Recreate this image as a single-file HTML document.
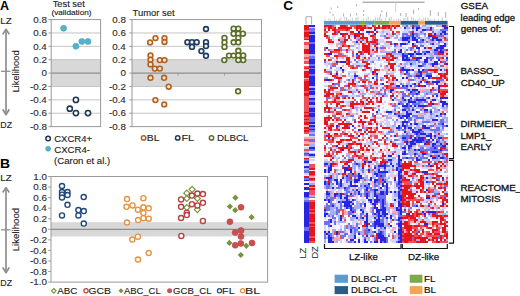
<!DOCTYPE html>
<html><head><meta charset="utf-8"><style>
html,body{margin:0;padding:0;background:#fff;width:520px;height:296px;overflow:hidden}
svg{display:block}
text{font-family:"Liberation Sans", sans-serif}
</style></head><body>
<svg width="520" height="296" viewBox="0 0 520 296" font-family='"Liberation Sans", sans-serif'><text x="0.09" y="10.2" font-size="12.5" textLength="9.05" lengthAdjust="spacingAndGlyphs" font-weight="bold" fill="#000" stroke="#000" stroke-width="0" >A</text>
<text x="-0.11" y="167.5" font-size="12.5" textLength="10.06" lengthAdjust="spacingAndGlyphs" font-weight="bold" fill="#000" stroke="#000" stroke-width="0" >B</text>
<text x="283.26" y="10.4" font-size="12.5" textLength="9.81" lengthAdjust="spacingAndGlyphs" font-weight="bold" fill="#000" stroke="#000" stroke-width="0" >C</text>
<line x1="6.0" y1="29.4" x2="6.0" y2="114.6" stroke="#8e8e8e" stroke-width="1.7"/>
<path d="M2.7 34.4L6.0 29.299999999999997L9.3 34.4" fill="none" stroke="#8e8e8e" stroke-width="1.7" stroke-linejoin="round"/>
<path d="M2.7 109.2L6.0 114.69999999999999L9.3 109.2" fill="none" stroke="#8e8e8e" stroke-width="1.7" stroke-linejoin="round"/>
<line x1="1.0" y1="71.3" x2="10.4" y2="71.3" stroke="#8e8e8e" stroke-width="1.3"/>
<text x="0.22" y="23.5" font-size="9.3" textLength="11.39" lengthAdjust="spacingAndGlyphs" font-weight="normal" fill="#1a1a1a" stroke="#1a1a1a" stroke-width="0.12" >LZ</text>
<text x="0.29" y="128.0" font-size="9.3" textLength="11.80" lengthAdjust="spacingAndGlyphs" font-weight="normal" fill="#1a1a1a" stroke="#1a1a1a" stroke-width="0.12" >DZ</text>
<text x="-21.10" y="0" font-size="9.3" textLength="42.2" lengthAdjust="spacingAndGlyphs" fill="#1a1a1a" stroke="#1a1a1a" stroke-width="0.1" transform="translate(19.2 71.5) rotate(-90)">Likelihood</text>
<line x1="6.0" y1="187.7" x2="6.0" y2="272.6" stroke="#8e8e8e" stroke-width="1.7"/>
<path d="M2.7 192.5L6.0 187.6L9.3 192.5" fill="none" stroke="#8e8e8e" stroke-width="1.7" stroke-linejoin="round"/>
<path d="M2.7 267.4L6.0 272.70000000000005L9.3 267.4" fill="none" stroke="#8e8e8e" stroke-width="1.7" stroke-linejoin="round"/>
<line x1="1.0" y1="229.8" x2="10.4" y2="229.8" stroke="#8e8e8e" stroke-width="1.3"/>
<text x="0.22" y="181.3" font-size="9.3" textLength="11.39" lengthAdjust="spacingAndGlyphs" font-weight="normal" fill="#1a1a1a" stroke="#1a1a1a" stroke-width="0.12" >LZ</text>
<text x="0.29" y="286.4" font-size="9.3" textLength="11.80" lengthAdjust="spacingAndGlyphs" font-weight="normal" fill="#1a1a1a" stroke="#1a1a1a" stroke-width="0.12" >DZ</text>
<text x="-21.70" y="0" font-size="9.3" textLength="43.4" lengthAdjust="spacingAndGlyphs" fill="#1a1a1a" stroke="#1a1a1a" stroke-width="0.1" transform="translate(19.2 229.6) rotate(-90)">Likelihood</text>
<text x="52.67" y="7.1" font-size="9.0" textLength="32.09" lengthAdjust="spacingAndGlyphs" font-weight="normal" fill="#1a1a1a" stroke="#1a1a1a" stroke-width="0.12" >Test set</text>
<text x="51.41" y="15.4" font-size="7.0" textLength="40.09" lengthAdjust="spacingAndGlyphs" font-weight="normal" fill="#1a1a1a" stroke="#1a1a1a" stroke-width="0.12" >(validation)</text>
<text x="132.56" y="16.3" font-size="9.3" textLength="42.02" lengthAdjust="spacingAndGlyphs" font-weight="normal" fill="#1a1a1a" stroke="#1a1a1a" stroke-width="0.12" >Tumor set</text>
<rect x="51.2" y="59.71999999999999" width="49.39999999999999" height="26.759999999999998" fill="#d8d8d8" />
<line x1="51.2" y1="32.959999999999994" x2="100.6" y2="32.959999999999994" stroke="#c4c4c4" stroke-width="1"/>
<line x1="51.2" y1="46.33999999999999" x2="100.6" y2="46.33999999999999" stroke="#c4c4c4" stroke-width="1"/>
<line x1="51.2" y1="59.71999999999999" x2="100.6" y2="59.71999999999999" stroke="#c4c4c4" stroke-width="1"/>
<line x1="51.2" y1="86.47999999999999" x2="100.6" y2="86.47999999999999" stroke="#c4c4c4" stroke-width="1"/>
<line x1="51.2" y1="99.86" x2="100.6" y2="99.86" stroke="#c4c4c4" stroke-width="1"/>
<line x1="51.2" y1="113.24" x2="100.6" y2="113.24" stroke="#c4c4c4" stroke-width="1"/>
<line x1="51.2" y1="73.1" x2="100.6" y2="73.1" stroke="#8e8e8e" stroke-width="1.3"/>
<rect x="51.2" y="19.579999999999984" width="49.39999999999999" height="107.04000000000002" fill="none" stroke="#9a9a9a" stroke-width="1"/>
<line x1="48.5" y1="19.579999999999984" x2="51.2" y2="19.579999999999984" stroke="#9a9a9a" stroke-width="1"/>
<line x1="48.5" y1="32.95999999999999" x2="51.2" y2="32.95999999999999" stroke="#9a9a9a" stroke-width="1"/>
<line x1="48.5" y1="46.33999999999999" x2="51.2" y2="46.33999999999999" stroke="#9a9a9a" stroke-width="1"/>
<line x1="48.5" y1="59.72" x2="51.2" y2="59.72" stroke="#9a9a9a" stroke-width="1"/>
<line x1="48.5" y1="73.1" x2="51.2" y2="73.1" stroke="#9a9a9a" stroke-width="1"/>
<line x1="48.5" y1="86.47999999999999" x2="51.2" y2="86.47999999999999" stroke="#9a9a9a" stroke-width="1"/>
<line x1="48.5" y1="99.86000000000001" x2="51.2" y2="99.86000000000001" stroke="#9a9a9a" stroke-width="1"/>
<line x1="48.5" y1="113.24000000000001" x2="51.2" y2="113.24000000000001" stroke="#9a9a9a" stroke-width="1"/>
<line x1="48.5" y1="126.62" x2="51.2" y2="126.62" stroke="#9a9a9a" stroke-width="1"/>
<rect x="132.0" y="59.71999999999999" width="129.5" height="26.759999999999998" fill="#d8d8d8" />
<line x1="132.0" y1="32.959999999999994" x2="261.5" y2="32.959999999999994" stroke="#c4c4c4" stroke-width="1"/>
<line x1="132.0" y1="46.33999999999999" x2="261.5" y2="46.33999999999999" stroke="#c4c4c4" stroke-width="1"/>
<line x1="132.0" y1="59.71999999999999" x2="261.5" y2="59.71999999999999" stroke="#c4c4c4" stroke-width="1"/>
<line x1="132.0" y1="86.47999999999999" x2="261.5" y2="86.47999999999999" stroke="#c4c4c4" stroke-width="1"/>
<line x1="132.0" y1="99.86" x2="261.5" y2="99.86" stroke="#c4c4c4" stroke-width="1"/>
<line x1="132.0" y1="113.24" x2="261.5" y2="113.24" stroke="#c4c4c4" stroke-width="1"/>
<line x1="132.0" y1="73.1" x2="261.5" y2="73.1" stroke="#8e8e8e" stroke-width="1.3"/>
<rect x="132.0" y="19.579999999999984" width="129.5" height="107.04000000000002" fill="none" stroke="#9a9a9a" stroke-width="1"/>
<line x1="129.3" y1="19.579999999999984" x2="132.0" y2="19.579999999999984" stroke="#9a9a9a" stroke-width="1"/>
<line x1="129.3" y1="32.95999999999999" x2="132.0" y2="32.95999999999999" stroke="#9a9a9a" stroke-width="1"/>
<line x1="129.3" y1="46.33999999999999" x2="132.0" y2="46.33999999999999" stroke="#9a9a9a" stroke-width="1"/>
<line x1="129.3" y1="59.72" x2="132.0" y2="59.72" stroke="#9a9a9a" stroke-width="1"/>
<line x1="129.3" y1="73.1" x2="132.0" y2="73.1" stroke="#9a9a9a" stroke-width="1"/>
<line x1="129.3" y1="86.47999999999999" x2="132.0" y2="86.47999999999999" stroke="#9a9a9a" stroke-width="1"/>
<line x1="129.3" y1="99.86000000000001" x2="132.0" y2="99.86000000000001" stroke="#9a9a9a" stroke-width="1"/>
<line x1="129.3" y1="113.24000000000001" x2="132.0" y2="113.24000000000001" stroke="#9a9a9a" stroke-width="1"/>
<line x1="129.3" y1="126.62" x2="132.0" y2="126.62" stroke="#9a9a9a" stroke-width="1"/>
<text x="33.25" y="22.83" font-size="9.3" textLength="13.64" lengthAdjust="spacingAndGlyphs" font-weight="normal" fill="#2a2a2a" stroke="#2a2a2a" stroke-width="0.12" >0.8</text>
<text x="33.30" y="36.21" font-size="9.3" textLength="13.64" lengthAdjust="spacingAndGlyphs" font-weight="normal" fill="#2a2a2a" stroke="#2a2a2a" stroke-width="0.12" >0.6</text>
<text x="33.16" y="49.59" font-size="9.3" textLength="13.64" lengthAdjust="spacingAndGlyphs" font-weight="normal" fill="#2a2a2a" stroke="#2a2a2a" stroke-width="0.12" >0.4</text>
<text x="33.35" y="62.97" font-size="9.3" textLength="13.64" lengthAdjust="spacingAndGlyphs" font-weight="normal" fill="#2a2a2a" stroke="#2a2a2a" stroke-width="0.12" >0.2</text>
<text x="41.45" y="76.35" font-size="9.3" textLength="5.46" lengthAdjust="spacingAndGlyphs" font-weight="normal" fill="#2a2a2a" stroke="#2a2a2a" stroke-width="0.12" >0</text>
<text x="30.11" y="89.73" font-size="9.3" textLength="16.91" lengthAdjust="spacingAndGlyphs" font-weight="normal" fill="#2a2a2a" stroke="#2a2a2a" stroke-width="0.12" >-0.2</text>
<text x="29.92" y="103.11" font-size="9.3" textLength="16.91" lengthAdjust="spacingAndGlyphs" font-weight="normal" fill="#2a2a2a" stroke="#2a2a2a" stroke-width="0.12" >-0.4</text>
<text x="30.07" y="116.49" font-size="9.3" textLength="16.91" lengthAdjust="spacingAndGlyphs" font-weight="normal" fill="#2a2a2a" stroke="#2a2a2a" stroke-width="0.12" >-0.6</text>
<text x="30.02" y="129.87" font-size="9.3" textLength="16.91" lengthAdjust="spacingAndGlyphs" font-weight="normal" fill="#2a2a2a" stroke="#2a2a2a" stroke-width="0.12" >-0.8</text>
<text x="112.25" y="22.83" font-size="9.3" textLength="13.64" lengthAdjust="spacingAndGlyphs" font-weight="normal" fill="#2a2a2a" stroke="#2a2a2a" stroke-width="0.12" >0.8</text>
<text x="112.30" y="36.21" font-size="9.3" textLength="13.64" lengthAdjust="spacingAndGlyphs" font-weight="normal" fill="#2a2a2a" stroke="#2a2a2a" stroke-width="0.12" >0.6</text>
<text x="112.16" y="49.59" font-size="9.3" textLength="13.64" lengthAdjust="spacingAndGlyphs" font-weight="normal" fill="#2a2a2a" stroke="#2a2a2a" stroke-width="0.12" >0.4</text>
<text x="112.35" y="62.97" font-size="9.3" textLength="13.64" lengthAdjust="spacingAndGlyphs" font-weight="normal" fill="#2a2a2a" stroke="#2a2a2a" stroke-width="0.12" >0.2</text>
<text x="120.45" y="76.35" font-size="9.3" textLength="5.46" lengthAdjust="spacingAndGlyphs" font-weight="normal" fill="#2a2a2a" stroke="#2a2a2a" stroke-width="0.12" >0</text>
<text x="109.11" y="89.73" font-size="9.3" textLength="16.91" lengthAdjust="spacingAndGlyphs" font-weight="normal" fill="#2a2a2a" stroke="#2a2a2a" stroke-width="0.12" >-0.2</text>
<text x="108.92" y="103.11" font-size="9.3" textLength="16.91" lengthAdjust="spacingAndGlyphs" font-weight="normal" fill="#2a2a2a" stroke="#2a2a2a" stroke-width="0.12" >-0.4</text>
<text x="109.07" y="116.49" font-size="9.3" textLength="16.91" lengthAdjust="spacingAndGlyphs" font-weight="normal" fill="#2a2a2a" stroke="#2a2a2a" stroke-width="0.12" >-0.6</text>
<text x="109.02" y="129.87" font-size="9.3" textLength="16.91" lengthAdjust="spacingAndGlyphs" font-weight="normal" fill="#2a2a2a" stroke="#2a2a2a" stroke-width="0.12" >-0.8</text>
<line x1="178" y1="73.1" x2="178" y2="75.6" stroke="#9a9a9a" stroke-width="1"/>
<line x1="224.5" y1="73.1" x2="224.5" y2="75.6" stroke="#9a9a9a" stroke-width="1"/>
<circle cx="63.6" cy="28.3" r="3.0" fill="#52b4cc" stroke="#45a3bb" stroke-width="0.6"/>
<circle cx="81.8" cy="41.5" r="3.0" fill="#52b4cc" stroke="#45a3bb" stroke-width="0.6"/>
<circle cx="88" cy="41.5" r="3.0" fill="#52b4cc" stroke="#45a3bb" stroke-width="0.6"/>
<circle cx="75.9" cy="46.2" r="3.0" fill="#52b4cc" stroke="#45a3bb" stroke-width="0.6"/>
<circle cx="75.9" cy="99.9" r="2.6" fill="#fff" stroke="#1b3553" stroke-width="1.55"/>
<circle cx="69.8" cy="108.7" r="2.6" fill="#fff" stroke="#1b3553" stroke-width="1.55"/>
<circle cx="75.9" cy="113.1" r="2.6" fill="#fff" stroke="#1b3553" stroke-width="1.55"/>
<circle cx="88" cy="113.1" r="2.6" fill="#fff" stroke="#1b3553" stroke-width="1.55"/>
<circle cx="150.1" cy="42.4" r="2.4" fill="#fde9d4" stroke="#b3611e" stroke-width="1.6"/>
<circle cx="155.5" cy="38.1" r="2.4" fill="#fde9d4" stroke="#b3611e" stroke-width="1.6"/>
<circle cx="164.5" cy="38.1" r="2.4" fill="#fde9d4" stroke="#b3611e" stroke-width="1.6"/>
<circle cx="164.5" cy="42" r="2.4" fill="#fde9d4" stroke="#b3611e" stroke-width="1.6"/>
<circle cx="150.5" cy="55.4" r="2.4" fill="#fde9d4" stroke="#b3611e" stroke-width="1.6"/>
<circle cx="150.5" cy="59.7" r="2.4" fill="#fde9d4" stroke="#b3611e" stroke-width="1.6"/>
<circle cx="150.5" cy="64.4" r="2.4" fill="#fde9d4" stroke="#b3611e" stroke-width="1.6"/>
<circle cx="159.8" cy="60.1" r="2.4" fill="#fde9d4" stroke="#b3611e" stroke-width="1.6"/>
<circle cx="164.5" cy="60.1" r="2.4" fill="#fde9d4" stroke="#b3611e" stroke-width="1.6"/>
<circle cx="154.8" cy="68.6" r="2.4" fill="#fde9d4" stroke="#b3611e" stroke-width="1.6"/>
<circle cx="159.8" cy="68.6" r="2.4" fill="#fde9d4" stroke="#b3611e" stroke-width="1.6"/>
<circle cx="150.5" cy="77.8" r="2.4" fill="#fde9d4" stroke="#b3611e" stroke-width="1.6"/>
<circle cx="164.1" cy="77.8" r="2.4" fill="#fde9d4" stroke="#b3611e" stroke-width="1.6"/>
<circle cx="168.7" cy="86.7" r="2.4" fill="#fde9d4" stroke="#b3611e" stroke-width="1.6"/>
<circle cx="155.4" cy="100.1" r="2.4" fill="#fde9d4" stroke="#b3611e" stroke-width="1.6"/>
<circle cx="164.2" cy="104.4" r="2.4" fill="#fde9d4" stroke="#b3611e" stroke-width="1.6"/>
<circle cx="206" cy="29" r="2.4" fill="#eef3fa" stroke="#1f3a5c" stroke-width="1.6"/>
<circle cx="187.4" cy="42.2" r="2.4" fill="#eef3fa" stroke="#1f3a5c" stroke-width="1.6"/>
<circle cx="192" cy="42.2" r="2.4" fill="#eef3fa" stroke="#1f3a5c" stroke-width="1.6"/>
<circle cx="196.7" cy="42.2" r="2.4" fill="#eef3fa" stroke="#1f3a5c" stroke-width="1.6"/>
<circle cx="192" cy="46.9" r="2.4" fill="#eef3fa" stroke="#1f3a5c" stroke-width="1.6"/>
<circle cx="206" cy="42.2" r="2.4" fill="#eef3fa" stroke="#1f3a5c" stroke-width="1.6"/>
<circle cx="206" cy="46.1" r="2.4" fill="#eef3fa" stroke="#1f3a5c" stroke-width="1.6"/>
<circle cx="201.4" cy="51.1" r="2.4" fill="#eef3fa" stroke="#1f3a5c" stroke-width="1.6"/>
<circle cx="206" cy="55.8" r="2.4" fill="#eef3fa" stroke="#1f3a5c" stroke-width="1.6"/>
<circle cx="233.6" cy="28.6" r="2.4" fill="#f6f8e6" stroke="#5a6e2c" stroke-width="1.6"/>
<circle cx="238.3" cy="28.6" r="2.4" fill="#f6f8e6" stroke="#5a6e2c" stroke-width="1.6"/>
<circle cx="233.6" cy="33.7" r="2.4" fill="#f6f8e6" stroke="#5a6e2c" stroke-width="1.6"/>
<circle cx="238.3" cy="33.7" r="2.4" fill="#f6f8e6" stroke="#5a6e2c" stroke-width="1.6"/>
<circle cx="242.9" cy="33.7" r="2.4" fill="#f6f8e6" stroke="#5a6e2c" stroke-width="1.6"/>
<circle cx="238.3" cy="37.9" r="2.4" fill="#f6f8e6" stroke="#5a6e2c" stroke-width="1.6"/>
<circle cx="224.5" cy="37.9" r="2.4" fill="#f6f8e6" stroke="#5a6e2c" stroke-width="1.6"/>
<circle cx="224.5" cy="42.4" r="2.4" fill="#f6f8e6" stroke="#5a6e2c" stroke-width="1.6"/>
<circle cx="233.6" cy="42.3" r="2.4" fill="#f6f8e6" stroke="#5a6e2c" stroke-width="1.6"/>
<circle cx="238.3" cy="42.3" r="2.4" fill="#f6f8e6" stroke="#5a6e2c" stroke-width="1.6"/>
<circle cx="224.5" cy="46.9" r="2.4" fill="#f6f8e6" stroke="#5a6e2c" stroke-width="1.6"/>
<circle cx="238.3" cy="50.8" r="2.4" fill="#f6f8e6" stroke="#5a6e2c" stroke-width="1.6"/>
<circle cx="229" cy="55.6" r="2.4" fill="#f6f8e6" stroke="#5a6e2c" stroke-width="1.6"/>
<circle cx="233.6" cy="55.6" r="2.4" fill="#f6f8e6" stroke="#5a6e2c" stroke-width="1.6"/>
<circle cx="238.3" cy="55.4" r="2.4" fill="#f6f8e6" stroke="#5a6e2c" stroke-width="1.6"/>
<circle cx="243.2" cy="55.4" r="2.4" fill="#f6f8e6" stroke="#5a6e2c" stroke-width="1.6"/>
<circle cx="224.3" cy="60.1" r="2.4" fill="#f6f8e6" stroke="#5a6e2c" stroke-width="1.6"/>
<circle cx="238.3" cy="60.1" r="2.4" fill="#f6f8e6" stroke="#5a6e2c" stroke-width="1.6"/>
<circle cx="243.2" cy="60.1" r="2.4" fill="#f6f8e6" stroke="#5a6e2c" stroke-width="1.6"/>
<circle cx="238.1" cy="91.3" r="2.4" fill="#f6f8e6" stroke="#5a6e2c" stroke-width="1.6"/>
<circle cx="48.1" cy="138.5" r="2.25" fill="#fff" stroke="#1b3553" stroke-width="1.5"/>
<text x="54.22" y="141.6" font-size="9.3" textLength="37.84" lengthAdjust="spacingAndGlyphs" font-weight="normal" fill="#1a1a1a" stroke="#1a1a1a" stroke-width="0.12" >CXCR4+</text>
<circle cx="48.1" cy="148.8" r="2.8" fill="#56b3c6"/>
<text x="54.22" y="152.7" font-size="9.3" textLength="35.79" lengthAdjust="spacingAndGlyphs" font-weight="normal" fill="#1a1a1a" stroke="#1a1a1a" stroke-width="0.12" >CXCR4-</text>
<text x="54.12" y="164.1" font-size="9.3" textLength="56.06" lengthAdjust="spacingAndGlyphs" font-weight="normal" fill="#1a1a1a" stroke="#1a1a1a" stroke-width="0.12" >(Caron et al.)</text>
<circle cx="143.6" cy="137.9" r="2.2" fill="#fff" stroke="#b3611e" stroke-width="1.5"/>
<text x="146.87" y="141.2" font-size="9.3" textLength="12.67" lengthAdjust="spacingAndGlyphs" font-weight="normal" fill="#1a1a1a" stroke="#1a1a1a" stroke-width="0.12" >BL</text>
<circle cx="177.7" cy="137.9" r="2.2" fill="#fff" stroke="#1f3a5c" stroke-width="1.5"/>
<text x="181.42" y="141.2" font-size="9.3" textLength="12.83" lengthAdjust="spacingAndGlyphs" font-weight="normal" fill="#1a1a1a" stroke="#1a1a1a" stroke-width="0.12" >FL</text>
<circle cx="211.5" cy="137.9" r="2.2" fill="#fff" stroke="#5a6e2c" stroke-width="1.5"/>
<text x="216.92" y="141.2" font-size="9.3" textLength="31.56" lengthAdjust="spacingAndGlyphs" font-weight="normal" fill="#1a1a1a" stroke="#1a1a1a" stroke-width="0.12" >DLBCL</text>
<rect x="51.0" y="222.17200000000003" width="216.60000000000002" height="14.255999999999972" fill="#d8d8d8" />
<line x1="51.0" y1="229.3" x2="267.6" y2="229.3" stroke="#8e8e8e" stroke-width="1.3"/>
<rect x="51.0" y="176.5" width="216.60000000000002" height="105.60000000000002" fill="none" stroke="#9a9a9a" stroke-width="1"/>
<line x1="48.2" y1="176.5" x2="51.0" y2="176.5" stroke="#9a9a9a" stroke-width="1"/>
<line x1="48.2" y1="187.06" x2="51.0" y2="187.06" stroke="#9a9a9a" stroke-width="1"/>
<line x1="48.2" y1="197.62" x2="51.0" y2="197.62" stroke="#9a9a9a" stroke-width="1"/>
<line x1="48.2" y1="208.18" x2="51.0" y2="208.18" stroke="#9a9a9a" stroke-width="1"/>
<line x1="48.2" y1="218.74" x2="51.0" y2="218.74" stroke="#9a9a9a" stroke-width="1"/>
<line x1="48.2" y1="229.3" x2="51.0" y2="229.3" stroke="#9a9a9a" stroke-width="1"/>
<line x1="48.2" y1="239.86" x2="51.0" y2="239.86" stroke="#9a9a9a" stroke-width="1"/>
<line x1="48.2" y1="250.42000000000002" x2="51.0" y2="250.42000000000002" stroke="#9a9a9a" stroke-width="1"/>
<line x1="48.2" y1="260.98" x2="51.0" y2="260.98" stroke="#9a9a9a" stroke-width="1"/>
<line x1="48.2" y1="271.54" x2="51.0" y2="271.54" stroke="#9a9a9a" stroke-width="1"/>
<line x1="48.2" y1="282.1" x2="51.0" y2="282.1" stroke="#9a9a9a" stroke-width="1"/>
<text x="33.25" y="179.75" font-size="9.3" textLength="13.64" lengthAdjust="spacingAndGlyphs" font-weight="normal" fill="#2a2a2a" stroke="#2a2a2a" stroke-width="0.12" >1.0</text>
<text x="33.25" y="190.31" font-size="9.3" textLength="13.64" lengthAdjust="spacingAndGlyphs" font-weight="normal" fill="#2a2a2a" stroke="#2a2a2a" stroke-width="0.12" >0.8</text>
<text x="33.30" y="200.87" font-size="9.3" textLength="13.64" lengthAdjust="spacingAndGlyphs" font-weight="normal" fill="#2a2a2a" stroke="#2a2a2a" stroke-width="0.12" >0.6</text>
<text x="33.16" y="211.43" font-size="9.3" textLength="13.64" lengthAdjust="spacingAndGlyphs" font-weight="normal" fill="#2a2a2a" stroke="#2a2a2a" stroke-width="0.12" >0.4</text>
<text x="33.35" y="221.99" font-size="9.3" textLength="13.64" lengthAdjust="spacingAndGlyphs" font-weight="normal" fill="#2a2a2a" stroke="#2a2a2a" stroke-width="0.12" >0.2</text>
<text x="41.45" y="232.55" font-size="9.3" textLength="5.46" lengthAdjust="spacingAndGlyphs" font-weight="normal" fill="#2a2a2a" stroke="#2a2a2a" stroke-width="0.12" >0</text>
<text x="30.11" y="243.11" font-size="9.3" textLength="16.91" lengthAdjust="spacingAndGlyphs" font-weight="normal" fill="#2a2a2a" stroke="#2a2a2a" stroke-width="0.12" >-0.2</text>
<text x="29.92" y="253.67" font-size="9.3" textLength="16.91" lengthAdjust="spacingAndGlyphs" font-weight="normal" fill="#2a2a2a" stroke="#2a2a2a" stroke-width="0.12" >-0.4</text>
<text x="30.07" y="264.23" font-size="9.3" textLength="16.91" lengthAdjust="spacingAndGlyphs" font-weight="normal" fill="#2a2a2a" stroke="#2a2a2a" stroke-width="0.12" >-0.6</text>
<text x="30.02" y="274.79" font-size="9.3" textLength="16.91" lengthAdjust="spacingAndGlyphs" font-weight="normal" fill="#2a2a2a" stroke="#2a2a2a" stroke-width="0.12" >-0.8</text>
<text x="30.02" y="285.35" font-size="9.3" textLength="16.91" lengthAdjust="spacingAndGlyphs" font-weight="normal" fill="#2a2a2a" stroke="#2a2a2a" stroke-width="0.12" >-1.0</text>
<circle cx="62" cy="186" r="2.55" fill="#fff" stroke="#1f497d" stroke-width="1.4"/>
<circle cx="62" cy="192" r="2.55" fill="#fff" stroke="#1f497d" stroke-width="1.4"/>
<circle cx="62" cy="194.7" r="2.55" fill="#fff" stroke="#1f497d" stroke-width="1.4"/>
<circle cx="62" cy="197.5" r="2.55" fill="#fff" stroke="#1f497d" stroke-width="1.4"/>
<circle cx="67.5" cy="192" r="2.55" fill="#fff" stroke="#1f497d" stroke-width="1.4"/>
<circle cx="67.5" cy="195" r="2.55" fill="#fff" stroke="#1f497d" stroke-width="1.4"/>
<circle cx="83.7" cy="197" r="2.55" fill="#fff" stroke="#1f497d" stroke-width="1.4"/>
<circle cx="67.5" cy="204.8" r="2.55" fill="#fff" stroke="#1f497d" stroke-width="1.4"/>
<circle cx="62" cy="215.4" r="2.55" fill="#fff" stroke="#1f497d" stroke-width="1.4"/>
<circle cx="78.4" cy="210.1" r="2.55" fill="#fff" stroke="#1f497d" stroke-width="1.4"/>
<circle cx="78.4" cy="215.4" r="2.55" fill="#fff" stroke="#1f497d" stroke-width="1.4"/>
<circle cx="83.8" cy="211.1" r="2.55" fill="#fff" stroke="#1f497d" stroke-width="1.4"/>
<circle cx="83.8" cy="223.6" r="2.55" fill="#fff" stroke="#1f497d" stroke-width="1.4"/>
<circle cx="127" cy="199.1" r="2.55" fill="#fff" stroke="#e59445" stroke-width="1.4"/>
<circle cx="143.4" cy="198.2" r="2.55" fill="#fff" stroke="#e59445" stroke-width="1.4"/>
<circle cx="126.5" cy="206.8" r="2.55" fill="#fff" stroke="#e59445" stroke-width="1.4"/>
<circle cx="132.5" cy="205.4" r="2.55" fill="#fff" stroke="#e59445" stroke-width="1.4"/>
<circle cx="137.9" cy="209.7" r="2.55" fill="#fff" stroke="#e59445" stroke-width="1.4"/>
<circle cx="143.4" cy="207.3" r="2.55" fill="#fff" stroke="#e59445" stroke-width="1.4"/>
<circle cx="148.7" cy="208.3" r="2.55" fill="#fff" stroke="#e59445" stroke-width="1.4"/>
<circle cx="143.4" cy="213" r="2.55" fill="#fff" stroke="#e59445" stroke-width="1.4"/>
<circle cx="138.1" cy="220.1" r="2.55" fill="#fff" stroke="#e59445" stroke-width="1.4"/>
<circle cx="143.4" cy="218.2" r="2.55" fill="#fff" stroke="#e59445" stroke-width="1.4"/>
<circle cx="148.7" cy="218.7" r="2.55" fill="#fff" stroke="#e59445" stroke-width="1.4"/>
<circle cx="127" cy="222.5" r="2.55" fill="#fff" stroke="#e59445" stroke-width="1.4"/>
<circle cx="132.3" cy="239.5" r="2.55" fill="#fff" stroke="#e59445" stroke-width="1.4"/>
<circle cx="137.9" cy="236.7" r="2.55" fill="#fff" stroke="#e59445" stroke-width="1.4"/>
<circle cx="148.7" cy="253" r="2.55" fill="#fff" stroke="#e59445" stroke-width="1.4"/>
<circle cx="138" cy="259.5" r="2.55" fill="#fff" stroke="#e59445" stroke-width="1.4"/>
<path d="M186.8 190.2L189.8 193.2L186.8 196.2L183.8 193.2Z" fill="#fff" stroke="#77933c" stroke-width="1.2"/>
<path d="M192.1 186.3L195.1 189.3L192.1 192.3L189.1 189.3Z" fill="#fff" stroke="#77933c" stroke-width="1.2"/>
<path d="M186.8 195.5L189.8 198.5L186.8 201.5L183.8 198.5Z" fill="#fff" stroke="#77933c" stroke-width="1.2"/>
<path d="M197.4 195.5L200.4 198.5L197.4 201.5L194.4 198.5Z" fill="#fff" stroke="#77933c" stroke-width="1.2"/>
<path d="M186.8 204.6L189.8 207.6L186.8 210.6L183.8 207.6Z" fill="#fff" stroke="#77933c" stroke-width="1.2"/>
<path d="M197.4 206.6L200.4 209.6L197.4 212.6L194.4 209.6Z" fill="#fff" stroke="#77933c" stroke-width="1.2"/>
<circle cx="181.1" cy="199.4" r="2.55" fill="#fff" stroke="#b8403f" stroke-width="1.4"/>
<circle cx="181.1" cy="206.8" r="2.55" fill="#fff" stroke="#b8403f" stroke-width="1.4"/>
<circle cx="191.9" cy="195.6" r="2.55" fill="#fff" stroke="#b8403f" stroke-width="1.4"/>
<circle cx="197.4" cy="193.5" r="2.55" fill="#fff" stroke="#b8403f" stroke-width="1.4"/>
<circle cx="202.9" cy="194.1" r="2.55" fill="#fff" stroke="#b8403f" stroke-width="1.4"/>
<circle cx="191.9" cy="204.2" r="2.55" fill="#fff" stroke="#b8403f" stroke-width="1.4"/>
<circle cx="197.4" cy="205.4" r="2.55" fill="#fff" stroke="#b8403f" stroke-width="1.4"/>
<circle cx="202.9" cy="202.8" r="2.55" fill="#fff" stroke="#b8403f" stroke-width="1.4"/>
<circle cx="186.8" cy="212.7" r="2.55" fill="#fff" stroke="#b8403f" stroke-width="1.4"/>
<circle cx="186.8" cy="215.1" r="2.55" fill="#fff" stroke="#b8403f" stroke-width="1.4"/>
<circle cx="181.1" cy="218" r="2.55" fill="#fff" stroke="#b8403f" stroke-width="1.4"/>
<circle cx="202.9" cy="220.9" r="2.55" fill="#fff" stroke="#b8403f" stroke-width="1.4"/>
<circle cx="181.3" cy="235.9" r="2.55" fill="#fff" stroke="#b8403f" stroke-width="1.4"/>
<path d="M235.4 194.6L238.5 197.7L235.4 200.79999999999998L232.3 197.7Z" fill="#77933c"/>
<path d="M229.9 203.4L233.0 206.5L229.9 209.6L226.8 206.5Z" fill="#77933c"/>
<path d="M235.2 207.1L238.29999999999998 210.2L235.2 213.29999999999998L232.1 210.2Z" fill="#77933c"/>
<path d="M251.6 214.1L254.7 217.2L251.6 220.29999999999998L248.5 217.2Z" fill="#77933c"/>
<path d="M229.4 239.8L232.5 242.9L229.4 246.0L226.3 242.9Z" fill="#77933c"/>
<path d="M246.3 242.70000000000002L249.4 245.8L246.3 248.9L243.20000000000002 245.8Z" fill="#77933c"/>
<path d="M240.8 251.9L243.9 255L240.8 258.1L237.70000000000002 255Z" fill="#77933c"/>
<circle cx="241" cy="207.3" r="3.0" fill="#c9504e" stroke="#b84543" stroke-width="0.6"/>
<circle cx="229.9" cy="221.7" r="3.0" fill="#c9504e" stroke="#b84543" stroke-width="0.6"/>
<circle cx="235.2" cy="232.5" r="3.0" fill="#c9504e" stroke="#b84543" stroke-width="0.6"/>
<circle cx="241" cy="230.5" r="3.0" fill="#c9504e" stroke="#b84543" stroke-width="0.6"/>
<circle cx="241" cy="236.5" r="3.0" fill="#c9504e" stroke="#b84543" stroke-width="0.6"/>
<circle cx="235.2" cy="245.3" r="3.0" fill="#c9504e" stroke="#b84543" stroke-width="0.6"/>
<circle cx="240.8" cy="243.4" r="3.0" fill="#c9504e" stroke="#b84543" stroke-width="0.6"/>
<circle cx="252" cy="243" r="3.0" fill="#c9504e" stroke="#b84543" stroke-width="0.6"/>
<path d="M53.8 288.5L56.099999999999994 290.8L53.8 293.1L51.5 290.8Z" fill="#fff" stroke="#77933c" stroke-width="1.1"/>
<text x="57.25" y="294.2" font-size="9.3" textLength="20.15" lengthAdjust="spacingAndGlyphs" font-weight="normal" fill="#1a1a1a" stroke="#1a1a1a" stroke-width="0.12" >ABC</text>
<circle cx="86.0" cy="290.8" r="2.1" fill="#fff" stroke="#b8403f" stroke-width="1.2"/>
<text x="88.48" y="294.2" font-size="9.3" textLength="22.46" lengthAdjust="spacingAndGlyphs" font-weight="normal" fill="#1a1a1a" stroke="#1a1a1a" stroke-width="0.12" >GCB</text>
<path d="M121.0 288.3L123.5 290.8L121.0 293.3L118.5 290.8Z" fill="#77933c"/>
<text x="123.95" y="294.2" font-size="9.3" textLength="36.74" lengthAdjust="spacingAndGlyphs" font-weight="normal" fill="#1a1a1a" stroke="#1a1a1a" stroke-width="0.12" >ABC_CL</text>
<circle cx="169.6" cy="290.8" r="2.5" fill="#c9504e"/>
<text x="173.02" y="294.2" font-size="9.3" textLength="38.48" lengthAdjust="spacingAndGlyphs" font-weight="normal" fill="#1a1a1a" stroke="#1a1a1a" stroke-width="0.12" >GCB_CL</text>
<circle cx="219.5" cy="290.8" r="2.1" fill="#fff" stroke="#1f497d" stroke-width="1.2"/>
<text x="222.14" y="294.2" font-size="9.3" textLength="12.50" lengthAdjust="spacingAndGlyphs" font-weight="normal" fill="#1a1a1a" stroke="#1a1a1a" stroke-width="0.12" >FL</text>
<circle cx="242.6" cy="290.8" r="2.1" fill="#fff" stroke="#e59445" stroke-width="1.2"/>
<text x="245.01" y="294.2" font-size="9.3" textLength="15.10" lengthAdjust="spacingAndGlyphs" font-weight="normal" fill="#1a1a1a" stroke="#1a1a1a" stroke-width="0.12" >BL</text>
<defs><filter id="bl" x="-5%" y="-5%" width="110%" height="110%"><feGaussianBlur stdDeviation="0.55"/></filter></defs>
<g shape-rendering="crispEdges" filter="url(#bl)">
<path fill="#e2141a" d="M324.00 25.00h1.99v2.00h-1.99zM325.99 25.00h1.99v2.00h-1.99zM327.99 25.00h1.99v2.00h-1.99zM329.98 25.00h1.99v2.00h-1.99zM339.95 25.00h1.99v2.00h-1.99zM341.94 25.00h1.99v2.00h-1.99zM343.94 25.00h1.99v2.00h-1.99zM355.90 25.00h1.99v2.00h-1.99zM357.89 25.00h1.99v2.00h-1.99zM359.88 25.00h1.99v2.00h-1.99zM363.87 25.00h1.99v2.00h-1.99zM371.85 25.00h1.99v2.00h-1.99zM377.83 25.00h1.99v2.00h-1.99zM381.81 25.00h1.99v2.00h-1.99zM383.81 25.00h1.99v2.00h-1.99zM385.80 25.00h1.99v2.00h-1.99zM387.79 25.00h1.99v2.00h-1.99zM391.78 25.00h1.99v2.00h-1.99zM395.77 25.00h1.99v2.00h-1.99zM397.76 25.00h1.99v2.00h-1.99zM411.72 25.00h1.99v2.00h-1.99zM327.99 27.00h1.99v2.00h-1.99zM329.98 27.00h1.99v2.00h-1.99zM333.97 27.00h1.99v2.00h-1.99zM337.95 27.00h1.99v2.00h-1.99zM339.95 27.00h1.99v2.00h-1.99zM341.94 27.00h1.99v2.00h-1.99zM343.94 27.00h1.99v2.00h-1.99zM345.93 27.00h1.99v2.00h-1.99zM347.92 27.00h1.99v2.00h-1.99zM349.92 27.00h1.99v2.00h-1.99zM355.90 27.00h1.99v2.00h-1.99zM357.89 27.00h1.99v2.00h-1.99zM359.88 27.00h1.99v2.00h-1.99zM361.88 27.00h1.99v2.00h-1.99zM363.87 27.00h1.99v2.00h-1.99zM367.86 27.00h1.99v2.00h-1.99zM369.85 27.00h1.99v2.00h-1.99zM373.84 27.00h1.99v2.00h-1.99zM375.83 27.00h1.99v2.00h-1.99zM377.83 27.00h1.99v2.00h-1.99zM381.81 27.00h1.99v2.00h-1.99zM383.81 27.00h1.99v2.00h-1.99zM387.79 27.00h1.99v2.00h-1.99zM393.77 27.00h1.99v2.00h-1.99zM324.00 29.01h1.99v2.00h-1.99zM327.99 29.01h1.99v2.00h-1.99zM331.97 29.01h1.99v2.00h-1.99zM333.97 29.01h1.99v2.00h-1.99zM345.93 29.01h1.99v2.00h-1.99zM355.90 29.01h1.99v2.00h-1.99zM359.88 29.01h1.99v2.00h-1.99zM361.88 29.01h1.99v2.00h-1.99zM429.66 29.01h1.99v2.00h-1.99zM333.97 31.01h1.99v2.00h-1.99zM337.95 31.01h1.99v2.00h-1.99zM349.92 31.01h1.99v2.00h-1.99zM351.91 31.01h1.99v2.00h-1.99zM369.85 31.01h1.99v2.00h-1.99zM371.85 31.01h1.99v2.00h-1.99zM375.83 31.01h1.99v2.00h-1.99zM391.78 31.01h1.99v2.00h-1.99zM411.72 31.01h1.99v2.00h-1.99zM324.00 33.01h1.99v2.00h-1.99zM331.97 33.01h1.99v2.00h-1.99zM333.97 33.01h1.99v2.00h-1.99zM341.94 33.01h1.99v2.00h-1.99zM343.94 33.01h1.99v2.00h-1.99zM345.93 33.01h1.99v2.00h-1.99zM353.90 33.01h1.99v2.00h-1.99zM355.90 33.01h1.99v2.00h-1.99zM357.89 33.01h1.99v2.00h-1.99zM359.88 33.01h1.99v2.00h-1.99zM361.88 33.01h1.99v2.00h-1.99zM391.78 33.01h1.99v2.00h-1.99zM427.66 33.01h1.99v2.00h-1.99zM429.66 33.01h1.99v2.00h-1.99zM324.00 35.02h1.99v2.00h-1.99zM325.99 35.02h1.99v2.00h-1.99zM341.94 35.02h1.99v2.00h-1.99zM347.92 35.02h1.99v2.00h-1.99zM355.90 35.02h1.99v2.00h-1.99zM357.89 35.02h1.99v2.00h-1.99zM361.88 35.02h1.99v2.00h-1.99zM369.85 35.02h1.99v2.00h-1.99zM371.85 35.02h1.99v2.00h-1.99zM431.65 35.02h1.99v2.00h-1.99zM433.65 35.02h1.99v2.00h-1.99zM347.92 37.02h1.99v2.00h-1.99zM353.90 37.02h1.99v2.00h-1.99zM359.88 37.02h1.99v2.00h-1.99zM361.88 37.02h1.99v2.00h-1.99zM363.87 37.02h1.99v2.00h-1.99zM365.86 37.02h1.99v2.00h-1.99zM385.80 37.02h1.99v2.00h-1.99zM443.61 37.02h1.99v2.00h-1.99zM327.99 39.03h1.99v2.00h-1.99zM337.95 39.03h1.99v2.00h-1.99zM343.94 39.03h1.99v2.00h-1.99zM345.93 39.03h1.99v2.00h-1.99zM365.86 39.03h1.99v2.00h-1.99zM373.84 39.03h1.99v2.00h-1.99zM375.83 39.03h1.99v2.00h-1.99zM327.99 41.03h1.99v2.00h-1.99zM329.98 41.03h1.99v2.00h-1.99zM331.97 41.03h1.99v2.00h-1.99zM343.94 41.03h1.99v2.00h-1.99zM359.88 41.03h1.99v2.00h-1.99zM365.86 41.03h1.99v2.00h-1.99zM369.85 41.03h1.99v2.00h-1.99zM371.85 41.03h1.99v2.00h-1.99zM373.84 41.03h1.99v2.00h-1.99zM361.88 43.03h1.99v2.00h-1.99zM367.86 43.03h1.99v2.00h-1.99zM375.83 43.03h1.99v2.00h-1.99zM389.79 43.03h1.99v2.00h-1.99zM395.77 43.03h1.99v2.00h-1.99zM341.94 45.04h1.99v2.00h-1.99zM347.92 45.04h1.99v2.00h-1.99zM361.88 45.04h1.99v2.00h-1.99zM363.87 45.04h1.99v2.00h-1.99zM365.86 45.04h1.99v2.00h-1.99zM367.86 45.04h1.99v2.00h-1.99zM373.84 45.04h1.99v2.00h-1.99zM411.72 45.04h1.99v2.00h-1.99zM413.71 45.04h1.99v2.00h-1.99zM361.88 47.04h1.99v2.00h-1.99zM363.87 47.04h1.99v2.00h-1.99zM365.86 47.04h1.99v2.00h-1.99zM367.86 47.04h1.99v2.00h-1.99zM427.66 47.04h1.99v2.00h-1.99zM429.66 47.04h1.99v2.00h-1.99zM333.97 49.04h1.99v2.00h-1.99zM335.96 49.04h1.99v2.00h-1.99zM337.95 49.04h1.99v2.00h-1.99zM345.93 49.04h1.99v2.00h-1.99zM361.88 49.04h1.99v2.00h-1.99zM363.87 49.04h1.99v2.00h-1.99zM365.86 49.04h1.99v2.00h-1.99zM367.86 49.04h1.99v2.00h-1.99zM371.85 49.04h1.99v2.00h-1.99zM375.83 49.04h1.99v2.00h-1.99zM445.61 49.04h1.99v2.00h-1.99zM329.98 51.05h1.99v2.00h-1.99zM357.89 51.05h1.99v2.00h-1.99zM359.88 51.05h1.99v2.00h-1.99zM363.87 51.05h1.99v2.00h-1.99zM365.86 51.05h1.99v2.00h-1.99zM367.86 51.05h1.99v2.00h-1.99zM437.63 51.05h1.99v2.00h-1.99zM324.00 53.05h1.99v2.00h-1.99zM325.99 53.05h1.99v2.00h-1.99zM359.88 53.05h1.99v2.00h-1.99zM367.86 53.05h1.99v2.00h-1.99zM385.80 53.05h1.99v2.00h-1.99zM387.79 53.05h1.99v2.00h-1.99zM389.79 53.05h1.99v2.00h-1.99zM437.63 53.05h1.99v2.00h-1.99zM439.63 53.05h1.99v2.00h-1.99zM441.62 53.05h1.99v2.00h-1.99zM445.61 53.05h1.99v2.00h-1.99zM333.97 55.06h1.99v2.00h-1.99zM335.96 55.06h1.99v2.00h-1.99zM357.89 55.06h1.99v2.00h-1.99zM389.79 55.06h1.99v2.00h-1.99zM391.78 55.06h1.99v2.00h-1.99zM345.93 57.06h1.99v2.00h-1.99zM347.92 57.06h1.99v2.00h-1.99zM355.90 57.06h1.99v2.00h-1.99zM357.89 57.06h1.99v2.00h-1.99zM363.87 57.06h1.99v2.00h-1.99zM381.81 57.06h1.99v2.00h-1.99zM383.81 57.06h1.99v2.00h-1.99zM391.78 57.06h1.99v2.00h-1.99zM393.77 57.06h1.99v2.00h-1.99zM411.72 57.06h1.99v2.00h-1.99zM413.71 57.06h1.99v2.00h-1.99zM441.62 57.06h1.99v2.00h-1.99zM324.00 59.06h1.99v2.00h-1.99zM327.99 59.06h1.99v2.00h-1.99zM345.93 59.06h1.99v2.00h-1.99zM347.92 59.06h1.99v2.00h-1.99zM385.80 59.06h1.99v2.00h-1.99zM389.79 59.06h1.99v2.00h-1.99zM391.78 59.06h1.99v2.00h-1.99zM347.92 61.07h1.99v2.00h-1.99zM361.88 61.07h1.99v2.00h-1.99zM363.87 61.07h1.99v2.00h-1.99zM439.63 61.07h1.99v2.00h-1.99zM345.93 63.07h1.99v2.00h-1.99zM347.92 63.07h1.99v2.00h-1.99zM365.86 63.07h1.99v2.00h-1.99zM367.86 63.07h1.99v2.00h-1.99zM387.79 63.07h1.99v2.00h-1.99zM389.79 63.07h1.99v2.00h-1.99zM391.78 63.07h1.99v2.00h-1.99zM393.77 63.07h1.99v2.00h-1.99zM443.61 63.07h1.99v2.00h-1.99zM363.87 65.07h1.99v2.00h-1.99zM365.86 65.07h1.99v2.00h-1.99zM389.79 65.07h1.99v2.00h-1.99zM391.78 65.07h1.99v2.00h-1.99zM351.91 67.08h1.99v2.00h-1.99zM365.86 67.08h1.99v2.00h-1.99zM367.86 67.08h1.99v2.00h-1.99zM389.79 67.08h1.99v2.00h-1.99zM391.78 67.08h1.99v2.00h-1.99zM324.00 69.08h1.99v2.00h-1.99zM361.88 69.08h1.99v2.00h-1.99zM373.84 69.08h1.99v2.00h-1.99zM375.83 69.08h1.99v2.00h-1.99zM391.78 69.08h1.99v2.00h-1.99zM399.75 69.08h1.99v2.00h-1.99zM427.66 69.08h1.99v2.00h-1.99zM429.66 69.08h1.99v2.00h-1.99zM431.65 69.08h1.99v2.00h-1.99zM433.65 69.08h1.99v2.00h-1.99zM435.64 69.08h1.99v2.00h-1.99zM445.61 69.08h1.99v2.00h-1.99zM373.84 71.08h1.99v2.00h-1.99zM433.65 71.08h1.99v2.00h-1.99zM445.61 71.08h1.99v2.00h-1.99zM329.98 73.09h1.99v2.00h-1.99zM371.85 73.09h1.99v2.00h-1.99zM403.74 73.09h1.99v2.00h-1.99zM437.63 73.09h1.99v2.00h-1.99zM439.63 73.09h1.99v2.00h-1.99zM443.61 73.09h1.99v2.00h-1.99zM445.61 73.09h1.99v2.00h-1.99zM331.97 75.09h1.99v2.00h-1.99zM333.97 75.09h1.99v2.00h-1.99zM383.81 75.09h1.99v2.00h-1.99zM385.80 75.09h1.99v2.00h-1.99zM439.63 75.09h1.99v2.00h-1.99zM441.62 75.09h1.99v2.00h-1.99zM443.61 75.09h1.99v2.00h-1.99zM335.96 77.10h1.99v2.00h-1.99zM337.95 77.10h1.99v2.00h-1.99zM339.95 77.10h1.99v2.00h-1.99zM385.80 77.10h1.99v2.00h-1.99zM391.78 77.10h1.99v2.00h-1.99zM393.77 77.10h1.99v2.00h-1.99zM431.65 77.10h1.99v2.00h-1.99zM433.65 77.10h1.99v2.00h-1.99zM435.64 77.10h1.99v2.00h-1.99zM437.63 77.10h1.99v2.00h-1.99zM439.63 77.10h1.99v2.00h-1.99zM443.61 77.10h1.99v2.00h-1.99zM324.00 79.10h1.99v2.00h-1.99zM329.98 79.10h1.99v2.00h-1.99zM351.91 79.10h1.99v2.00h-1.99zM375.83 79.10h1.99v2.00h-1.99zM391.78 79.10h1.99v2.00h-1.99zM421.68 79.10h1.99v2.00h-1.99zM445.61 79.10h1.99v2.00h-1.99zM337.95 81.10h1.99v2.00h-1.99zM351.91 81.10h1.99v2.00h-1.99zM361.88 81.10h1.99v2.00h-1.99zM363.87 81.10h1.99v2.00h-1.99zM373.84 81.10h1.99v2.00h-1.99zM385.80 81.10h1.99v2.00h-1.99zM427.66 81.10h1.99v2.00h-1.99zM331.97 83.11h1.99v2.00h-1.99zM347.92 83.11h1.99v2.00h-1.99zM349.92 83.11h1.99v2.00h-1.99zM351.91 83.11h1.99v2.00h-1.99zM353.90 83.11h1.99v2.00h-1.99zM373.84 83.11h1.99v2.00h-1.99zM375.83 83.11h1.99v2.00h-1.99zM389.79 83.11h1.99v2.00h-1.99zM391.78 83.11h1.99v2.00h-1.99zM417.70 83.11h1.99v2.00h-1.99zM443.61 83.11h1.99v2.00h-1.99zM347.92 85.11h1.99v2.00h-1.99zM361.88 85.11h1.99v2.00h-1.99zM385.80 85.11h1.99v2.00h-1.99zM419.69 85.11h1.99v2.00h-1.99zM421.68 85.11h1.99v2.00h-1.99zM439.63 85.11h1.99v2.00h-1.99zM441.62 85.11h1.99v2.00h-1.99zM443.61 85.11h1.99v2.00h-1.99zM445.61 85.11h1.99v2.00h-1.99zM329.98 87.11h1.99v2.00h-1.99zM331.97 87.11h1.99v2.00h-1.99zM333.97 87.11h1.99v2.00h-1.99zM335.96 87.11h1.99v2.00h-1.99zM385.80 87.11h1.99v2.00h-1.99zM431.65 87.11h1.99v2.00h-1.99zM324.00 89.12h1.99v2.00h-1.99zM327.99 89.12h1.99v2.00h-1.99zM365.86 89.12h1.99v2.00h-1.99zM429.66 89.12h1.99v2.00h-1.99zM437.63 89.12h1.99v2.00h-1.99zM324.00 91.12h1.99v2.00h-1.99zM327.99 91.12h1.99v2.00h-1.99zM347.92 91.12h1.99v2.00h-1.99zM349.92 91.12h1.99v2.00h-1.99zM357.89 91.12h1.99v2.00h-1.99zM441.62 91.12h1.99v2.00h-1.99zM443.61 91.12h1.99v2.00h-1.99zM445.61 91.12h1.99v2.00h-1.99zM325.99 93.12h1.99v2.00h-1.99zM327.99 93.12h1.99v2.00h-1.99zM329.98 93.12h1.99v2.00h-1.99zM331.97 93.12h1.99v2.00h-1.99zM339.95 93.12h1.99v2.00h-1.99zM439.63 93.12h1.99v2.00h-1.99zM441.62 93.12h1.99v2.00h-1.99zM443.61 93.12h1.99v2.00h-1.99zM324.00 95.13h1.99v2.00h-1.99zM325.99 95.13h1.99v2.00h-1.99zM327.99 95.13h1.99v2.00h-1.99zM335.96 95.13h1.99v2.00h-1.99zM381.81 95.13h1.99v2.00h-1.99zM389.79 95.13h1.99v2.00h-1.99zM431.65 95.13h1.99v2.00h-1.99zM441.62 95.13h1.99v2.00h-1.99zM335.96 97.13h1.99v2.00h-1.99zM337.95 97.13h1.99v2.00h-1.99zM343.94 97.13h1.99v2.00h-1.99zM347.92 97.13h1.99v2.00h-1.99zM351.91 97.13h1.99v2.00h-1.99zM367.86 97.13h1.99v2.00h-1.99zM375.83 97.13h1.99v2.00h-1.99zM379.82 97.13h1.99v2.00h-1.99zM333.97 99.14h1.99v2.00h-1.99zM365.86 99.14h1.99v2.00h-1.99zM369.85 99.14h1.99v2.00h-1.99zM379.82 99.14h1.99v2.00h-1.99zM331.97 101.14h1.99v2.00h-1.99zM333.97 101.14h1.99v2.00h-1.99zM339.95 101.14h1.99v2.00h-1.99zM341.94 101.14h1.99v2.00h-1.99zM351.91 101.14h1.99v2.00h-1.99zM359.88 101.14h1.99v2.00h-1.99zM361.88 101.14h1.99v2.00h-1.99zM367.86 101.14h1.99v2.00h-1.99zM369.85 101.14h1.99v2.00h-1.99zM377.83 101.14h1.99v2.00h-1.99zM379.82 101.14h1.99v2.00h-1.99zM429.66 101.14h1.99v2.00h-1.99zM335.96 103.14h1.99v2.00h-1.99zM337.95 103.14h1.99v2.00h-1.99zM349.92 103.14h1.99v2.00h-1.99zM351.91 103.14h1.99v2.00h-1.99zM353.90 103.14h1.99v2.00h-1.99zM355.90 103.14h1.99v2.00h-1.99zM357.89 103.14h1.99v2.00h-1.99zM361.88 103.14h1.99v2.00h-1.99zM365.86 103.14h1.99v2.00h-1.99zM371.85 103.14h1.99v2.00h-1.99zM427.66 103.14h1.99v2.00h-1.99zM429.66 103.14h1.99v2.00h-1.99zM325.99 105.15h1.99v2.00h-1.99zM335.96 105.15h1.99v2.00h-1.99zM341.94 105.15h1.99v2.00h-1.99zM349.92 105.15h1.99v2.00h-1.99zM351.91 105.15h1.99v2.00h-1.99zM425.67 105.15h1.99v2.00h-1.99zM324.00 107.15h1.99v2.00h-1.99zM325.99 107.15h1.99v2.00h-1.99zM327.99 107.15h1.99v2.00h-1.99zM351.91 107.15h1.99v2.00h-1.99zM363.87 107.15h1.99v2.00h-1.99zM365.86 107.15h1.99v2.00h-1.99zM367.86 107.15h1.99v2.00h-1.99zM369.85 107.15h1.99v2.00h-1.99zM324.00 109.15h1.99v2.00h-1.99zM327.99 109.15h1.99v2.00h-1.99zM333.97 109.15h1.99v2.00h-1.99zM343.94 109.15h1.99v2.00h-1.99zM371.85 109.15h1.99v2.00h-1.99zM327.99 111.16h1.99v2.00h-1.99zM361.88 111.16h1.99v2.00h-1.99zM363.87 111.16h1.99v2.00h-1.99zM365.86 111.16h1.99v2.00h-1.99zM367.86 111.16h1.99v2.00h-1.99zM397.76 111.16h1.99v2.00h-1.99zM335.96 113.16h1.99v2.00h-1.99zM337.95 113.16h1.99v2.00h-1.99zM345.93 113.16h1.99v2.00h-1.99zM359.88 115.17h1.99v2.00h-1.99zM363.87 115.17h1.99v2.00h-1.99zM373.84 115.17h1.99v2.00h-1.99zM324.00 117.17h1.99v2.00h-1.99zM325.99 117.17h1.99v2.00h-1.99zM327.99 117.17h1.99v2.00h-1.99zM329.98 117.17h1.99v2.00h-1.99zM363.87 117.17h1.99v2.00h-1.99zM324.00 119.17h1.99v2.00h-1.99zM327.99 119.17h1.99v2.00h-1.99zM331.97 119.17h1.99v2.00h-1.99zM335.96 119.17h1.99v2.00h-1.99zM343.94 119.17h1.99v2.00h-1.99zM359.88 119.17h1.99v2.00h-1.99zM369.85 119.17h1.99v2.00h-1.99zM371.85 119.17h1.99v2.00h-1.99zM373.84 119.17h1.99v2.00h-1.99zM324.00 121.18h1.99v2.00h-1.99zM325.99 121.18h1.99v2.00h-1.99zM341.94 121.18h1.99v2.00h-1.99zM353.90 121.18h1.99v2.00h-1.99zM357.89 121.18h1.99v2.00h-1.99zM359.88 121.18h1.99v2.00h-1.99zM361.88 121.18h1.99v2.00h-1.99zM363.87 121.18h1.99v2.00h-1.99zM373.84 121.18h1.99v2.00h-1.99zM324.00 123.18h1.99v2.00h-1.99zM325.99 123.18h1.99v2.00h-1.99zM337.95 123.18h1.99v2.00h-1.99zM339.95 123.18h1.99v2.00h-1.99zM341.94 123.18h1.99v2.00h-1.99zM343.94 123.18h1.99v2.00h-1.99zM345.93 123.18h1.99v2.00h-1.99zM347.92 123.18h1.99v2.00h-1.99zM349.92 123.18h1.99v2.00h-1.99zM361.88 123.18h1.99v2.00h-1.99zM367.86 123.18h1.99v2.00h-1.99zM369.85 123.18h1.99v2.00h-1.99zM375.83 123.18h1.99v2.00h-1.99zM329.98 125.18h1.99v2.00h-1.99zM331.97 125.18h1.99v2.00h-1.99zM343.94 125.18h1.99v2.00h-1.99zM345.93 125.18h1.99v2.00h-1.99zM324.00 127.19h1.99v2.00h-1.99zM327.99 127.19h1.99v2.00h-1.99zM329.98 127.19h1.99v2.00h-1.99zM335.96 127.19h1.99v2.00h-1.99zM341.94 127.19h1.99v2.00h-1.99zM343.94 127.19h1.99v2.00h-1.99zM345.93 127.19h1.99v2.00h-1.99zM347.92 127.19h1.99v2.00h-1.99zM367.86 127.19h1.99v2.00h-1.99zM369.85 127.19h1.99v2.00h-1.99zM375.83 127.19h1.99v2.00h-1.99zM381.81 127.19h1.99v2.00h-1.99zM383.81 127.19h1.99v2.00h-1.99zM385.80 127.19h1.99v2.00h-1.99zM387.79 127.19h1.99v2.00h-1.99zM421.68 127.19h1.99v2.00h-1.99zM329.98 129.19h1.99v2.00h-1.99zM337.95 129.19h1.99v2.00h-1.99zM359.88 129.19h1.99v2.00h-1.99zM365.86 129.19h1.99v2.00h-1.99zM324.00 131.19h1.99v2.00h-1.99zM363.87 131.19h1.99v2.00h-1.99zM367.86 131.19h1.99v2.00h-1.99zM369.85 131.19h1.99v2.00h-1.99zM371.85 131.19h1.99v2.00h-1.99zM373.84 131.19h1.99v2.00h-1.99zM327.99 133.20h1.99v2.00h-1.99zM333.97 133.20h1.99v2.00h-1.99zM335.96 133.20h1.99v2.00h-1.99zM343.94 133.20h1.99v2.00h-1.99zM345.93 133.20h1.99v2.00h-1.99zM359.88 133.20h1.99v2.00h-1.99zM361.88 133.20h1.99v2.00h-1.99zM437.63 133.20h1.99v2.00h-1.99zM325.99 135.20h1.99v2.00h-1.99zM327.99 135.20h1.99v2.00h-1.99zM329.98 135.20h1.99v2.00h-1.99zM347.92 135.20h1.99v2.00h-1.99zM349.92 135.20h1.99v2.00h-1.99zM351.91 135.20h1.99v2.00h-1.99zM383.81 135.20h1.99v2.00h-1.99zM409.72 135.20h1.99v2.00h-1.99zM331.97 137.21h1.99v2.00h-1.99zM367.86 137.21h1.99v2.00h-1.99zM381.81 137.21h1.99v2.00h-1.99zM423.68 137.21h1.99v2.00h-1.99zM331.97 139.21h1.99v2.00h-1.99zM339.95 139.21h1.99v2.00h-1.99zM341.94 139.21h1.99v2.00h-1.99zM345.93 139.21h1.99v2.00h-1.99zM347.92 139.21h1.99v2.00h-1.99zM349.92 139.21h1.99v2.00h-1.99zM357.89 139.21h1.99v2.00h-1.99zM335.96 141.21h1.99v2.00h-1.99zM337.95 141.21h1.99v2.00h-1.99zM339.95 141.21h1.99v2.00h-1.99zM353.90 141.21h1.99v2.00h-1.99zM373.84 141.21h1.99v2.00h-1.99zM383.81 141.21h1.99v2.00h-1.99zM389.79 141.21h1.99v2.00h-1.99zM403.74 141.21h1.99v2.00h-1.99zM427.66 141.21h1.99v2.00h-1.99zM337.95 143.22h1.99v2.00h-1.99zM347.92 143.22h1.99v2.00h-1.99zM349.92 143.22h1.99v2.00h-1.99zM351.91 143.22h1.99v2.00h-1.99zM355.90 143.22h1.99v2.00h-1.99zM357.89 143.22h1.99v2.00h-1.99zM359.88 143.22h1.99v2.00h-1.99zM375.83 143.22h1.99v2.00h-1.99zM391.78 143.22h1.99v2.00h-1.99zM393.77 143.22h1.99v2.00h-1.99zM425.67 143.22h1.99v2.00h-1.99zM427.66 143.22h1.99v2.00h-1.99zM359.88 145.22h1.99v2.00h-1.99zM363.87 145.22h1.99v2.00h-1.99zM367.86 145.22h1.99v2.00h-1.99zM391.78 145.22h1.99v2.00h-1.99zM393.77 145.22h1.99v2.00h-1.99zM395.77 145.22h1.99v2.00h-1.99zM324.00 147.22h1.99v2.00h-1.99zM337.95 147.22h1.99v2.00h-1.99zM339.95 147.22h1.99v2.00h-1.99zM341.94 147.22h1.99v2.00h-1.99zM343.94 147.22h1.99v2.00h-1.99zM345.93 147.22h1.99v2.00h-1.99zM349.92 147.22h1.99v2.00h-1.99zM359.88 147.22h1.99v2.00h-1.99zM361.88 147.22h1.99v2.00h-1.99zM439.63 147.22h1.99v2.00h-1.99zM441.62 147.22h1.99v2.00h-1.99zM443.61 147.22h1.99v2.00h-1.99zM329.98 149.23h1.99v2.00h-1.99zM339.95 149.23h1.99v2.00h-1.99zM347.92 149.23h1.99v2.00h-1.99zM361.88 149.23h1.99v2.00h-1.99zM365.86 149.23h1.99v2.00h-1.99zM367.86 149.23h1.99v2.00h-1.99zM371.85 149.23h1.99v2.00h-1.99zM379.82 149.23h1.99v2.00h-1.99zM387.79 149.23h1.99v2.00h-1.99zM335.96 151.23h1.99v2.00h-1.99zM337.95 151.23h1.99v2.00h-1.99zM349.92 151.23h1.99v2.00h-1.99zM351.91 151.23h1.99v2.00h-1.99zM353.90 151.23h1.99v2.00h-1.99zM357.89 151.23h1.99v2.00h-1.99zM419.69 151.23h1.99v2.00h-1.99zM421.68 151.23h1.99v2.00h-1.99zM327.99 153.23h1.99v2.00h-1.99zM353.90 153.23h1.99v2.00h-1.99zM361.88 153.23h1.99v2.00h-1.99zM381.81 153.23h1.99v2.00h-1.99zM391.78 153.23h1.99v2.00h-1.99zM443.61 153.23h1.99v2.00h-1.99zM445.61 153.23h1.99v2.00h-1.99zM324.00 155.24h1.99v2.00h-1.99zM325.99 155.24h1.99v2.00h-1.99zM327.99 155.24h1.99v2.00h-1.99zM329.98 155.24h1.99v2.00h-1.99zM355.90 155.24h1.99v2.00h-1.99zM381.81 155.24h1.99v2.00h-1.99zM383.81 155.24h1.99v2.00h-1.99zM445.61 155.24h1.99v2.00h-1.99zM331.97 157.24h1.99v2.00h-1.99zM357.89 157.24h1.99v2.00h-1.99zM363.87 157.24h1.99v2.00h-1.99zM365.86 157.24h1.99v2.00h-1.99zM373.84 157.24h1.99v2.00h-1.99zM329.98 159.25h1.99v2.00h-1.99zM347.92 159.25h1.99v2.00h-1.99zM349.92 159.25h1.99v2.00h-1.99zM351.91 159.25h1.99v2.00h-1.99zM371.85 159.25h1.99v2.00h-1.99zM373.84 159.25h1.99v2.00h-1.99zM381.81 159.25h1.99v2.00h-1.99zM339.95 161.25h1.99v2.00h-1.99zM345.93 161.25h1.99v2.00h-1.99zM347.92 161.25h1.99v2.00h-1.99zM379.82 161.25h1.99v2.00h-1.99zM381.81 161.25h1.99v2.00h-1.99zM383.81 161.25h1.99v2.00h-1.99zM385.80 161.25h1.99v2.00h-1.99zM403.74 161.25h1.99v2.00h-1.99zM409.72 161.25h1.99v2.00h-1.99zM437.63 161.25h1.99v2.00h-1.99zM439.63 161.25h1.99v2.00h-1.99zM331.97 163.25h1.99v2.00h-1.99zM333.97 163.25h1.99v2.00h-1.99zM343.94 163.25h1.99v2.00h-1.99zM345.93 163.25h1.99v2.00h-1.99zM361.88 163.25h1.99v2.00h-1.99zM363.87 163.25h1.99v2.00h-1.99zM379.82 163.25h1.99v2.00h-1.99zM401.75 163.25h1.99v2.00h-1.99zM403.74 163.25h1.99v2.00h-1.99zM405.74 163.25h1.99v2.00h-1.99zM407.73 163.25h1.99v2.00h-1.99zM409.72 163.25h1.99v2.00h-1.99zM433.65 163.25h1.99v2.00h-1.99zM435.64 163.25h1.99v2.00h-1.99zM441.62 163.25h1.99v2.00h-1.99zM361.88 165.26h1.99v2.00h-1.99zM367.86 165.26h1.99v2.00h-1.99zM401.75 165.26h1.99v2.00h-1.99zM403.74 165.26h1.99v2.00h-1.99zM405.74 165.26h1.99v2.00h-1.99zM407.73 165.26h1.99v2.00h-1.99zM409.72 165.26h1.99v2.00h-1.99zM411.72 165.26h1.99v2.00h-1.99zM413.71 165.26h1.99v2.00h-1.99zM431.65 165.26h1.99v2.00h-1.99zM435.64 165.26h1.99v2.00h-1.99zM439.63 165.26h1.99v2.00h-1.99zM443.61 165.26h1.99v2.00h-1.99zM341.94 167.26h1.99v2.00h-1.99zM347.92 167.26h1.99v2.00h-1.99zM349.92 167.26h1.99v2.00h-1.99zM401.75 167.26h1.99v2.00h-1.99zM403.74 167.26h1.99v2.00h-1.99zM405.74 167.26h1.99v2.00h-1.99zM407.73 167.26h1.99v2.00h-1.99zM435.64 167.26h1.99v2.00h-1.99zM437.63 167.26h1.99v2.00h-1.99zM401.75 169.26h1.99v2.00h-1.99zM409.72 169.26h1.99v2.00h-1.99zM413.71 169.26h1.99v2.00h-1.99zM415.70 169.26h1.99v2.00h-1.99zM417.70 169.26h1.99v2.00h-1.99zM439.63 169.26h1.99v2.00h-1.99zM367.86 171.27h1.99v2.00h-1.99zM403.74 171.27h1.99v2.00h-1.99zM405.74 171.27h1.99v2.00h-1.99zM415.70 171.27h1.99v2.00h-1.99zM417.70 171.27h1.99v2.00h-1.99zM341.94 173.27h1.99v2.00h-1.99zM343.94 173.27h1.99v2.00h-1.99zM403.74 173.27h1.99v2.00h-1.99zM405.74 173.27h1.99v2.00h-1.99zM411.72 173.27h1.99v2.00h-1.99zM413.71 173.27h1.99v2.00h-1.99zM423.68 173.27h1.99v2.00h-1.99zM425.67 173.27h1.99v2.00h-1.99zM431.65 173.27h1.99v2.00h-1.99zM329.98 175.28h1.99v2.00h-1.99zM407.73 175.28h1.99v2.00h-1.99zM409.72 175.28h1.99v2.00h-1.99zM419.69 175.28h1.99v2.00h-1.99zM435.64 175.28h1.99v2.00h-1.99zM437.63 175.28h1.99v2.00h-1.99zM439.63 175.28h1.99v2.00h-1.99zM349.92 177.28h1.99v2.00h-1.99zM393.77 177.28h1.99v2.00h-1.99zM403.74 177.28h1.99v2.00h-1.99zM419.69 177.28h1.99v2.00h-1.99zM421.68 177.28h1.99v2.00h-1.99zM431.65 177.28h1.99v2.00h-1.99zM433.65 177.28h1.99v2.00h-1.99zM327.99 179.28h1.99v2.00h-1.99zM401.75 179.28h1.99v2.00h-1.99zM403.74 179.28h1.99v2.00h-1.99zM405.74 179.28h1.99v2.00h-1.99zM407.73 179.28h1.99v2.00h-1.99zM417.70 179.28h1.99v2.00h-1.99zM419.69 179.28h1.99v2.00h-1.99zM435.64 179.28h1.99v2.00h-1.99zM441.62 179.28h1.99v2.00h-1.99zM327.99 181.29h1.99v2.00h-1.99zM419.69 181.29h1.99v2.00h-1.99zM421.68 181.29h1.99v2.00h-1.99zM431.65 181.29h1.99v2.00h-1.99zM445.61 181.29h1.99v2.00h-1.99zM415.70 183.29h1.99v2.00h-1.99zM419.69 183.29h1.99v2.00h-1.99zM421.68 183.29h1.99v2.00h-1.99zM431.65 183.29h1.99v2.00h-1.99zM435.64 183.29h1.99v2.00h-1.99zM437.63 183.29h1.99v2.00h-1.99zM439.63 183.29h1.99v2.00h-1.99zM443.61 183.29h1.99v2.00h-1.99zM445.61 183.29h1.99v2.00h-1.99zM401.75 185.29h1.99v2.00h-1.99zM403.74 185.29h1.99v2.00h-1.99zM405.74 185.29h1.99v2.00h-1.99zM407.73 185.29h1.99v2.00h-1.99zM409.72 185.29h1.99v2.00h-1.99zM413.71 185.29h1.99v2.00h-1.99zM415.70 185.29h1.99v2.00h-1.99zM417.70 185.29h1.99v2.00h-1.99zM419.69 185.29h1.99v2.00h-1.99zM421.68 185.29h1.99v2.00h-1.99zM433.65 185.29h1.99v2.00h-1.99zM403.74 187.30h1.99v2.00h-1.99zM405.74 187.30h1.99v2.00h-1.99zM407.73 187.30h1.99v2.00h-1.99zM415.70 187.30h1.99v2.00h-1.99zM417.70 187.30h1.99v2.00h-1.99zM421.68 187.30h1.99v2.00h-1.99zM437.63 187.30h1.99v2.00h-1.99zM439.63 187.30h1.99v2.00h-1.99zM443.61 187.30h1.99v2.00h-1.99zM401.75 189.30h1.99v2.00h-1.99zM403.74 189.30h1.99v2.00h-1.99zM405.74 189.30h1.99v2.00h-1.99zM419.69 189.30h1.99v2.00h-1.99zM443.61 189.30h1.99v2.00h-1.99zM401.75 191.30h1.99v2.00h-1.99zM403.74 191.30h1.99v2.00h-1.99zM405.74 191.30h1.99v2.00h-1.99zM407.73 191.30h1.99v2.00h-1.99zM409.72 191.30h1.99v2.00h-1.99zM415.70 191.30h1.99v2.00h-1.99zM419.69 191.30h1.99v2.00h-1.99zM423.68 191.30h1.99v2.00h-1.99zM427.66 191.30h1.99v2.00h-1.99zM441.62 191.30h1.99v2.00h-1.99zM341.94 193.31h1.99v2.00h-1.99zM401.75 193.31h1.99v2.00h-1.99zM403.74 193.31h1.99v2.00h-1.99zM405.74 193.31h1.99v2.00h-1.99zM407.73 193.31h1.99v2.00h-1.99zM409.72 193.31h1.99v2.00h-1.99zM411.72 193.31h1.99v2.00h-1.99zM413.71 193.31h1.99v2.00h-1.99zM437.63 193.31h1.99v2.00h-1.99zM443.61 193.31h1.99v2.00h-1.99zM445.61 193.31h1.99v2.00h-1.99zM401.75 195.31h1.99v2.00h-1.99zM403.74 195.31h1.99v2.00h-1.99zM407.73 195.31h1.99v2.00h-1.99zM409.72 195.31h1.99v2.00h-1.99zM411.72 195.31h1.99v2.00h-1.99zM417.70 195.31h1.99v2.00h-1.99zM425.67 195.31h1.99v2.00h-1.99zM427.66 195.31h1.99v2.00h-1.99zM431.65 195.31h1.99v2.00h-1.99zM433.65 195.31h1.99v2.00h-1.99zM445.61 195.31h1.99v2.00h-1.99zM401.75 197.32h1.99v2.00h-1.99zM405.74 197.32h1.99v2.00h-1.99zM407.73 197.32h1.99v2.00h-1.99zM409.72 197.32h1.99v2.00h-1.99zM411.72 197.32h1.99v2.00h-1.99zM439.63 197.32h1.99v2.00h-1.99zM443.61 197.32h1.99v2.00h-1.99zM401.75 199.32h1.99v2.00h-1.99zM403.74 199.32h1.99v2.00h-1.99zM441.62 199.32h1.99v2.00h-1.99zM443.61 199.32h1.99v2.00h-1.99zM445.61 199.32h1.99v2.00h-1.99zM401.75 201.32h1.99v2.00h-1.99zM405.74 201.32h1.99v2.00h-1.99zM407.73 201.32h1.99v2.00h-1.99zM415.70 201.32h1.99v2.00h-1.99zM417.70 201.32h1.99v2.00h-1.99zM429.66 201.32h1.99v2.00h-1.99zM441.62 201.32h1.99v2.00h-1.99zM445.61 201.32h1.99v2.00h-1.99zM389.79 203.33h1.99v2.00h-1.99zM401.75 203.33h1.99v2.00h-1.99zM403.74 203.33h1.99v2.00h-1.99zM405.74 203.33h1.99v2.00h-1.99zM407.73 203.33h1.99v2.00h-1.99zM389.79 205.33h1.99v2.00h-1.99zM391.78 205.33h1.99v2.00h-1.99zM401.75 205.33h1.99v2.00h-1.99zM405.74 205.33h1.99v2.00h-1.99zM407.73 205.33h1.99v2.00h-1.99zM419.69 205.33h1.99v2.00h-1.99zM421.68 205.33h1.99v2.00h-1.99zM427.66 205.33h1.99v2.00h-1.99zM439.63 205.33h1.99v2.00h-1.99zM441.62 205.33h1.99v2.00h-1.99zM445.61 205.33h1.99v2.00h-1.99zM431.65 207.33h1.99v2.00h-1.99zM403.74 209.34h1.99v2.00h-1.99zM409.72 211.34h1.99v2.00h-1.99zM415.70 211.34h1.99v2.00h-1.99zM425.67 211.34h1.99v2.00h-1.99zM437.63 211.34h1.99v2.00h-1.99zM405.74 213.34h1.99v2.00h-1.99zM411.72 213.34h1.99v2.00h-1.99zM415.70 213.34h1.99v2.00h-1.99zM417.70 213.34h1.99v2.00h-1.99zM419.69 213.34h1.99v2.00h-1.99zM431.65 213.34h1.99v2.00h-1.99zM433.65 213.34h1.99v2.00h-1.99zM405.74 215.35h1.99v2.00h-1.99zM407.73 215.35h1.99v2.00h-1.99zM409.72 215.35h1.99v2.00h-1.99zM411.72 215.35h1.99v2.00h-1.99zM415.70 215.35h1.99v2.00h-1.99zM423.68 215.35h1.99v2.00h-1.99zM431.65 215.35h1.99v2.00h-1.99zM433.65 215.35h1.99v2.00h-1.99zM435.64 215.35h1.99v2.00h-1.99zM437.63 215.35h1.99v2.00h-1.99zM439.63 215.35h1.99v2.00h-1.99zM443.61 215.35h1.99v2.00h-1.99zM445.61 215.35h1.99v2.00h-1.99zM401.75 217.35h1.99v2.00h-1.99zM403.74 217.35h1.99v2.00h-1.99zM405.74 217.35h1.99v2.00h-1.99zM409.72 217.35h1.99v2.00h-1.99zM411.72 217.35h1.99v2.00h-1.99zM413.71 217.35h1.99v2.00h-1.99zM435.64 217.35h1.99v2.00h-1.99zM439.63 217.35h1.99v2.00h-1.99zM441.62 217.35h1.99v2.00h-1.99zM391.78 219.36h1.99v2.00h-1.99zM413.71 219.36h1.99v2.00h-1.99zM415.70 219.36h1.99v2.00h-1.99zM439.63 219.36h1.99v2.00h-1.99zM441.62 219.36h1.99v2.00h-1.99zM403.74 221.36h1.99v2.00h-1.99zM405.74 221.36h1.99v2.00h-1.99zM413.71 221.36h1.99v2.00h-1.99zM419.69 221.36h1.99v2.00h-1.99zM421.68 221.36h1.99v2.00h-1.99zM423.68 221.36h1.99v2.00h-1.99zM431.65 221.36h1.99v2.00h-1.99zM433.65 221.36h1.99v2.00h-1.99zM435.64 221.36h1.99v2.00h-1.99zM439.63 221.36h1.99v2.00h-1.99zM445.61 221.36h1.99v2.00h-1.99zM363.87 223.36h1.99v2.00h-1.99zM367.86 223.36h1.99v2.00h-1.99zM387.79 223.36h1.99v2.00h-1.99zM401.75 223.36h1.99v2.00h-1.99zM403.74 223.36h1.99v2.00h-1.99zM405.74 223.36h1.99v2.00h-1.99zM431.65 223.36h1.99v2.00h-1.99zM439.63 223.36h1.99v2.00h-1.99zM441.62 223.36h1.99v2.00h-1.99zM443.61 223.36h1.99v2.00h-1.99zM361.88 225.37h1.99v2.00h-1.99zM363.87 225.37h1.99v2.00h-1.99zM403.74 225.37h1.99v2.00h-1.99zM405.74 225.37h1.99v2.00h-1.99zM407.73 225.37h1.99v2.00h-1.99zM409.72 225.37h1.99v2.00h-1.99zM413.71 225.37h1.99v2.00h-1.99zM415.70 225.37h1.99v2.00h-1.99zM417.70 225.37h1.99v2.00h-1.99zM423.68 225.37h1.99v2.00h-1.99zM425.67 225.37h1.99v2.00h-1.99zM435.64 225.37h1.99v2.00h-1.99zM443.61 225.37h1.99v2.00h-1.99zM445.61 225.37h1.99v2.00h-1.99zM403.74 227.37h1.99v2.00h-1.99zM405.74 227.37h1.99v2.00h-1.99zM407.73 227.37h1.99v2.00h-1.99zM409.72 227.37h1.99v2.00h-1.99zM427.66 227.37h1.99v2.00h-1.99zM429.66 227.37h1.99v2.00h-1.99zM441.62 227.37h1.99v2.00h-1.99zM443.61 227.37h1.99v2.00h-1.99zM405.74 229.37h1.99v2.00h-1.99zM407.73 229.37h1.99v2.00h-1.99zM409.72 229.37h1.99v2.00h-1.99zM413.71 229.37h1.99v2.00h-1.99zM421.68 229.37h1.99v2.00h-1.99zM431.65 229.37h1.99v2.00h-1.99zM433.65 229.37h1.99v2.00h-1.99zM435.64 229.37h1.99v2.00h-1.99zM441.62 229.37h1.99v2.00h-1.99zM443.61 229.37h1.99v2.00h-1.99zM401.75 231.38h1.99v2.00h-1.99zM407.73 231.38h1.99v2.00h-1.99zM411.72 231.38h1.99v2.00h-1.99zM417.70 231.38h1.99v2.00h-1.99zM421.68 231.38h1.99v2.00h-1.99zM431.65 231.38h1.99v2.00h-1.99zM441.62 231.38h1.99v2.00h-1.99zM443.61 231.38h1.99v2.00h-1.99zM375.83 233.38h1.99v2.00h-1.99zM403.74 233.38h1.99v2.00h-1.99zM405.74 233.38h1.99v2.00h-1.99zM407.73 233.38h1.99v2.00h-1.99zM409.72 233.38h1.99v2.00h-1.99zM415.70 233.38h1.99v2.00h-1.99zM427.66 233.38h1.99v2.00h-1.99zM429.66 233.38h1.99v2.00h-1.99zM433.65 233.38h1.99v2.00h-1.99zM435.64 233.38h1.99v2.00h-1.99zM437.63 233.38h1.99v2.00h-1.99zM445.61 233.38h1.99v2.00h-1.99zM371.85 235.39h1.99v2.00h-1.99zM375.83 235.39h1.99v2.00h-1.99zM401.75 235.39h1.99v2.00h-1.99zM403.74 235.39h1.99v2.00h-1.99zM405.74 235.39h1.99v2.00h-1.99zM407.73 235.39h1.99v2.00h-1.99zM409.72 235.39h1.99v2.00h-1.99zM411.72 235.39h1.99v2.00h-1.99zM417.70 235.39h1.99v2.00h-1.99zM439.63 235.39h1.99v2.00h-1.99zM443.61 235.39h1.99v2.00h-1.99zM445.61 235.39h1.99v2.00h-1.99zM375.83 237.39h1.99v2.00h-1.99zM403.74 237.39h1.99v2.00h-1.99zM405.74 237.39h1.99v2.00h-1.99zM407.73 237.39h1.99v2.00h-1.99zM409.72 237.39h1.99v2.00h-1.99zM413.71 237.39h1.99v2.00h-1.99zM415.70 237.39h1.99v2.00h-1.99zM417.70 237.39h1.99v2.00h-1.99zM419.69 237.39h1.99v2.00h-1.99zM421.68 237.39h1.99v2.00h-1.99zM423.68 237.39h1.99v2.00h-1.99zM425.67 237.39h1.99v2.00h-1.99zM431.65 237.39h1.99v2.00h-1.99zM433.65 237.39h1.99v2.00h-1.99zM435.64 237.39h1.99v2.00h-1.99zM439.63 237.39h1.99v2.00h-1.99zM445.61 237.39h1.99v2.00h-1.99zM375.83 239.39h1.99v2.00h-1.99zM401.75 239.39h1.99v2.00h-1.99zM403.74 239.39h1.99v2.00h-1.99zM405.74 239.39h1.99v2.00h-1.99zM407.73 239.39h1.99v2.00h-1.99zM409.72 239.39h1.99v2.00h-1.99zM413.71 239.39h1.99v2.00h-1.99zM419.69 239.39h1.99v2.00h-1.99zM421.68 239.39h1.99v2.00h-1.99zM423.68 239.39h1.99v2.00h-1.99zM427.66 239.39h1.99v2.00h-1.99zM431.65 239.39h1.99v2.00h-1.99zM435.64 239.39h1.99v2.00h-1.99zM439.63 239.39h1.99v2.00h-1.99zM443.61 239.39h1.99v2.00h-1.99zM403.74 241.40h1.99v2.00h-1.99zM405.74 241.40h1.99v2.00h-1.99zM415.70 241.40h1.99v2.00h-1.99zM417.70 241.40h1.99v2.00h-1.99zM419.69 241.40h1.99v2.00h-1.99zM421.68 241.40h1.99v2.00h-1.99zM423.68 241.40h1.99v2.00h-1.99zM425.67 241.40h1.99v2.00h-1.99zM435.64 241.40h1.99v2.00h-1.99zM437.63 241.40h1.99v2.00h-1.99z"/>
<path fill="#ee5054" d="M331.97 25.00h1.99v2.00h-1.99zM345.93 25.00h1.99v2.00h-1.99zM349.92 25.00h1.99v2.00h-1.99zM351.91 25.00h1.99v2.00h-1.99zM353.90 25.00h1.99v2.00h-1.99zM361.88 25.00h1.99v2.00h-1.99zM373.84 25.00h1.99v2.00h-1.99zM389.79 25.00h1.99v2.00h-1.99zM393.77 25.00h1.99v2.00h-1.99zM445.61 25.00h1.99v2.00h-1.99zM324.00 27.00h1.99v2.00h-1.99zM331.97 27.00h1.99v2.00h-1.99zM353.90 27.00h1.99v2.00h-1.99zM365.86 27.00h1.99v2.00h-1.99zM379.82 27.00h1.99v2.00h-1.99zM385.80 27.00h1.99v2.00h-1.99zM389.79 27.00h1.99v2.00h-1.99zM335.96 29.01h1.99v2.00h-1.99zM337.95 29.01h1.99v2.00h-1.99zM339.95 29.01h1.99v2.00h-1.99zM341.94 29.01h1.99v2.00h-1.99zM343.94 29.01h1.99v2.00h-1.99zM347.92 29.01h1.99v2.00h-1.99zM389.79 29.01h1.99v2.00h-1.99zM324.00 31.01h1.99v2.00h-1.99zM325.99 31.01h1.99v2.00h-1.99zM395.77 31.01h1.99v2.00h-1.99zM397.76 31.01h1.99v2.00h-1.99zM335.96 33.01h1.99v2.00h-1.99zM349.92 33.01h1.99v2.00h-1.99zM351.91 33.01h1.99v2.00h-1.99zM409.72 33.01h1.99v2.00h-1.99zM343.94 35.02h1.99v2.00h-1.99zM373.84 35.02h1.99v2.00h-1.99zM435.64 35.02h1.99v2.00h-1.99zM441.62 35.02h1.99v2.00h-1.99zM325.99 37.02h1.99v2.00h-1.99zM327.99 37.02h1.99v2.00h-1.99zM343.94 37.02h1.99v2.00h-1.99zM371.85 37.02h1.99v2.00h-1.99zM373.84 37.02h1.99v2.00h-1.99zM329.98 39.03h1.99v2.00h-1.99zM357.89 39.03h1.99v2.00h-1.99zM371.85 39.03h1.99v2.00h-1.99zM443.61 39.03h1.99v2.00h-1.99zM445.61 39.03h1.99v2.00h-1.99zM341.94 41.03h1.99v2.00h-1.99zM367.86 41.03h1.99v2.00h-1.99zM375.83 41.03h1.99v2.00h-1.99zM385.80 41.03h1.99v2.00h-1.99zM387.79 41.03h1.99v2.00h-1.99zM341.94 43.03h1.99v2.00h-1.99zM343.94 43.03h1.99v2.00h-1.99zM363.87 43.03h1.99v2.00h-1.99zM371.85 43.03h1.99v2.00h-1.99zM343.94 45.04h1.99v2.00h-1.99zM345.93 45.04h1.99v2.00h-1.99zM324.00 47.04h1.99v2.00h-1.99zM339.95 47.04h1.99v2.00h-1.99zM347.92 47.04h1.99v2.00h-1.99zM383.81 47.04h1.99v2.00h-1.99zM327.99 49.04h1.99v2.00h-1.99zM339.95 49.04h1.99v2.00h-1.99zM331.97 51.05h1.99v2.00h-1.99zM333.97 51.05h1.99v2.00h-1.99zM335.96 51.05h1.99v2.00h-1.99zM337.95 51.05h1.99v2.00h-1.99zM345.93 51.05h1.99v2.00h-1.99zM351.91 51.05h1.99v2.00h-1.99zM361.88 51.05h1.99v2.00h-1.99zM373.84 51.05h1.99v2.00h-1.99zM375.83 51.05h1.99v2.00h-1.99zM337.95 53.05h1.99v2.00h-1.99zM339.95 53.05h1.99v2.00h-1.99zM325.99 55.06h1.99v2.00h-1.99zM327.99 55.06h1.99v2.00h-1.99zM337.95 55.06h1.99v2.00h-1.99zM339.95 55.06h1.99v2.00h-1.99zM341.94 55.06h1.99v2.00h-1.99zM343.94 55.06h1.99v2.00h-1.99zM351.91 55.06h1.99v2.00h-1.99zM385.80 55.06h1.99v2.00h-1.99zM335.96 57.06h1.99v2.00h-1.99zM367.86 57.06h1.99v2.00h-1.99zM385.80 57.06h1.99v2.00h-1.99zM387.79 57.06h1.99v2.00h-1.99zM439.63 57.06h1.99v2.00h-1.99zM329.98 59.06h1.99v2.00h-1.99zM361.88 59.06h1.99v2.00h-1.99zM387.79 59.06h1.99v2.00h-1.99zM337.95 61.07h1.99v2.00h-1.99zM345.93 61.07h1.99v2.00h-1.99zM365.86 61.07h1.99v2.00h-1.99zM387.79 61.07h1.99v2.00h-1.99zM331.97 63.07h1.99v2.00h-1.99zM333.97 63.07h1.99v2.00h-1.99zM335.96 63.07h1.99v2.00h-1.99zM399.75 63.07h1.99v2.00h-1.99zM347.92 65.07h1.99v2.00h-1.99zM349.92 65.07h1.99v2.00h-1.99zM351.91 65.07h1.99v2.00h-1.99zM355.90 65.07h1.99v2.00h-1.99zM441.62 65.07h1.99v2.00h-1.99zM349.92 67.08h1.99v2.00h-1.99zM353.90 67.08h1.99v2.00h-1.99zM355.90 67.08h1.99v2.00h-1.99zM363.87 69.08h1.99v2.00h-1.99zM377.83 69.08h1.99v2.00h-1.99zM387.79 69.08h1.99v2.00h-1.99zM324.00 71.08h1.99v2.00h-1.99zM325.99 71.08h1.99v2.00h-1.99zM327.99 71.08h1.99v2.00h-1.99zM335.96 71.08h1.99v2.00h-1.99zM341.94 71.08h1.99v2.00h-1.99zM399.75 71.08h1.99v2.00h-1.99zM421.68 71.08h1.99v2.00h-1.99zM423.68 71.08h1.99v2.00h-1.99zM435.64 71.08h1.99v2.00h-1.99zM373.84 73.09h1.99v2.00h-1.99zM415.70 73.09h1.99v2.00h-1.99zM441.62 73.09h1.99v2.00h-1.99zM335.96 75.09h1.99v2.00h-1.99zM341.94 75.09h1.99v2.00h-1.99zM343.94 75.09h1.99v2.00h-1.99zM363.87 75.09h1.99v2.00h-1.99zM365.86 75.09h1.99v2.00h-1.99zM389.79 75.09h1.99v2.00h-1.99zM391.78 75.09h1.99v2.00h-1.99zM357.89 77.10h1.99v2.00h-1.99zM387.79 77.10h1.99v2.00h-1.99zM445.61 77.10h1.99v2.00h-1.99zM331.97 79.10h1.99v2.00h-1.99zM337.95 79.10h1.99v2.00h-1.99zM359.88 79.10h1.99v2.00h-1.99zM361.88 79.10h1.99v2.00h-1.99zM363.87 79.10h1.99v2.00h-1.99zM365.86 79.10h1.99v2.00h-1.99zM379.82 79.10h1.99v2.00h-1.99zM387.79 79.10h1.99v2.00h-1.99zM407.73 79.10h1.99v2.00h-1.99zM423.68 79.10h1.99v2.00h-1.99zM367.86 81.10h1.99v2.00h-1.99zM369.85 81.10h1.99v2.00h-1.99zM375.83 81.10h1.99v2.00h-1.99zM429.66 83.11h1.99v2.00h-1.99zM431.65 83.11h1.99v2.00h-1.99zM327.99 85.11h1.99v2.00h-1.99zM329.98 85.11h1.99v2.00h-1.99zM337.95 85.11h1.99v2.00h-1.99zM343.94 85.11h1.99v2.00h-1.99zM351.91 85.11h1.99v2.00h-1.99zM353.90 85.11h1.99v2.00h-1.99zM363.87 85.11h1.99v2.00h-1.99zM383.81 85.11h1.99v2.00h-1.99zM387.79 85.11h1.99v2.00h-1.99zM389.79 85.11h1.99v2.00h-1.99zM341.94 87.11h1.99v2.00h-1.99zM347.92 87.11h1.99v2.00h-1.99zM363.87 87.11h1.99v2.00h-1.99zM371.85 87.11h1.99v2.00h-1.99zM375.83 87.11h1.99v2.00h-1.99zM387.79 87.11h1.99v2.00h-1.99zM389.79 87.11h1.99v2.00h-1.99zM391.78 87.11h1.99v2.00h-1.99zM393.77 87.11h1.99v2.00h-1.99zM395.77 87.11h1.99v2.00h-1.99zM399.75 87.11h1.99v2.00h-1.99zM329.98 89.12h1.99v2.00h-1.99zM331.97 89.12h1.99v2.00h-1.99zM341.94 89.12h1.99v2.00h-1.99zM383.81 89.12h1.99v2.00h-1.99zM439.63 89.12h1.99v2.00h-1.99zM441.62 89.12h1.99v2.00h-1.99zM443.61 89.12h1.99v2.00h-1.99zM445.61 89.12h1.99v2.00h-1.99zM325.99 91.12h1.99v2.00h-1.99zM369.85 91.12h1.99v2.00h-1.99zM371.85 91.12h1.99v2.00h-1.99zM377.83 91.12h1.99v2.00h-1.99zM395.77 91.12h1.99v2.00h-1.99zM399.75 91.12h1.99v2.00h-1.99zM439.63 91.12h1.99v2.00h-1.99zM335.96 93.12h1.99v2.00h-1.99zM337.95 93.12h1.99v2.00h-1.99zM375.83 93.12h1.99v2.00h-1.99zM391.78 93.12h1.99v2.00h-1.99zM407.73 93.12h1.99v2.00h-1.99zM331.97 95.13h1.99v2.00h-1.99zM361.88 95.13h1.99v2.00h-1.99zM395.77 95.13h1.99v2.00h-1.99zM439.63 95.13h1.99v2.00h-1.99zM333.97 97.13h1.99v2.00h-1.99zM341.94 97.13h1.99v2.00h-1.99zM361.88 97.13h1.99v2.00h-1.99zM363.87 97.13h1.99v2.00h-1.99zM371.85 97.13h1.99v2.00h-1.99zM389.79 97.13h1.99v2.00h-1.99zM325.99 99.14h1.99v2.00h-1.99zM353.90 99.14h1.99v2.00h-1.99zM359.88 99.14h1.99v2.00h-1.99zM375.83 99.14h1.99v2.00h-1.99zM439.63 99.14h1.99v2.00h-1.99zM324.00 101.14h1.99v2.00h-1.99zM325.99 101.14h1.99v2.00h-1.99zM327.99 101.14h1.99v2.00h-1.99zM329.98 101.14h1.99v2.00h-1.99zM335.96 101.14h1.99v2.00h-1.99zM337.95 101.14h1.99v2.00h-1.99zM355.90 101.14h1.99v2.00h-1.99zM371.85 101.14h1.99v2.00h-1.99zM375.83 101.14h1.99v2.00h-1.99zM325.99 103.14h1.99v2.00h-1.99zM359.88 103.14h1.99v2.00h-1.99zM367.86 103.14h1.99v2.00h-1.99zM389.79 103.14h1.99v2.00h-1.99zM393.77 103.14h1.99v2.00h-1.99zM433.65 103.14h1.99v2.00h-1.99zM435.64 103.14h1.99v2.00h-1.99zM339.95 105.15h1.99v2.00h-1.99zM343.94 105.15h1.99v2.00h-1.99zM377.83 105.15h1.99v2.00h-1.99zM391.78 105.15h1.99v2.00h-1.99zM329.98 107.15h1.99v2.00h-1.99zM339.95 107.15h1.99v2.00h-1.99zM371.85 107.15h1.99v2.00h-1.99zM421.68 107.15h1.99v2.00h-1.99zM345.93 109.15h1.99v2.00h-1.99zM347.92 109.15h1.99v2.00h-1.99zM324.00 111.16h1.99v2.00h-1.99zM329.98 111.16h1.99v2.00h-1.99zM331.97 111.16h1.99v2.00h-1.99zM335.96 111.16h1.99v2.00h-1.99zM337.95 111.16h1.99v2.00h-1.99zM339.95 111.16h1.99v2.00h-1.99zM425.67 111.16h1.99v2.00h-1.99zM441.62 111.16h1.99v2.00h-1.99zM339.95 113.16h1.99v2.00h-1.99zM347.92 113.16h1.99v2.00h-1.99zM441.62 113.16h1.99v2.00h-1.99zM327.99 115.17h1.99v2.00h-1.99zM331.97 115.17h1.99v2.00h-1.99zM341.94 115.17h1.99v2.00h-1.99zM381.81 115.17h1.99v2.00h-1.99zM333.97 117.17h1.99v2.00h-1.99zM335.96 117.17h1.99v2.00h-1.99zM337.95 117.17h1.99v2.00h-1.99zM357.89 117.17h1.99v2.00h-1.99zM365.86 117.17h1.99v2.00h-1.99zM373.84 117.17h1.99v2.00h-1.99zM325.99 119.17h1.99v2.00h-1.99zM337.95 119.17h1.99v2.00h-1.99zM339.95 119.17h1.99v2.00h-1.99zM367.86 121.18h1.99v2.00h-1.99zM369.85 121.18h1.99v2.00h-1.99zM329.98 123.18h1.99v2.00h-1.99zM331.97 123.18h1.99v2.00h-1.99zM433.65 123.18h1.99v2.00h-1.99zM325.99 125.18h1.99v2.00h-1.99zM327.99 125.18h1.99v2.00h-1.99zM357.89 125.18h1.99v2.00h-1.99zM361.88 125.18h1.99v2.00h-1.99zM379.82 125.18h1.99v2.00h-1.99zM365.86 127.19h1.99v2.00h-1.99zM327.99 129.19h1.99v2.00h-1.99zM333.97 129.19h1.99v2.00h-1.99zM335.96 129.19h1.99v2.00h-1.99zM351.91 129.19h1.99v2.00h-1.99zM369.85 129.19h1.99v2.00h-1.99zM373.84 129.19h1.99v2.00h-1.99zM375.83 129.19h1.99v2.00h-1.99zM389.79 129.19h1.99v2.00h-1.99zM341.94 131.19h1.99v2.00h-1.99zM353.90 131.19h1.99v2.00h-1.99zM377.83 131.19h1.99v2.00h-1.99zM379.82 131.19h1.99v2.00h-1.99zM339.95 133.20h1.99v2.00h-1.99zM341.94 133.20h1.99v2.00h-1.99zM349.92 133.20h1.99v2.00h-1.99zM355.90 133.20h1.99v2.00h-1.99zM395.77 133.20h1.99v2.00h-1.99zM324.00 135.20h1.99v2.00h-1.99zM333.97 135.20h1.99v2.00h-1.99zM335.96 135.20h1.99v2.00h-1.99zM337.95 135.20h1.99v2.00h-1.99zM339.95 135.20h1.99v2.00h-1.99zM369.85 135.20h1.99v2.00h-1.99zM373.84 135.20h1.99v2.00h-1.99zM375.83 135.20h1.99v2.00h-1.99zM389.79 135.20h1.99v2.00h-1.99zM395.77 135.20h1.99v2.00h-1.99zM324.00 137.21h1.99v2.00h-1.99zM349.92 137.21h1.99v2.00h-1.99zM351.91 137.21h1.99v2.00h-1.99zM353.90 137.21h1.99v2.00h-1.99zM355.90 137.21h1.99v2.00h-1.99zM373.84 137.21h1.99v2.00h-1.99zM375.83 137.21h1.99v2.00h-1.99zM441.62 137.21h1.99v2.00h-1.99zM443.61 137.21h1.99v2.00h-1.99zM445.61 137.21h1.99v2.00h-1.99zM324.00 139.21h1.99v2.00h-1.99zM325.99 139.21h1.99v2.00h-1.99zM327.99 139.21h1.99v2.00h-1.99zM329.98 139.21h1.99v2.00h-1.99zM343.94 139.21h1.99v2.00h-1.99zM361.88 139.21h1.99v2.00h-1.99zM369.85 139.21h1.99v2.00h-1.99zM379.82 139.21h1.99v2.00h-1.99zM383.81 139.21h1.99v2.00h-1.99zM327.99 141.21h1.99v2.00h-1.99zM329.98 141.21h1.99v2.00h-1.99zM331.97 141.21h1.99v2.00h-1.99zM351.91 141.21h1.99v2.00h-1.99zM375.83 141.21h1.99v2.00h-1.99zM443.61 141.21h1.99v2.00h-1.99zM353.90 143.22h1.99v2.00h-1.99zM371.85 143.22h1.99v2.00h-1.99zM383.81 143.22h1.99v2.00h-1.99zM385.80 143.22h1.99v2.00h-1.99zM443.61 143.22h1.99v2.00h-1.99zM324.00 145.22h1.99v2.00h-1.99zM331.97 145.22h1.99v2.00h-1.99zM333.97 145.22h1.99v2.00h-1.99zM341.94 145.22h1.99v2.00h-1.99zM347.92 145.22h1.99v2.00h-1.99zM349.92 145.22h1.99v2.00h-1.99zM377.83 145.22h1.99v2.00h-1.99zM329.98 147.22h1.99v2.00h-1.99zM347.92 147.22h1.99v2.00h-1.99zM365.86 147.22h1.99v2.00h-1.99zM324.00 149.23h1.99v2.00h-1.99zM333.97 149.23h1.99v2.00h-1.99zM357.89 149.23h1.99v2.00h-1.99zM359.88 149.23h1.99v2.00h-1.99zM327.99 151.23h1.99v2.00h-1.99zM331.97 151.23h1.99v2.00h-1.99zM339.95 151.23h1.99v2.00h-1.99zM347.92 151.23h1.99v2.00h-1.99zM393.77 151.23h1.99v2.00h-1.99zM423.68 151.23h1.99v2.00h-1.99zM425.67 151.23h1.99v2.00h-1.99zM439.63 151.23h1.99v2.00h-1.99zM325.99 153.23h1.99v2.00h-1.99zM331.97 153.23h1.99v2.00h-1.99zM335.96 153.23h1.99v2.00h-1.99zM371.85 153.23h1.99v2.00h-1.99zM341.94 155.24h1.99v2.00h-1.99zM351.91 155.24h1.99v2.00h-1.99zM353.90 155.24h1.99v2.00h-1.99zM357.89 155.24h1.99v2.00h-1.99zM359.88 155.24h1.99v2.00h-1.99zM361.88 155.24h1.99v2.00h-1.99zM369.85 155.24h1.99v2.00h-1.99zM413.71 155.24h1.99v2.00h-1.99zM431.65 155.24h1.99v2.00h-1.99zM433.65 155.24h1.99v2.00h-1.99zM359.88 157.24h1.99v2.00h-1.99zM369.85 157.24h1.99v2.00h-1.99zM371.85 157.24h1.99v2.00h-1.99zM375.83 157.24h1.99v2.00h-1.99zM379.82 157.24h1.99v2.00h-1.99zM381.81 157.24h1.99v2.00h-1.99zM361.88 159.25h1.99v2.00h-1.99zM365.86 159.25h1.99v2.00h-1.99zM383.81 159.25h1.99v2.00h-1.99zM445.61 159.25h1.99v2.00h-1.99zM341.94 161.25h1.99v2.00h-1.99zM343.94 161.25h1.99v2.00h-1.99zM365.86 161.25h1.99v2.00h-1.99zM407.73 161.25h1.99v2.00h-1.99zM413.71 161.25h1.99v2.00h-1.99zM415.70 161.25h1.99v2.00h-1.99zM421.68 161.25h1.99v2.00h-1.99zM423.68 161.25h1.99v2.00h-1.99zM425.67 161.25h1.99v2.00h-1.99zM427.66 161.25h1.99v2.00h-1.99zM429.66 161.25h1.99v2.00h-1.99zM445.61 161.25h1.99v2.00h-1.99zM335.96 163.25h1.99v2.00h-1.99zM324.00 165.26h1.99v2.00h-1.99zM331.97 165.26h1.99v2.00h-1.99zM421.68 165.26h1.99v2.00h-1.99zM427.66 165.26h1.99v2.00h-1.99zM413.71 167.26h1.99v2.00h-1.99zM333.97 169.26h1.99v2.00h-1.99zM371.85 169.26h1.99v2.00h-1.99zM391.78 169.26h1.99v2.00h-1.99zM411.72 169.26h1.99v2.00h-1.99zM427.66 169.26h1.99v2.00h-1.99zM429.66 169.26h1.99v2.00h-1.99zM431.65 169.26h1.99v2.00h-1.99zM435.64 169.26h1.99v2.00h-1.99zM333.97 171.27h1.99v2.00h-1.99zM353.90 171.27h1.99v2.00h-1.99zM419.69 171.27h1.99v2.00h-1.99zM349.92 173.27h1.99v2.00h-1.99zM353.90 173.27h1.99v2.00h-1.99zM429.66 173.27h1.99v2.00h-1.99zM433.65 173.27h1.99v2.00h-1.99zM435.64 173.27h1.99v2.00h-1.99zM341.94 175.28h1.99v2.00h-1.99zM349.92 175.28h1.99v2.00h-1.99zM401.75 175.28h1.99v2.00h-1.99zM411.72 175.28h1.99v2.00h-1.99zM415.70 175.28h1.99v2.00h-1.99zM421.68 175.28h1.99v2.00h-1.99zM324.00 177.28h1.99v2.00h-1.99zM379.82 177.28h1.99v2.00h-1.99zM401.75 177.28h1.99v2.00h-1.99zM445.61 177.28h1.99v2.00h-1.99zM363.87 179.28h1.99v2.00h-1.99zM379.82 179.28h1.99v2.00h-1.99zM421.68 179.28h1.99v2.00h-1.99zM437.63 179.28h1.99v2.00h-1.99zM379.82 181.29h1.99v2.00h-1.99zM401.75 181.29h1.99v2.00h-1.99zM403.74 181.29h1.99v2.00h-1.99zM405.74 181.29h1.99v2.00h-1.99zM407.73 181.29h1.99v2.00h-1.99zM417.70 181.29h1.99v2.00h-1.99zM433.65 181.29h1.99v2.00h-1.99zM403.74 183.29h1.99v2.00h-1.99zM405.74 183.29h1.99v2.00h-1.99zM407.73 183.29h1.99v2.00h-1.99zM409.72 183.29h1.99v2.00h-1.99zM441.62 183.29h1.99v2.00h-1.99zM411.72 185.29h1.99v2.00h-1.99zM439.63 185.29h1.99v2.00h-1.99zM445.61 185.29h1.99v2.00h-1.99zM427.66 187.30h1.99v2.00h-1.99zM409.72 189.30h1.99v2.00h-1.99zM421.68 189.30h1.99v2.00h-1.99zM427.66 189.30h1.99v2.00h-1.99zM429.66 189.30h1.99v2.00h-1.99zM431.65 189.30h1.99v2.00h-1.99zM421.68 191.30h1.99v2.00h-1.99zM429.66 191.30h1.99v2.00h-1.99zM349.92 195.31h1.99v2.00h-1.99zM363.87 195.31h1.99v2.00h-1.99zM439.63 195.31h1.99v2.00h-1.99zM441.62 195.31h1.99v2.00h-1.99zM333.97 197.32h1.99v2.00h-1.99zM403.74 197.32h1.99v2.00h-1.99zM413.71 197.32h1.99v2.00h-1.99zM419.69 197.32h1.99v2.00h-1.99zM437.63 197.32h1.99v2.00h-1.99zM441.62 197.32h1.99v2.00h-1.99zM407.73 199.32h1.99v2.00h-1.99zM409.72 199.32h1.99v2.00h-1.99zM411.72 199.32h1.99v2.00h-1.99zM413.71 199.32h1.99v2.00h-1.99zM415.70 199.32h1.99v2.00h-1.99zM417.70 199.32h1.99v2.00h-1.99zM419.69 199.32h1.99v2.00h-1.99zM421.68 199.32h1.99v2.00h-1.99zM403.74 201.32h1.99v2.00h-1.99zM411.72 201.32h1.99v2.00h-1.99zM375.83 203.33h1.99v2.00h-1.99zM411.72 203.33h1.99v2.00h-1.99zM419.69 203.33h1.99v2.00h-1.99zM433.65 203.33h1.99v2.00h-1.99zM443.61 203.33h1.99v2.00h-1.99zM324.00 207.33h1.99v2.00h-1.99zM429.66 207.33h1.99v2.00h-1.99zM437.63 207.33h1.99v2.00h-1.99zM339.95 209.34h1.99v2.00h-1.99zM341.94 209.34h1.99v2.00h-1.99zM407.73 209.34h1.99v2.00h-1.99zM415.70 209.34h1.99v2.00h-1.99zM417.70 209.34h1.99v2.00h-1.99zM341.94 211.34h1.99v2.00h-1.99zM353.90 211.34h1.99v2.00h-1.99zM407.73 211.34h1.99v2.00h-1.99zM413.71 211.34h1.99v2.00h-1.99zM435.64 211.34h1.99v2.00h-1.99zM439.63 211.34h1.99v2.00h-1.99zM441.62 211.34h1.99v2.00h-1.99zM341.94 213.34h1.99v2.00h-1.99zM413.71 213.34h1.99v2.00h-1.99zM421.68 213.34h1.99v2.00h-1.99zM341.94 215.35h1.99v2.00h-1.99zM347.92 215.35h1.99v2.00h-1.99zM363.87 215.35h1.99v2.00h-1.99zM401.75 215.35h1.99v2.00h-1.99zM403.74 215.35h1.99v2.00h-1.99zM413.71 215.35h1.99v2.00h-1.99zM417.70 215.35h1.99v2.00h-1.99zM441.62 215.35h1.99v2.00h-1.99zM407.73 217.35h1.99v2.00h-1.99zM343.94 219.36h1.99v2.00h-1.99zM407.73 219.36h1.99v2.00h-1.99zM409.72 219.36h1.99v2.00h-1.99zM411.72 219.36h1.99v2.00h-1.99zM421.68 219.36h1.99v2.00h-1.99zM443.61 219.36h1.99v2.00h-1.99zM407.73 221.36h1.99v2.00h-1.99zM443.61 221.36h1.99v2.00h-1.99zM407.73 223.36h1.99v2.00h-1.99zM417.70 223.36h1.99v2.00h-1.99zM433.65 223.36h1.99v2.00h-1.99zM435.64 223.36h1.99v2.00h-1.99zM437.63 223.36h1.99v2.00h-1.99zM345.93 225.37h1.99v2.00h-1.99zM411.72 225.37h1.99v2.00h-1.99zM419.69 225.37h1.99v2.00h-1.99zM421.68 225.37h1.99v2.00h-1.99zM431.65 225.37h1.99v2.00h-1.99zM401.75 227.37h1.99v2.00h-1.99zM411.72 227.37h1.99v2.00h-1.99zM413.71 227.37h1.99v2.00h-1.99zM415.70 227.37h1.99v2.00h-1.99zM419.69 227.37h1.99v2.00h-1.99zM425.67 227.37h1.99v2.00h-1.99zM435.64 227.37h1.99v2.00h-1.99zM437.63 227.37h1.99v2.00h-1.99zM363.87 229.37h1.99v2.00h-1.99zM401.75 229.37h1.99v2.00h-1.99zM415.70 229.37h1.99v2.00h-1.99zM437.63 229.37h1.99v2.00h-1.99zM333.97 231.38h1.99v2.00h-1.99zM337.95 231.38h1.99v2.00h-1.99zM363.87 231.38h1.99v2.00h-1.99zM405.74 231.38h1.99v2.00h-1.99zM413.71 231.38h1.99v2.00h-1.99zM425.67 231.38h1.99v2.00h-1.99zM427.66 231.38h1.99v2.00h-1.99zM433.65 231.38h1.99v2.00h-1.99zM435.64 231.38h1.99v2.00h-1.99zM437.63 231.38h1.99v2.00h-1.99zM445.61 231.38h1.99v2.00h-1.99zM333.97 233.38h1.99v2.00h-1.99zM337.95 233.38h1.99v2.00h-1.99zM363.87 233.38h1.99v2.00h-1.99zM401.75 233.38h1.99v2.00h-1.99zM413.71 233.38h1.99v2.00h-1.99zM419.69 233.38h1.99v2.00h-1.99zM421.68 233.38h1.99v2.00h-1.99zM425.67 233.38h1.99v2.00h-1.99zM443.61 233.38h1.99v2.00h-1.99zM339.95 235.39h1.99v2.00h-1.99zM391.78 235.39h1.99v2.00h-1.99zM413.71 235.39h1.99v2.00h-1.99zM415.70 235.39h1.99v2.00h-1.99zM419.69 235.39h1.99v2.00h-1.99zM425.67 235.39h1.99v2.00h-1.99zM427.66 235.39h1.99v2.00h-1.99zM429.66 235.39h1.99v2.00h-1.99zM431.65 235.39h1.99v2.00h-1.99zM433.65 235.39h1.99v2.00h-1.99zM435.64 235.39h1.99v2.00h-1.99zM441.62 235.39h1.99v2.00h-1.99zM339.95 237.39h1.99v2.00h-1.99zM391.78 237.39h1.99v2.00h-1.99zM401.75 237.39h1.99v2.00h-1.99zM441.62 237.39h1.99v2.00h-1.99zM411.72 239.39h1.99v2.00h-1.99zM429.66 239.39h1.99v2.00h-1.99zM401.75 241.40h1.99v2.00h-1.99zM407.73 241.40h1.99v2.00h-1.99zM409.72 241.40h1.99v2.00h-1.99zM411.72 241.40h1.99v2.00h-1.99zM413.71 241.40h1.99v2.00h-1.99zM431.65 241.40h1.99v2.00h-1.99zM433.65 241.40h1.99v2.00h-1.99zM439.63 241.40h1.99v2.00h-1.99zM441.62 241.40h1.99v2.00h-1.99zM443.61 241.40h1.99v2.00h-1.99zM445.61 241.40h1.99v2.00h-1.99z"/>
<path fill="#a8acf4" d="M333.97 25.00h1.99v2.00h-1.99zM401.75 25.00h1.99v2.00h-1.99zM403.74 25.00h1.99v2.00h-1.99zM409.72 25.00h1.99v2.00h-1.99zM421.68 25.00h1.99v2.00h-1.99zM423.68 25.00h1.99v2.00h-1.99zM435.64 25.00h1.99v2.00h-1.99zM325.99 27.00h1.99v2.00h-1.99zM405.74 27.00h1.99v2.00h-1.99zM407.73 27.00h1.99v2.00h-1.99zM413.71 27.00h1.99v2.00h-1.99zM419.69 27.00h1.99v2.00h-1.99zM425.67 27.00h1.99v2.00h-1.99zM427.66 27.00h1.99v2.00h-1.99zM431.65 27.00h1.99v2.00h-1.99zM411.72 29.01h1.99v2.00h-1.99zM431.65 29.01h1.99v2.00h-1.99zM381.81 31.01h1.99v2.00h-1.99zM407.73 31.01h1.99v2.00h-1.99zM421.68 31.01h1.99v2.00h-1.99zM437.63 31.01h1.99v2.00h-1.99zM439.63 31.01h1.99v2.00h-1.99zM367.86 33.01h1.99v2.00h-1.99zM371.85 33.01h1.99v2.00h-1.99zM397.76 33.01h1.99v2.00h-1.99zM417.70 33.01h1.99v2.00h-1.99zM419.69 33.01h1.99v2.00h-1.99zM421.68 33.01h1.99v2.00h-1.99zM435.64 33.01h1.99v2.00h-1.99zM437.63 33.01h1.99v2.00h-1.99zM441.62 33.01h1.99v2.00h-1.99zM327.99 35.02h1.99v2.00h-1.99zM379.82 35.02h1.99v2.00h-1.99zM381.81 35.02h1.99v2.00h-1.99zM391.78 35.02h1.99v2.00h-1.99zM395.77 35.02h1.99v2.00h-1.99zM403.74 35.02h1.99v2.00h-1.99zM413.71 35.02h1.99v2.00h-1.99zM417.70 35.02h1.99v2.00h-1.99zM423.68 35.02h1.99v2.00h-1.99zM355.90 37.02h1.99v2.00h-1.99zM357.89 37.02h1.99v2.00h-1.99zM383.81 37.02h1.99v2.00h-1.99zM393.77 37.02h1.99v2.00h-1.99zM395.77 37.02h1.99v2.00h-1.99zM399.75 37.02h1.99v2.00h-1.99zM409.72 37.02h1.99v2.00h-1.99zM415.70 37.02h1.99v2.00h-1.99zM419.69 37.02h1.99v2.00h-1.99zM425.67 37.02h1.99v2.00h-1.99zM437.63 37.02h1.99v2.00h-1.99zM439.63 37.02h1.99v2.00h-1.99zM441.62 37.02h1.99v2.00h-1.99zM445.61 37.02h1.99v2.00h-1.99zM339.95 39.03h1.99v2.00h-1.99zM341.94 39.03h1.99v2.00h-1.99zM349.92 39.03h1.99v2.00h-1.99zM355.90 39.03h1.99v2.00h-1.99zM359.88 39.03h1.99v2.00h-1.99zM397.76 39.03h1.99v2.00h-1.99zM399.75 39.03h1.99v2.00h-1.99zM409.72 39.03h1.99v2.00h-1.99zM423.68 39.03h1.99v2.00h-1.99zM433.65 39.03h1.99v2.00h-1.99zM353.90 41.03h1.99v2.00h-1.99zM427.66 41.03h1.99v2.00h-1.99zM429.66 41.03h1.99v2.00h-1.99zM431.65 41.03h1.99v2.00h-1.99zM439.63 41.03h1.99v2.00h-1.99zM441.62 41.03h1.99v2.00h-1.99zM337.95 43.03h1.99v2.00h-1.99zM339.95 43.03h1.99v2.00h-1.99zM357.89 43.03h1.99v2.00h-1.99zM369.85 43.03h1.99v2.00h-1.99zM377.83 43.03h1.99v2.00h-1.99zM391.78 43.03h1.99v2.00h-1.99zM413.71 43.03h1.99v2.00h-1.99zM419.69 43.03h1.99v2.00h-1.99zM435.64 43.03h1.99v2.00h-1.99zM437.63 43.03h1.99v2.00h-1.99zM349.92 45.04h1.99v2.00h-1.99zM351.91 45.04h1.99v2.00h-1.99zM381.81 45.04h1.99v2.00h-1.99zM395.77 45.04h1.99v2.00h-1.99zM355.90 47.04h1.99v2.00h-1.99zM407.73 47.04h1.99v2.00h-1.99zM425.67 47.04h1.99v2.00h-1.99zM329.98 49.04h1.99v2.00h-1.99zM341.94 49.04h1.99v2.00h-1.99zM343.94 49.04h1.99v2.00h-1.99zM347.92 49.04h1.99v2.00h-1.99zM429.66 49.04h1.99v2.00h-1.99zM431.65 49.04h1.99v2.00h-1.99zM437.63 49.04h1.99v2.00h-1.99zM379.82 51.05h1.99v2.00h-1.99zM381.81 51.05h1.99v2.00h-1.99zM383.81 51.05h1.99v2.00h-1.99zM385.80 51.05h1.99v2.00h-1.99zM387.79 51.05h1.99v2.00h-1.99zM389.79 51.05h1.99v2.00h-1.99zM403.74 51.05h1.99v2.00h-1.99zM415.70 51.05h1.99v2.00h-1.99zM431.65 51.05h1.99v2.00h-1.99zM341.94 53.05h1.99v2.00h-1.99zM369.85 53.05h1.99v2.00h-1.99zM371.85 53.05h1.99v2.00h-1.99zM391.78 53.05h1.99v2.00h-1.99zM393.77 53.05h1.99v2.00h-1.99zM395.77 53.05h1.99v2.00h-1.99zM397.76 53.05h1.99v2.00h-1.99zM399.75 53.05h1.99v2.00h-1.99zM413.71 53.05h1.99v2.00h-1.99zM421.68 53.05h1.99v2.00h-1.99zM427.66 53.05h1.99v2.00h-1.99zM429.66 53.05h1.99v2.00h-1.99zM375.83 55.06h1.99v2.00h-1.99zM381.81 55.06h1.99v2.00h-1.99zM383.81 55.06h1.99v2.00h-1.99zM387.79 55.06h1.99v2.00h-1.99zM413.71 55.06h1.99v2.00h-1.99zM429.66 55.06h1.99v2.00h-1.99zM431.65 55.06h1.99v2.00h-1.99zM435.64 55.06h1.99v2.00h-1.99zM437.63 55.06h1.99v2.00h-1.99zM441.62 55.06h1.99v2.00h-1.99zM443.61 55.06h1.99v2.00h-1.99zM331.97 57.06h1.99v2.00h-1.99zM341.94 57.06h1.99v2.00h-1.99zM357.89 59.06h1.99v2.00h-1.99zM359.88 59.06h1.99v2.00h-1.99zM365.86 59.06h1.99v2.00h-1.99zM367.86 59.06h1.99v2.00h-1.99zM377.83 59.06h1.99v2.00h-1.99zM349.92 61.07h1.99v2.00h-1.99zM369.85 61.07h1.99v2.00h-1.99zM405.74 61.07h1.99v2.00h-1.99zM407.73 61.07h1.99v2.00h-1.99zM409.72 61.07h1.99v2.00h-1.99zM411.72 61.07h1.99v2.00h-1.99zM413.71 61.07h1.99v2.00h-1.99zM419.69 61.07h1.99v2.00h-1.99zM421.68 61.07h1.99v2.00h-1.99zM329.98 63.07h1.99v2.00h-1.99zM403.74 63.07h1.99v2.00h-1.99zM405.74 63.07h1.99v2.00h-1.99zM411.72 63.07h1.99v2.00h-1.99zM413.71 63.07h1.99v2.00h-1.99zM427.66 63.07h1.99v2.00h-1.99zM437.63 63.07h1.99v2.00h-1.99zM329.98 65.07h1.99v2.00h-1.99zM359.88 65.07h1.99v2.00h-1.99zM361.88 65.07h1.99v2.00h-1.99zM379.82 65.07h1.99v2.00h-1.99zM397.76 65.07h1.99v2.00h-1.99zM403.74 65.07h1.99v2.00h-1.99zM409.72 65.07h1.99v2.00h-1.99zM423.68 65.07h1.99v2.00h-1.99zM363.87 67.08h1.99v2.00h-1.99zM369.85 67.08h1.99v2.00h-1.99zM403.74 67.08h1.99v2.00h-1.99zM437.63 67.08h1.99v2.00h-1.99zM369.85 69.08h1.99v2.00h-1.99zM397.76 69.08h1.99v2.00h-1.99zM401.75 71.08h1.99v2.00h-1.99zM407.73 71.08h1.99v2.00h-1.99zM413.71 71.08h1.99v2.00h-1.99zM415.70 71.08h1.99v2.00h-1.99zM429.66 71.08h1.99v2.00h-1.99zM431.65 71.08h1.99v2.00h-1.99zM327.99 73.09h1.99v2.00h-1.99zM347.92 73.09h1.99v2.00h-1.99zM385.80 73.09h1.99v2.00h-1.99zM387.79 73.09h1.99v2.00h-1.99zM399.75 73.09h1.99v2.00h-1.99zM401.75 73.09h1.99v2.00h-1.99zM413.71 73.09h1.99v2.00h-1.99zM421.68 73.09h1.99v2.00h-1.99zM423.68 73.09h1.99v2.00h-1.99zM373.84 75.09h1.99v2.00h-1.99zM405.74 75.09h1.99v2.00h-1.99zM411.72 75.09h1.99v2.00h-1.99zM423.68 75.09h1.99v2.00h-1.99zM324.00 77.10h1.99v2.00h-1.99zM325.99 77.10h1.99v2.00h-1.99zM379.82 77.10h1.99v2.00h-1.99zM381.81 77.10h1.99v2.00h-1.99zM413.71 77.10h1.99v2.00h-1.99zM441.62 77.10h1.99v2.00h-1.99zM339.95 79.10h1.99v2.00h-1.99zM345.93 79.10h1.99v2.00h-1.99zM353.90 79.10h1.99v2.00h-1.99zM367.86 79.10h1.99v2.00h-1.99zM381.81 79.10h1.99v2.00h-1.99zM393.77 79.10h1.99v2.00h-1.99zM413.71 79.10h1.99v2.00h-1.99zM419.69 79.10h1.99v2.00h-1.99zM425.67 79.10h1.99v2.00h-1.99zM343.94 81.10h1.99v2.00h-1.99zM407.73 81.10h1.99v2.00h-1.99zM417.70 81.10h1.99v2.00h-1.99zM429.66 81.10h1.99v2.00h-1.99zM363.87 83.11h1.99v2.00h-1.99zM367.86 83.11h1.99v2.00h-1.99zM393.77 83.11h1.99v2.00h-1.99zM401.75 83.11h1.99v2.00h-1.99zM405.74 83.11h1.99v2.00h-1.99zM407.73 83.11h1.99v2.00h-1.99zM445.61 83.11h1.99v2.00h-1.99zM331.97 85.11h1.99v2.00h-1.99zM333.97 85.11h1.99v2.00h-1.99zM355.90 85.11h1.99v2.00h-1.99zM357.89 85.11h1.99v2.00h-1.99zM391.78 85.11h1.99v2.00h-1.99zM393.77 85.11h1.99v2.00h-1.99zM407.73 85.11h1.99v2.00h-1.99zM427.66 85.11h1.99v2.00h-1.99zM327.99 87.11h1.99v2.00h-1.99zM349.92 87.11h1.99v2.00h-1.99zM345.93 89.12h1.99v2.00h-1.99zM347.92 89.12h1.99v2.00h-1.99zM367.86 89.12h1.99v2.00h-1.99zM385.80 89.12h1.99v2.00h-1.99zM387.79 89.12h1.99v2.00h-1.99zM409.72 89.12h1.99v2.00h-1.99zM425.67 89.12h1.99v2.00h-1.99zM435.64 89.12h1.99v2.00h-1.99zM351.91 91.12h1.99v2.00h-1.99zM353.90 91.12h1.99v2.00h-1.99zM365.86 91.12h1.99v2.00h-1.99zM373.84 91.12h1.99v2.00h-1.99zM375.83 91.12h1.99v2.00h-1.99zM397.76 91.12h1.99v2.00h-1.99zM415.70 91.12h1.99v2.00h-1.99zM421.68 91.12h1.99v2.00h-1.99zM423.68 91.12h1.99v2.00h-1.99zM425.67 91.12h1.99v2.00h-1.99zM427.66 91.12h1.99v2.00h-1.99zM324.00 93.12h1.99v2.00h-1.99zM351.91 93.12h1.99v2.00h-1.99zM359.88 93.12h1.99v2.00h-1.99zM361.88 93.12h1.99v2.00h-1.99zM363.87 93.12h1.99v2.00h-1.99zM381.81 93.12h1.99v2.00h-1.99zM423.68 93.12h1.99v2.00h-1.99zM427.66 93.12h1.99v2.00h-1.99zM429.66 93.12h1.99v2.00h-1.99zM431.65 93.12h1.99v2.00h-1.99zM333.97 95.13h1.99v2.00h-1.99zM337.95 95.13h1.99v2.00h-1.99zM339.95 95.13h1.99v2.00h-1.99zM355.90 95.13h1.99v2.00h-1.99zM357.89 95.13h1.99v2.00h-1.99zM373.84 95.13h1.99v2.00h-1.99zM383.81 95.13h1.99v2.00h-1.99zM385.80 95.13h1.99v2.00h-1.99zM423.68 95.13h1.99v2.00h-1.99zM329.98 97.13h1.99v2.00h-1.99zM365.86 97.13h1.99v2.00h-1.99zM413.71 97.13h1.99v2.00h-1.99zM417.70 97.13h1.99v2.00h-1.99zM419.69 97.13h1.99v2.00h-1.99zM395.77 99.14h1.99v2.00h-1.99zM397.76 99.14h1.99v2.00h-1.99zM405.74 99.14h1.99v2.00h-1.99zM411.72 99.14h1.99v2.00h-1.99zM429.66 99.14h1.99v2.00h-1.99zM397.76 101.14h1.99v2.00h-1.99zM401.75 101.14h1.99v2.00h-1.99zM403.74 101.14h1.99v2.00h-1.99zM415.70 101.14h1.99v2.00h-1.99zM421.68 101.14h1.99v2.00h-1.99zM363.87 103.14h1.99v2.00h-1.99zM391.78 103.14h1.99v2.00h-1.99zM419.69 103.14h1.99v2.00h-1.99zM421.68 103.14h1.99v2.00h-1.99zM437.63 103.14h1.99v2.00h-1.99zM363.87 105.15h1.99v2.00h-1.99zM395.77 105.15h1.99v2.00h-1.99zM415.70 105.15h1.99v2.00h-1.99zM333.97 107.15h1.99v2.00h-1.99zM335.96 107.15h1.99v2.00h-1.99zM337.95 107.15h1.99v2.00h-1.99zM349.92 107.15h1.99v2.00h-1.99zM353.90 107.15h1.99v2.00h-1.99zM355.90 107.15h1.99v2.00h-1.99zM373.84 107.15h1.99v2.00h-1.99zM393.77 107.15h1.99v2.00h-1.99zM397.76 107.15h1.99v2.00h-1.99zM401.75 107.15h1.99v2.00h-1.99zM415.70 107.15h1.99v2.00h-1.99zM417.70 107.15h1.99v2.00h-1.99zM419.69 107.15h1.99v2.00h-1.99zM431.65 107.15h1.99v2.00h-1.99zM433.65 107.15h1.99v2.00h-1.99zM441.62 107.15h1.99v2.00h-1.99zM443.61 107.15h1.99v2.00h-1.99zM445.61 107.15h1.99v2.00h-1.99zM355.90 109.15h1.99v2.00h-1.99zM405.74 109.15h1.99v2.00h-1.99zM409.72 109.15h1.99v2.00h-1.99zM413.71 109.15h1.99v2.00h-1.99zM421.68 109.15h1.99v2.00h-1.99zM433.65 109.15h1.99v2.00h-1.99zM435.64 109.15h1.99v2.00h-1.99zM347.92 111.16h1.99v2.00h-1.99zM391.78 111.16h1.99v2.00h-1.99zM393.77 111.16h1.99v2.00h-1.99zM407.73 111.16h1.99v2.00h-1.99zM409.72 111.16h1.99v2.00h-1.99zM427.66 111.16h1.99v2.00h-1.99zM433.65 111.16h1.99v2.00h-1.99zM435.64 111.16h1.99v2.00h-1.99zM445.61 111.16h1.99v2.00h-1.99zM355.90 113.16h1.99v2.00h-1.99zM375.83 113.16h1.99v2.00h-1.99zM379.82 113.16h1.99v2.00h-1.99zM387.79 113.16h1.99v2.00h-1.99zM389.79 113.16h1.99v2.00h-1.99zM399.75 113.16h1.99v2.00h-1.99zM401.75 113.16h1.99v2.00h-1.99zM423.68 113.16h1.99v2.00h-1.99zM431.65 113.16h1.99v2.00h-1.99zM345.93 115.17h1.99v2.00h-1.99zM347.92 115.17h1.99v2.00h-1.99zM383.81 115.17h1.99v2.00h-1.99zM385.80 115.17h1.99v2.00h-1.99zM395.77 115.17h1.99v2.00h-1.99zM419.69 115.17h1.99v2.00h-1.99zM421.68 115.17h1.99v2.00h-1.99zM429.66 115.17h1.99v2.00h-1.99zM433.65 115.17h1.99v2.00h-1.99zM437.63 115.17h1.99v2.00h-1.99zM443.61 115.17h1.99v2.00h-1.99zM385.80 117.17h1.99v2.00h-1.99zM387.79 117.17h1.99v2.00h-1.99zM389.79 117.17h1.99v2.00h-1.99zM397.76 117.17h1.99v2.00h-1.99zM413.71 117.17h1.99v2.00h-1.99zM429.66 117.17h1.99v2.00h-1.99zM431.65 117.17h1.99v2.00h-1.99zM441.62 117.17h1.99v2.00h-1.99zM443.61 117.17h1.99v2.00h-1.99zM445.61 117.17h1.99v2.00h-1.99zM351.91 119.17h1.99v2.00h-1.99zM391.78 119.17h1.99v2.00h-1.99zM421.68 119.17h1.99v2.00h-1.99zM425.67 119.17h1.99v2.00h-1.99zM427.66 119.17h1.99v2.00h-1.99zM445.61 119.17h1.99v2.00h-1.99zM345.93 121.18h1.99v2.00h-1.99zM347.92 121.18h1.99v2.00h-1.99zM365.86 121.18h1.99v2.00h-1.99zM393.77 121.18h1.99v2.00h-1.99zM399.75 121.18h1.99v2.00h-1.99zM429.66 121.18h1.99v2.00h-1.99zM431.65 121.18h1.99v2.00h-1.99zM437.63 121.18h1.99v2.00h-1.99zM443.61 121.18h1.99v2.00h-1.99zM445.61 121.18h1.99v2.00h-1.99zM371.85 123.18h1.99v2.00h-1.99zM379.82 123.18h1.99v2.00h-1.99zM393.77 123.18h1.99v2.00h-1.99zM417.70 123.18h1.99v2.00h-1.99zM419.69 123.18h1.99v2.00h-1.99zM421.68 123.18h1.99v2.00h-1.99zM375.83 125.18h1.99v2.00h-1.99zM391.78 125.18h1.99v2.00h-1.99zM393.77 125.18h1.99v2.00h-1.99zM399.75 125.18h1.99v2.00h-1.99zM407.73 125.18h1.99v2.00h-1.99zM409.72 125.18h1.99v2.00h-1.99zM415.70 125.18h1.99v2.00h-1.99zM417.70 125.18h1.99v2.00h-1.99zM427.66 125.18h1.99v2.00h-1.99zM433.65 125.18h1.99v2.00h-1.99zM435.64 125.18h1.99v2.00h-1.99zM437.63 125.18h1.99v2.00h-1.99zM439.63 125.18h1.99v2.00h-1.99zM363.87 127.19h1.99v2.00h-1.99zM405.74 127.19h1.99v2.00h-1.99zM415.70 127.19h1.99v2.00h-1.99zM417.70 127.19h1.99v2.00h-1.99zM419.69 127.19h1.99v2.00h-1.99zM363.87 129.19h1.99v2.00h-1.99zM391.78 129.19h1.99v2.00h-1.99zM399.75 129.19h1.99v2.00h-1.99zM413.71 129.19h1.99v2.00h-1.99zM415.70 129.19h1.99v2.00h-1.99zM421.68 129.19h1.99v2.00h-1.99zM423.68 129.19h1.99v2.00h-1.99zM425.67 129.19h1.99v2.00h-1.99zM427.66 129.19h1.99v2.00h-1.99zM439.63 129.19h1.99v2.00h-1.99zM441.62 129.19h1.99v2.00h-1.99zM343.94 131.19h1.99v2.00h-1.99zM405.74 131.19h1.99v2.00h-1.99zM407.73 131.19h1.99v2.00h-1.99zM435.64 131.19h1.99v2.00h-1.99zM437.63 131.19h1.99v2.00h-1.99zM439.63 131.19h1.99v2.00h-1.99zM324.00 133.20h1.99v2.00h-1.99zM325.99 133.20h1.99v2.00h-1.99zM385.80 133.20h1.99v2.00h-1.99zM387.79 133.20h1.99v2.00h-1.99zM401.75 133.20h1.99v2.00h-1.99zM407.73 133.20h1.99v2.00h-1.99zM409.72 133.20h1.99v2.00h-1.99zM425.67 133.20h1.99v2.00h-1.99zM433.65 133.20h1.99v2.00h-1.99zM435.64 133.20h1.99v2.00h-1.99zM445.61 133.20h1.99v2.00h-1.99zM343.94 135.20h1.99v2.00h-1.99zM345.93 135.20h1.99v2.00h-1.99zM361.88 135.20h1.99v2.00h-1.99zM371.85 135.20h1.99v2.00h-1.99zM397.76 135.20h1.99v2.00h-1.99zM399.75 135.20h1.99v2.00h-1.99zM419.69 135.20h1.99v2.00h-1.99zM421.68 135.20h1.99v2.00h-1.99zM423.68 135.20h1.99v2.00h-1.99zM435.64 135.20h1.99v2.00h-1.99zM437.63 135.20h1.99v2.00h-1.99zM439.63 135.20h1.99v2.00h-1.99zM441.62 135.20h1.99v2.00h-1.99zM333.97 137.21h1.99v2.00h-1.99zM399.75 137.21h1.99v2.00h-1.99zM385.80 139.21h1.99v2.00h-1.99zM389.79 139.21h1.99v2.00h-1.99zM397.76 139.21h1.99v2.00h-1.99zM369.85 141.21h1.99v2.00h-1.99zM371.85 141.21h1.99v2.00h-1.99zM391.78 141.21h1.99v2.00h-1.99zM401.75 141.21h1.99v2.00h-1.99zM439.63 141.21h1.99v2.00h-1.99zM441.62 141.21h1.99v2.00h-1.99zM329.98 143.22h1.99v2.00h-1.99zM345.93 143.22h1.99v2.00h-1.99zM377.83 143.22h1.99v2.00h-1.99zM395.77 143.22h1.99v2.00h-1.99zM397.76 143.22h1.99v2.00h-1.99zM399.75 143.22h1.99v2.00h-1.99zM401.75 143.22h1.99v2.00h-1.99zM407.73 143.22h1.99v2.00h-1.99zM429.66 143.22h1.99v2.00h-1.99zM435.64 143.22h1.99v2.00h-1.99zM437.63 143.22h1.99v2.00h-1.99zM441.62 143.22h1.99v2.00h-1.99zM399.75 145.22h1.99v2.00h-1.99zM411.72 145.22h1.99v2.00h-1.99zM417.70 145.22h1.99v2.00h-1.99zM419.69 145.22h1.99v2.00h-1.99zM421.68 145.22h1.99v2.00h-1.99zM423.68 145.22h1.99v2.00h-1.99zM425.67 145.22h1.99v2.00h-1.99zM427.66 145.22h1.99v2.00h-1.99zM429.66 145.22h1.99v2.00h-1.99zM327.99 147.22h1.99v2.00h-1.99zM335.96 147.22h1.99v2.00h-1.99zM351.91 147.22h1.99v2.00h-1.99zM393.77 147.22h1.99v2.00h-1.99zM399.75 147.22h1.99v2.00h-1.99zM425.67 147.22h1.99v2.00h-1.99zM427.66 147.22h1.99v2.00h-1.99zM445.61 147.22h1.99v2.00h-1.99zM331.97 149.23h1.99v2.00h-1.99zM353.90 149.23h1.99v2.00h-1.99zM355.90 149.23h1.99v2.00h-1.99zM409.72 149.23h1.99v2.00h-1.99zM411.72 149.23h1.99v2.00h-1.99zM333.97 151.23h1.99v2.00h-1.99zM355.90 151.23h1.99v2.00h-1.99zM377.83 151.23h1.99v2.00h-1.99zM391.78 151.23h1.99v2.00h-1.99zM407.73 151.23h1.99v2.00h-1.99zM409.72 151.23h1.99v2.00h-1.99zM411.72 151.23h1.99v2.00h-1.99zM413.71 151.23h1.99v2.00h-1.99zM415.70 151.23h1.99v2.00h-1.99zM347.92 153.23h1.99v2.00h-1.99zM407.73 153.23h1.99v2.00h-1.99zM409.72 153.23h1.99v2.00h-1.99zM411.72 153.23h1.99v2.00h-1.99zM417.70 153.23h1.99v2.00h-1.99zM419.69 153.23h1.99v2.00h-1.99zM427.66 153.23h1.99v2.00h-1.99zM429.66 153.23h1.99v2.00h-1.99zM433.65 153.23h1.99v2.00h-1.99zM435.64 153.23h1.99v2.00h-1.99zM437.63 153.23h1.99v2.00h-1.99zM439.63 153.23h1.99v2.00h-1.99zM331.97 155.24h1.99v2.00h-1.99zM333.97 155.24h1.99v2.00h-1.99zM345.93 155.24h1.99v2.00h-1.99zM347.92 155.24h1.99v2.00h-1.99zM409.72 155.24h1.99v2.00h-1.99zM419.69 155.24h1.99v2.00h-1.99zM427.66 155.24h1.99v2.00h-1.99zM443.61 155.24h1.99v2.00h-1.99zM337.95 157.24h1.99v2.00h-1.99zM347.92 157.24h1.99v2.00h-1.99zM349.92 157.24h1.99v2.00h-1.99zM377.83 157.24h1.99v2.00h-1.99zM391.78 157.24h1.99v2.00h-1.99zM393.77 157.24h1.99v2.00h-1.99zM413.71 157.24h1.99v2.00h-1.99zM417.70 157.24h1.99v2.00h-1.99zM437.63 157.24h1.99v2.00h-1.99zM341.94 159.25h1.99v2.00h-1.99zM385.80 159.25h1.99v2.00h-1.99zM391.78 159.25h1.99v2.00h-1.99zM431.65 159.25h1.99v2.00h-1.99zM435.64 159.25h1.99v2.00h-1.99zM437.63 159.25h1.99v2.00h-1.99zM443.61 159.25h1.99v2.00h-1.99zM324.00 161.25h1.99v2.00h-1.99zM325.99 161.25h1.99v2.00h-1.99zM327.99 161.25h1.99v2.00h-1.99zM373.84 161.25h1.99v2.00h-1.99zM375.83 161.25h1.99v2.00h-1.99zM387.79 161.25h1.99v2.00h-1.99zM435.64 161.25h1.99v2.00h-1.99zM327.99 163.25h1.99v2.00h-1.99zM351.91 163.25h1.99v2.00h-1.99zM359.88 163.25h1.99v2.00h-1.99zM367.86 163.25h1.99v2.00h-1.99zM375.83 163.25h1.99v2.00h-1.99zM377.83 163.25h1.99v2.00h-1.99zM385.80 163.25h1.99v2.00h-1.99zM413.71 163.25h1.99v2.00h-1.99zM415.70 163.25h1.99v2.00h-1.99zM417.70 163.25h1.99v2.00h-1.99zM431.65 163.25h1.99v2.00h-1.99zM445.61 163.25h1.99v2.00h-1.99zM325.99 165.26h1.99v2.00h-1.99zM351.91 165.26h1.99v2.00h-1.99zM353.90 165.26h1.99v2.00h-1.99zM359.88 165.26h1.99v2.00h-1.99zM375.83 165.26h1.99v2.00h-1.99zM395.77 165.26h1.99v2.00h-1.99zM423.68 165.26h1.99v2.00h-1.99zM351.91 167.26h1.99v2.00h-1.99zM353.90 167.26h1.99v2.00h-1.99zM357.89 167.26h1.99v2.00h-1.99zM367.86 167.26h1.99v2.00h-1.99zM369.85 167.26h1.99v2.00h-1.99zM375.83 167.26h1.99v2.00h-1.99zM379.82 167.26h1.99v2.00h-1.99zM381.81 167.26h1.99v2.00h-1.99zM391.78 167.26h1.99v2.00h-1.99zM443.61 167.26h1.99v2.00h-1.99zM325.99 169.26h1.99v2.00h-1.99zM335.96 169.26h1.99v2.00h-1.99zM353.90 169.26h1.99v2.00h-1.99zM359.88 169.26h1.99v2.00h-1.99zM365.86 169.26h1.99v2.00h-1.99zM369.85 169.26h1.99v2.00h-1.99zM375.83 169.26h1.99v2.00h-1.99zM387.79 169.26h1.99v2.00h-1.99zM393.77 169.26h1.99v2.00h-1.99zM325.99 171.27h1.99v2.00h-1.99zM369.85 171.27h1.99v2.00h-1.99zM371.85 171.27h1.99v2.00h-1.99zM375.83 171.27h1.99v2.00h-1.99zM387.79 171.27h1.99v2.00h-1.99zM407.73 171.27h1.99v2.00h-1.99zM435.64 171.27h1.99v2.00h-1.99zM437.63 171.27h1.99v2.00h-1.99zM443.61 171.27h1.99v2.00h-1.99zM331.97 173.27h1.99v2.00h-1.99zM335.96 173.27h1.99v2.00h-1.99zM339.95 173.27h1.99v2.00h-1.99zM355.90 173.27h1.99v2.00h-1.99zM371.85 173.27h1.99v2.00h-1.99zM324.00 175.28h1.99v2.00h-1.99zM327.99 175.28h1.99v2.00h-1.99zM331.97 175.28h1.99v2.00h-1.99zM335.96 175.28h1.99v2.00h-1.99zM343.94 175.28h1.99v2.00h-1.99zM365.86 175.28h1.99v2.00h-1.99zM371.85 175.28h1.99v2.00h-1.99zM413.71 175.28h1.99v2.00h-1.99zM429.66 175.28h1.99v2.00h-1.99zM431.65 175.28h1.99v2.00h-1.99zM331.97 177.28h1.99v2.00h-1.99zM335.96 177.28h1.99v2.00h-1.99zM343.94 177.28h1.99v2.00h-1.99zM363.87 177.28h1.99v2.00h-1.99zM365.86 177.28h1.99v2.00h-1.99zM371.85 177.28h1.99v2.00h-1.99zM373.84 177.28h1.99v2.00h-1.99zM383.81 177.28h1.99v2.00h-1.99zM387.79 177.28h1.99v2.00h-1.99zM423.68 177.28h1.99v2.00h-1.99zM429.66 177.28h1.99v2.00h-1.99zM324.00 179.28h1.99v2.00h-1.99zM331.97 179.28h1.99v2.00h-1.99zM361.88 179.28h1.99v2.00h-1.99zM365.86 179.28h1.99v2.00h-1.99zM367.86 179.28h1.99v2.00h-1.99zM385.80 179.28h1.99v2.00h-1.99zM411.72 179.28h1.99v2.00h-1.99zM415.70 179.28h1.99v2.00h-1.99zM423.68 179.28h1.99v2.00h-1.99zM445.61 179.28h1.99v2.00h-1.99zM337.95 181.29h1.99v2.00h-1.99zM347.92 181.29h1.99v2.00h-1.99zM357.89 181.29h1.99v2.00h-1.99zM361.88 181.29h1.99v2.00h-1.99zM385.80 181.29h1.99v2.00h-1.99zM387.79 181.29h1.99v2.00h-1.99zM389.79 181.29h1.99v2.00h-1.99zM393.77 181.29h1.99v2.00h-1.99zM395.77 181.29h1.99v2.00h-1.99zM437.63 181.29h1.99v2.00h-1.99zM439.63 181.29h1.99v2.00h-1.99zM443.61 181.29h1.99v2.00h-1.99zM329.98 183.29h1.99v2.00h-1.99zM341.94 183.29h1.99v2.00h-1.99zM353.90 183.29h1.99v2.00h-1.99zM359.88 183.29h1.99v2.00h-1.99zM361.88 183.29h1.99v2.00h-1.99zM363.87 183.29h1.99v2.00h-1.99zM365.86 183.29h1.99v2.00h-1.99zM375.83 183.29h1.99v2.00h-1.99zM379.82 183.29h1.99v2.00h-1.99zM389.79 183.29h1.99v2.00h-1.99zM427.66 183.29h1.99v2.00h-1.99zM324.00 185.29h1.99v2.00h-1.99zM329.98 185.29h1.99v2.00h-1.99zM341.94 185.29h1.99v2.00h-1.99zM361.88 185.29h1.99v2.00h-1.99zM377.83 185.29h1.99v2.00h-1.99zM324.00 187.30h1.99v2.00h-1.99zM329.98 187.30h1.99v2.00h-1.99zM339.95 187.30h1.99v2.00h-1.99zM341.94 187.30h1.99v2.00h-1.99zM357.89 187.30h1.99v2.00h-1.99zM359.88 187.30h1.99v2.00h-1.99zM361.88 187.30h1.99v2.00h-1.99zM363.87 187.30h1.99v2.00h-1.99zM373.84 187.30h1.99v2.00h-1.99zM377.83 187.30h1.99v2.00h-1.99zM383.81 187.30h1.99v2.00h-1.99zM387.79 187.30h1.99v2.00h-1.99zM409.72 187.30h1.99v2.00h-1.99zM347.92 189.30h1.99v2.00h-1.99zM353.90 189.30h1.99v2.00h-1.99zM357.89 189.30h1.99v2.00h-1.99zM359.88 189.30h1.99v2.00h-1.99zM377.83 189.30h1.99v2.00h-1.99zM379.82 189.30h1.99v2.00h-1.99zM381.81 189.30h1.99v2.00h-1.99zM383.81 189.30h1.99v2.00h-1.99zM433.65 189.30h1.99v2.00h-1.99zM329.98 191.30h1.99v2.00h-1.99zM349.92 191.30h1.99v2.00h-1.99zM355.90 191.30h1.99v2.00h-1.99zM369.85 191.30h1.99v2.00h-1.99zM371.85 191.30h1.99v2.00h-1.99zM375.83 191.30h1.99v2.00h-1.99zM387.79 191.30h1.99v2.00h-1.99zM395.77 191.30h1.99v2.00h-1.99zM433.65 191.30h1.99v2.00h-1.99zM435.64 191.30h1.99v2.00h-1.99zM437.63 191.30h1.99v2.00h-1.99zM443.61 191.30h1.99v2.00h-1.99zM445.61 191.30h1.99v2.00h-1.99zM329.98 193.31h1.99v2.00h-1.99zM351.91 193.31h1.99v2.00h-1.99zM355.90 193.31h1.99v2.00h-1.99zM361.88 193.31h1.99v2.00h-1.99zM371.85 193.31h1.99v2.00h-1.99zM393.77 193.31h1.99v2.00h-1.99zM395.77 193.31h1.99v2.00h-1.99zM425.67 193.31h1.99v2.00h-1.99zM329.98 195.31h1.99v2.00h-1.99zM343.94 195.31h1.99v2.00h-1.99zM371.85 195.31h1.99v2.00h-1.99zM393.77 195.31h1.99v2.00h-1.99zM395.77 195.31h1.99v2.00h-1.99zM435.64 195.31h1.99v2.00h-1.99zM327.99 197.32h1.99v2.00h-1.99zM337.95 197.32h1.99v2.00h-1.99zM371.85 197.32h1.99v2.00h-1.99zM429.66 197.32h1.99v2.00h-1.99zM431.65 197.32h1.99v2.00h-1.99zM435.64 197.32h1.99v2.00h-1.99zM339.95 199.32h1.99v2.00h-1.99zM341.94 199.32h1.99v2.00h-1.99zM343.94 199.32h1.99v2.00h-1.99zM371.85 199.32h1.99v2.00h-1.99zM405.74 199.32h1.99v2.00h-1.99zM435.64 199.32h1.99v2.00h-1.99zM351.91 201.32h1.99v2.00h-1.99zM355.90 201.32h1.99v2.00h-1.99zM361.88 201.32h1.99v2.00h-1.99zM367.86 201.32h1.99v2.00h-1.99zM425.67 201.32h1.99v2.00h-1.99zM431.65 201.32h1.99v2.00h-1.99zM333.97 203.33h1.99v2.00h-1.99zM349.92 203.33h1.99v2.00h-1.99zM355.90 203.33h1.99v2.00h-1.99zM357.89 203.33h1.99v2.00h-1.99zM361.88 203.33h1.99v2.00h-1.99zM369.85 203.33h1.99v2.00h-1.99zM385.80 203.33h1.99v2.00h-1.99zM413.71 203.33h1.99v2.00h-1.99zM415.70 203.33h1.99v2.00h-1.99zM429.66 203.33h1.99v2.00h-1.99zM324.00 205.33h1.99v2.00h-1.99zM333.97 205.33h1.99v2.00h-1.99zM341.94 205.33h1.99v2.00h-1.99zM353.90 205.33h1.99v2.00h-1.99zM355.90 205.33h1.99v2.00h-1.99zM357.89 205.33h1.99v2.00h-1.99zM383.81 205.33h1.99v2.00h-1.99zM385.80 205.33h1.99v2.00h-1.99zM423.68 205.33h1.99v2.00h-1.99zM425.67 205.33h1.99v2.00h-1.99zM329.98 207.33h1.99v2.00h-1.99zM331.97 207.33h1.99v2.00h-1.99zM333.97 207.33h1.99v2.00h-1.99zM343.94 207.33h1.99v2.00h-1.99zM353.90 207.33h1.99v2.00h-1.99zM355.90 207.33h1.99v2.00h-1.99zM357.89 207.33h1.99v2.00h-1.99zM359.88 207.33h1.99v2.00h-1.99zM361.88 207.33h1.99v2.00h-1.99zM363.87 207.33h1.99v2.00h-1.99zM369.85 207.33h1.99v2.00h-1.99zM385.80 207.33h1.99v2.00h-1.99zM387.79 207.33h1.99v2.00h-1.99zM393.77 207.33h1.99v2.00h-1.99zM403.74 207.33h1.99v2.00h-1.99zM407.73 207.33h1.99v2.00h-1.99zM435.64 207.33h1.99v2.00h-1.99zM329.98 209.34h1.99v2.00h-1.99zM331.97 209.34h1.99v2.00h-1.99zM385.80 209.34h1.99v2.00h-1.99zM387.79 209.34h1.99v2.00h-1.99zM427.66 209.34h1.99v2.00h-1.99zM329.98 211.34h1.99v2.00h-1.99zM331.97 211.34h1.99v2.00h-1.99zM333.97 211.34h1.99v2.00h-1.99zM369.85 211.34h1.99v2.00h-1.99zM379.82 211.34h1.99v2.00h-1.99zM387.79 211.34h1.99v2.00h-1.99zM423.68 211.34h1.99v2.00h-1.99zM445.61 211.34h1.99v2.00h-1.99zM327.99 213.34h1.99v2.00h-1.99zM329.98 213.34h1.99v2.00h-1.99zM331.97 213.34h1.99v2.00h-1.99zM333.97 213.34h1.99v2.00h-1.99zM351.91 213.34h1.99v2.00h-1.99zM379.82 213.34h1.99v2.00h-1.99zM391.78 213.34h1.99v2.00h-1.99zM393.77 213.34h1.99v2.00h-1.99zM429.66 213.34h1.99v2.00h-1.99zM441.62 213.34h1.99v2.00h-1.99zM443.61 213.34h1.99v2.00h-1.99zM329.98 215.35h1.99v2.00h-1.99zM337.95 215.35h1.99v2.00h-1.99zM371.85 215.35h1.99v2.00h-1.99zM391.78 215.35h1.99v2.00h-1.99zM421.68 215.35h1.99v2.00h-1.99zM429.66 215.35h1.99v2.00h-1.99zM337.95 217.35h1.99v2.00h-1.99zM341.94 217.35h1.99v2.00h-1.99zM349.92 217.35h1.99v2.00h-1.99zM351.91 217.35h1.99v2.00h-1.99zM353.90 217.35h1.99v2.00h-1.99zM375.83 217.35h1.99v2.00h-1.99zM383.81 217.35h1.99v2.00h-1.99zM393.77 217.35h1.99v2.00h-1.99zM417.70 217.35h1.99v2.00h-1.99zM423.68 217.35h1.99v2.00h-1.99zM425.67 217.35h1.99v2.00h-1.99zM333.97 219.36h1.99v2.00h-1.99zM337.95 219.36h1.99v2.00h-1.99zM349.92 219.36h1.99v2.00h-1.99zM351.91 219.36h1.99v2.00h-1.99zM357.89 219.36h1.99v2.00h-1.99zM361.88 219.36h1.99v2.00h-1.99zM373.84 219.36h1.99v2.00h-1.99zM385.80 219.36h1.99v2.00h-1.99zM389.79 219.36h1.99v2.00h-1.99zM393.77 219.36h1.99v2.00h-1.99zM401.75 219.36h1.99v2.00h-1.99zM337.95 221.36h1.99v2.00h-1.99zM339.95 221.36h1.99v2.00h-1.99zM341.94 221.36h1.99v2.00h-1.99zM343.94 221.36h1.99v2.00h-1.99zM369.85 221.36h1.99v2.00h-1.99zM371.85 221.36h1.99v2.00h-1.99zM385.80 221.36h1.99v2.00h-1.99zM389.79 221.36h1.99v2.00h-1.99zM357.89 223.36h1.99v2.00h-1.99zM385.80 223.36h1.99v2.00h-1.99zM427.66 223.36h1.99v2.00h-1.99zM343.94 225.37h1.99v2.00h-1.99zM347.92 225.37h1.99v2.00h-1.99zM351.91 225.37h1.99v2.00h-1.99zM383.81 225.37h1.99v2.00h-1.99zM385.80 225.37h1.99v2.00h-1.99zM387.79 225.37h1.99v2.00h-1.99zM343.94 227.37h1.99v2.00h-1.99zM347.92 227.37h1.99v2.00h-1.99zM355.90 227.37h1.99v2.00h-1.99zM361.88 227.37h1.99v2.00h-1.99zM363.87 227.37h1.99v2.00h-1.99zM381.81 227.37h1.99v2.00h-1.99zM439.63 227.37h1.99v2.00h-1.99zM331.97 229.37h1.99v2.00h-1.99zM333.97 229.37h1.99v2.00h-1.99zM339.95 229.37h1.99v2.00h-1.99zM343.94 229.37h1.99v2.00h-1.99zM351.91 229.37h1.99v2.00h-1.99zM361.88 229.37h1.99v2.00h-1.99zM369.85 229.37h1.99v2.00h-1.99zM379.82 229.37h1.99v2.00h-1.99zM381.81 229.37h1.99v2.00h-1.99zM383.81 229.37h1.99v2.00h-1.99zM417.70 229.37h1.99v2.00h-1.99zM419.69 229.37h1.99v2.00h-1.99zM331.97 231.38h1.99v2.00h-1.99zM343.94 231.38h1.99v2.00h-1.99zM351.91 231.38h1.99v2.00h-1.99zM355.90 231.38h1.99v2.00h-1.99zM359.88 231.38h1.99v2.00h-1.99zM361.88 231.38h1.99v2.00h-1.99zM369.85 231.38h1.99v2.00h-1.99zM383.81 231.38h1.99v2.00h-1.99zM331.97 233.38h1.99v2.00h-1.99zM349.92 233.38h1.99v2.00h-1.99zM351.91 233.38h1.99v2.00h-1.99zM359.88 233.38h1.99v2.00h-1.99zM361.88 233.38h1.99v2.00h-1.99zM367.86 233.38h1.99v2.00h-1.99zM369.85 233.38h1.99v2.00h-1.99zM371.85 233.38h1.99v2.00h-1.99zM383.81 233.38h1.99v2.00h-1.99zM391.78 233.38h1.99v2.00h-1.99zM331.97 235.39h1.99v2.00h-1.99zM335.96 235.39h1.99v2.00h-1.99zM347.92 235.39h1.99v2.00h-1.99zM349.92 235.39h1.99v2.00h-1.99zM351.91 235.39h1.99v2.00h-1.99zM373.84 235.39h1.99v2.00h-1.99zM383.81 235.39h1.99v2.00h-1.99zM393.77 235.39h1.99v2.00h-1.99zM325.99 237.39h1.99v2.00h-1.99zM349.92 237.39h1.99v2.00h-1.99zM351.91 237.39h1.99v2.00h-1.99zM367.86 237.39h1.99v2.00h-1.99zM393.77 237.39h1.99v2.00h-1.99zM427.66 237.39h1.99v2.00h-1.99zM324.00 239.39h1.99v2.00h-1.99zM331.97 239.39h1.99v2.00h-1.99zM335.96 239.39h1.99v2.00h-1.99zM367.86 239.39h1.99v2.00h-1.99zM415.70 239.39h1.99v2.00h-1.99zM417.70 239.39h1.99v2.00h-1.99zM445.61 239.39h1.99v2.00h-1.99zM324.00 241.40h1.99v2.00h-1.99zM335.96 241.40h1.99v2.00h-1.99zM351.91 241.40h1.99v2.00h-1.99z"/>
<path fill="#f7f7ff" d="M335.96 25.00h1.99v2.00h-1.99zM369.85 25.00h1.99v2.00h-1.99zM379.82 25.00h1.99v2.00h-1.99zM399.75 25.00h1.99v2.00h-1.99zM431.65 25.00h1.99v2.00h-1.99zM433.65 25.00h1.99v2.00h-1.99zM351.91 27.00h1.99v2.00h-1.99zM371.85 27.00h1.99v2.00h-1.99zM391.78 27.00h1.99v2.00h-1.99zM401.75 27.00h1.99v2.00h-1.99zM433.65 27.00h1.99v2.00h-1.99zM435.64 27.00h1.99v2.00h-1.99zM437.63 27.00h1.99v2.00h-1.99zM439.63 27.00h1.99v2.00h-1.99zM325.99 29.01h1.99v2.00h-1.99zM349.92 29.01h1.99v2.00h-1.99zM351.91 29.01h1.99v2.00h-1.99zM353.90 29.01h1.99v2.00h-1.99zM363.87 29.01h1.99v2.00h-1.99zM377.83 29.01h1.99v2.00h-1.99zM379.82 29.01h1.99v2.00h-1.99zM395.77 29.01h1.99v2.00h-1.99zM409.72 29.01h1.99v2.00h-1.99zM339.95 31.01h1.99v2.00h-1.99zM341.94 31.01h1.99v2.00h-1.99zM343.94 31.01h1.99v2.00h-1.99zM353.90 31.01h1.99v2.00h-1.99zM355.90 31.01h1.99v2.00h-1.99zM359.88 31.01h1.99v2.00h-1.99zM363.87 31.01h1.99v2.00h-1.99zM373.84 31.01h1.99v2.00h-1.99zM389.79 31.01h1.99v2.00h-1.99zM393.77 31.01h1.99v2.00h-1.99zM399.75 31.01h1.99v2.00h-1.99zM325.99 33.01h1.99v2.00h-1.99zM327.99 33.01h1.99v2.00h-1.99zM329.98 33.01h1.99v2.00h-1.99zM363.87 33.01h1.99v2.00h-1.99zM365.86 33.01h1.99v2.00h-1.99zM375.83 33.01h1.99v2.00h-1.99zM377.83 33.01h1.99v2.00h-1.99zM383.81 33.01h1.99v2.00h-1.99zM399.75 33.01h1.99v2.00h-1.99zM329.98 35.02h1.99v2.00h-1.99zM335.96 35.02h1.99v2.00h-1.99zM337.95 35.02h1.99v2.00h-1.99zM339.95 35.02h1.99v2.00h-1.99zM345.93 35.02h1.99v2.00h-1.99zM363.87 35.02h1.99v2.00h-1.99zM365.86 35.02h1.99v2.00h-1.99zM367.86 35.02h1.99v2.00h-1.99zM375.83 35.02h1.99v2.00h-1.99zM377.83 35.02h1.99v2.00h-1.99zM393.77 35.02h1.99v2.00h-1.99zM397.76 35.02h1.99v2.00h-1.99zM399.75 35.02h1.99v2.00h-1.99zM419.69 35.02h1.99v2.00h-1.99zM421.68 35.02h1.99v2.00h-1.99zM425.67 35.02h1.99v2.00h-1.99zM324.00 37.02h1.99v2.00h-1.99zM329.98 37.02h1.99v2.00h-1.99zM333.97 37.02h1.99v2.00h-1.99zM335.96 37.02h1.99v2.00h-1.99zM345.93 37.02h1.99v2.00h-1.99zM351.91 37.02h1.99v2.00h-1.99zM375.83 37.02h1.99v2.00h-1.99zM377.83 37.02h1.99v2.00h-1.99zM379.82 37.02h1.99v2.00h-1.99zM381.81 37.02h1.99v2.00h-1.99zM391.78 37.02h1.99v2.00h-1.99zM324.00 39.03h1.99v2.00h-1.99zM325.99 39.03h1.99v2.00h-1.99zM347.92 39.03h1.99v2.00h-1.99zM351.91 39.03h1.99v2.00h-1.99zM353.90 39.03h1.99v2.00h-1.99zM383.81 39.03h1.99v2.00h-1.99zM385.80 39.03h1.99v2.00h-1.99zM387.79 39.03h1.99v2.00h-1.99zM389.79 39.03h1.99v2.00h-1.99zM391.78 39.03h1.99v2.00h-1.99zM393.77 39.03h1.99v2.00h-1.99zM395.77 39.03h1.99v2.00h-1.99zM417.70 39.03h1.99v2.00h-1.99zM324.00 41.03h1.99v2.00h-1.99zM325.99 41.03h1.99v2.00h-1.99zM333.97 41.03h1.99v2.00h-1.99zM335.96 41.03h1.99v2.00h-1.99zM345.93 41.03h1.99v2.00h-1.99zM347.92 41.03h1.99v2.00h-1.99zM349.92 41.03h1.99v2.00h-1.99zM391.78 41.03h1.99v2.00h-1.99zM393.77 41.03h1.99v2.00h-1.99zM395.77 41.03h1.99v2.00h-1.99zM397.76 41.03h1.99v2.00h-1.99zM399.75 41.03h1.99v2.00h-1.99zM409.72 41.03h1.99v2.00h-1.99zM411.72 41.03h1.99v2.00h-1.99zM413.71 41.03h1.99v2.00h-1.99zM324.00 43.03h1.99v2.00h-1.99zM325.99 43.03h1.99v2.00h-1.99zM333.97 43.03h1.99v2.00h-1.99zM345.93 43.03h1.99v2.00h-1.99zM347.92 43.03h1.99v2.00h-1.99zM349.92 43.03h1.99v2.00h-1.99zM351.91 43.03h1.99v2.00h-1.99zM359.88 43.03h1.99v2.00h-1.99zM379.82 43.03h1.99v2.00h-1.99zM381.81 43.03h1.99v2.00h-1.99zM409.72 43.03h1.99v2.00h-1.99zM425.67 43.03h1.99v2.00h-1.99zM439.63 43.03h1.99v2.00h-1.99zM324.00 45.04h1.99v2.00h-1.99zM325.99 45.04h1.99v2.00h-1.99zM327.99 45.04h1.99v2.00h-1.99zM333.97 45.04h1.99v2.00h-1.99zM355.90 45.04h1.99v2.00h-1.99zM359.88 45.04h1.99v2.00h-1.99zM377.83 45.04h1.99v2.00h-1.99zM391.78 45.04h1.99v2.00h-1.99zM401.75 45.04h1.99v2.00h-1.99zM403.74 45.04h1.99v2.00h-1.99zM405.74 45.04h1.99v2.00h-1.99zM407.73 45.04h1.99v2.00h-1.99zM409.72 45.04h1.99v2.00h-1.99zM417.70 45.04h1.99v2.00h-1.99zM327.99 47.04h1.99v2.00h-1.99zM329.98 47.04h1.99v2.00h-1.99zM331.97 47.04h1.99v2.00h-1.99zM333.97 47.04h1.99v2.00h-1.99zM341.94 47.04h1.99v2.00h-1.99zM349.92 47.04h1.99v2.00h-1.99zM351.91 47.04h1.99v2.00h-1.99zM353.90 47.04h1.99v2.00h-1.99zM385.80 47.04h1.99v2.00h-1.99zM389.79 47.04h1.99v2.00h-1.99zM391.78 47.04h1.99v2.00h-1.99zM405.74 47.04h1.99v2.00h-1.99zM413.71 47.04h1.99v2.00h-1.99zM419.69 47.04h1.99v2.00h-1.99zM353.90 49.04h1.99v2.00h-1.99zM355.90 49.04h1.99v2.00h-1.99zM359.88 49.04h1.99v2.00h-1.99zM377.83 49.04h1.99v2.00h-1.99zM385.80 49.04h1.99v2.00h-1.99zM387.79 49.04h1.99v2.00h-1.99zM395.77 49.04h1.99v2.00h-1.99zM401.75 49.04h1.99v2.00h-1.99zM415.70 49.04h1.99v2.00h-1.99zM324.00 51.05h1.99v2.00h-1.99zM325.99 51.05h1.99v2.00h-1.99zM341.94 51.05h1.99v2.00h-1.99zM343.94 51.05h1.99v2.00h-1.99zM349.92 51.05h1.99v2.00h-1.99zM353.90 51.05h1.99v2.00h-1.99zM355.90 51.05h1.99v2.00h-1.99zM377.83 51.05h1.99v2.00h-1.99zM401.75 51.05h1.99v2.00h-1.99zM405.74 51.05h1.99v2.00h-1.99zM407.73 51.05h1.99v2.00h-1.99zM409.72 51.05h1.99v2.00h-1.99zM419.69 51.05h1.99v2.00h-1.99zM331.97 53.05h1.99v2.00h-1.99zM345.93 53.05h1.99v2.00h-1.99zM347.92 53.05h1.99v2.00h-1.99zM349.92 53.05h1.99v2.00h-1.99zM353.90 53.05h1.99v2.00h-1.99zM373.84 53.05h1.99v2.00h-1.99zM375.83 53.05h1.99v2.00h-1.99zM377.83 53.05h1.99v2.00h-1.99zM381.81 53.05h1.99v2.00h-1.99zM383.81 53.05h1.99v2.00h-1.99zM324.00 55.06h1.99v2.00h-1.99zM329.98 55.06h1.99v2.00h-1.99zM331.97 55.06h1.99v2.00h-1.99zM347.92 55.06h1.99v2.00h-1.99zM349.92 55.06h1.99v2.00h-1.99zM365.86 55.06h1.99v2.00h-1.99zM367.86 55.06h1.99v2.00h-1.99zM373.84 55.06h1.99v2.00h-1.99zM407.73 55.06h1.99v2.00h-1.99zM415.70 55.06h1.99v2.00h-1.99zM333.97 57.06h1.99v2.00h-1.99zM349.92 57.06h1.99v2.00h-1.99zM359.88 57.06h1.99v2.00h-1.99zM379.82 57.06h1.99v2.00h-1.99zM397.76 57.06h1.99v2.00h-1.99zM399.75 57.06h1.99v2.00h-1.99zM421.68 57.06h1.99v2.00h-1.99zM423.68 57.06h1.99v2.00h-1.99zM443.61 57.06h1.99v2.00h-1.99zM325.99 59.06h1.99v2.00h-1.99zM331.97 59.06h1.99v2.00h-1.99zM337.95 59.06h1.99v2.00h-1.99zM349.92 59.06h1.99v2.00h-1.99zM351.91 59.06h1.99v2.00h-1.99zM355.90 59.06h1.99v2.00h-1.99zM383.81 59.06h1.99v2.00h-1.99zM393.77 59.06h1.99v2.00h-1.99zM399.75 59.06h1.99v2.00h-1.99zM433.65 59.06h1.99v2.00h-1.99zM435.64 59.06h1.99v2.00h-1.99zM329.98 61.07h1.99v2.00h-1.99zM351.91 61.07h1.99v2.00h-1.99zM359.88 61.07h1.99v2.00h-1.99zM373.84 61.07h1.99v2.00h-1.99zM375.83 61.07h1.99v2.00h-1.99zM377.83 61.07h1.99v2.00h-1.99zM379.82 61.07h1.99v2.00h-1.99zM381.81 61.07h1.99v2.00h-1.99zM389.79 61.07h1.99v2.00h-1.99zM391.78 61.07h1.99v2.00h-1.99zM397.76 61.07h1.99v2.00h-1.99zM399.75 61.07h1.99v2.00h-1.99zM401.75 61.07h1.99v2.00h-1.99zM437.63 61.07h1.99v2.00h-1.99zM337.95 63.07h1.99v2.00h-1.99zM339.95 63.07h1.99v2.00h-1.99zM341.94 63.07h1.99v2.00h-1.99zM349.92 63.07h1.99v2.00h-1.99zM371.85 63.07h1.99v2.00h-1.99zM375.83 63.07h1.99v2.00h-1.99zM377.83 63.07h1.99v2.00h-1.99zM381.81 63.07h1.99v2.00h-1.99zM383.81 63.07h1.99v2.00h-1.99zM385.80 63.07h1.99v2.00h-1.99zM395.77 63.07h1.99v2.00h-1.99zM324.00 65.07h1.99v2.00h-1.99zM327.99 65.07h1.99v2.00h-1.99zM335.96 65.07h1.99v2.00h-1.99zM337.95 65.07h1.99v2.00h-1.99zM339.95 65.07h1.99v2.00h-1.99zM367.86 65.07h1.99v2.00h-1.99zM369.85 65.07h1.99v2.00h-1.99zM371.85 65.07h1.99v2.00h-1.99zM373.84 65.07h1.99v2.00h-1.99zM375.83 65.07h1.99v2.00h-1.99zM377.83 65.07h1.99v2.00h-1.99zM381.81 65.07h1.99v2.00h-1.99zM393.77 65.07h1.99v2.00h-1.99zM437.63 65.07h1.99v2.00h-1.99zM324.00 67.08h1.99v2.00h-1.99zM325.99 67.08h1.99v2.00h-1.99zM327.99 67.08h1.99v2.00h-1.99zM331.97 67.08h1.99v2.00h-1.99zM333.97 67.08h1.99v2.00h-1.99zM341.94 67.08h1.99v2.00h-1.99zM347.92 67.08h1.99v2.00h-1.99zM357.89 67.08h1.99v2.00h-1.99zM361.88 67.08h1.99v2.00h-1.99zM371.85 67.08h1.99v2.00h-1.99zM375.83 67.08h1.99v2.00h-1.99zM377.83 67.08h1.99v2.00h-1.99zM379.82 67.08h1.99v2.00h-1.99zM381.81 67.08h1.99v2.00h-1.99zM395.77 67.08h1.99v2.00h-1.99zM397.76 67.08h1.99v2.00h-1.99zM421.68 67.08h1.99v2.00h-1.99zM331.97 69.08h1.99v2.00h-1.99zM345.93 69.08h1.99v2.00h-1.99zM347.92 69.08h1.99v2.00h-1.99zM349.92 69.08h1.99v2.00h-1.99zM351.91 69.08h1.99v2.00h-1.99zM353.90 69.08h1.99v2.00h-1.99zM355.90 69.08h1.99v2.00h-1.99zM357.89 69.08h1.99v2.00h-1.99zM359.88 69.08h1.99v2.00h-1.99zM365.86 69.08h1.99v2.00h-1.99zM367.86 69.08h1.99v2.00h-1.99zM371.85 69.08h1.99v2.00h-1.99zM389.79 69.08h1.99v2.00h-1.99zM395.77 69.08h1.99v2.00h-1.99zM419.69 69.08h1.99v2.00h-1.99zM331.97 71.08h1.99v2.00h-1.99zM333.97 71.08h1.99v2.00h-1.99zM337.95 71.08h1.99v2.00h-1.99zM339.95 71.08h1.99v2.00h-1.99zM343.94 71.08h1.99v2.00h-1.99zM345.93 71.08h1.99v2.00h-1.99zM357.89 71.08h1.99v2.00h-1.99zM359.88 71.08h1.99v2.00h-1.99zM365.86 71.08h1.99v2.00h-1.99zM367.86 71.08h1.99v2.00h-1.99zM379.82 71.08h1.99v2.00h-1.99zM381.81 71.08h1.99v2.00h-1.99zM383.81 71.08h1.99v2.00h-1.99zM395.77 71.08h1.99v2.00h-1.99zM397.76 71.08h1.99v2.00h-1.99zM403.74 71.08h1.99v2.00h-1.99zM409.72 71.08h1.99v2.00h-1.99zM411.72 71.08h1.99v2.00h-1.99zM324.00 73.09h1.99v2.00h-1.99zM331.97 73.09h1.99v2.00h-1.99zM337.95 73.09h1.99v2.00h-1.99zM341.94 73.09h1.99v2.00h-1.99zM343.94 73.09h1.99v2.00h-1.99zM345.93 73.09h1.99v2.00h-1.99zM349.92 73.09h1.99v2.00h-1.99zM351.91 73.09h1.99v2.00h-1.99zM355.90 73.09h1.99v2.00h-1.99zM357.89 73.09h1.99v2.00h-1.99zM359.88 73.09h1.99v2.00h-1.99zM361.88 73.09h1.99v2.00h-1.99zM369.85 73.09h1.99v2.00h-1.99zM377.83 73.09h1.99v2.00h-1.99zM379.82 73.09h1.99v2.00h-1.99zM381.81 73.09h1.99v2.00h-1.99zM383.81 73.09h1.99v2.00h-1.99zM393.77 73.09h1.99v2.00h-1.99zM395.77 73.09h1.99v2.00h-1.99zM397.76 73.09h1.99v2.00h-1.99zM431.65 73.09h1.99v2.00h-1.99zM435.64 73.09h1.99v2.00h-1.99zM324.00 75.09h1.99v2.00h-1.99zM325.99 75.09h1.99v2.00h-1.99zM327.99 75.09h1.99v2.00h-1.99zM329.98 75.09h1.99v2.00h-1.99zM367.86 75.09h1.99v2.00h-1.99zM369.85 75.09h1.99v2.00h-1.99zM371.85 75.09h1.99v2.00h-1.99zM377.83 75.09h1.99v2.00h-1.99zM379.82 75.09h1.99v2.00h-1.99zM381.81 75.09h1.99v2.00h-1.99zM387.79 75.09h1.99v2.00h-1.99zM395.77 75.09h1.99v2.00h-1.99zM397.76 75.09h1.99v2.00h-1.99zM401.75 75.09h1.99v2.00h-1.99zM403.74 75.09h1.99v2.00h-1.99zM431.65 75.09h1.99v2.00h-1.99zM433.65 75.09h1.99v2.00h-1.99zM437.63 75.09h1.99v2.00h-1.99zM327.99 77.10h1.99v2.00h-1.99zM329.98 77.10h1.99v2.00h-1.99zM331.97 77.10h1.99v2.00h-1.99zM343.94 77.10h1.99v2.00h-1.99zM345.93 77.10h1.99v2.00h-1.99zM347.92 77.10h1.99v2.00h-1.99zM361.88 77.10h1.99v2.00h-1.99zM365.86 77.10h1.99v2.00h-1.99zM369.85 77.10h1.99v2.00h-1.99zM373.84 77.10h1.99v2.00h-1.99zM377.83 77.10h1.99v2.00h-1.99zM389.79 77.10h1.99v2.00h-1.99zM395.77 77.10h1.99v2.00h-1.99zM397.76 77.10h1.99v2.00h-1.99zM399.75 77.10h1.99v2.00h-1.99zM411.72 77.10h1.99v2.00h-1.99zM425.67 77.10h1.99v2.00h-1.99zM333.97 79.10h1.99v2.00h-1.99zM335.96 79.10h1.99v2.00h-1.99zM341.94 79.10h1.99v2.00h-1.99zM343.94 79.10h1.99v2.00h-1.99zM355.90 79.10h1.99v2.00h-1.99zM369.85 79.10h1.99v2.00h-1.99zM371.85 79.10h1.99v2.00h-1.99zM377.83 79.10h1.99v2.00h-1.99zM383.81 79.10h1.99v2.00h-1.99zM385.80 79.10h1.99v2.00h-1.99zM397.76 79.10h1.99v2.00h-1.99zM433.65 79.10h1.99v2.00h-1.99zM443.61 79.10h1.99v2.00h-1.99zM325.99 81.10h1.99v2.00h-1.99zM331.97 81.10h1.99v2.00h-1.99zM333.97 81.10h1.99v2.00h-1.99zM335.96 81.10h1.99v2.00h-1.99zM345.93 81.10h1.99v2.00h-1.99zM359.88 81.10h1.99v2.00h-1.99zM365.86 81.10h1.99v2.00h-1.99zM371.85 81.10h1.99v2.00h-1.99zM377.83 81.10h1.99v2.00h-1.99zM379.82 81.10h1.99v2.00h-1.99zM381.81 81.10h1.99v2.00h-1.99zM383.81 81.10h1.99v2.00h-1.99zM401.75 81.10h1.99v2.00h-1.99zM403.74 81.10h1.99v2.00h-1.99zM411.72 81.10h1.99v2.00h-1.99zM413.71 81.10h1.99v2.00h-1.99zM421.68 81.10h1.99v2.00h-1.99zM445.61 81.10h1.99v2.00h-1.99zM324.00 83.11h1.99v2.00h-1.99zM325.99 83.11h1.99v2.00h-1.99zM327.99 83.11h1.99v2.00h-1.99zM329.98 83.11h1.99v2.00h-1.99zM339.95 83.11h1.99v2.00h-1.99zM341.94 83.11h1.99v2.00h-1.99zM343.94 83.11h1.99v2.00h-1.99zM357.89 83.11h1.99v2.00h-1.99zM359.88 83.11h1.99v2.00h-1.99zM361.88 83.11h1.99v2.00h-1.99zM365.86 83.11h1.99v2.00h-1.99zM377.83 83.11h1.99v2.00h-1.99zM383.81 83.11h1.99v2.00h-1.99zM385.80 83.11h1.99v2.00h-1.99zM395.77 83.11h1.99v2.00h-1.99zM397.76 83.11h1.99v2.00h-1.99zM421.68 83.11h1.99v2.00h-1.99zM423.68 83.11h1.99v2.00h-1.99zM335.96 85.11h1.99v2.00h-1.99zM339.95 85.11h1.99v2.00h-1.99zM341.94 85.11h1.99v2.00h-1.99zM349.92 85.11h1.99v2.00h-1.99zM399.75 85.11h1.99v2.00h-1.99zM411.72 85.11h1.99v2.00h-1.99zM425.67 85.11h1.99v2.00h-1.99zM429.66 85.11h1.99v2.00h-1.99zM433.65 85.11h1.99v2.00h-1.99zM435.64 85.11h1.99v2.00h-1.99zM324.00 87.11h1.99v2.00h-1.99zM325.99 87.11h1.99v2.00h-1.99zM337.95 87.11h1.99v2.00h-1.99zM351.91 87.11h1.99v2.00h-1.99zM357.89 87.11h1.99v2.00h-1.99zM359.88 87.11h1.99v2.00h-1.99zM361.88 87.11h1.99v2.00h-1.99zM377.83 87.11h1.99v2.00h-1.99zM415.70 87.11h1.99v2.00h-1.99zM417.70 87.11h1.99v2.00h-1.99zM441.62 87.11h1.99v2.00h-1.99zM445.61 87.11h1.99v2.00h-1.99zM325.99 89.12h1.99v2.00h-1.99zM333.97 89.12h1.99v2.00h-1.99zM335.96 89.12h1.99v2.00h-1.99zM363.87 89.12h1.99v2.00h-1.99zM369.85 89.12h1.99v2.00h-1.99zM377.83 89.12h1.99v2.00h-1.99zM395.77 89.12h1.99v2.00h-1.99zM397.76 89.12h1.99v2.00h-1.99zM399.75 89.12h1.99v2.00h-1.99zM401.75 89.12h1.99v2.00h-1.99zM341.94 91.12h1.99v2.00h-1.99zM343.94 91.12h1.99v2.00h-1.99zM363.87 91.12h1.99v2.00h-1.99zM367.86 91.12h1.99v2.00h-1.99zM381.81 91.12h1.99v2.00h-1.99zM433.65 91.12h1.99v2.00h-1.99zM333.97 93.12h1.99v2.00h-1.99zM343.94 93.12h1.99v2.00h-1.99zM345.93 93.12h1.99v2.00h-1.99zM347.92 93.12h1.99v2.00h-1.99zM349.92 93.12h1.99v2.00h-1.99zM353.90 93.12h1.99v2.00h-1.99zM355.90 93.12h1.99v2.00h-1.99zM365.86 93.12h1.99v2.00h-1.99zM387.79 93.12h1.99v2.00h-1.99zM389.79 93.12h1.99v2.00h-1.99zM395.77 93.12h1.99v2.00h-1.99zM405.74 93.12h1.99v2.00h-1.99zM419.69 93.12h1.99v2.00h-1.99zM421.68 93.12h1.99v2.00h-1.99zM445.61 93.12h1.99v2.00h-1.99zM363.87 95.13h1.99v2.00h-1.99zM365.86 95.13h1.99v2.00h-1.99zM367.86 95.13h1.99v2.00h-1.99zM369.85 95.13h1.99v2.00h-1.99zM375.83 95.13h1.99v2.00h-1.99zM387.79 95.13h1.99v2.00h-1.99zM393.77 95.13h1.99v2.00h-1.99zM413.71 95.13h1.99v2.00h-1.99zM417.70 95.13h1.99v2.00h-1.99zM425.67 95.13h1.99v2.00h-1.99zM427.66 95.13h1.99v2.00h-1.99zM429.66 95.13h1.99v2.00h-1.99zM324.00 97.13h1.99v2.00h-1.99zM353.90 97.13h1.99v2.00h-1.99zM355.90 97.13h1.99v2.00h-1.99zM357.89 97.13h1.99v2.00h-1.99zM359.88 97.13h1.99v2.00h-1.99zM369.85 97.13h1.99v2.00h-1.99zM377.83 97.13h1.99v2.00h-1.99zM381.81 97.13h1.99v2.00h-1.99zM383.81 97.13h1.99v2.00h-1.99zM385.80 97.13h1.99v2.00h-1.99zM387.79 97.13h1.99v2.00h-1.99zM391.78 97.13h1.99v2.00h-1.99zM405.74 97.13h1.99v2.00h-1.99zM407.73 97.13h1.99v2.00h-1.99zM411.72 97.13h1.99v2.00h-1.99zM437.63 97.13h1.99v2.00h-1.99zM324.00 99.14h1.99v2.00h-1.99zM327.99 99.14h1.99v2.00h-1.99zM329.98 99.14h1.99v2.00h-1.99zM339.95 99.14h1.99v2.00h-1.99zM343.94 99.14h1.99v2.00h-1.99zM355.90 99.14h1.99v2.00h-1.99zM357.89 99.14h1.99v2.00h-1.99zM367.86 99.14h1.99v2.00h-1.99zM371.85 99.14h1.99v2.00h-1.99zM373.84 99.14h1.99v2.00h-1.99zM381.81 99.14h1.99v2.00h-1.99zM383.81 99.14h1.99v2.00h-1.99zM385.80 99.14h1.99v2.00h-1.99zM387.79 99.14h1.99v2.00h-1.99zM441.62 99.14h1.99v2.00h-1.99zM443.61 99.14h1.99v2.00h-1.99zM445.61 99.14h1.99v2.00h-1.99zM353.90 101.14h1.99v2.00h-1.99zM357.89 101.14h1.99v2.00h-1.99zM381.81 101.14h1.99v2.00h-1.99zM385.80 101.14h1.99v2.00h-1.99zM389.79 101.14h1.99v2.00h-1.99zM391.78 101.14h1.99v2.00h-1.99zM393.77 101.14h1.99v2.00h-1.99zM433.65 101.14h1.99v2.00h-1.99zM435.64 101.14h1.99v2.00h-1.99zM327.99 103.14h1.99v2.00h-1.99zM331.97 103.14h1.99v2.00h-1.99zM333.97 103.14h1.99v2.00h-1.99zM339.95 103.14h1.99v2.00h-1.99zM341.94 103.14h1.99v2.00h-1.99zM343.94 103.14h1.99v2.00h-1.99zM369.85 103.14h1.99v2.00h-1.99zM375.83 103.14h1.99v2.00h-1.99zM377.83 103.14h1.99v2.00h-1.99zM379.82 103.14h1.99v2.00h-1.99zM383.81 103.14h1.99v2.00h-1.99zM385.80 103.14h1.99v2.00h-1.99zM403.74 103.14h1.99v2.00h-1.99zM409.72 103.14h1.99v2.00h-1.99zM423.68 103.14h1.99v2.00h-1.99zM439.63 103.14h1.99v2.00h-1.99zM324.00 105.15h1.99v2.00h-1.99zM327.99 105.15h1.99v2.00h-1.99zM329.98 105.15h1.99v2.00h-1.99zM331.97 105.15h1.99v2.00h-1.99zM333.97 105.15h1.99v2.00h-1.99zM365.86 105.15h1.99v2.00h-1.99zM367.86 105.15h1.99v2.00h-1.99zM369.85 105.15h1.99v2.00h-1.99zM371.85 105.15h1.99v2.00h-1.99zM373.84 105.15h1.99v2.00h-1.99zM379.82 105.15h1.99v2.00h-1.99zM381.81 105.15h1.99v2.00h-1.99zM383.81 105.15h1.99v2.00h-1.99zM385.80 105.15h1.99v2.00h-1.99zM387.79 105.15h1.99v2.00h-1.99zM397.76 105.15h1.99v2.00h-1.99zM399.75 105.15h1.99v2.00h-1.99zM341.94 107.15h1.99v2.00h-1.99zM343.94 107.15h1.99v2.00h-1.99zM345.93 107.15h1.99v2.00h-1.99zM347.92 107.15h1.99v2.00h-1.99zM361.88 107.15h1.99v2.00h-1.99zM379.82 107.15h1.99v2.00h-1.99zM383.81 107.15h1.99v2.00h-1.99zM385.80 107.15h1.99v2.00h-1.99zM387.79 107.15h1.99v2.00h-1.99zM389.79 107.15h1.99v2.00h-1.99zM391.78 107.15h1.99v2.00h-1.99zM399.75 107.15h1.99v2.00h-1.99zM425.67 107.15h1.99v2.00h-1.99zM427.66 107.15h1.99v2.00h-1.99zM429.66 107.15h1.99v2.00h-1.99zM437.63 107.15h1.99v2.00h-1.99zM325.99 109.15h1.99v2.00h-1.99zM335.96 109.15h1.99v2.00h-1.99zM337.95 109.15h1.99v2.00h-1.99zM339.95 109.15h1.99v2.00h-1.99zM351.91 109.15h1.99v2.00h-1.99zM357.89 109.15h1.99v2.00h-1.99zM367.86 109.15h1.99v2.00h-1.99zM369.85 109.15h1.99v2.00h-1.99zM375.83 109.15h1.99v2.00h-1.99zM379.82 109.15h1.99v2.00h-1.99zM381.81 109.15h1.99v2.00h-1.99zM383.81 109.15h1.99v2.00h-1.99zM387.79 109.15h1.99v2.00h-1.99zM395.77 109.15h1.99v2.00h-1.99zM397.76 109.15h1.99v2.00h-1.99zM415.70 109.15h1.99v2.00h-1.99zM417.70 109.15h1.99v2.00h-1.99zM431.65 109.15h1.99v2.00h-1.99zM351.91 111.16h1.99v2.00h-1.99zM353.90 111.16h1.99v2.00h-1.99zM357.89 111.16h1.99v2.00h-1.99zM369.85 111.16h1.99v2.00h-1.99zM371.85 111.16h1.99v2.00h-1.99zM379.82 111.16h1.99v2.00h-1.99zM399.75 111.16h1.99v2.00h-1.99zM419.69 111.16h1.99v2.00h-1.99zM443.61 111.16h1.99v2.00h-1.99zM324.00 113.16h1.99v2.00h-1.99zM325.99 113.16h1.99v2.00h-1.99zM327.99 113.16h1.99v2.00h-1.99zM343.94 113.16h1.99v2.00h-1.99zM363.87 113.16h1.99v2.00h-1.99zM365.86 113.16h1.99v2.00h-1.99zM367.86 113.16h1.99v2.00h-1.99zM369.85 113.16h1.99v2.00h-1.99zM373.84 113.16h1.99v2.00h-1.99zM381.81 113.16h1.99v2.00h-1.99zM383.81 113.16h1.99v2.00h-1.99zM385.80 113.16h1.99v2.00h-1.99zM445.61 113.16h1.99v2.00h-1.99zM324.00 115.17h1.99v2.00h-1.99zM329.98 115.17h1.99v2.00h-1.99zM335.96 115.17h1.99v2.00h-1.99zM337.95 115.17h1.99v2.00h-1.99zM343.94 115.17h1.99v2.00h-1.99zM353.90 115.17h1.99v2.00h-1.99zM355.90 115.17h1.99v2.00h-1.99zM361.88 115.17h1.99v2.00h-1.99zM367.86 115.17h1.99v2.00h-1.99zM369.85 115.17h1.99v2.00h-1.99zM375.83 115.17h1.99v2.00h-1.99zM377.83 115.17h1.99v2.00h-1.99zM379.82 115.17h1.99v2.00h-1.99zM409.72 115.17h1.99v2.00h-1.99zM331.97 117.17h1.99v2.00h-1.99zM347.92 117.17h1.99v2.00h-1.99zM349.92 117.17h1.99v2.00h-1.99zM353.90 117.17h1.99v2.00h-1.99zM355.90 117.17h1.99v2.00h-1.99zM359.88 117.17h1.99v2.00h-1.99zM361.88 117.17h1.99v2.00h-1.99zM367.86 117.17h1.99v2.00h-1.99zM391.78 117.17h1.99v2.00h-1.99zM403.74 117.17h1.99v2.00h-1.99zM435.64 117.17h1.99v2.00h-1.99zM439.63 117.17h1.99v2.00h-1.99zM329.98 119.17h1.99v2.00h-1.99zM341.94 119.17h1.99v2.00h-1.99zM345.93 119.17h1.99v2.00h-1.99zM347.92 119.17h1.99v2.00h-1.99zM349.92 119.17h1.99v2.00h-1.99zM355.90 119.17h1.99v2.00h-1.99zM357.89 119.17h1.99v2.00h-1.99zM363.87 119.17h1.99v2.00h-1.99zM367.86 119.17h1.99v2.00h-1.99zM375.83 119.17h1.99v2.00h-1.99zM377.83 119.17h1.99v2.00h-1.99zM387.79 119.17h1.99v2.00h-1.99zM389.79 119.17h1.99v2.00h-1.99zM393.77 119.17h1.99v2.00h-1.99zM401.75 119.17h1.99v2.00h-1.99zM405.74 119.17h1.99v2.00h-1.99zM327.99 121.18h1.99v2.00h-1.99zM329.98 121.18h1.99v2.00h-1.99zM331.97 121.18h1.99v2.00h-1.99zM337.95 121.18h1.99v2.00h-1.99zM339.95 121.18h1.99v2.00h-1.99zM343.94 121.18h1.99v2.00h-1.99zM349.92 121.18h1.99v2.00h-1.99zM351.91 121.18h1.99v2.00h-1.99zM371.85 121.18h1.99v2.00h-1.99zM389.79 121.18h1.99v2.00h-1.99zM391.78 121.18h1.99v2.00h-1.99zM409.72 121.18h1.99v2.00h-1.99zM411.72 121.18h1.99v2.00h-1.99zM335.96 123.18h1.99v2.00h-1.99zM351.91 123.18h1.99v2.00h-1.99zM353.90 123.18h1.99v2.00h-1.99zM355.90 123.18h1.99v2.00h-1.99zM363.87 123.18h1.99v2.00h-1.99zM365.86 123.18h1.99v2.00h-1.99zM373.84 123.18h1.99v2.00h-1.99zM381.81 123.18h1.99v2.00h-1.99zM389.79 123.18h1.99v2.00h-1.99zM391.78 123.18h1.99v2.00h-1.99zM397.76 123.18h1.99v2.00h-1.99zM407.73 123.18h1.99v2.00h-1.99zM423.68 123.18h1.99v2.00h-1.99zM427.66 123.18h1.99v2.00h-1.99zM443.61 123.18h1.99v2.00h-1.99zM324.00 125.18h1.99v2.00h-1.99zM333.97 125.18h1.99v2.00h-1.99zM339.95 125.18h1.99v2.00h-1.99zM341.94 125.18h1.99v2.00h-1.99zM349.92 125.18h1.99v2.00h-1.99zM367.86 125.18h1.99v2.00h-1.99zM369.85 125.18h1.99v2.00h-1.99zM371.85 125.18h1.99v2.00h-1.99zM373.84 125.18h1.99v2.00h-1.99zM377.83 125.18h1.99v2.00h-1.99zM383.81 125.18h1.99v2.00h-1.99zM395.77 125.18h1.99v2.00h-1.99zM331.97 127.19h1.99v2.00h-1.99zM333.97 127.19h1.99v2.00h-1.99zM349.92 127.19h1.99v2.00h-1.99zM351.91 127.19h1.99v2.00h-1.99zM355.90 127.19h1.99v2.00h-1.99zM357.89 127.19h1.99v2.00h-1.99zM359.88 127.19h1.99v2.00h-1.99zM377.83 127.19h1.99v2.00h-1.99zM379.82 127.19h1.99v2.00h-1.99zM401.75 127.19h1.99v2.00h-1.99zM411.72 127.19h1.99v2.00h-1.99zM431.65 127.19h1.99v2.00h-1.99zM443.61 127.19h1.99v2.00h-1.99zM445.61 127.19h1.99v2.00h-1.99zM324.00 129.19h1.99v2.00h-1.99zM341.94 129.19h1.99v2.00h-1.99zM345.93 129.19h1.99v2.00h-1.99zM347.92 129.19h1.99v2.00h-1.99zM349.92 129.19h1.99v2.00h-1.99zM353.90 129.19h1.99v2.00h-1.99zM355.90 129.19h1.99v2.00h-1.99zM361.88 129.19h1.99v2.00h-1.99zM367.86 129.19h1.99v2.00h-1.99zM371.85 129.19h1.99v2.00h-1.99zM377.83 129.19h1.99v2.00h-1.99zM379.82 129.19h1.99v2.00h-1.99zM381.81 129.19h1.99v2.00h-1.99zM383.81 129.19h1.99v2.00h-1.99zM385.80 129.19h1.99v2.00h-1.99zM327.99 131.19h1.99v2.00h-1.99zM331.97 131.19h1.99v2.00h-1.99zM333.97 131.19h1.99v2.00h-1.99zM335.96 131.19h1.99v2.00h-1.99zM337.95 131.19h1.99v2.00h-1.99zM339.95 131.19h1.99v2.00h-1.99zM345.93 131.19h1.99v2.00h-1.99zM349.92 131.19h1.99v2.00h-1.99zM351.91 131.19h1.99v2.00h-1.99zM361.88 131.19h1.99v2.00h-1.99zM365.86 131.19h1.99v2.00h-1.99zM383.81 131.19h1.99v2.00h-1.99zM397.76 131.19h1.99v2.00h-1.99zM399.75 131.19h1.99v2.00h-1.99zM401.75 131.19h1.99v2.00h-1.99zM441.62 131.19h1.99v2.00h-1.99zM443.61 131.19h1.99v2.00h-1.99zM445.61 131.19h1.99v2.00h-1.99zM329.98 133.20h1.99v2.00h-1.99zM347.92 133.20h1.99v2.00h-1.99zM351.91 133.20h1.99v2.00h-1.99zM353.90 133.20h1.99v2.00h-1.99zM357.89 133.20h1.99v2.00h-1.99zM367.86 133.20h1.99v2.00h-1.99zM389.79 133.20h1.99v2.00h-1.99zM391.78 133.20h1.99v2.00h-1.99zM397.76 133.20h1.99v2.00h-1.99zM399.75 133.20h1.99v2.00h-1.99zM431.65 133.20h1.99v2.00h-1.99zM341.94 135.20h1.99v2.00h-1.99zM359.88 135.20h1.99v2.00h-1.99zM363.87 135.20h1.99v2.00h-1.99zM365.86 135.20h1.99v2.00h-1.99zM377.83 135.20h1.99v2.00h-1.99zM379.82 135.20h1.99v2.00h-1.99zM381.81 135.20h1.99v2.00h-1.99zM385.80 135.20h1.99v2.00h-1.99zM387.79 135.20h1.99v2.00h-1.99zM443.61 135.20h1.99v2.00h-1.99zM445.61 135.20h1.99v2.00h-1.99zM325.99 137.21h1.99v2.00h-1.99zM337.95 137.21h1.99v2.00h-1.99zM339.95 137.21h1.99v2.00h-1.99zM341.94 137.21h1.99v2.00h-1.99zM343.94 137.21h1.99v2.00h-1.99zM345.93 137.21h1.99v2.00h-1.99zM347.92 137.21h1.99v2.00h-1.99zM357.89 137.21h1.99v2.00h-1.99zM359.88 137.21h1.99v2.00h-1.99zM365.86 137.21h1.99v2.00h-1.99zM371.85 137.21h1.99v2.00h-1.99zM377.83 137.21h1.99v2.00h-1.99zM379.82 137.21h1.99v2.00h-1.99zM383.81 137.21h1.99v2.00h-1.99zM389.79 137.21h1.99v2.00h-1.99zM391.78 137.21h1.99v2.00h-1.99zM393.77 137.21h1.99v2.00h-1.99zM395.77 137.21h1.99v2.00h-1.99zM351.91 139.21h1.99v2.00h-1.99zM353.90 139.21h1.99v2.00h-1.99zM355.90 139.21h1.99v2.00h-1.99zM363.87 139.21h1.99v2.00h-1.99zM367.86 139.21h1.99v2.00h-1.99zM371.85 139.21h1.99v2.00h-1.99zM373.84 139.21h1.99v2.00h-1.99zM375.83 139.21h1.99v2.00h-1.99zM391.78 139.21h1.99v2.00h-1.99zM324.00 141.21h1.99v2.00h-1.99zM325.99 141.21h1.99v2.00h-1.99zM333.97 141.21h1.99v2.00h-1.99zM343.94 141.21h1.99v2.00h-1.99zM349.92 141.21h1.99v2.00h-1.99zM361.88 141.21h1.99v2.00h-1.99zM363.87 141.21h1.99v2.00h-1.99zM377.83 141.21h1.99v2.00h-1.99zM379.82 141.21h1.99v2.00h-1.99zM381.81 141.21h1.99v2.00h-1.99zM385.80 141.21h1.99v2.00h-1.99zM387.79 141.21h1.99v2.00h-1.99zM395.77 141.21h1.99v2.00h-1.99zM397.76 141.21h1.99v2.00h-1.99zM324.00 143.22h1.99v2.00h-1.99zM327.99 143.22h1.99v2.00h-1.99zM331.97 143.22h1.99v2.00h-1.99zM333.97 143.22h1.99v2.00h-1.99zM335.96 143.22h1.99v2.00h-1.99zM373.84 143.22h1.99v2.00h-1.99zM389.79 143.22h1.99v2.00h-1.99zM419.69 143.22h1.99v2.00h-1.99zM421.68 143.22h1.99v2.00h-1.99zM325.99 145.22h1.99v2.00h-1.99zM327.99 145.22h1.99v2.00h-1.99zM329.98 145.22h1.99v2.00h-1.99zM337.95 145.22h1.99v2.00h-1.99zM339.95 145.22h1.99v2.00h-1.99zM343.94 145.22h1.99v2.00h-1.99zM351.91 145.22h1.99v2.00h-1.99zM353.90 145.22h1.99v2.00h-1.99zM357.89 145.22h1.99v2.00h-1.99zM361.88 145.22h1.99v2.00h-1.99zM365.86 145.22h1.99v2.00h-1.99zM371.85 145.22h1.99v2.00h-1.99zM373.84 145.22h1.99v2.00h-1.99zM375.83 145.22h1.99v2.00h-1.99zM379.82 145.22h1.99v2.00h-1.99zM381.81 145.22h1.99v2.00h-1.99zM387.79 145.22h1.99v2.00h-1.99zM353.90 147.22h1.99v2.00h-1.99zM355.90 147.22h1.99v2.00h-1.99zM357.89 147.22h1.99v2.00h-1.99zM363.87 147.22h1.99v2.00h-1.99zM367.86 147.22h1.99v2.00h-1.99zM377.83 147.22h1.99v2.00h-1.99zM379.82 147.22h1.99v2.00h-1.99zM387.79 147.22h1.99v2.00h-1.99zM389.79 147.22h1.99v2.00h-1.99zM391.78 147.22h1.99v2.00h-1.99zM397.76 147.22h1.99v2.00h-1.99zM415.70 147.22h1.99v2.00h-1.99zM423.68 147.22h1.99v2.00h-1.99zM437.63 147.22h1.99v2.00h-1.99zM325.99 149.23h1.99v2.00h-1.99zM327.99 149.23h1.99v2.00h-1.99zM335.96 149.23h1.99v2.00h-1.99zM369.85 149.23h1.99v2.00h-1.99zM373.84 149.23h1.99v2.00h-1.99zM375.83 149.23h1.99v2.00h-1.99zM377.83 149.23h1.99v2.00h-1.99zM381.81 149.23h1.99v2.00h-1.99zM385.80 149.23h1.99v2.00h-1.99zM389.79 149.23h1.99v2.00h-1.99zM391.78 149.23h1.99v2.00h-1.99zM325.99 151.23h1.99v2.00h-1.99zM329.98 151.23h1.99v2.00h-1.99zM341.94 151.23h1.99v2.00h-1.99zM343.94 151.23h1.99v2.00h-1.99zM345.93 151.23h1.99v2.00h-1.99zM359.88 151.23h1.99v2.00h-1.99zM361.88 151.23h1.99v2.00h-1.99zM369.85 151.23h1.99v2.00h-1.99zM375.83 151.23h1.99v2.00h-1.99zM383.81 151.23h1.99v2.00h-1.99zM405.74 151.23h1.99v2.00h-1.99zM427.66 151.23h1.99v2.00h-1.99zM333.97 153.23h1.99v2.00h-1.99zM337.95 153.23h1.99v2.00h-1.99zM339.95 153.23h1.99v2.00h-1.99zM341.94 153.23h1.99v2.00h-1.99zM343.94 153.23h1.99v2.00h-1.99zM351.91 153.23h1.99v2.00h-1.99zM357.89 153.23h1.99v2.00h-1.99zM363.87 153.23h1.99v2.00h-1.99zM365.86 153.23h1.99v2.00h-1.99zM367.86 153.23h1.99v2.00h-1.99zM369.85 153.23h1.99v2.00h-1.99zM377.83 153.23h1.99v2.00h-1.99zM379.82 153.23h1.99v2.00h-1.99zM383.81 153.23h1.99v2.00h-1.99zM335.96 155.24h1.99v2.00h-1.99zM337.95 155.24h1.99v2.00h-1.99zM339.95 155.24h1.99v2.00h-1.99zM343.94 155.24h1.99v2.00h-1.99zM349.92 155.24h1.99v2.00h-1.99zM377.83 155.24h1.99v2.00h-1.99zM391.78 155.24h1.99v2.00h-1.99zM393.77 155.24h1.99v2.00h-1.99zM405.74 155.24h1.99v2.00h-1.99zM407.73 155.24h1.99v2.00h-1.99zM411.72 155.24h1.99v2.00h-1.99zM423.68 155.24h1.99v2.00h-1.99zM324.00 157.24h1.99v2.00h-1.99zM325.99 157.24h1.99v2.00h-1.99zM327.99 157.24h1.99v2.00h-1.99zM339.95 157.24h1.99v2.00h-1.99zM341.94 157.24h1.99v2.00h-1.99zM345.93 157.24h1.99v2.00h-1.99zM367.86 157.24h1.99v2.00h-1.99zM383.81 157.24h1.99v2.00h-1.99zM395.77 157.24h1.99v2.00h-1.99zM427.66 157.24h1.99v2.00h-1.99zM327.99 159.25h1.99v2.00h-1.99zM331.97 159.25h1.99v2.00h-1.99zM333.97 159.25h1.99v2.00h-1.99zM337.95 159.25h1.99v2.00h-1.99zM339.95 159.25h1.99v2.00h-1.99zM375.83 159.25h1.99v2.00h-1.99zM377.83 159.25h1.99v2.00h-1.99zM379.82 159.25h1.99v2.00h-1.99zM403.74 159.25h1.99v2.00h-1.99zM405.74 159.25h1.99v2.00h-1.99zM413.71 159.25h1.99v2.00h-1.99zM351.91 161.25h1.99v2.00h-1.99zM377.83 161.25h1.99v2.00h-1.99zM401.75 161.25h1.99v2.00h-1.99zM405.74 161.25h1.99v2.00h-1.99zM411.72 161.25h1.99v2.00h-1.99zM417.70 161.25h1.99v2.00h-1.99zM419.69 161.25h1.99v2.00h-1.99zM431.65 161.25h1.99v2.00h-1.99zM337.95 163.25h1.99v2.00h-1.99zM339.95 163.25h1.99v2.00h-1.99zM341.94 163.25h1.99v2.00h-1.99zM349.92 163.25h1.99v2.00h-1.99zM373.84 163.25h1.99v2.00h-1.99zM387.79 163.25h1.99v2.00h-1.99zM425.67 163.25h1.99v2.00h-1.99zM337.95 165.26h1.99v2.00h-1.99zM339.95 165.26h1.99v2.00h-1.99zM349.92 165.26h1.99v2.00h-1.99zM371.85 165.26h1.99v2.00h-1.99zM433.65 165.26h1.99v2.00h-1.99zM437.63 165.26h1.99v2.00h-1.99zM324.00 167.26h1.99v2.00h-1.99zM331.97 167.26h1.99v2.00h-1.99zM335.96 167.26h1.99v2.00h-1.99zM337.95 167.26h1.99v2.00h-1.99zM339.95 167.26h1.99v2.00h-1.99zM355.90 167.26h1.99v2.00h-1.99zM365.86 167.26h1.99v2.00h-1.99zM371.85 167.26h1.99v2.00h-1.99zM411.72 167.26h1.99v2.00h-1.99zM415.70 167.26h1.99v2.00h-1.99zM417.70 167.26h1.99v2.00h-1.99zM419.69 167.26h1.99v2.00h-1.99zM431.65 167.26h1.99v2.00h-1.99zM433.65 167.26h1.99v2.00h-1.99zM331.97 169.26h1.99v2.00h-1.99zM341.94 169.26h1.99v2.00h-1.99zM355.90 169.26h1.99v2.00h-1.99zM379.82 169.26h1.99v2.00h-1.99zM403.74 169.26h1.99v2.00h-1.99zM419.69 169.26h1.99v2.00h-1.99zM421.68 169.26h1.99v2.00h-1.99zM423.68 169.26h1.99v2.00h-1.99zM425.67 169.26h1.99v2.00h-1.99zM441.62 169.26h1.99v2.00h-1.99zM443.61 169.26h1.99v2.00h-1.99zM331.97 171.27h1.99v2.00h-1.99zM337.95 171.27h1.99v2.00h-1.99zM341.94 171.27h1.99v2.00h-1.99zM395.77 171.27h1.99v2.00h-1.99zM409.72 171.27h1.99v2.00h-1.99zM429.66 171.27h1.99v2.00h-1.99zM431.65 171.27h1.99v2.00h-1.99zM441.62 171.27h1.99v2.00h-1.99zM325.99 173.27h1.99v2.00h-1.99zM367.86 173.27h1.99v2.00h-1.99zM385.80 173.27h1.99v2.00h-1.99zM415.70 173.27h1.99v2.00h-1.99zM417.70 173.27h1.99v2.00h-1.99zM419.69 173.27h1.99v2.00h-1.99zM437.63 173.27h1.99v2.00h-1.99zM439.63 173.27h1.99v2.00h-1.99zM441.62 173.27h1.99v2.00h-1.99zM443.61 173.27h1.99v2.00h-1.99zM445.61 173.27h1.99v2.00h-1.99zM337.95 175.28h1.99v2.00h-1.99zM339.95 175.28h1.99v2.00h-1.99zM361.88 175.28h1.99v2.00h-1.99zM367.86 175.28h1.99v2.00h-1.99zM385.80 175.28h1.99v2.00h-1.99zM417.70 175.28h1.99v2.00h-1.99zM423.68 175.28h1.99v2.00h-1.99zM337.95 177.28h1.99v2.00h-1.99zM339.95 177.28h1.99v2.00h-1.99zM367.86 177.28h1.99v2.00h-1.99zM375.83 177.28h1.99v2.00h-1.99zM389.79 177.28h1.99v2.00h-1.99zM395.77 177.28h1.99v2.00h-1.99zM407.73 177.28h1.99v2.00h-1.99zM439.63 177.28h1.99v2.00h-1.99zM443.61 177.28h1.99v2.00h-1.99zM337.95 179.28h1.99v2.00h-1.99zM371.85 179.28h1.99v2.00h-1.99zM387.79 179.28h1.99v2.00h-1.99zM389.79 179.28h1.99v2.00h-1.99zM391.78 179.28h1.99v2.00h-1.99zM395.77 179.28h1.99v2.00h-1.99zM431.65 179.28h1.99v2.00h-1.99zM433.65 179.28h1.99v2.00h-1.99zM439.63 179.28h1.99v2.00h-1.99zM331.97 181.29h1.99v2.00h-1.99zM341.94 181.29h1.99v2.00h-1.99zM359.88 181.29h1.99v2.00h-1.99zM367.86 181.29h1.99v2.00h-1.99zM391.78 181.29h1.99v2.00h-1.99zM333.97 183.29h1.99v2.00h-1.99zM351.91 183.29h1.99v2.00h-1.99zM355.90 183.29h1.99v2.00h-1.99zM383.81 183.29h1.99v2.00h-1.99zM391.78 183.29h1.99v2.00h-1.99zM429.66 183.29h1.99v2.00h-1.99zM433.65 183.29h1.99v2.00h-1.99zM335.96 185.29h1.99v2.00h-1.99zM369.85 185.29h1.99v2.00h-1.99zM379.82 185.29h1.99v2.00h-1.99zM431.65 185.29h1.99v2.00h-1.99zM355.90 187.30h1.99v2.00h-1.99zM375.83 187.30h1.99v2.00h-1.99zM381.81 187.30h1.99v2.00h-1.99zM411.72 187.30h1.99v2.00h-1.99zM413.71 187.30h1.99v2.00h-1.99zM419.69 187.30h1.99v2.00h-1.99zM435.64 187.30h1.99v2.00h-1.99zM324.00 189.30h1.99v2.00h-1.99zM335.96 189.30h1.99v2.00h-1.99zM341.94 189.30h1.99v2.00h-1.99zM361.88 189.30h1.99v2.00h-1.99zM391.78 189.30h1.99v2.00h-1.99zM395.77 189.30h1.99v2.00h-1.99zM423.68 189.30h1.99v2.00h-1.99zM441.62 189.30h1.99v2.00h-1.99zM445.61 189.30h1.99v2.00h-1.99zM324.00 191.30h1.99v2.00h-1.99zM333.97 191.30h1.99v2.00h-1.99zM341.94 191.30h1.99v2.00h-1.99zM361.88 191.30h1.99v2.00h-1.99zM417.70 191.30h1.99v2.00h-1.99zM387.79 193.31h1.99v2.00h-1.99zM389.79 193.31h1.99v2.00h-1.99zM415.70 193.31h1.99v2.00h-1.99zM417.70 193.31h1.99v2.00h-1.99zM419.69 193.31h1.99v2.00h-1.99zM421.68 193.31h1.99v2.00h-1.99zM423.68 193.31h1.99v2.00h-1.99zM439.63 193.31h1.99v2.00h-1.99zM441.62 193.31h1.99v2.00h-1.99zM357.89 195.31h1.99v2.00h-1.99zM385.80 195.31h1.99v2.00h-1.99zM387.79 195.31h1.99v2.00h-1.99zM389.79 195.31h1.99v2.00h-1.99zM405.74 195.31h1.99v2.00h-1.99zM413.71 195.31h1.99v2.00h-1.99zM415.70 195.31h1.99v2.00h-1.99zM419.69 195.31h1.99v2.00h-1.99zM421.68 195.31h1.99v2.00h-1.99zM423.68 195.31h1.99v2.00h-1.99zM351.91 197.32h1.99v2.00h-1.99zM357.89 197.32h1.99v2.00h-1.99zM359.88 197.32h1.99v2.00h-1.99zM363.87 197.32h1.99v2.00h-1.99zM385.80 197.32h1.99v2.00h-1.99zM387.79 197.32h1.99v2.00h-1.99zM389.79 197.32h1.99v2.00h-1.99zM423.68 197.32h1.99v2.00h-1.99zM333.97 199.32h1.99v2.00h-1.99zM365.86 199.32h1.99v2.00h-1.99zM387.79 199.32h1.99v2.00h-1.99zM389.79 199.32h1.99v2.00h-1.99zM433.65 199.32h1.99v2.00h-1.99zM437.63 199.32h1.99v2.00h-1.99zM439.63 199.32h1.99v2.00h-1.99zM324.00 201.32h1.99v2.00h-1.99zM331.97 201.32h1.99v2.00h-1.99zM333.97 201.32h1.99v2.00h-1.99zM353.90 201.32h1.99v2.00h-1.99zM365.86 201.32h1.99v2.00h-1.99zM387.79 201.32h1.99v2.00h-1.99zM389.79 201.32h1.99v2.00h-1.99zM391.78 201.32h1.99v2.00h-1.99zM409.72 201.32h1.99v2.00h-1.99zM413.71 201.32h1.99v2.00h-1.99zM437.63 201.32h1.99v2.00h-1.99zM324.00 203.33h1.99v2.00h-1.99zM327.99 203.33h1.99v2.00h-1.99zM341.94 203.33h1.99v2.00h-1.99zM353.90 203.33h1.99v2.00h-1.99zM365.86 203.33h1.99v2.00h-1.99zM367.86 203.33h1.99v2.00h-1.99zM417.70 203.33h1.99v2.00h-1.99zM421.68 203.33h1.99v2.00h-1.99zM431.65 203.33h1.99v2.00h-1.99zM435.64 203.33h1.99v2.00h-1.99zM437.63 203.33h1.99v2.00h-1.99zM439.63 203.33h1.99v2.00h-1.99zM361.88 205.33h1.99v2.00h-1.99zM365.86 205.33h1.99v2.00h-1.99zM367.86 205.33h1.99v2.00h-1.99zM369.85 205.33h1.99v2.00h-1.99zM375.83 205.33h1.99v2.00h-1.99zM341.94 207.33h1.99v2.00h-1.99zM365.86 207.33h1.99v2.00h-1.99zM401.75 207.33h1.99v2.00h-1.99zM405.74 207.33h1.99v2.00h-1.99zM411.72 207.33h1.99v2.00h-1.99zM415.70 207.33h1.99v2.00h-1.99zM439.63 207.33h1.99v2.00h-1.99zM445.61 207.33h1.99v2.00h-1.99zM345.93 209.34h1.99v2.00h-1.99zM347.92 209.34h1.99v2.00h-1.99zM357.89 209.34h1.99v2.00h-1.99zM365.86 209.34h1.99v2.00h-1.99zM413.71 209.34h1.99v2.00h-1.99zM419.69 209.34h1.99v2.00h-1.99zM421.68 209.34h1.99v2.00h-1.99zM429.66 209.34h1.99v2.00h-1.99zM433.65 209.34h1.99v2.00h-1.99zM437.63 209.34h1.99v2.00h-1.99zM443.61 209.34h1.99v2.00h-1.99zM445.61 209.34h1.99v2.00h-1.99zM327.99 211.34h1.99v2.00h-1.99zM355.90 211.34h1.99v2.00h-1.99zM357.89 211.34h1.99v2.00h-1.99zM385.80 211.34h1.99v2.00h-1.99zM411.72 211.34h1.99v2.00h-1.99zM357.89 213.34h1.99v2.00h-1.99zM369.85 213.34h1.99v2.00h-1.99zM401.75 213.34h1.99v2.00h-1.99zM403.74 213.34h1.99v2.00h-1.99zM425.67 213.34h1.99v2.00h-1.99zM333.97 215.35h1.99v2.00h-1.99zM343.94 215.35h1.99v2.00h-1.99zM345.93 215.35h1.99v2.00h-1.99zM349.92 215.35h1.99v2.00h-1.99zM387.79 215.35h1.99v2.00h-1.99zM395.77 215.35h1.99v2.00h-1.99zM419.69 215.35h1.99v2.00h-1.99zM425.67 215.35h1.99v2.00h-1.99zM325.99 217.35h1.99v2.00h-1.99zM327.99 217.35h1.99v2.00h-1.99zM335.96 217.35h1.99v2.00h-1.99zM345.93 217.35h1.99v2.00h-1.99zM347.92 217.35h1.99v2.00h-1.99zM391.78 217.35h1.99v2.00h-1.99zM395.77 217.35h1.99v2.00h-1.99zM415.70 217.35h1.99v2.00h-1.99zM421.68 217.35h1.99v2.00h-1.99zM427.66 217.35h1.99v2.00h-1.99zM335.96 219.36h1.99v2.00h-1.99zM341.94 219.36h1.99v2.00h-1.99zM345.93 219.36h1.99v2.00h-1.99zM347.92 219.36h1.99v2.00h-1.99zM371.85 219.36h1.99v2.00h-1.99zM387.79 219.36h1.99v2.00h-1.99zM429.66 219.36h1.99v2.00h-1.99zM431.65 219.36h1.99v2.00h-1.99zM433.65 219.36h1.99v2.00h-1.99zM435.64 219.36h1.99v2.00h-1.99zM445.61 219.36h1.99v2.00h-1.99zM347.92 221.36h1.99v2.00h-1.99zM349.92 221.36h1.99v2.00h-1.99zM361.88 221.36h1.99v2.00h-1.99zM387.79 221.36h1.99v2.00h-1.99zM391.78 221.36h1.99v2.00h-1.99zM393.77 221.36h1.99v2.00h-1.99zM395.77 221.36h1.99v2.00h-1.99zM437.63 221.36h1.99v2.00h-1.99zM339.95 223.36h1.99v2.00h-1.99zM341.94 223.36h1.99v2.00h-1.99zM343.94 223.36h1.99v2.00h-1.99zM349.92 223.36h1.99v2.00h-1.99zM361.88 223.36h1.99v2.00h-1.99zM369.85 223.36h1.99v2.00h-1.99zM389.79 223.36h1.99v2.00h-1.99zM391.78 223.36h1.99v2.00h-1.99zM411.72 223.36h1.99v2.00h-1.99zM413.71 223.36h1.99v2.00h-1.99zM325.99 225.37h1.99v2.00h-1.99zM335.96 225.37h1.99v2.00h-1.99zM337.95 225.37h1.99v2.00h-1.99zM341.94 225.37h1.99v2.00h-1.99zM357.89 225.37h1.99v2.00h-1.99zM359.88 225.37h1.99v2.00h-1.99zM401.75 225.37h1.99v2.00h-1.99zM427.66 225.37h1.99v2.00h-1.99zM429.66 225.37h1.99v2.00h-1.99zM441.62 225.37h1.99v2.00h-1.99zM325.99 227.37h1.99v2.00h-1.99zM329.98 227.37h1.99v2.00h-1.99zM335.96 227.37h1.99v2.00h-1.99zM337.95 227.37h1.99v2.00h-1.99zM341.94 227.37h1.99v2.00h-1.99zM359.88 227.37h1.99v2.00h-1.99zM385.80 227.37h1.99v2.00h-1.99zM389.79 227.37h1.99v2.00h-1.99zM417.70 227.37h1.99v2.00h-1.99zM433.65 227.37h1.99v2.00h-1.99zM445.61 227.37h1.99v2.00h-1.99zM329.98 229.37h1.99v2.00h-1.99zM335.96 229.37h1.99v2.00h-1.99zM341.94 229.37h1.99v2.00h-1.99zM357.89 229.37h1.99v2.00h-1.99zM359.88 229.37h1.99v2.00h-1.99zM371.85 229.37h1.99v2.00h-1.99zM373.84 229.37h1.99v2.00h-1.99zM385.80 229.37h1.99v2.00h-1.99zM387.79 229.37h1.99v2.00h-1.99zM423.68 229.37h1.99v2.00h-1.99zM425.67 229.37h1.99v2.00h-1.99zM427.66 229.37h1.99v2.00h-1.99zM429.66 229.37h1.99v2.00h-1.99zM439.63 229.37h1.99v2.00h-1.99zM329.98 231.38h1.99v2.00h-1.99zM385.80 231.38h1.99v2.00h-1.99zM387.79 231.38h1.99v2.00h-1.99zM395.77 231.38h1.99v2.00h-1.99zM409.72 231.38h1.99v2.00h-1.99zM419.69 231.38h1.99v2.00h-1.99zM355.90 233.38h1.99v2.00h-1.99zM373.84 233.38h1.99v2.00h-1.99zM385.80 233.38h1.99v2.00h-1.99zM389.79 233.38h1.99v2.00h-1.99zM393.77 233.38h1.99v2.00h-1.99zM417.70 233.38h1.99v2.00h-1.99zM333.97 235.39h1.99v2.00h-1.99zM345.93 235.39h1.99v2.00h-1.99zM355.90 235.39h1.99v2.00h-1.99zM357.89 235.39h1.99v2.00h-1.99zM359.88 235.39h1.99v2.00h-1.99zM385.80 235.39h1.99v2.00h-1.99zM389.79 235.39h1.99v2.00h-1.99zM421.68 235.39h1.99v2.00h-1.99zM355.90 237.39h1.99v2.00h-1.99zM359.88 237.39h1.99v2.00h-1.99zM369.85 237.39h1.99v2.00h-1.99zM387.79 237.39h1.99v2.00h-1.99zM389.79 237.39h1.99v2.00h-1.99zM443.61 237.39h1.99v2.00h-1.99zM325.99 239.39h1.99v2.00h-1.99zM341.94 239.39h1.99v2.00h-1.99zM347.92 239.39h1.99v2.00h-1.99zM353.90 239.39h1.99v2.00h-1.99zM355.90 239.39h1.99v2.00h-1.99zM359.88 239.39h1.99v2.00h-1.99zM369.85 239.39h1.99v2.00h-1.99zM387.79 239.39h1.99v2.00h-1.99zM425.67 239.39h1.99v2.00h-1.99zM437.63 239.39h1.99v2.00h-1.99zM325.99 241.40h1.99v2.00h-1.99zM337.95 241.40h1.99v2.00h-1.99zM341.94 241.40h1.99v2.00h-1.99zM359.88 241.40h1.99v2.00h-1.99zM367.86 241.40h1.99v2.00h-1.99zM387.79 241.40h1.99v2.00h-1.99zM427.66 241.40h1.99v2.00h-1.99zM429.66 241.40h1.99v2.00h-1.99z"/>
<path fill="#fde8ec" d="M337.95 25.00h1.99v2.00h-1.99zM347.92 25.00h1.99v2.00h-1.99zM375.83 25.00h1.99v2.00h-1.99zM419.69 25.00h1.99v2.00h-1.99zM335.96 27.00h1.99v2.00h-1.99zM397.76 27.00h1.99v2.00h-1.99zM329.98 29.01h1.99v2.00h-1.99zM365.86 29.01h1.99v2.00h-1.99zM367.86 29.01h1.99v2.00h-1.99zM369.85 29.01h1.99v2.00h-1.99zM371.85 29.01h1.99v2.00h-1.99zM391.78 29.01h1.99v2.00h-1.99zM393.77 29.01h1.99v2.00h-1.99zM397.76 29.01h1.99v2.00h-1.99zM399.75 29.01h1.99v2.00h-1.99zM401.75 29.01h1.99v2.00h-1.99zM327.99 31.01h1.99v2.00h-1.99zM329.98 31.01h1.99v2.00h-1.99zM331.97 31.01h1.99v2.00h-1.99zM423.68 31.01h1.99v2.00h-1.99zM425.67 31.01h1.99v2.00h-1.99zM427.66 31.01h1.99v2.00h-1.99zM429.66 31.01h1.99v2.00h-1.99zM337.95 33.01h1.99v2.00h-1.99zM369.85 33.01h1.99v2.00h-1.99zM425.67 33.01h1.99v2.00h-1.99zM349.92 37.02h1.99v2.00h-1.99zM367.86 37.02h1.99v2.00h-1.99zM369.85 37.02h1.99v2.00h-1.99zM397.76 37.02h1.99v2.00h-1.99zM333.97 39.03h1.99v2.00h-1.99zM335.96 39.03h1.99v2.00h-1.99zM367.86 39.03h1.99v2.00h-1.99zM435.64 41.03h1.99v2.00h-1.99zM365.86 43.03h1.99v2.00h-1.99zM415.70 43.03h1.99v2.00h-1.99zM441.62 43.03h1.99v2.00h-1.99zM329.98 45.04h1.99v2.00h-1.99zM331.97 45.04h1.99v2.00h-1.99zM337.95 45.04h1.99v2.00h-1.99zM371.85 45.04h1.99v2.00h-1.99zM423.68 45.04h1.99v2.00h-1.99zM427.66 45.04h1.99v2.00h-1.99zM429.66 45.04h1.99v2.00h-1.99zM435.64 45.04h1.99v2.00h-1.99zM335.96 47.04h1.99v2.00h-1.99zM343.94 47.04h1.99v2.00h-1.99zM345.93 47.04h1.99v2.00h-1.99zM359.88 47.04h1.99v2.00h-1.99zM421.68 47.04h1.99v2.00h-1.99zM443.61 47.04h1.99v2.00h-1.99zM445.61 47.04h1.99v2.00h-1.99zM325.99 49.04h1.99v2.00h-1.99zM389.79 49.04h1.99v2.00h-1.99zM391.78 49.04h1.99v2.00h-1.99zM419.69 49.04h1.99v2.00h-1.99zM327.99 51.05h1.99v2.00h-1.99zM395.77 51.05h1.99v2.00h-1.99zM411.72 51.05h1.99v2.00h-1.99zM343.94 53.05h1.99v2.00h-1.99zM363.87 53.05h1.99v2.00h-1.99zM365.86 53.05h1.99v2.00h-1.99zM379.82 53.05h1.99v2.00h-1.99zM371.85 55.06h1.99v2.00h-1.99zM324.00 57.06h1.99v2.00h-1.99zM325.99 57.06h1.99v2.00h-1.99zM327.99 57.06h1.99v2.00h-1.99zM343.94 57.06h1.99v2.00h-1.99zM353.90 57.06h1.99v2.00h-1.99zM365.86 57.06h1.99v2.00h-1.99zM375.83 57.06h1.99v2.00h-1.99zM433.65 57.06h1.99v2.00h-1.99zM339.95 59.06h1.99v2.00h-1.99zM341.94 59.06h1.99v2.00h-1.99zM343.94 59.06h1.99v2.00h-1.99zM419.69 59.06h1.99v2.00h-1.99zM421.68 59.06h1.99v2.00h-1.99zM353.90 61.07h1.99v2.00h-1.99zM367.86 61.07h1.99v2.00h-1.99zM343.94 63.07h1.99v2.00h-1.99zM419.69 63.07h1.99v2.00h-1.99zM343.94 65.07h1.99v2.00h-1.99zM345.93 65.07h1.99v2.00h-1.99zM405.74 65.07h1.99v2.00h-1.99zM407.73 65.07h1.99v2.00h-1.99zM443.61 65.07h1.99v2.00h-1.99zM343.94 67.08h1.99v2.00h-1.99zM345.93 67.08h1.99v2.00h-1.99zM409.72 67.08h1.99v2.00h-1.99zM411.72 67.08h1.99v2.00h-1.99zM431.65 67.08h1.99v2.00h-1.99zM413.71 69.08h1.99v2.00h-1.99zM415.70 69.08h1.99v2.00h-1.99zM361.88 71.08h1.99v2.00h-1.99zM363.87 71.08h1.99v2.00h-1.99zM375.83 71.08h1.99v2.00h-1.99zM387.79 71.08h1.99v2.00h-1.99zM437.63 71.08h1.99v2.00h-1.99zM439.63 71.08h1.99v2.00h-1.99zM433.65 73.09h1.99v2.00h-1.99zM345.93 75.09h1.99v2.00h-1.99zM359.88 75.09h1.99v2.00h-1.99zM361.88 75.09h1.99v2.00h-1.99zM341.94 77.10h1.99v2.00h-1.99zM401.75 79.10h1.99v2.00h-1.99zM403.74 79.10h1.99v2.00h-1.99zM405.74 79.10h1.99v2.00h-1.99zM427.66 79.10h1.99v2.00h-1.99zM429.66 79.10h1.99v2.00h-1.99zM341.94 81.10h1.99v2.00h-1.99zM395.77 81.10h1.99v2.00h-1.99zM409.72 81.10h1.99v2.00h-1.99zM403.74 83.11h1.99v2.00h-1.99zM433.65 83.11h1.99v2.00h-1.99zM379.82 85.11h1.99v2.00h-1.99zM381.81 85.11h1.99v2.00h-1.99zM431.65 85.11h1.99v2.00h-1.99zM345.93 87.11h1.99v2.00h-1.99zM425.67 87.11h1.99v2.00h-1.99zM427.66 87.11h1.99v2.00h-1.99zM429.66 87.11h1.99v2.00h-1.99zM337.95 89.12h1.99v2.00h-1.99zM329.98 91.12h1.99v2.00h-1.99zM345.93 91.12h1.99v2.00h-1.99zM385.80 91.12h1.99v2.00h-1.99zM403.74 91.12h1.99v2.00h-1.99zM435.64 91.12h1.99v2.00h-1.99zM329.98 95.13h1.99v2.00h-1.99zM397.76 95.13h1.99v2.00h-1.99zM409.72 95.13h1.99v2.00h-1.99zM433.65 95.13h1.99v2.00h-1.99zM339.95 97.13h1.99v2.00h-1.99zM349.92 97.13h1.99v2.00h-1.99zM397.76 97.13h1.99v2.00h-1.99zM429.66 97.13h1.99v2.00h-1.99zM345.93 99.14h1.99v2.00h-1.99zM347.92 99.14h1.99v2.00h-1.99zM349.92 99.14h1.99v2.00h-1.99zM351.91 99.14h1.99v2.00h-1.99zM427.66 99.14h1.99v2.00h-1.99zM373.84 101.14h1.99v2.00h-1.99zM387.79 101.14h1.99v2.00h-1.99zM395.77 101.14h1.99v2.00h-1.99zM427.66 101.14h1.99v2.00h-1.99zM337.95 105.15h1.99v2.00h-1.99zM357.89 105.15h1.99v2.00h-1.99zM353.90 109.15h1.99v2.00h-1.99zM361.88 109.15h1.99v2.00h-1.99zM363.87 109.15h1.99v2.00h-1.99zM373.84 109.15h1.99v2.00h-1.99zM389.79 109.15h1.99v2.00h-1.99zM439.63 109.15h1.99v2.00h-1.99zM341.94 111.16h1.99v2.00h-1.99zM343.94 111.16h1.99v2.00h-1.99zM345.93 111.16h1.99v2.00h-1.99zM373.84 111.16h1.99v2.00h-1.99zM381.81 111.16h1.99v2.00h-1.99zM329.98 113.16h1.99v2.00h-1.99zM357.89 113.16h1.99v2.00h-1.99zM359.88 113.16h1.99v2.00h-1.99zM361.88 113.16h1.99v2.00h-1.99zM391.78 113.16h1.99v2.00h-1.99zM365.86 115.17h1.99v2.00h-1.99zM445.61 115.17h1.99v2.00h-1.99zM381.81 117.17h1.99v2.00h-1.99zM383.81 117.17h1.99v2.00h-1.99zM393.77 117.17h1.99v2.00h-1.99zM395.77 117.17h1.99v2.00h-1.99zM365.86 119.17h1.99v2.00h-1.99zM379.82 119.17h1.99v2.00h-1.99zM381.81 119.17h1.99v2.00h-1.99zM397.76 119.17h1.99v2.00h-1.99zM399.75 119.17h1.99v2.00h-1.99zM417.70 119.17h1.99v2.00h-1.99zM419.69 119.17h1.99v2.00h-1.99zM377.83 121.18h1.99v2.00h-1.99zM383.81 121.18h1.99v2.00h-1.99zM333.97 123.18h1.99v2.00h-1.99zM395.77 123.18h1.99v2.00h-1.99zM353.90 125.18h1.99v2.00h-1.99zM355.90 125.18h1.99v2.00h-1.99zM413.71 125.18h1.99v2.00h-1.99zM419.69 125.18h1.99v2.00h-1.99zM443.61 129.19h1.99v2.00h-1.99zM445.61 129.19h1.99v2.00h-1.99zM375.83 131.19h1.99v2.00h-1.99zM409.72 131.19h1.99v2.00h-1.99zM377.83 133.20h1.99v2.00h-1.99zM413.71 135.20h1.99v2.00h-1.99zM425.67 137.21h1.99v2.00h-1.99zM427.66 137.21h1.99v2.00h-1.99zM333.97 139.21h1.99v2.00h-1.99zM335.96 139.21h1.99v2.00h-1.99zM337.95 139.21h1.99v2.00h-1.99zM433.65 139.21h1.99v2.00h-1.99zM403.74 143.22h1.99v2.00h-1.99zM383.81 145.22h1.99v2.00h-1.99zM397.76 145.22h1.99v2.00h-1.99zM415.70 145.22h1.99v2.00h-1.99zM325.99 147.22h1.99v2.00h-1.99zM381.81 147.22h1.99v2.00h-1.99zM383.81 147.22h1.99v2.00h-1.99zM405.74 147.22h1.99v2.00h-1.99zM343.94 149.23h1.99v2.00h-1.99zM345.93 149.23h1.99v2.00h-1.99zM349.92 149.23h1.99v2.00h-1.99zM399.75 151.23h1.99v2.00h-1.99zM443.61 151.23h1.99v2.00h-1.99zM373.84 153.23h1.99v2.00h-1.99zM399.75 153.23h1.99v2.00h-1.99zM367.86 155.24h1.99v2.00h-1.99zM371.85 155.24h1.99v2.00h-1.99zM373.84 155.24h1.99v2.00h-1.99zM375.83 155.24h1.99v2.00h-1.99zM399.75 155.24h1.99v2.00h-1.99zM399.75 157.24h1.99v2.00h-1.99zM359.88 159.25h1.99v2.00h-1.99zM429.66 159.25h1.99v2.00h-1.99zM439.63 159.25h1.99v2.00h-1.99zM337.95 161.25h1.99v2.00h-1.99zM371.85 161.25h1.99v2.00h-1.99zM347.92 163.25h1.99v2.00h-1.99zM365.86 163.25h1.99v2.00h-1.99zM411.72 163.25h1.99v2.00h-1.99zM365.86 165.26h1.99v2.00h-1.99zM333.97 167.26h1.99v2.00h-1.99zM363.87 167.26h1.99v2.00h-1.99zM409.72 167.26h1.99v2.00h-1.99zM345.93 171.27h1.99v2.00h-1.99zM347.92 171.27h1.99v2.00h-1.99zM351.91 171.27h1.99v2.00h-1.99zM365.86 171.27h1.99v2.00h-1.99zM393.77 171.27h1.99v2.00h-1.99zM427.66 171.27h1.99v2.00h-1.99zM324.00 173.27h1.99v2.00h-1.99zM365.86 173.27h1.99v2.00h-1.99zM369.85 173.27h1.99v2.00h-1.99zM387.79 173.27h1.99v2.00h-1.99zM393.77 173.27h1.99v2.00h-1.99zM369.85 175.28h1.99v2.00h-1.99zM433.65 175.28h1.99v2.00h-1.99zM441.62 175.28h1.99v2.00h-1.99zM443.61 175.28h1.99v2.00h-1.99zM351.91 177.28h1.99v2.00h-1.99zM409.72 177.28h1.99v2.00h-1.99zM417.70 177.28h1.99v2.00h-1.99zM409.72 179.28h1.99v2.00h-1.99zM413.71 179.28h1.99v2.00h-1.99zM435.64 181.29h1.99v2.00h-1.99zM357.89 183.29h1.99v2.00h-1.99zM387.79 183.29h1.99v2.00h-1.99zM411.72 183.29h1.99v2.00h-1.99zM417.70 183.29h1.99v2.00h-1.99zM357.89 185.29h1.99v2.00h-1.99zM387.79 185.29h1.99v2.00h-1.99zM389.79 185.29h1.99v2.00h-1.99zM391.78 185.29h1.99v2.00h-1.99zM425.67 185.29h1.99v2.00h-1.99zM429.66 185.29h1.99v2.00h-1.99zM389.79 187.30h1.99v2.00h-1.99zM391.78 187.30h1.99v2.00h-1.99zM327.99 189.30h1.99v2.00h-1.99zM389.79 189.30h1.99v2.00h-1.99zM417.70 189.30h1.99v2.00h-1.99zM437.63 189.30h1.99v2.00h-1.99zM439.63 191.30h1.99v2.00h-1.99zM347.92 193.31h1.99v2.00h-1.99zM353.90 197.32h1.99v2.00h-1.99zM373.84 197.32h1.99v2.00h-1.99zM357.89 199.32h1.99v2.00h-1.99zM385.80 199.32h1.99v2.00h-1.99zM325.99 201.32h1.99v2.00h-1.99zM359.88 201.32h1.99v2.00h-1.99zM427.66 201.32h1.99v2.00h-1.99zM433.65 201.32h1.99v2.00h-1.99zM435.64 201.32h1.99v2.00h-1.99zM377.83 203.33h1.99v2.00h-1.99zM395.77 203.33h1.99v2.00h-1.99zM423.68 203.33h1.99v2.00h-1.99zM425.67 203.33h1.99v2.00h-1.99zM445.61 203.33h1.99v2.00h-1.99zM351.91 205.33h1.99v2.00h-1.99zM377.83 205.33h1.99v2.00h-1.99zM395.77 205.33h1.99v2.00h-1.99zM409.72 205.33h1.99v2.00h-1.99zM367.86 207.33h1.99v2.00h-1.99zM377.83 207.33h1.99v2.00h-1.99zM413.71 207.33h1.99v2.00h-1.99zM419.69 207.33h1.99v2.00h-1.99zM367.86 209.34h1.99v2.00h-1.99zM373.84 209.34h1.99v2.00h-1.99zM389.79 209.34h1.99v2.00h-1.99zM405.74 209.34h1.99v2.00h-1.99zM411.72 209.34h1.99v2.00h-1.99zM339.95 211.34h1.99v2.00h-1.99zM367.86 211.34h1.99v2.00h-1.99zM373.84 211.34h1.99v2.00h-1.99zM389.79 211.34h1.99v2.00h-1.99zM443.61 211.34h1.99v2.00h-1.99zM339.95 213.34h1.99v2.00h-1.99zM367.86 213.34h1.99v2.00h-1.99zM409.72 213.34h1.99v2.00h-1.99zM324.00 219.36h1.99v2.00h-1.99zM325.99 219.36h1.99v2.00h-1.99zM405.74 219.36h1.99v2.00h-1.99zM437.63 219.36h1.99v2.00h-1.99zM345.93 221.36h1.99v2.00h-1.99zM357.89 221.36h1.99v2.00h-1.99zM441.62 221.36h1.99v2.00h-1.99zM329.98 223.36h1.99v2.00h-1.99zM331.97 223.36h1.99v2.00h-1.99zM335.96 223.36h1.99v2.00h-1.99zM345.93 223.36h1.99v2.00h-1.99zM353.90 223.36h1.99v2.00h-1.99zM393.77 223.36h1.99v2.00h-1.99zM419.69 223.36h1.99v2.00h-1.99zM421.68 223.36h1.99v2.00h-1.99zM331.97 225.37h1.99v2.00h-1.99zM333.97 225.37h1.99v2.00h-1.99zM391.78 225.37h1.99v2.00h-1.99zM393.77 225.37h1.99v2.00h-1.99zM395.77 225.37h1.99v2.00h-1.99zM331.97 227.37h1.99v2.00h-1.99zM333.97 227.37h1.99v2.00h-1.99zM371.85 227.37h1.99v2.00h-1.99zM395.77 227.37h1.99v2.00h-1.99zM423.68 227.37h1.99v2.00h-1.99zM325.99 229.37h1.99v2.00h-1.99zM345.93 229.37h1.99v2.00h-1.99zM395.77 229.37h1.99v2.00h-1.99zM411.72 229.37h1.99v2.00h-1.99zM347.92 231.38h1.99v2.00h-1.99zM429.66 231.38h1.99v2.00h-1.99zM347.92 233.38h1.99v2.00h-1.99zM343.94 237.39h1.99v2.00h-1.99zM345.93 237.39h1.99v2.00h-1.99zM343.94 239.39h1.99v2.00h-1.99zM343.94 241.40h1.99v2.00h-1.99zM355.90 241.40h1.99v2.00h-1.99zM389.79 241.40h1.99v2.00h-1.99z"/>
<path fill="#f8aaaf" d="M365.86 25.00h1.99v2.00h-1.99zM437.63 25.00h1.99v2.00h-1.99zM439.63 25.00h1.99v2.00h-1.99zM441.62 27.00h1.99v2.00h-1.99zM357.89 29.01h1.99v2.00h-1.99zM381.81 29.01h1.99v2.00h-1.99zM387.79 33.01h1.99v2.00h-1.99zM431.65 33.01h1.99v2.00h-1.99zM387.79 35.02h1.99v2.00h-1.99zM389.79 35.02h1.99v2.00h-1.99zM339.95 37.02h1.99v2.00h-1.99zM341.94 37.02h1.99v2.00h-1.99zM363.87 39.03h1.99v2.00h-1.99zM427.66 39.03h1.99v2.00h-1.99zM351.91 41.03h1.99v2.00h-1.99zM433.65 41.03h1.99v2.00h-1.99zM335.96 43.03h1.99v2.00h-1.99zM353.90 43.03h1.99v2.00h-1.99zM445.61 43.03h1.99v2.00h-1.99zM335.96 45.04h1.99v2.00h-1.99zM339.95 45.04h1.99v2.00h-1.99zM369.85 45.04h1.99v2.00h-1.99zM375.83 45.04h1.99v2.00h-1.99zM373.84 47.04h1.99v2.00h-1.99zM377.83 47.04h1.99v2.00h-1.99zM387.79 47.04h1.99v2.00h-1.99zM331.97 49.04h1.99v2.00h-1.99zM349.92 49.04h1.99v2.00h-1.99zM351.91 49.04h1.99v2.00h-1.99zM369.85 49.04h1.99v2.00h-1.99zM379.82 49.04h1.99v2.00h-1.99zM381.81 49.04h1.99v2.00h-1.99zM397.76 49.04h1.99v2.00h-1.99zM411.72 49.04h1.99v2.00h-1.99zM413.71 49.04h1.99v2.00h-1.99zM339.95 51.05h1.99v2.00h-1.99zM369.85 51.05h1.99v2.00h-1.99zM371.85 51.05h1.99v2.00h-1.99zM443.61 51.05h1.99v2.00h-1.99zM445.61 51.05h1.99v2.00h-1.99zM425.67 53.05h1.99v2.00h-1.99zM431.65 53.05h1.99v2.00h-1.99zM345.93 55.06h1.99v2.00h-1.99zM399.75 55.06h1.99v2.00h-1.99zM439.63 55.06h1.99v2.00h-1.99zM445.61 55.06h1.99v2.00h-1.99zM329.98 57.06h1.99v2.00h-1.99zM361.88 57.06h1.99v2.00h-1.99zM389.79 57.06h1.99v2.00h-1.99zM335.96 59.06h1.99v2.00h-1.99zM439.63 59.06h1.99v2.00h-1.99zM441.62 59.06h1.99v2.00h-1.99zM443.61 59.06h1.99v2.00h-1.99zM333.97 61.07h1.99v2.00h-1.99zM445.61 61.07h1.99v2.00h-1.99zM327.99 63.07h1.99v2.00h-1.99zM341.94 65.07h1.99v2.00h-1.99zM383.81 65.07h1.99v2.00h-1.99zM429.66 65.07h1.99v2.00h-1.99zM433.65 65.07h1.99v2.00h-1.99zM435.64 65.07h1.99v2.00h-1.99zM445.61 65.07h1.99v2.00h-1.99zM383.81 67.08h1.99v2.00h-1.99zM385.80 67.08h1.99v2.00h-1.99zM433.65 67.08h1.99v2.00h-1.99zM435.64 67.08h1.99v2.00h-1.99zM445.61 67.08h1.99v2.00h-1.99zM381.81 69.08h1.99v2.00h-1.99zM393.77 69.08h1.99v2.00h-1.99zM437.63 69.08h1.99v2.00h-1.99zM353.90 71.08h1.99v2.00h-1.99zM385.80 71.08h1.99v2.00h-1.99zM333.97 73.09h1.99v2.00h-1.99zM367.86 73.09h1.99v2.00h-1.99zM389.79 73.09h1.99v2.00h-1.99zM391.78 73.09h1.99v2.00h-1.99zM445.61 75.09h1.99v2.00h-1.99zM407.73 77.10h1.99v2.00h-1.99zM415.70 77.10h1.99v2.00h-1.99zM389.79 79.10h1.99v2.00h-1.99zM339.95 81.10h1.99v2.00h-1.99zM347.92 81.10h1.99v2.00h-1.99zM387.79 81.10h1.99v2.00h-1.99zM389.79 81.10h1.99v2.00h-1.99zM391.78 81.10h1.99v2.00h-1.99zM439.63 81.10h1.99v2.00h-1.99zM441.62 81.10h1.99v2.00h-1.99zM443.61 81.10h1.99v2.00h-1.99zM371.85 83.11h1.99v2.00h-1.99zM439.63 83.11h1.99v2.00h-1.99zM365.86 85.11h1.99v2.00h-1.99zM367.86 85.11h1.99v2.00h-1.99zM411.72 87.11h1.99v2.00h-1.99zM413.71 87.11h1.99v2.00h-1.99zM419.69 89.12h1.99v2.00h-1.99zM421.68 89.12h1.99v2.00h-1.99zM423.68 89.12h1.99v2.00h-1.99zM427.66 89.12h1.99v2.00h-1.99zM335.96 91.12h1.99v2.00h-1.99zM337.95 91.12h1.99v2.00h-1.99zM339.95 91.12h1.99v2.00h-1.99zM361.88 91.12h1.99v2.00h-1.99zM387.79 91.12h1.99v2.00h-1.99zM391.78 91.12h1.99v2.00h-1.99zM393.77 91.12h1.99v2.00h-1.99zM419.69 91.12h1.99v2.00h-1.99zM431.65 91.12h1.99v2.00h-1.99zM373.84 93.12h1.99v2.00h-1.99zM397.76 93.12h1.99v2.00h-1.99zM443.61 95.13h1.99v2.00h-1.99zM445.61 95.13h1.99v2.00h-1.99zM331.97 97.13h1.99v2.00h-1.99zM399.75 97.13h1.99v2.00h-1.99zM331.97 99.14h1.99v2.00h-1.99zM335.96 99.14h1.99v2.00h-1.99zM337.95 99.14h1.99v2.00h-1.99zM389.79 99.14h1.99v2.00h-1.99zM399.75 99.14h1.99v2.00h-1.99zM347.92 101.14h1.99v2.00h-1.99zM437.63 101.14h1.99v2.00h-1.99zM387.79 103.14h1.99v2.00h-1.99zM347.92 105.15h1.99v2.00h-1.99zM359.88 105.15h1.99v2.00h-1.99zM361.88 105.15h1.99v2.00h-1.99zM331.97 107.15h1.99v2.00h-1.99zM349.92 109.15h1.99v2.00h-1.99zM443.61 109.15h1.99v2.00h-1.99zM445.61 109.15h1.99v2.00h-1.99zM349.92 111.16h1.99v2.00h-1.99zM383.81 111.16h1.99v2.00h-1.99zM395.77 111.16h1.99v2.00h-1.99zM401.75 111.16h1.99v2.00h-1.99zM331.97 113.16h1.99v2.00h-1.99zM333.97 113.16h1.99v2.00h-1.99zM349.92 113.16h1.99v2.00h-1.99zM351.91 113.16h1.99v2.00h-1.99zM417.70 113.16h1.99v2.00h-1.99zM419.69 113.16h1.99v2.00h-1.99zM421.68 113.16h1.99v2.00h-1.99zM339.95 115.17h1.99v2.00h-1.99zM357.89 115.17h1.99v2.00h-1.99zM417.70 115.17h1.99v2.00h-1.99zM371.85 117.17h1.99v2.00h-1.99zM415.70 119.17h1.99v2.00h-1.99zM333.97 121.18h1.99v2.00h-1.99zM335.96 121.18h1.99v2.00h-1.99zM375.83 121.18h1.99v2.00h-1.99zM433.65 121.18h1.99v2.00h-1.99zM337.95 127.19h1.99v2.00h-1.99zM371.85 127.19h1.99v2.00h-1.99zM373.84 127.19h1.99v2.00h-1.99zM389.79 127.19h1.99v2.00h-1.99zM391.78 127.19h1.99v2.00h-1.99zM429.66 127.19h1.99v2.00h-1.99zM331.97 129.19h1.99v2.00h-1.99zM343.94 129.19h1.99v2.00h-1.99zM395.77 129.19h1.99v2.00h-1.99zM407.73 129.19h1.99v2.00h-1.99zM325.99 131.19h1.99v2.00h-1.99zM347.92 131.19h1.99v2.00h-1.99zM355.90 131.19h1.99v2.00h-1.99zM357.89 131.19h1.99v2.00h-1.99zM359.88 131.19h1.99v2.00h-1.99zM381.81 131.19h1.99v2.00h-1.99zM369.85 133.20h1.99v2.00h-1.99zM371.85 133.20h1.99v2.00h-1.99zM373.84 133.20h1.99v2.00h-1.99zM379.82 133.20h1.99v2.00h-1.99zM381.81 133.20h1.99v2.00h-1.99zM331.97 135.20h1.99v2.00h-1.99zM431.65 135.20h1.99v2.00h-1.99zM361.88 137.21h1.99v2.00h-1.99zM363.87 137.21h1.99v2.00h-1.99zM369.85 137.21h1.99v2.00h-1.99zM435.64 137.21h1.99v2.00h-1.99zM359.88 139.21h1.99v2.00h-1.99zM365.86 139.21h1.99v2.00h-1.99zM407.73 139.21h1.99v2.00h-1.99zM409.72 139.21h1.99v2.00h-1.99zM341.94 141.21h1.99v2.00h-1.99zM363.87 143.22h1.99v2.00h-1.99zM387.79 143.22h1.99v2.00h-1.99zM417.70 143.22h1.99v2.00h-1.99zM413.71 145.22h1.99v2.00h-1.99zM369.85 147.22h1.99v2.00h-1.99zM385.80 147.22h1.99v2.00h-1.99zM337.95 149.23h1.99v2.00h-1.99zM363.87 149.23h1.99v2.00h-1.99zM383.81 149.23h1.99v2.00h-1.99zM324.00 151.23h1.99v2.00h-1.99zM363.87 151.23h1.99v2.00h-1.99zM367.86 151.23h1.99v2.00h-1.99zM379.82 151.23h1.99v2.00h-1.99zM381.81 151.23h1.99v2.00h-1.99zM389.79 151.23h1.99v2.00h-1.99zM329.98 153.23h1.99v2.00h-1.99zM345.93 153.23h1.99v2.00h-1.99zM349.92 153.23h1.99v2.00h-1.99zM355.90 153.23h1.99v2.00h-1.99zM395.77 155.24h1.99v2.00h-1.99zM439.63 155.24h1.99v2.00h-1.99zM329.98 157.24h1.99v2.00h-1.99zM361.88 157.24h1.99v2.00h-1.99zM335.96 159.25h1.99v2.00h-1.99zM433.65 159.25h1.99v2.00h-1.99zM333.97 161.25h1.99v2.00h-1.99zM335.96 161.25h1.99v2.00h-1.99zM361.88 161.25h1.99v2.00h-1.99zM441.62 161.25h1.99v2.00h-1.99zM371.85 163.25h1.99v2.00h-1.99zM437.63 163.25h1.99v2.00h-1.99zM333.97 165.26h1.99v2.00h-1.99zM335.96 165.26h1.99v2.00h-1.99zM343.94 165.26h1.99v2.00h-1.99zM415.70 165.26h1.99v2.00h-1.99zM417.70 165.26h1.99v2.00h-1.99zM441.62 165.26h1.99v2.00h-1.99zM445.61 165.26h1.99v2.00h-1.99zM429.66 167.26h1.99v2.00h-1.99zM439.63 167.26h1.99v2.00h-1.99zM441.62 167.26h1.99v2.00h-1.99zM405.74 169.26h1.99v2.00h-1.99zM407.73 169.26h1.99v2.00h-1.99zM445.61 169.26h1.99v2.00h-1.99zM411.72 171.27h1.99v2.00h-1.99zM433.65 171.27h1.99v2.00h-1.99zM445.61 171.27h1.99v2.00h-1.99zM333.97 173.27h1.99v2.00h-1.99zM345.93 173.27h1.99v2.00h-1.99zM409.72 173.27h1.99v2.00h-1.99zM421.68 173.27h1.99v2.00h-1.99zM393.77 175.28h1.99v2.00h-1.99zM355.90 177.28h1.99v2.00h-1.99zM427.66 177.28h1.99v2.00h-1.99zM351.91 179.28h1.99v2.00h-1.99zM429.66 179.28h1.99v2.00h-1.99zM371.85 181.29h1.99v2.00h-1.99zM413.71 181.29h1.99v2.00h-1.99zM415.70 181.29h1.99v2.00h-1.99zM371.85 183.29h1.99v2.00h-1.99zM401.75 183.29h1.99v2.00h-1.99zM371.85 185.29h1.99v2.00h-1.99zM441.62 185.29h1.99v2.00h-1.99zM353.90 187.30h1.99v2.00h-1.99zM401.75 187.30h1.99v2.00h-1.99zM429.66 187.30h1.99v2.00h-1.99zM431.65 187.30h1.99v2.00h-1.99zM325.99 189.30h1.99v2.00h-1.99zM367.86 189.30h1.99v2.00h-1.99zM407.73 189.30h1.99v2.00h-1.99zM435.64 189.30h1.99v2.00h-1.99zM331.97 191.30h1.99v2.00h-1.99zM335.96 191.30h1.99v2.00h-1.99zM351.91 191.30h1.99v2.00h-1.99zM377.83 191.30h1.99v2.00h-1.99zM425.67 191.30h1.99v2.00h-1.99zM331.97 193.31h1.99v2.00h-1.99zM331.97 195.31h1.99v2.00h-1.99zM353.90 195.31h1.99v2.00h-1.99zM415.70 197.32h1.99v2.00h-1.99zM421.68 197.32h1.99v2.00h-1.99zM427.66 199.32h1.99v2.00h-1.99zM429.66 199.32h1.99v2.00h-1.99zM357.89 201.32h1.99v2.00h-1.99zM439.63 201.32h1.99v2.00h-1.99zM371.85 205.33h1.99v2.00h-1.99zM433.65 205.33h1.99v2.00h-1.99zM435.64 205.33h1.99v2.00h-1.99zM443.61 205.33h1.99v2.00h-1.99zM389.79 207.33h1.99v2.00h-1.99zM391.78 207.33h1.99v2.00h-1.99zM425.67 207.33h1.99v2.00h-1.99zM343.94 209.34h1.99v2.00h-1.99zM369.85 209.34h1.99v2.00h-1.99zM393.77 209.34h1.99v2.00h-1.99zM423.68 209.34h1.99v2.00h-1.99zM441.62 209.34h1.99v2.00h-1.99zM343.94 211.34h1.99v2.00h-1.99zM345.93 211.34h1.99v2.00h-1.99zM391.78 211.34h1.99v2.00h-1.99zM393.77 211.34h1.99v2.00h-1.99zM395.77 211.34h1.99v2.00h-1.99zM417.70 211.34h1.99v2.00h-1.99zM419.69 211.34h1.99v2.00h-1.99zM343.94 213.34h1.99v2.00h-1.99zM345.93 213.34h1.99v2.00h-1.99zM395.77 213.34h1.99v2.00h-1.99zM439.63 213.34h1.99v2.00h-1.99zM373.84 215.35h1.99v2.00h-1.99zM343.94 217.35h1.99v2.00h-1.99zM359.88 219.36h1.99v2.00h-1.99zM419.69 219.36h1.99v2.00h-1.99zM359.88 221.36h1.99v2.00h-1.99zM401.75 221.36h1.99v2.00h-1.99zM409.72 221.36h1.99v2.00h-1.99zM411.72 221.36h1.99v2.00h-1.99zM417.70 221.36h1.99v2.00h-1.99zM425.67 221.36h1.99v2.00h-1.99zM427.66 221.36h1.99v2.00h-1.99zM429.66 221.36h1.99v2.00h-1.99zM359.88 223.36h1.99v2.00h-1.99zM429.66 223.36h1.99v2.00h-1.99zM433.65 225.37h1.99v2.00h-1.99zM437.63 225.37h1.99v2.00h-1.99zM439.63 225.37h1.99v2.00h-1.99zM391.78 227.37h1.99v2.00h-1.99zM393.77 227.37h1.99v2.00h-1.99zM421.68 227.37h1.99v2.00h-1.99zM431.65 227.37h1.99v2.00h-1.99zM391.78 229.37h1.99v2.00h-1.99zM403.74 229.37h1.99v2.00h-1.99zM325.99 231.38h1.99v2.00h-1.99zM403.74 231.38h1.99v2.00h-1.99zM423.68 231.38h1.99v2.00h-1.99zM439.63 231.38h1.99v2.00h-1.99zM387.79 233.38h1.99v2.00h-1.99zM395.77 233.38h1.99v2.00h-1.99zM431.65 233.38h1.99v2.00h-1.99zM395.77 235.39h1.99v2.00h-1.99zM423.68 235.39h1.99v2.00h-1.99zM333.97 237.39h1.99v2.00h-1.99zM335.96 237.39h1.99v2.00h-1.99zM337.95 237.39h1.99v2.00h-1.99zM347.92 237.39h1.99v2.00h-1.99zM365.86 237.39h1.99v2.00h-1.99zM429.66 237.39h1.99v2.00h-1.99zM333.97 239.39h1.99v2.00h-1.99zM337.95 239.39h1.99v2.00h-1.99zM433.65 239.39h1.99v2.00h-1.99zM333.97 241.40h1.99v2.00h-1.99zM345.93 241.40h1.99v2.00h-1.99z"/>
<path fill="#d0d4fa" d="M367.86 25.00h1.99v2.00h-1.99zM407.73 25.00h1.99v2.00h-1.99zM425.67 25.00h1.99v2.00h-1.99zM427.66 25.00h1.99v2.00h-1.99zM429.66 25.00h1.99v2.00h-1.99zM395.77 27.00h1.99v2.00h-1.99zM399.75 27.00h1.99v2.00h-1.99zM409.72 27.00h1.99v2.00h-1.99zM421.68 27.00h1.99v2.00h-1.99zM423.68 27.00h1.99v2.00h-1.99zM375.83 29.01h1.99v2.00h-1.99zM383.81 29.01h1.99v2.00h-1.99zM385.80 29.01h1.99v2.00h-1.99zM387.79 29.01h1.99v2.00h-1.99zM403.74 29.01h1.99v2.00h-1.99zM405.74 29.01h1.99v2.00h-1.99zM407.73 29.01h1.99v2.00h-1.99zM413.71 29.01h1.99v2.00h-1.99zM417.70 29.01h1.99v2.00h-1.99zM419.69 29.01h1.99v2.00h-1.99zM433.65 29.01h1.99v2.00h-1.99zM435.64 29.01h1.99v2.00h-1.99zM437.63 29.01h1.99v2.00h-1.99zM345.93 31.01h1.99v2.00h-1.99zM347.92 31.01h1.99v2.00h-1.99zM361.88 31.01h1.99v2.00h-1.99zM377.83 31.01h1.99v2.00h-1.99zM379.82 31.01h1.99v2.00h-1.99zM383.81 31.01h1.99v2.00h-1.99zM385.80 31.01h1.99v2.00h-1.99zM387.79 31.01h1.99v2.00h-1.99zM401.75 31.01h1.99v2.00h-1.99zM403.74 31.01h1.99v2.00h-1.99zM405.74 31.01h1.99v2.00h-1.99zM413.71 31.01h1.99v2.00h-1.99zM415.70 31.01h1.99v2.00h-1.99zM417.70 31.01h1.99v2.00h-1.99zM433.65 31.01h1.99v2.00h-1.99zM435.64 31.01h1.99v2.00h-1.99zM445.61 31.01h1.99v2.00h-1.99zM347.92 33.01h1.99v2.00h-1.99zM379.82 33.01h1.99v2.00h-1.99zM381.81 33.01h1.99v2.00h-1.99zM389.79 33.01h1.99v2.00h-1.99zM395.77 33.01h1.99v2.00h-1.99zM407.73 33.01h1.99v2.00h-1.99zM331.97 35.02h1.99v2.00h-1.99zM333.97 35.02h1.99v2.00h-1.99zM349.92 35.02h1.99v2.00h-1.99zM351.91 35.02h1.99v2.00h-1.99zM359.88 35.02h1.99v2.00h-1.99zM385.80 35.02h1.99v2.00h-1.99zM443.61 35.02h1.99v2.00h-1.99zM445.61 35.02h1.99v2.00h-1.99zM331.97 37.02h1.99v2.00h-1.99zM337.95 37.02h1.99v2.00h-1.99zM389.79 37.02h1.99v2.00h-1.99zM421.68 37.02h1.99v2.00h-1.99zM423.68 37.02h1.99v2.00h-1.99zM429.66 37.02h1.99v2.00h-1.99zM331.97 39.03h1.99v2.00h-1.99zM369.85 39.03h1.99v2.00h-1.99zM377.83 39.03h1.99v2.00h-1.99zM379.82 39.03h1.99v2.00h-1.99zM381.81 39.03h1.99v2.00h-1.99zM425.67 39.03h1.99v2.00h-1.99zM441.62 39.03h1.99v2.00h-1.99zM337.95 41.03h1.99v2.00h-1.99zM357.89 41.03h1.99v2.00h-1.99zM361.88 41.03h1.99v2.00h-1.99zM363.87 41.03h1.99v2.00h-1.99zM377.83 41.03h1.99v2.00h-1.99zM379.82 41.03h1.99v2.00h-1.99zM381.81 41.03h1.99v2.00h-1.99zM383.81 41.03h1.99v2.00h-1.99zM401.75 41.03h1.99v2.00h-1.99zM403.74 41.03h1.99v2.00h-1.99zM405.74 41.03h1.99v2.00h-1.99zM423.68 41.03h1.99v2.00h-1.99zM443.61 41.03h1.99v2.00h-1.99zM445.61 41.03h1.99v2.00h-1.99zM327.99 43.03h1.99v2.00h-1.99zM329.98 43.03h1.99v2.00h-1.99zM331.97 43.03h1.99v2.00h-1.99zM355.90 43.03h1.99v2.00h-1.99zM383.81 43.03h1.99v2.00h-1.99zM385.80 43.03h1.99v2.00h-1.99zM387.79 43.03h1.99v2.00h-1.99zM397.76 43.03h1.99v2.00h-1.99zM407.73 43.03h1.99v2.00h-1.99zM417.70 43.03h1.99v2.00h-1.99zM421.68 43.03h1.99v2.00h-1.99zM423.68 43.03h1.99v2.00h-1.99zM427.66 43.03h1.99v2.00h-1.99zM433.65 43.03h1.99v2.00h-1.99zM353.90 45.04h1.99v2.00h-1.99zM357.89 45.04h1.99v2.00h-1.99zM379.82 45.04h1.99v2.00h-1.99zM383.81 45.04h1.99v2.00h-1.99zM385.80 45.04h1.99v2.00h-1.99zM387.79 45.04h1.99v2.00h-1.99zM389.79 45.04h1.99v2.00h-1.99zM397.76 45.04h1.99v2.00h-1.99zM425.67 45.04h1.99v2.00h-1.99zM431.65 45.04h1.99v2.00h-1.99zM433.65 45.04h1.99v2.00h-1.99zM445.61 45.04h1.99v2.00h-1.99zM357.89 47.04h1.99v2.00h-1.99zM369.85 47.04h1.99v2.00h-1.99zM371.85 47.04h1.99v2.00h-1.99zM393.77 47.04h1.99v2.00h-1.99zM395.77 47.04h1.99v2.00h-1.99zM397.76 47.04h1.99v2.00h-1.99zM399.75 47.04h1.99v2.00h-1.99zM401.75 47.04h1.99v2.00h-1.99zM403.74 47.04h1.99v2.00h-1.99zM431.65 47.04h1.99v2.00h-1.99zM433.65 47.04h1.99v2.00h-1.99zM357.89 49.04h1.99v2.00h-1.99zM373.84 49.04h1.99v2.00h-1.99zM383.81 49.04h1.99v2.00h-1.99zM403.74 49.04h1.99v2.00h-1.99zM407.73 49.04h1.99v2.00h-1.99zM421.68 49.04h1.99v2.00h-1.99zM423.68 49.04h1.99v2.00h-1.99zM425.67 49.04h1.99v2.00h-1.99zM427.66 49.04h1.99v2.00h-1.99zM347.92 51.05h1.99v2.00h-1.99zM429.66 51.05h1.99v2.00h-1.99zM333.97 53.05h1.99v2.00h-1.99zM335.96 53.05h1.99v2.00h-1.99zM357.89 53.05h1.99v2.00h-1.99zM443.61 53.05h1.99v2.00h-1.99zM353.90 55.06h1.99v2.00h-1.99zM359.88 55.06h1.99v2.00h-1.99zM361.88 55.06h1.99v2.00h-1.99zM363.87 55.06h1.99v2.00h-1.99zM377.83 55.06h1.99v2.00h-1.99zM379.82 55.06h1.99v2.00h-1.99zM393.77 55.06h1.99v2.00h-1.99zM395.77 55.06h1.99v2.00h-1.99zM397.76 55.06h1.99v2.00h-1.99zM417.70 55.06h1.99v2.00h-1.99zM419.69 55.06h1.99v2.00h-1.99zM421.68 55.06h1.99v2.00h-1.99zM423.68 55.06h1.99v2.00h-1.99zM425.67 55.06h1.99v2.00h-1.99zM427.66 55.06h1.99v2.00h-1.99zM433.65 55.06h1.99v2.00h-1.99zM337.95 57.06h1.99v2.00h-1.99zM339.95 57.06h1.99v2.00h-1.99zM351.91 57.06h1.99v2.00h-1.99zM369.85 57.06h1.99v2.00h-1.99zM371.85 57.06h1.99v2.00h-1.99zM373.84 57.06h1.99v2.00h-1.99zM409.72 57.06h1.99v2.00h-1.99zM333.97 59.06h1.99v2.00h-1.99zM363.87 59.06h1.99v2.00h-1.99zM369.85 59.06h1.99v2.00h-1.99zM371.85 59.06h1.99v2.00h-1.99zM373.84 59.06h1.99v2.00h-1.99zM375.83 59.06h1.99v2.00h-1.99zM379.82 59.06h1.99v2.00h-1.99zM381.81 59.06h1.99v2.00h-1.99zM395.77 59.06h1.99v2.00h-1.99zM397.76 59.06h1.99v2.00h-1.99zM427.66 59.06h1.99v2.00h-1.99zM431.65 59.06h1.99v2.00h-1.99zM325.99 61.07h1.99v2.00h-1.99zM327.99 61.07h1.99v2.00h-1.99zM331.97 61.07h1.99v2.00h-1.99zM357.89 61.07h1.99v2.00h-1.99zM383.81 61.07h1.99v2.00h-1.99zM385.80 61.07h1.99v2.00h-1.99zM393.77 61.07h1.99v2.00h-1.99zM395.77 61.07h1.99v2.00h-1.99zM403.74 61.07h1.99v2.00h-1.99zM415.70 61.07h1.99v2.00h-1.99zM427.66 61.07h1.99v2.00h-1.99zM429.66 61.07h1.99v2.00h-1.99zM431.65 61.07h1.99v2.00h-1.99zM324.00 63.07h1.99v2.00h-1.99zM325.99 63.07h1.99v2.00h-1.99zM351.91 63.07h1.99v2.00h-1.99zM353.90 63.07h1.99v2.00h-1.99zM355.90 63.07h1.99v2.00h-1.99zM357.89 63.07h1.99v2.00h-1.99zM359.88 63.07h1.99v2.00h-1.99zM361.88 63.07h1.99v2.00h-1.99zM363.87 63.07h1.99v2.00h-1.99zM369.85 63.07h1.99v2.00h-1.99zM373.84 63.07h1.99v2.00h-1.99zM379.82 63.07h1.99v2.00h-1.99zM397.76 63.07h1.99v2.00h-1.99zM401.75 63.07h1.99v2.00h-1.99zM407.73 63.07h1.99v2.00h-1.99zM415.70 63.07h1.99v2.00h-1.99zM417.70 63.07h1.99v2.00h-1.99zM425.67 63.07h1.99v2.00h-1.99zM439.63 63.07h1.99v2.00h-1.99zM441.62 63.07h1.99v2.00h-1.99zM325.99 65.07h1.99v2.00h-1.99zM353.90 65.07h1.99v2.00h-1.99zM387.79 65.07h1.99v2.00h-1.99zM395.77 65.07h1.99v2.00h-1.99zM399.75 65.07h1.99v2.00h-1.99zM401.75 65.07h1.99v2.00h-1.99zM411.72 65.07h1.99v2.00h-1.99zM413.71 65.07h1.99v2.00h-1.99zM415.70 65.07h1.99v2.00h-1.99zM425.67 65.07h1.99v2.00h-1.99zM427.66 65.07h1.99v2.00h-1.99zM335.96 67.08h1.99v2.00h-1.99zM337.95 67.08h1.99v2.00h-1.99zM359.88 67.08h1.99v2.00h-1.99zM373.84 67.08h1.99v2.00h-1.99zM387.79 67.08h1.99v2.00h-1.99zM393.77 67.08h1.99v2.00h-1.99zM405.74 67.08h1.99v2.00h-1.99zM407.73 67.08h1.99v2.00h-1.99zM413.71 67.08h1.99v2.00h-1.99zM415.70 67.08h1.99v2.00h-1.99zM417.70 67.08h1.99v2.00h-1.99zM419.69 67.08h1.99v2.00h-1.99zM423.68 67.08h1.99v2.00h-1.99zM425.67 67.08h1.99v2.00h-1.99zM427.66 67.08h1.99v2.00h-1.99zM429.66 67.08h1.99v2.00h-1.99zM439.63 67.08h1.99v2.00h-1.99zM441.62 67.08h1.99v2.00h-1.99zM443.61 67.08h1.99v2.00h-1.99zM325.99 69.08h1.99v2.00h-1.99zM327.99 69.08h1.99v2.00h-1.99zM329.98 69.08h1.99v2.00h-1.99zM333.97 69.08h1.99v2.00h-1.99zM335.96 69.08h1.99v2.00h-1.99zM337.95 69.08h1.99v2.00h-1.99zM339.95 69.08h1.99v2.00h-1.99zM343.94 69.08h1.99v2.00h-1.99zM379.82 69.08h1.99v2.00h-1.99zM383.81 69.08h1.99v2.00h-1.99zM385.80 69.08h1.99v2.00h-1.99zM441.62 69.08h1.99v2.00h-1.99zM347.92 71.08h1.99v2.00h-1.99zM349.92 71.08h1.99v2.00h-1.99zM351.91 71.08h1.99v2.00h-1.99zM355.90 71.08h1.99v2.00h-1.99zM369.85 71.08h1.99v2.00h-1.99zM377.83 71.08h1.99v2.00h-1.99zM389.79 71.08h1.99v2.00h-1.99zM391.78 71.08h1.99v2.00h-1.99zM393.77 71.08h1.99v2.00h-1.99zM427.66 71.08h1.99v2.00h-1.99zM441.62 71.08h1.99v2.00h-1.99zM443.61 71.08h1.99v2.00h-1.99zM325.99 73.09h1.99v2.00h-1.99zM339.95 73.09h1.99v2.00h-1.99zM363.87 73.09h1.99v2.00h-1.99zM365.86 73.09h1.99v2.00h-1.99zM409.72 73.09h1.99v2.00h-1.99zM411.72 73.09h1.99v2.00h-1.99zM337.95 75.09h1.99v2.00h-1.99zM339.95 75.09h1.99v2.00h-1.99zM347.92 75.09h1.99v2.00h-1.99zM349.92 75.09h1.99v2.00h-1.99zM351.91 75.09h1.99v2.00h-1.99zM357.89 75.09h1.99v2.00h-1.99zM393.77 75.09h1.99v2.00h-1.99zM399.75 75.09h1.99v2.00h-1.99zM421.68 75.09h1.99v2.00h-1.99zM435.64 75.09h1.99v2.00h-1.99zM349.92 77.10h1.99v2.00h-1.99zM351.91 77.10h1.99v2.00h-1.99zM355.90 77.10h1.99v2.00h-1.99zM367.86 77.10h1.99v2.00h-1.99zM383.81 77.10h1.99v2.00h-1.99zM403.74 77.10h1.99v2.00h-1.99zM409.72 77.10h1.99v2.00h-1.99zM419.69 77.10h1.99v2.00h-1.99zM423.68 77.10h1.99v2.00h-1.99zM349.92 79.10h1.99v2.00h-1.99zM357.89 79.10h1.99v2.00h-1.99zM373.84 79.10h1.99v2.00h-1.99zM399.75 79.10h1.99v2.00h-1.99zM415.70 79.10h1.99v2.00h-1.99zM417.70 79.10h1.99v2.00h-1.99zM431.65 79.10h1.99v2.00h-1.99zM324.00 81.10h1.99v2.00h-1.99zM327.99 81.10h1.99v2.00h-1.99zM329.98 81.10h1.99v2.00h-1.99zM349.92 81.10h1.99v2.00h-1.99zM353.90 81.10h1.99v2.00h-1.99zM355.90 81.10h1.99v2.00h-1.99zM393.77 81.10h1.99v2.00h-1.99zM397.76 81.10h1.99v2.00h-1.99zM399.75 81.10h1.99v2.00h-1.99zM405.74 81.10h1.99v2.00h-1.99zM415.70 81.10h1.99v2.00h-1.99zM345.93 83.11h1.99v2.00h-1.99zM355.90 83.11h1.99v2.00h-1.99zM369.85 83.11h1.99v2.00h-1.99zM387.79 83.11h1.99v2.00h-1.99zM409.72 83.11h1.99v2.00h-1.99zM415.70 83.11h1.99v2.00h-1.99zM419.69 83.11h1.99v2.00h-1.99zM437.63 83.11h1.99v2.00h-1.99zM441.62 83.11h1.99v2.00h-1.99zM324.00 85.11h1.99v2.00h-1.99zM325.99 85.11h1.99v2.00h-1.99zM371.85 85.11h1.99v2.00h-1.99zM373.84 85.11h1.99v2.00h-1.99zM375.83 85.11h1.99v2.00h-1.99zM377.83 85.11h1.99v2.00h-1.99zM343.94 87.11h1.99v2.00h-1.99zM353.90 87.11h1.99v2.00h-1.99zM355.90 87.11h1.99v2.00h-1.99zM367.86 87.11h1.99v2.00h-1.99zM373.84 87.11h1.99v2.00h-1.99zM379.82 87.11h1.99v2.00h-1.99zM383.81 87.11h1.99v2.00h-1.99zM407.73 87.11h1.99v2.00h-1.99zM409.72 87.11h1.99v2.00h-1.99zM419.69 87.11h1.99v2.00h-1.99zM421.68 87.11h1.99v2.00h-1.99zM423.68 87.11h1.99v2.00h-1.99zM433.65 87.11h1.99v2.00h-1.99zM435.64 87.11h1.99v2.00h-1.99zM439.63 87.11h1.99v2.00h-1.99zM443.61 87.11h1.99v2.00h-1.99zM349.92 89.12h1.99v2.00h-1.99zM351.91 89.12h1.99v2.00h-1.99zM353.90 89.12h1.99v2.00h-1.99zM357.89 89.12h1.99v2.00h-1.99zM359.88 89.12h1.99v2.00h-1.99zM361.88 89.12h1.99v2.00h-1.99zM371.85 89.12h1.99v2.00h-1.99zM373.84 89.12h1.99v2.00h-1.99zM375.83 89.12h1.99v2.00h-1.99zM381.81 89.12h1.99v2.00h-1.99zM393.77 89.12h1.99v2.00h-1.99zM403.74 89.12h1.99v2.00h-1.99zM417.70 89.12h1.99v2.00h-1.99zM331.97 91.12h1.99v2.00h-1.99zM333.97 91.12h1.99v2.00h-1.99zM355.90 91.12h1.99v2.00h-1.99zM359.88 91.12h1.99v2.00h-1.99zM379.82 91.12h1.99v2.00h-1.99zM405.74 91.12h1.99v2.00h-1.99zM407.73 91.12h1.99v2.00h-1.99zM341.94 93.12h1.99v2.00h-1.99zM357.89 93.12h1.99v2.00h-1.99zM367.86 93.12h1.99v2.00h-1.99zM369.85 93.12h1.99v2.00h-1.99zM371.85 93.12h1.99v2.00h-1.99zM385.80 93.12h1.99v2.00h-1.99zM393.77 93.12h1.99v2.00h-1.99zM399.75 93.12h1.99v2.00h-1.99zM437.63 93.12h1.99v2.00h-1.99zM347.92 95.13h1.99v2.00h-1.99zM349.92 95.13h1.99v2.00h-1.99zM351.91 95.13h1.99v2.00h-1.99zM353.90 95.13h1.99v2.00h-1.99zM359.88 95.13h1.99v2.00h-1.99zM371.85 95.13h1.99v2.00h-1.99zM377.83 95.13h1.99v2.00h-1.99zM379.82 95.13h1.99v2.00h-1.99zM399.75 95.13h1.99v2.00h-1.99zM415.70 95.13h1.99v2.00h-1.99zM419.69 95.13h1.99v2.00h-1.99zM421.68 95.13h1.99v2.00h-1.99zM437.63 95.13h1.99v2.00h-1.99zM345.93 97.13h1.99v2.00h-1.99zM373.84 97.13h1.99v2.00h-1.99zM395.77 97.13h1.99v2.00h-1.99zM403.74 97.13h1.99v2.00h-1.99zM423.68 97.13h1.99v2.00h-1.99zM431.65 97.13h1.99v2.00h-1.99zM433.65 97.13h1.99v2.00h-1.99zM435.64 97.13h1.99v2.00h-1.99zM341.94 99.14h1.99v2.00h-1.99zM361.88 99.14h1.99v2.00h-1.99zM363.87 99.14h1.99v2.00h-1.99zM377.83 99.14h1.99v2.00h-1.99zM393.77 99.14h1.99v2.00h-1.99zM425.67 99.14h1.99v2.00h-1.99zM435.64 99.14h1.99v2.00h-1.99zM437.63 99.14h1.99v2.00h-1.99zM343.94 101.14h1.99v2.00h-1.99zM345.93 101.14h1.99v2.00h-1.99zM363.87 101.14h1.99v2.00h-1.99zM365.86 101.14h1.99v2.00h-1.99zM383.81 101.14h1.99v2.00h-1.99zM405.74 101.14h1.99v2.00h-1.99zM431.65 101.14h1.99v2.00h-1.99zM445.61 101.14h1.99v2.00h-1.99zM324.00 103.14h1.99v2.00h-1.99zM345.93 103.14h1.99v2.00h-1.99zM347.92 103.14h1.99v2.00h-1.99zM373.84 103.14h1.99v2.00h-1.99zM381.81 103.14h1.99v2.00h-1.99zM395.77 103.14h1.99v2.00h-1.99zM425.67 103.14h1.99v2.00h-1.99zM345.93 105.15h1.99v2.00h-1.99zM353.90 105.15h1.99v2.00h-1.99zM355.90 105.15h1.99v2.00h-1.99zM375.83 105.15h1.99v2.00h-1.99zM389.79 105.15h1.99v2.00h-1.99zM411.72 105.15h1.99v2.00h-1.99zM431.65 105.15h1.99v2.00h-1.99zM433.65 105.15h1.99v2.00h-1.99zM435.64 105.15h1.99v2.00h-1.99zM437.63 105.15h1.99v2.00h-1.99zM439.63 105.15h1.99v2.00h-1.99zM443.61 105.15h1.99v2.00h-1.99zM357.89 107.15h1.99v2.00h-1.99zM359.88 107.15h1.99v2.00h-1.99zM375.83 107.15h1.99v2.00h-1.99zM377.83 107.15h1.99v2.00h-1.99zM381.81 107.15h1.99v2.00h-1.99zM395.77 107.15h1.99v2.00h-1.99zM409.72 107.15h1.99v2.00h-1.99zM413.71 107.15h1.99v2.00h-1.99zM423.68 107.15h1.99v2.00h-1.99zM435.64 107.15h1.99v2.00h-1.99zM439.63 107.15h1.99v2.00h-1.99zM329.98 109.15h1.99v2.00h-1.99zM331.97 109.15h1.99v2.00h-1.99zM365.86 109.15h1.99v2.00h-1.99zM385.80 109.15h1.99v2.00h-1.99zM391.78 109.15h1.99v2.00h-1.99zM399.75 109.15h1.99v2.00h-1.99zM427.66 109.15h1.99v2.00h-1.99zM441.62 109.15h1.99v2.00h-1.99zM333.97 111.16h1.99v2.00h-1.99zM355.90 111.16h1.99v2.00h-1.99zM359.88 111.16h1.99v2.00h-1.99zM377.83 111.16h1.99v2.00h-1.99zM403.74 111.16h1.99v2.00h-1.99zM411.72 111.16h1.99v2.00h-1.99zM413.71 111.16h1.99v2.00h-1.99zM421.68 111.16h1.99v2.00h-1.99zM431.65 111.16h1.99v2.00h-1.99zM437.63 111.16h1.99v2.00h-1.99zM439.63 111.16h1.99v2.00h-1.99zM341.94 113.16h1.99v2.00h-1.99zM353.90 113.16h1.99v2.00h-1.99zM377.83 113.16h1.99v2.00h-1.99zM403.74 113.16h1.99v2.00h-1.99zM411.72 113.16h1.99v2.00h-1.99zM413.71 113.16h1.99v2.00h-1.99zM415.70 113.16h1.99v2.00h-1.99zM425.67 113.16h1.99v2.00h-1.99zM427.66 113.16h1.99v2.00h-1.99zM433.65 113.16h1.99v2.00h-1.99zM435.64 113.16h1.99v2.00h-1.99zM437.63 113.16h1.99v2.00h-1.99zM325.99 115.17h1.99v2.00h-1.99zM387.79 115.17h1.99v2.00h-1.99zM389.79 115.17h1.99v2.00h-1.99zM391.78 115.17h1.99v2.00h-1.99zM393.77 115.17h1.99v2.00h-1.99zM423.68 115.17h1.99v2.00h-1.99zM425.67 115.17h1.99v2.00h-1.99zM427.66 115.17h1.99v2.00h-1.99zM431.65 115.17h1.99v2.00h-1.99zM441.62 115.17h1.99v2.00h-1.99zM339.95 117.17h1.99v2.00h-1.99zM341.94 117.17h1.99v2.00h-1.99zM343.94 117.17h1.99v2.00h-1.99zM345.93 117.17h1.99v2.00h-1.99zM351.91 117.17h1.99v2.00h-1.99zM369.85 117.17h1.99v2.00h-1.99zM375.83 117.17h1.99v2.00h-1.99zM377.83 117.17h1.99v2.00h-1.99zM379.82 117.17h1.99v2.00h-1.99zM411.72 117.17h1.99v2.00h-1.99zM423.68 117.17h1.99v2.00h-1.99zM425.67 117.17h1.99v2.00h-1.99zM427.66 117.17h1.99v2.00h-1.99zM433.65 117.17h1.99v2.00h-1.99zM437.63 117.17h1.99v2.00h-1.99zM333.97 119.17h1.99v2.00h-1.99zM361.88 119.17h1.99v2.00h-1.99zM383.81 119.17h1.99v2.00h-1.99zM385.80 119.17h1.99v2.00h-1.99zM411.72 119.17h1.99v2.00h-1.99zM423.68 119.17h1.99v2.00h-1.99zM429.66 119.17h1.99v2.00h-1.99zM437.63 119.17h1.99v2.00h-1.99zM443.61 119.17h1.99v2.00h-1.99zM355.90 121.18h1.99v2.00h-1.99zM379.82 121.18h1.99v2.00h-1.99zM381.81 121.18h1.99v2.00h-1.99zM385.80 121.18h1.99v2.00h-1.99zM387.79 121.18h1.99v2.00h-1.99zM395.77 121.18h1.99v2.00h-1.99zM397.76 121.18h1.99v2.00h-1.99zM415.70 121.18h1.99v2.00h-1.99zM417.70 121.18h1.99v2.00h-1.99zM419.69 121.18h1.99v2.00h-1.99zM435.64 121.18h1.99v2.00h-1.99zM327.99 123.18h1.99v2.00h-1.99zM357.89 123.18h1.99v2.00h-1.99zM359.88 123.18h1.99v2.00h-1.99zM377.83 123.18h1.99v2.00h-1.99zM383.81 123.18h1.99v2.00h-1.99zM385.80 123.18h1.99v2.00h-1.99zM387.79 123.18h1.99v2.00h-1.99zM399.75 123.18h1.99v2.00h-1.99zM403.74 123.18h1.99v2.00h-1.99zM411.72 123.18h1.99v2.00h-1.99zM425.67 123.18h1.99v2.00h-1.99zM429.66 123.18h1.99v2.00h-1.99zM431.65 123.18h1.99v2.00h-1.99zM435.64 123.18h1.99v2.00h-1.99zM445.61 123.18h1.99v2.00h-1.99zM359.88 125.18h1.99v2.00h-1.99zM363.87 125.18h1.99v2.00h-1.99zM365.86 125.18h1.99v2.00h-1.99zM381.81 125.18h1.99v2.00h-1.99zM385.80 125.18h1.99v2.00h-1.99zM387.79 125.18h1.99v2.00h-1.99zM389.79 125.18h1.99v2.00h-1.99zM411.72 125.18h1.99v2.00h-1.99zM425.67 125.18h1.99v2.00h-1.99zM325.99 127.19h1.99v2.00h-1.99zM339.95 127.19h1.99v2.00h-1.99zM393.77 127.19h1.99v2.00h-1.99zM433.65 127.19h1.99v2.00h-1.99zM439.63 127.19h1.99v2.00h-1.99zM325.99 129.19h1.99v2.00h-1.99zM339.95 129.19h1.99v2.00h-1.99zM387.79 129.19h1.99v2.00h-1.99zM393.77 129.19h1.99v2.00h-1.99zM405.74 129.19h1.99v2.00h-1.99zM329.98 131.19h1.99v2.00h-1.99zM385.80 131.19h1.99v2.00h-1.99zM393.77 131.19h1.99v2.00h-1.99zM395.77 131.19h1.99v2.00h-1.99zM423.68 131.19h1.99v2.00h-1.99zM425.67 131.19h1.99v2.00h-1.99zM427.66 131.19h1.99v2.00h-1.99zM429.66 131.19h1.99v2.00h-1.99zM431.65 131.19h1.99v2.00h-1.99zM331.97 133.20h1.99v2.00h-1.99zM337.95 133.20h1.99v2.00h-1.99zM363.87 133.20h1.99v2.00h-1.99zM375.83 133.20h1.99v2.00h-1.99zM383.81 133.20h1.99v2.00h-1.99zM393.77 133.20h1.99v2.00h-1.99zM403.74 133.20h1.99v2.00h-1.99zM411.72 133.20h1.99v2.00h-1.99zM439.63 133.20h1.99v2.00h-1.99zM441.62 133.20h1.99v2.00h-1.99zM443.61 133.20h1.99v2.00h-1.99zM353.90 135.20h1.99v2.00h-1.99zM355.90 135.20h1.99v2.00h-1.99zM367.86 135.20h1.99v2.00h-1.99zM391.78 135.20h1.99v2.00h-1.99zM329.98 137.21h1.99v2.00h-1.99zM335.96 137.21h1.99v2.00h-1.99zM387.79 137.21h1.99v2.00h-1.99zM397.76 137.21h1.99v2.00h-1.99zM411.72 137.21h1.99v2.00h-1.99zM431.65 137.21h1.99v2.00h-1.99zM381.81 139.21h1.99v2.00h-1.99zM387.79 139.21h1.99v2.00h-1.99zM399.75 139.21h1.99v2.00h-1.99zM429.66 139.21h1.99v2.00h-1.99zM439.63 139.21h1.99v2.00h-1.99zM443.61 139.21h1.99v2.00h-1.99zM445.61 139.21h1.99v2.00h-1.99zM345.93 141.21h1.99v2.00h-1.99zM347.92 141.21h1.99v2.00h-1.99zM355.90 141.21h1.99v2.00h-1.99zM357.89 141.21h1.99v2.00h-1.99zM359.88 141.21h1.99v2.00h-1.99zM365.86 141.21h1.99v2.00h-1.99zM367.86 141.21h1.99v2.00h-1.99zM393.77 141.21h1.99v2.00h-1.99zM399.75 141.21h1.99v2.00h-1.99zM431.65 141.21h1.99v2.00h-1.99zM433.65 141.21h1.99v2.00h-1.99zM445.61 141.21h1.99v2.00h-1.99zM339.95 143.22h1.99v2.00h-1.99zM341.94 143.22h1.99v2.00h-1.99zM343.94 143.22h1.99v2.00h-1.99zM361.88 143.22h1.99v2.00h-1.99zM365.86 143.22h1.99v2.00h-1.99zM367.86 143.22h1.99v2.00h-1.99zM369.85 143.22h1.99v2.00h-1.99zM379.82 143.22h1.99v2.00h-1.99zM381.81 143.22h1.99v2.00h-1.99zM415.70 143.22h1.99v2.00h-1.99zM355.90 145.22h1.99v2.00h-1.99zM369.85 145.22h1.99v2.00h-1.99zM385.80 145.22h1.99v2.00h-1.99zM389.79 145.22h1.99v2.00h-1.99zM401.75 145.22h1.99v2.00h-1.99zM405.74 145.22h1.99v2.00h-1.99zM445.61 145.22h1.99v2.00h-1.99zM331.97 147.22h1.99v2.00h-1.99zM333.97 147.22h1.99v2.00h-1.99zM371.85 147.22h1.99v2.00h-1.99zM373.84 147.22h1.99v2.00h-1.99zM375.83 147.22h1.99v2.00h-1.99zM395.77 147.22h1.99v2.00h-1.99zM411.72 147.22h1.99v2.00h-1.99zM413.71 147.22h1.99v2.00h-1.99zM417.70 147.22h1.99v2.00h-1.99zM351.91 149.23h1.99v2.00h-1.99zM393.77 149.23h1.99v2.00h-1.99zM395.77 149.23h1.99v2.00h-1.99zM397.76 149.23h1.99v2.00h-1.99zM399.75 149.23h1.99v2.00h-1.99zM401.75 149.23h1.99v2.00h-1.99zM405.74 149.23h1.99v2.00h-1.99zM365.86 151.23h1.99v2.00h-1.99zM371.85 151.23h1.99v2.00h-1.99zM373.84 151.23h1.99v2.00h-1.99zM385.80 151.23h1.99v2.00h-1.99zM387.79 151.23h1.99v2.00h-1.99zM395.77 151.23h1.99v2.00h-1.99zM397.76 151.23h1.99v2.00h-1.99zM417.70 151.23h1.99v2.00h-1.99zM441.62 151.23h1.99v2.00h-1.99zM445.61 151.23h1.99v2.00h-1.99zM324.00 153.23h1.99v2.00h-1.99zM359.88 153.23h1.99v2.00h-1.99zM375.83 153.23h1.99v2.00h-1.99zM385.80 153.23h1.99v2.00h-1.99zM387.79 153.23h1.99v2.00h-1.99zM389.79 153.23h1.99v2.00h-1.99zM393.77 153.23h1.99v2.00h-1.99zM395.77 153.23h1.99v2.00h-1.99zM397.76 153.23h1.99v2.00h-1.99zM431.65 153.23h1.99v2.00h-1.99zM363.87 155.24h1.99v2.00h-1.99zM365.86 155.24h1.99v2.00h-1.99zM379.82 155.24h1.99v2.00h-1.99zM385.80 155.24h1.99v2.00h-1.99zM401.75 155.24h1.99v2.00h-1.99zM403.74 155.24h1.99v2.00h-1.99zM415.70 155.24h1.99v2.00h-1.99zM425.67 155.24h1.99v2.00h-1.99zM333.97 157.24h1.99v2.00h-1.99zM335.96 157.24h1.99v2.00h-1.99zM353.90 157.24h1.99v2.00h-1.99zM355.90 157.24h1.99v2.00h-1.99zM385.80 157.24h1.99v2.00h-1.99zM387.79 157.24h1.99v2.00h-1.99zM389.79 157.24h1.99v2.00h-1.99zM429.66 157.24h1.99v2.00h-1.99zM324.00 159.25h1.99v2.00h-1.99zM325.99 159.25h1.99v2.00h-1.99zM343.94 159.25h1.99v2.00h-1.99zM345.93 159.25h1.99v2.00h-1.99zM353.90 159.25h1.99v2.00h-1.99zM355.90 159.25h1.99v2.00h-1.99zM357.89 159.25h1.99v2.00h-1.99zM367.86 159.25h1.99v2.00h-1.99zM369.85 159.25h1.99v2.00h-1.99zM393.77 159.25h1.99v2.00h-1.99zM395.77 159.25h1.99v2.00h-1.99zM401.75 159.25h1.99v2.00h-1.99zM407.73 159.25h1.99v2.00h-1.99zM409.72 159.25h1.99v2.00h-1.99zM421.68 159.25h1.99v2.00h-1.99zM423.68 159.25h1.99v2.00h-1.99zM425.67 159.25h1.99v2.00h-1.99zM441.62 159.25h1.99v2.00h-1.99zM329.98 161.25h1.99v2.00h-1.99zM355.90 161.25h1.99v2.00h-1.99zM357.89 161.25h1.99v2.00h-1.99zM359.88 161.25h1.99v2.00h-1.99zM391.78 161.25h1.99v2.00h-1.99zM393.77 161.25h1.99v2.00h-1.99zM395.77 161.25h1.99v2.00h-1.99zM369.85 163.25h1.99v2.00h-1.99zM391.78 163.25h1.99v2.00h-1.99zM393.77 163.25h1.99v2.00h-1.99zM419.69 163.25h1.99v2.00h-1.99zM421.68 163.25h1.99v2.00h-1.99zM423.68 163.25h1.99v2.00h-1.99zM429.66 163.25h1.99v2.00h-1.99zM439.63 163.25h1.99v2.00h-1.99zM443.61 163.25h1.99v2.00h-1.99zM345.93 165.26h1.99v2.00h-1.99zM355.90 165.26h1.99v2.00h-1.99zM363.87 165.26h1.99v2.00h-1.99zM369.85 165.26h1.99v2.00h-1.99zM389.79 165.26h1.99v2.00h-1.99zM393.77 165.26h1.99v2.00h-1.99zM419.69 165.26h1.99v2.00h-1.99zM325.99 167.26h1.99v2.00h-1.99zM359.88 167.26h1.99v2.00h-1.99zM385.80 167.26h1.99v2.00h-1.99zM387.79 167.26h1.99v2.00h-1.99zM389.79 167.26h1.99v2.00h-1.99zM393.77 167.26h1.99v2.00h-1.99zM421.68 167.26h1.99v2.00h-1.99zM423.68 167.26h1.99v2.00h-1.99zM425.67 167.26h1.99v2.00h-1.99zM427.66 167.26h1.99v2.00h-1.99zM445.61 167.26h1.99v2.00h-1.99zM337.95 169.26h1.99v2.00h-1.99zM339.95 169.26h1.99v2.00h-1.99zM351.91 169.26h1.99v2.00h-1.99zM357.89 169.26h1.99v2.00h-1.99zM363.87 169.26h1.99v2.00h-1.99zM373.84 169.26h1.99v2.00h-1.99zM381.81 169.26h1.99v2.00h-1.99zM385.80 169.26h1.99v2.00h-1.99zM389.79 169.26h1.99v2.00h-1.99zM433.65 169.26h1.99v2.00h-1.99zM437.63 169.26h1.99v2.00h-1.99zM329.98 171.27h1.99v2.00h-1.99zM335.96 171.27h1.99v2.00h-1.99zM339.95 171.27h1.99v2.00h-1.99zM355.90 171.27h1.99v2.00h-1.99zM357.89 171.27h1.99v2.00h-1.99zM359.88 171.27h1.99v2.00h-1.99zM363.87 171.27h1.99v2.00h-1.99zM389.79 171.27h1.99v2.00h-1.99zM391.78 171.27h1.99v2.00h-1.99zM401.75 171.27h1.99v2.00h-1.99zM439.63 171.27h1.99v2.00h-1.99zM327.99 173.27h1.99v2.00h-1.99zM329.98 173.27h1.99v2.00h-1.99zM359.88 173.27h1.99v2.00h-1.99zM361.88 173.27h1.99v2.00h-1.99zM363.87 173.27h1.99v2.00h-1.99zM389.79 173.27h1.99v2.00h-1.99zM391.78 173.27h1.99v2.00h-1.99zM395.77 173.27h1.99v2.00h-1.99zM401.75 173.27h1.99v2.00h-1.99zM407.73 173.27h1.99v2.00h-1.99zM325.99 175.28h1.99v2.00h-1.99zM333.97 175.28h1.99v2.00h-1.99zM363.87 175.28h1.99v2.00h-1.99zM373.84 175.28h1.99v2.00h-1.99zM387.79 175.28h1.99v2.00h-1.99zM389.79 175.28h1.99v2.00h-1.99zM391.78 175.28h1.99v2.00h-1.99zM395.77 175.28h1.99v2.00h-1.99zM403.74 175.28h1.99v2.00h-1.99zM405.74 175.28h1.99v2.00h-1.99zM425.67 175.28h1.99v2.00h-1.99zM427.66 175.28h1.99v2.00h-1.99zM445.61 175.28h1.99v2.00h-1.99zM333.97 177.28h1.99v2.00h-1.99zM385.80 177.28h1.99v2.00h-1.99zM391.78 177.28h1.99v2.00h-1.99zM405.74 177.28h1.99v2.00h-1.99zM413.71 177.28h1.99v2.00h-1.99zM415.70 177.28h1.99v2.00h-1.99zM325.99 179.28h1.99v2.00h-1.99zM341.94 179.28h1.99v2.00h-1.99zM343.94 179.28h1.99v2.00h-1.99zM359.88 179.28h1.99v2.00h-1.99zM425.67 179.28h1.99v2.00h-1.99zM427.66 179.28h1.99v2.00h-1.99zM443.61 179.28h1.99v2.00h-1.99zM333.97 181.29h1.99v2.00h-1.99zM343.94 181.29h1.99v2.00h-1.99zM351.91 181.29h1.99v2.00h-1.99zM363.87 181.29h1.99v2.00h-1.99zM365.86 181.29h1.99v2.00h-1.99zM369.85 181.29h1.99v2.00h-1.99zM411.72 181.29h1.99v2.00h-1.99zM423.68 181.29h1.99v2.00h-1.99zM441.62 181.29h1.99v2.00h-1.99zM343.94 183.29h1.99v2.00h-1.99zM345.93 183.29h1.99v2.00h-1.99zM347.92 183.29h1.99v2.00h-1.99zM369.85 183.29h1.99v2.00h-1.99zM393.77 183.29h1.99v2.00h-1.99zM423.68 183.29h1.99v2.00h-1.99zM425.67 183.29h1.99v2.00h-1.99zM331.97 185.29h1.99v2.00h-1.99zM333.97 185.29h1.99v2.00h-1.99zM343.94 185.29h1.99v2.00h-1.99zM345.93 185.29h1.99v2.00h-1.99zM393.77 185.29h1.99v2.00h-1.99zM423.68 185.29h1.99v2.00h-1.99zM427.66 185.29h1.99v2.00h-1.99zM435.64 185.29h1.99v2.00h-1.99zM437.63 185.29h1.99v2.00h-1.99zM333.97 187.30h1.99v2.00h-1.99zM349.92 187.30h1.99v2.00h-1.99zM351.91 187.30h1.99v2.00h-1.99zM371.85 187.30h1.99v2.00h-1.99zM393.77 187.30h1.99v2.00h-1.99zM395.77 187.30h1.99v2.00h-1.99zM423.68 187.30h1.99v2.00h-1.99zM425.67 187.30h1.99v2.00h-1.99zM445.61 187.30h1.99v2.00h-1.99zM329.98 189.30h1.99v2.00h-1.99zM331.97 189.30h1.99v2.00h-1.99zM333.97 189.30h1.99v2.00h-1.99zM337.95 189.30h1.99v2.00h-1.99zM339.95 189.30h1.99v2.00h-1.99zM349.92 189.30h1.99v2.00h-1.99zM387.79 189.30h1.99v2.00h-1.99zM393.77 189.30h1.99v2.00h-1.99zM411.72 189.30h1.99v2.00h-1.99zM413.71 189.30h1.99v2.00h-1.99zM415.70 189.30h1.99v2.00h-1.99zM439.63 189.30h1.99v2.00h-1.99zM337.95 191.30h1.99v2.00h-1.99zM339.95 191.30h1.99v2.00h-1.99zM343.94 191.30h1.99v2.00h-1.99zM359.88 191.30h1.99v2.00h-1.99zM391.78 191.30h1.99v2.00h-1.99zM411.72 191.30h1.99v2.00h-1.99zM413.71 191.30h1.99v2.00h-1.99zM324.00 193.31h1.99v2.00h-1.99zM369.85 193.31h1.99v2.00h-1.99zM391.78 193.31h1.99v2.00h-1.99zM427.66 193.31h1.99v2.00h-1.99zM429.66 193.31h1.99v2.00h-1.99zM431.65 193.31h1.99v2.00h-1.99zM324.00 195.31h1.99v2.00h-1.99zM341.94 195.31h1.99v2.00h-1.99zM355.90 195.31h1.99v2.00h-1.99zM361.88 195.31h1.99v2.00h-1.99zM369.85 195.31h1.99v2.00h-1.99zM391.78 195.31h1.99v2.00h-1.99zM429.66 195.31h1.99v2.00h-1.99zM437.63 195.31h1.99v2.00h-1.99zM324.00 197.32h1.99v2.00h-1.99zM335.96 197.32h1.99v2.00h-1.99zM341.94 197.32h1.99v2.00h-1.99zM347.92 197.32h1.99v2.00h-1.99zM349.92 197.32h1.99v2.00h-1.99zM355.90 197.32h1.99v2.00h-1.99zM361.88 197.32h1.99v2.00h-1.99zM367.86 197.32h1.99v2.00h-1.99zM369.85 197.32h1.99v2.00h-1.99zM391.78 197.32h1.99v2.00h-1.99zM393.77 197.32h1.99v2.00h-1.99zM395.77 197.32h1.99v2.00h-1.99zM417.70 197.32h1.99v2.00h-1.99zM433.65 197.32h1.99v2.00h-1.99zM445.61 197.32h1.99v2.00h-1.99zM335.96 199.32h1.99v2.00h-1.99zM337.95 199.32h1.99v2.00h-1.99zM349.92 199.32h1.99v2.00h-1.99zM355.90 199.32h1.99v2.00h-1.99zM359.88 199.32h1.99v2.00h-1.99zM361.88 199.32h1.99v2.00h-1.99zM363.87 199.32h1.99v2.00h-1.99zM391.78 199.32h1.99v2.00h-1.99zM395.77 199.32h1.99v2.00h-1.99zM423.68 199.32h1.99v2.00h-1.99zM425.67 199.32h1.99v2.00h-1.99zM431.65 199.32h1.99v2.00h-1.99zM335.96 201.32h1.99v2.00h-1.99zM363.87 201.32h1.99v2.00h-1.99zM371.85 201.32h1.99v2.00h-1.99zM385.80 201.32h1.99v2.00h-1.99zM393.77 201.32h1.99v2.00h-1.99zM395.77 201.32h1.99v2.00h-1.99zM419.69 201.32h1.99v2.00h-1.99zM421.68 201.32h1.99v2.00h-1.99zM423.68 201.32h1.99v2.00h-1.99zM443.61 201.32h1.99v2.00h-1.99zM335.96 203.33h1.99v2.00h-1.99zM337.95 203.33h1.99v2.00h-1.99zM387.79 203.33h1.99v2.00h-1.99zM393.77 203.33h1.99v2.00h-1.99zM409.72 203.33h1.99v2.00h-1.99zM335.96 205.33h1.99v2.00h-1.99zM337.95 205.33h1.99v2.00h-1.99zM387.79 205.33h1.99v2.00h-1.99zM393.77 205.33h1.99v2.00h-1.99zM417.70 205.33h1.99v2.00h-1.99zM429.66 205.33h1.99v2.00h-1.99zM431.65 205.33h1.99v2.00h-1.99zM437.63 205.33h1.99v2.00h-1.99zM337.95 207.33h1.99v2.00h-1.99zM417.70 207.33h1.99v2.00h-1.99zM421.68 207.33h1.99v2.00h-1.99zM423.68 207.33h1.99v2.00h-1.99zM427.66 207.33h1.99v2.00h-1.99zM433.65 207.33h1.99v2.00h-1.99zM441.62 207.33h1.99v2.00h-1.99zM443.61 207.33h1.99v2.00h-1.99zM333.97 209.34h1.99v2.00h-1.99zM355.90 209.34h1.99v2.00h-1.99zM363.87 209.34h1.99v2.00h-1.99zM391.78 209.34h1.99v2.00h-1.99zM401.75 209.34h1.99v2.00h-1.99zM409.72 209.34h1.99v2.00h-1.99zM425.67 209.34h1.99v2.00h-1.99zM431.65 209.34h1.99v2.00h-1.99zM435.64 209.34h1.99v2.00h-1.99zM439.63 209.34h1.99v2.00h-1.99zM325.99 211.34h1.99v2.00h-1.99zM359.88 211.34h1.99v2.00h-1.99zM363.87 211.34h1.99v2.00h-1.99zM365.86 211.34h1.99v2.00h-1.99zM405.74 211.34h1.99v2.00h-1.99zM337.95 213.34h1.99v2.00h-1.99zM353.90 213.34h1.99v2.00h-1.99zM355.90 213.34h1.99v2.00h-1.99zM363.87 213.34h1.99v2.00h-1.99zM387.79 213.34h1.99v2.00h-1.99zM389.79 213.34h1.99v2.00h-1.99zM437.63 213.34h1.99v2.00h-1.99zM445.61 213.34h1.99v2.00h-1.99zM325.99 215.35h1.99v2.00h-1.99zM335.96 215.35h1.99v2.00h-1.99zM355.90 215.35h1.99v2.00h-1.99zM357.89 215.35h1.99v2.00h-1.99zM361.88 215.35h1.99v2.00h-1.99zM367.86 215.35h1.99v2.00h-1.99zM369.85 215.35h1.99v2.00h-1.99zM385.80 215.35h1.99v2.00h-1.99zM393.77 215.35h1.99v2.00h-1.99zM427.66 215.35h1.99v2.00h-1.99zM324.00 217.35h1.99v2.00h-1.99zM329.98 217.35h1.99v2.00h-1.99zM357.89 217.35h1.99v2.00h-1.99zM363.87 217.35h1.99v2.00h-1.99zM367.86 217.35h1.99v2.00h-1.99zM369.85 217.35h1.99v2.00h-1.99zM371.85 217.35h1.99v2.00h-1.99zM379.82 217.35h1.99v2.00h-1.99zM387.79 217.35h1.99v2.00h-1.99zM419.69 217.35h1.99v2.00h-1.99zM429.66 217.35h1.99v2.00h-1.99zM431.65 217.35h1.99v2.00h-1.99zM433.65 217.35h1.99v2.00h-1.99zM437.63 217.35h1.99v2.00h-1.99zM443.61 217.35h1.99v2.00h-1.99zM445.61 217.35h1.99v2.00h-1.99zM331.97 219.36h1.99v2.00h-1.99zM353.90 219.36h1.99v2.00h-1.99zM355.90 219.36h1.99v2.00h-1.99zM363.87 219.36h1.99v2.00h-1.99zM367.86 219.36h1.99v2.00h-1.99zM369.85 219.36h1.99v2.00h-1.99zM383.81 219.36h1.99v2.00h-1.99zM403.74 219.36h1.99v2.00h-1.99zM417.70 219.36h1.99v2.00h-1.99zM423.68 219.36h1.99v2.00h-1.99zM425.67 219.36h1.99v2.00h-1.99zM427.66 219.36h1.99v2.00h-1.99zM331.97 221.36h1.99v2.00h-1.99zM335.96 221.36h1.99v2.00h-1.99zM351.91 221.36h1.99v2.00h-1.99zM353.90 221.36h1.99v2.00h-1.99zM355.90 221.36h1.99v2.00h-1.99zM367.86 221.36h1.99v2.00h-1.99zM383.81 221.36h1.99v2.00h-1.99zM415.70 221.36h1.99v2.00h-1.99zM337.95 223.36h1.99v2.00h-1.99zM351.91 223.36h1.99v2.00h-1.99zM383.81 223.36h1.99v2.00h-1.99zM409.72 223.36h1.99v2.00h-1.99zM415.70 223.36h1.99v2.00h-1.99zM445.61 223.36h1.99v2.00h-1.99zM324.00 225.37h1.99v2.00h-1.99zM339.95 225.37h1.99v2.00h-1.99zM353.90 225.37h1.99v2.00h-1.99zM367.86 225.37h1.99v2.00h-1.99zM324.00 227.37h1.99v2.00h-1.99zM327.99 227.37h1.99v2.00h-1.99zM339.95 227.37h1.99v2.00h-1.99zM367.86 227.37h1.99v2.00h-1.99zM369.85 227.37h1.99v2.00h-1.99zM375.83 227.37h1.99v2.00h-1.99zM377.83 227.37h1.99v2.00h-1.99zM387.79 227.37h1.99v2.00h-1.99zM324.00 229.37h1.99v2.00h-1.99zM327.99 229.37h1.99v2.00h-1.99zM337.95 229.37h1.99v2.00h-1.99zM347.92 229.37h1.99v2.00h-1.99zM375.83 229.37h1.99v2.00h-1.99zM389.79 229.37h1.99v2.00h-1.99zM393.77 229.37h1.99v2.00h-1.99zM445.61 229.37h1.99v2.00h-1.99zM345.93 231.38h1.99v2.00h-1.99zM375.83 231.38h1.99v2.00h-1.99zM389.79 231.38h1.99v2.00h-1.99zM391.78 231.38h1.99v2.00h-1.99zM339.95 233.38h1.99v2.00h-1.99zM341.94 233.38h1.99v2.00h-1.99zM411.72 233.38h1.99v2.00h-1.99zM423.68 233.38h1.99v2.00h-1.99zM439.63 233.38h1.99v2.00h-1.99zM441.62 233.38h1.99v2.00h-1.99zM325.99 235.39h1.99v2.00h-1.99zM337.95 235.39h1.99v2.00h-1.99zM363.87 235.39h1.99v2.00h-1.99zM367.86 235.39h1.99v2.00h-1.99zM357.89 237.39h1.99v2.00h-1.99zM361.88 237.39h1.99v2.00h-1.99zM371.85 237.39h1.99v2.00h-1.99zM395.77 237.39h1.99v2.00h-1.99zM339.95 239.39h1.99v2.00h-1.99zM361.88 239.39h1.99v2.00h-1.99zM365.86 239.39h1.99v2.00h-1.99zM371.85 239.39h1.99v2.00h-1.99zM377.83 239.39h1.99v2.00h-1.99zM389.79 239.39h1.99v2.00h-1.99zM391.78 239.39h1.99v2.00h-1.99zM393.77 239.39h1.99v2.00h-1.99zM395.77 239.39h1.99v2.00h-1.99zM441.62 239.39h1.99v2.00h-1.99zM339.95 241.40h1.99v2.00h-1.99zM361.88 241.40h1.99v2.00h-1.99zM371.85 241.40h1.99v2.00h-1.99zM377.83 241.40h1.99v2.00h-1.99zM391.78 241.40h1.99v2.00h-1.99zM393.77 241.40h1.99v2.00h-1.99z"/>
<path fill="#6e70ee" d="M405.74 25.00h1.99v2.00h-1.99zM413.71 25.00h1.99v2.00h-1.99zM415.70 25.00h1.99v2.00h-1.99zM417.70 25.00h1.99v2.00h-1.99zM425.67 29.01h1.99v2.00h-1.99zM427.66 29.01h1.99v2.00h-1.99zM439.63 29.01h1.99v2.00h-1.99zM441.62 29.01h1.99v2.00h-1.99zM443.61 29.01h1.99v2.00h-1.99zM445.61 29.01h1.99v2.00h-1.99zM335.96 31.01h1.99v2.00h-1.99zM409.72 31.01h1.99v2.00h-1.99zM419.69 31.01h1.99v2.00h-1.99zM431.65 31.01h1.99v2.00h-1.99zM385.80 33.01h1.99v2.00h-1.99zM393.77 33.01h1.99v2.00h-1.99zM401.75 33.01h1.99v2.00h-1.99zM403.74 33.01h1.99v2.00h-1.99zM405.74 33.01h1.99v2.00h-1.99zM413.71 33.01h1.99v2.00h-1.99zM415.70 33.01h1.99v2.00h-1.99zM423.68 33.01h1.99v2.00h-1.99zM445.61 33.01h1.99v2.00h-1.99zM383.81 35.02h1.99v2.00h-1.99zM401.75 35.02h1.99v2.00h-1.99zM405.74 35.02h1.99v2.00h-1.99zM407.73 35.02h1.99v2.00h-1.99zM409.72 35.02h1.99v2.00h-1.99zM415.70 35.02h1.99v2.00h-1.99zM437.63 35.02h1.99v2.00h-1.99zM439.63 35.02h1.99v2.00h-1.99zM387.79 37.02h1.99v2.00h-1.99zM417.70 37.02h1.99v2.00h-1.99zM427.66 37.02h1.99v2.00h-1.99zM361.88 39.03h1.99v2.00h-1.99zM407.73 39.03h1.99v2.00h-1.99zM419.69 39.03h1.99v2.00h-1.99zM429.66 39.03h1.99v2.00h-1.99zM339.95 41.03h1.99v2.00h-1.99zM389.79 41.03h1.99v2.00h-1.99zM417.70 41.03h1.99v2.00h-1.99zM419.69 41.03h1.99v2.00h-1.99zM421.68 41.03h1.99v2.00h-1.99zM425.67 41.03h1.99v2.00h-1.99zM437.63 41.03h1.99v2.00h-1.99zM373.84 43.03h1.99v2.00h-1.99zM405.74 43.03h1.99v2.00h-1.99zM429.66 43.03h1.99v2.00h-1.99zM393.77 45.04h1.99v2.00h-1.99zM399.75 45.04h1.99v2.00h-1.99zM415.70 45.04h1.99v2.00h-1.99zM419.69 45.04h1.99v2.00h-1.99zM421.68 45.04h1.99v2.00h-1.99zM437.63 45.04h1.99v2.00h-1.99zM337.95 47.04h1.99v2.00h-1.99zM379.82 47.04h1.99v2.00h-1.99zM381.81 47.04h1.99v2.00h-1.99zM409.72 47.04h1.99v2.00h-1.99zM411.72 47.04h1.99v2.00h-1.99zM324.00 49.04h1.99v2.00h-1.99zM393.77 49.04h1.99v2.00h-1.99zM405.74 49.04h1.99v2.00h-1.99zM409.72 49.04h1.99v2.00h-1.99zM417.70 49.04h1.99v2.00h-1.99zM441.62 49.04h1.99v2.00h-1.99zM443.61 49.04h1.99v2.00h-1.99zM391.78 51.05h1.99v2.00h-1.99zM393.77 51.05h1.99v2.00h-1.99zM417.70 51.05h1.99v2.00h-1.99zM421.68 51.05h1.99v2.00h-1.99zM423.68 51.05h1.99v2.00h-1.99zM433.65 51.05h1.99v2.00h-1.99zM435.64 51.05h1.99v2.00h-1.99zM351.91 53.05h1.99v2.00h-1.99zM361.88 53.05h1.99v2.00h-1.99zM403.74 53.05h1.99v2.00h-1.99zM405.74 53.05h1.99v2.00h-1.99zM433.65 53.05h1.99v2.00h-1.99zM435.64 53.05h1.99v2.00h-1.99zM355.90 55.06h1.99v2.00h-1.99zM369.85 55.06h1.99v2.00h-1.99zM411.72 55.06h1.99v2.00h-1.99zM377.83 57.06h1.99v2.00h-1.99zM395.77 57.06h1.99v2.00h-1.99zM403.74 57.06h1.99v2.00h-1.99zM407.73 57.06h1.99v2.00h-1.99zM427.66 57.06h1.99v2.00h-1.99zM429.66 57.06h1.99v2.00h-1.99zM431.65 57.06h1.99v2.00h-1.99zM435.64 57.06h1.99v2.00h-1.99zM437.63 57.06h1.99v2.00h-1.99zM353.90 59.06h1.99v2.00h-1.99zM409.72 59.06h1.99v2.00h-1.99zM411.72 59.06h1.99v2.00h-1.99zM413.71 59.06h1.99v2.00h-1.99zM417.70 59.06h1.99v2.00h-1.99zM429.66 59.06h1.99v2.00h-1.99zM445.61 59.06h1.99v2.00h-1.99zM324.00 61.07h1.99v2.00h-1.99zM355.90 61.07h1.99v2.00h-1.99zM371.85 61.07h1.99v2.00h-1.99zM417.70 61.07h1.99v2.00h-1.99zM441.62 61.07h1.99v2.00h-1.99zM443.61 61.07h1.99v2.00h-1.99zM421.68 63.07h1.99v2.00h-1.99zM423.68 63.07h1.99v2.00h-1.99zM429.66 63.07h1.99v2.00h-1.99zM331.97 65.07h1.99v2.00h-1.99zM333.97 65.07h1.99v2.00h-1.99zM357.89 65.07h1.99v2.00h-1.99zM385.80 65.07h1.99v2.00h-1.99zM421.68 65.07h1.99v2.00h-1.99zM439.63 65.07h1.99v2.00h-1.99zM329.98 67.08h1.99v2.00h-1.99zM399.75 67.08h1.99v2.00h-1.99zM409.72 69.08h1.99v2.00h-1.99zM423.68 69.08h1.99v2.00h-1.99zM425.67 69.08h1.99v2.00h-1.99zM443.61 69.08h1.99v2.00h-1.99zM329.98 71.08h1.99v2.00h-1.99zM425.67 71.08h1.99v2.00h-1.99zM353.90 73.09h1.99v2.00h-1.99zM405.74 73.09h1.99v2.00h-1.99zM407.73 73.09h1.99v2.00h-1.99zM417.70 73.09h1.99v2.00h-1.99zM425.67 73.09h1.99v2.00h-1.99zM427.66 73.09h1.99v2.00h-1.99zM429.66 73.09h1.99v2.00h-1.99zM375.83 75.09h1.99v2.00h-1.99zM407.73 75.09h1.99v2.00h-1.99zM409.72 75.09h1.99v2.00h-1.99zM413.71 75.09h1.99v2.00h-1.99zM333.97 77.10h1.99v2.00h-1.99zM353.90 77.10h1.99v2.00h-1.99zM359.88 77.10h1.99v2.00h-1.99zM363.87 77.10h1.99v2.00h-1.99zM375.83 77.10h1.99v2.00h-1.99zM417.70 77.10h1.99v2.00h-1.99zM429.66 77.10h1.99v2.00h-1.99zM347.92 79.10h1.99v2.00h-1.99zM409.72 79.10h1.99v2.00h-1.99zM411.72 79.10h1.99v2.00h-1.99zM435.64 79.10h1.99v2.00h-1.99zM437.63 79.10h1.99v2.00h-1.99zM439.63 79.10h1.99v2.00h-1.99zM441.62 79.10h1.99v2.00h-1.99zM357.89 81.10h1.99v2.00h-1.99zM423.68 81.10h1.99v2.00h-1.99zM333.97 83.11h1.99v2.00h-1.99zM335.96 83.11h1.99v2.00h-1.99zM337.95 83.11h1.99v2.00h-1.99zM379.82 83.11h1.99v2.00h-1.99zM399.75 83.11h1.99v2.00h-1.99zM411.72 83.11h1.99v2.00h-1.99zM425.67 83.11h1.99v2.00h-1.99zM427.66 83.11h1.99v2.00h-1.99zM345.93 85.11h1.99v2.00h-1.99zM359.88 85.11h1.99v2.00h-1.99zM369.85 85.11h1.99v2.00h-1.99zM403.74 85.11h1.99v2.00h-1.99zM413.71 85.11h1.99v2.00h-1.99zM415.70 85.11h1.99v2.00h-1.99zM339.95 87.11h1.99v2.00h-1.99zM365.86 87.11h1.99v2.00h-1.99zM369.85 87.11h1.99v2.00h-1.99zM381.81 87.11h1.99v2.00h-1.99zM397.76 87.11h1.99v2.00h-1.99zM401.75 87.11h1.99v2.00h-1.99zM403.74 87.11h1.99v2.00h-1.99zM405.74 87.11h1.99v2.00h-1.99zM339.95 89.12h1.99v2.00h-1.99zM343.94 89.12h1.99v2.00h-1.99zM355.90 89.12h1.99v2.00h-1.99zM379.82 89.12h1.99v2.00h-1.99zM405.74 89.12h1.99v2.00h-1.99zM431.65 89.12h1.99v2.00h-1.99zM433.65 89.12h1.99v2.00h-1.99zM383.81 91.12h1.99v2.00h-1.99zM401.75 91.12h1.99v2.00h-1.99zM411.72 91.12h1.99v2.00h-1.99zM413.71 91.12h1.99v2.00h-1.99zM429.66 91.12h1.99v2.00h-1.99zM377.83 93.12h1.99v2.00h-1.99zM379.82 93.12h1.99v2.00h-1.99zM383.81 93.12h1.99v2.00h-1.99zM401.75 93.12h1.99v2.00h-1.99zM403.74 93.12h1.99v2.00h-1.99zM409.72 93.12h1.99v2.00h-1.99zM411.72 93.12h1.99v2.00h-1.99zM413.71 93.12h1.99v2.00h-1.99zM417.70 93.12h1.99v2.00h-1.99zM425.67 93.12h1.99v2.00h-1.99zM433.65 93.12h1.99v2.00h-1.99zM435.64 93.12h1.99v2.00h-1.99zM341.94 95.13h1.99v2.00h-1.99zM343.94 95.13h1.99v2.00h-1.99zM345.93 95.13h1.99v2.00h-1.99zM401.75 95.13h1.99v2.00h-1.99zM403.74 95.13h1.99v2.00h-1.99zM405.74 95.13h1.99v2.00h-1.99zM407.73 95.13h1.99v2.00h-1.99zM411.72 95.13h1.99v2.00h-1.99zM325.99 97.13h1.99v2.00h-1.99zM327.99 97.13h1.99v2.00h-1.99zM393.77 97.13h1.99v2.00h-1.99zM415.70 97.13h1.99v2.00h-1.99zM421.68 97.13h1.99v2.00h-1.99zM425.67 97.13h1.99v2.00h-1.99zM401.75 99.14h1.99v2.00h-1.99zM409.72 99.14h1.99v2.00h-1.99zM413.71 99.14h1.99v2.00h-1.99zM349.92 101.14h1.99v2.00h-1.99zM399.75 101.14h1.99v2.00h-1.99zM417.70 101.14h1.99v2.00h-1.99zM419.69 101.14h1.99v2.00h-1.99zM423.68 101.14h1.99v2.00h-1.99zM425.67 101.14h1.99v2.00h-1.99zM329.98 103.14h1.99v2.00h-1.99zM399.75 103.14h1.99v2.00h-1.99zM401.75 103.14h1.99v2.00h-1.99zM407.73 103.14h1.99v2.00h-1.99zM411.72 103.14h1.99v2.00h-1.99zM413.71 103.14h1.99v2.00h-1.99zM415.70 103.14h1.99v2.00h-1.99zM417.70 103.14h1.99v2.00h-1.99zM393.77 105.15h1.99v2.00h-1.99zM407.73 105.15h1.99v2.00h-1.99zM427.66 105.15h1.99v2.00h-1.99zM429.66 105.15h1.99v2.00h-1.99zM445.61 105.15h1.99v2.00h-1.99zM403.74 107.15h1.99v2.00h-1.99zM405.74 107.15h1.99v2.00h-1.99zM407.73 107.15h1.99v2.00h-1.99zM411.72 107.15h1.99v2.00h-1.99zM341.94 109.15h1.99v2.00h-1.99zM359.88 109.15h1.99v2.00h-1.99zM377.83 109.15h1.99v2.00h-1.99zM393.77 109.15h1.99v2.00h-1.99zM407.73 109.15h1.99v2.00h-1.99zM419.69 109.15h1.99v2.00h-1.99zM429.66 109.15h1.99v2.00h-1.99zM437.63 109.15h1.99v2.00h-1.99zM325.99 111.16h1.99v2.00h-1.99zM417.70 111.16h1.99v2.00h-1.99zM423.68 111.16h1.99v2.00h-1.99zM371.85 113.16h1.99v2.00h-1.99zM395.77 113.16h1.99v2.00h-1.99zM397.76 113.16h1.99v2.00h-1.99zM429.66 113.16h1.99v2.00h-1.99zM333.97 115.17h1.99v2.00h-1.99zM349.92 115.17h1.99v2.00h-1.99zM351.91 115.17h1.99v2.00h-1.99zM371.85 115.17h1.99v2.00h-1.99zM399.75 115.17h1.99v2.00h-1.99zM411.72 115.17h1.99v2.00h-1.99zM413.71 115.17h1.99v2.00h-1.99zM415.70 115.17h1.99v2.00h-1.99zM439.63 115.17h1.99v2.00h-1.99zM401.75 117.17h1.99v2.00h-1.99zM407.73 117.17h1.99v2.00h-1.99zM409.72 117.17h1.99v2.00h-1.99zM415.70 117.17h1.99v2.00h-1.99zM417.70 117.17h1.99v2.00h-1.99zM419.69 117.17h1.99v2.00h-1.99zM421.68 117.17h1.99v2.00h-1.99zM353.90 119.17h1.99v2.00h-1.99zM395.77 119.17h1.99v2.00h-1.99zM403.74 119.17h1.99v2.00h-1.99zM407.73 119.17h1.99v2.00h-1.99zM409.72 119.17h1.99v2.00h-1.99zM413.71 119.17h1.99v2.00h-1.99zM439.63 119.17h1.99v2.00h-1.99zM441.62 119.17h1.99v2.00h-1.99zM407.73 121.18h1.99v2.00h-1.99zM413.71 121.18h1.99v2.00h-1.99zM421.68 121.18h1.99v2.00h-1.99zM423.68 121.18h1.99v2.00h-1.99zM425.67 121.18h1.99v2.00h-1.99zM427.66 121.18h1.99v2.00h-1.99zM439.63 121.18h1.99v2.00h-1.99zM441.62 121.18h1.99v2.00h-1.99zM405.74 123.18h1.99v2.00h-1.99zM437.63 123.18h1.99v2.00h-1.99zM439.63 123.18h1.99v2.00h-1.99zM337.95 125.18h1.99v2.00h-1.99zM347.92 125.18h1.99v2.00h-1.99zM405.74 125.18h1.99v2.00h-1.99zM429.66 125.18h1.99v2.00h-1.99zM431.65 125.18h1.99v2.00h-1.99zM441.62 125.18h1.99v2.00h-1.99zM443.61 125.18h1.99v2.00h-1.99zM353.90 127.19h1.99v2.00h-1.99zM361.88 127.19h1.99v2.00h-1.99zM399.75 127.19h1.99v2.00h-1.99zM413.71 127.19h1.99v2.00h-1.99zM435.64 127.19h1.99v2.00h-1.99zM437.63 127.19h1.99v2.00h-1.99zM441.62 127.19h1.99v2.00h-1.99zM397.76 129.19h1.99v2.00h-1.99zM401.75 129.19h1.99v2.00h-1.99zM403.74 129.19h1.99v2.00h-1.99zM409.72 129.19h1.99v2.00h-1.99zM429.66 129.19h1.99v2.00h-1.99zM431.65 129.19h1.99v2.00h-1.99zM433.65 129.19h1.99v2.00h-1.99zM435.64 129.19h1.99v2.00h-1.99zM437.63 129.19h1.99v2.00h-1.99zM387.79 131.19h1.99v2.00h-1.99zM389.79 131.19h1.99v2.00h-1.99zM391.78 131.19h1.99v2.00h-1.99zM419.69 131.19h1.99v2.00h-1.99zM421.68 131.19h1.99v2.00h-1.99zM433.65 131.19h1.99v2.00h-1.99zM365.86 133.20h1.99v2.00h-1.99zM405.74 133.20h1.99v2.00h-1.99zM413.71 133.20h1.99v2.00h-1.99zM417.70 133.20h1.99v2.00h-1.99zM427.66 133.20h1.99v2.00h-1.99zM401.75 135.20h1.99v2.00h-1.99zM403.74 135.20h1.99v2.00h-1.99zM405.74 135.20h1.99v2.00h-1.99zM407.73 135.20h1.99v2.00h-1.99zM411.72 135.20h1.99v2.00h-1.99zM415.70 135.20h1.99v2.00h-1.99zM417.70 135.20h1.99v2.00h-1.99zM385.80 137.21h1.99v2.00h-1.99zM405.74 137.21h1.99v2.00h-1.99zM407.73 137.21h1.99v2.00h-1.99zM415.70 137.21h1.99v2.00h-1.99zM433.65 137.21h1.99v2.00h-1.99zM377.83 139.21h1.99v2.00h-1.99zM393.77 139.21h1.99v2.00h-1.99zM395.77 139.21h1.99v2.00h-1.99zM401.75 139.21h1.99v2.00h-1.99zM403.74 139.21h1.99v2.00h-1.99zM405.74 139.21h1.99v2.00h-1.99zM423.68 139.21h1.99v2.00h-1.99zM425.67 139.21h1.99v2.00h-1.99zM435.64 139.21h1.99v2.00h-1.99zM437.63 139.21h1.99v2.00h-1.99zM441.62 139.21h1.99v2.00h-1.99zM407.73 141.21h1.99v2.00h-1.99zM413.71 141.21h1.99v2.00h-1.99zM421.68 141.21h1.99v2.00h-1.99zM423.68 141.21h1.99v2.00h-1.99zM429.66 141.21h1.99v2.00h-1.99zM437.63 141.21h1.99v2.00h-1.99zM325.99 143.22h1.99v2.00h-1.99zM403.74 145.22h1.99v2.00h-1.99zM433.65 145.22h1.99v2.00h-1.99zM435.64 145.22h1.99v2.00h-1.99zM437.63 145.22h1.99v2.00h-1.99zM439.63 145.22h1.99v2.00h-1.99zM409.72 147.22h1.99v2.00h-1.99zM419.69 147.22h1.99v2.00h-1.99zM421.68 147.22h1.99v2.00h-1.99zM429.66 147.22h1.99v2.00h-1.99zM431.65 147.22h1.99v2.00h-1.99zM435.64 147.22h1.99v2.00h-1.99zM403.74 149.23h1.99v2.00h-1.99zM407.73 149.23h1.99v2.00h-1.99zM415.70 149.23h1.99v2.00h-1.99zM419.69 149.23h1.99v2.00h-1.99zM421.68 149.23h1.99v2.00h-1.99zM423.68 149.23h1.99v2.00h-1.99zM425.67 149.23h1.99v2.00h-1.99zM427.66 149.23h1.99v2.00h-1.99zM429.66 149.23h1.99v2.00h-1.99zM431.65 149.23h1.99v2.00h-1.99zM433.65 149.23h1.99v2.00h-1.99zM435.64 149.23h1.99v2.00h-1.99zM437.63 149.23h1.99v2.00h-1.99zM441.62 149.23h1.99v2.00h-1.99zM443.61 149.23h1.99v2.00h-1.99zM445.61 149.23h1.99v2.00h-1.99zM401.75 151.23h1.99v2.00h-1.99zM429.66 151.23h1.99v2.00h-1.99zM437.63 151.23h1.99v2.00h-1.99zM405.74 153.23h1.99v2.00h-1.99zM415.70 153.23h1.99v2.00h-1.99zM425.67 153.23h1.99v2.00h-1.99zM441.62 153.23h1.99v2.00h-1.99zM417.70 155.24h1.99v2.00h-1.99zM421.68 155.24h1.99v2.00h-1.99zM435.64 155.24h1.99v2.00h-1.99zM441.62 155.24h1.99v2.00h-1.99zM343.94 157.24h1.99v2.00h-1.99zM351.91 157.24h1.99v2.00h-1.99zM401.75 157.24h1.99v2.00h-1.99zM403.74 157.24h1.99v2.00h-1.99zM407.73 157.24h1.99v2.00h-1.99zM409.72 157.24h1.99v2.00h-1.99zM411.72 157.24h1.99v2.00h-1.99zM419.69 157.24h1.99v2.00h-1.99zM421.68 157.24h1.99v2.00h-1.99zM423.68 157.24h1.99v2.00h-1.99zM425.67 157.24h1.99v2.00h-1.99zM435.64 157.24h1.99v2.00h-1.99zM443.61 157.24h1.99v2.00h-1.99zM445.61 157.24h1.99v2.00h-1.99zM363.87 159.25h1.99v2.00h-1.99zM411.72 159.25h1.99v2.00h-1.99zM419.69 159.25h1.99v2.00h-1.99zM331.97 161.25h1.99v2.00h-1.99zM349.92 161.25h1.99v2.00h-1.99zM353.90 161.25h1.99v2.00h-1.99zM389.79 161.25h1.99v2.00h-1.99zM399.75 161.25h1.99v2.00h-1.99zM433.65 161.25h1.99v2.00h-1.99zM443.61 161.25h1.99v2.00h-1.99zM353.90 163.25h1.99v2.00h-1.99zM357.89 163.25h1.99v2.00h-1.99zM381.81 163.25h1.99v2.00h-1.99zM395.77 163.25h1.99v2.00h-1.99zM399.75 163.25h1.99v2.00h-1.99zM327.99 165.26h1.99v2.00h-1.99zM341.94 165.26h1.99v2.00h-1.99zM357.89 165.26h1.99v2.00h-1.99zM373.84 165.26h1.99v2.00h-1.99zM385.80 165.26h1.99v2.00h-1.99zM387.79 165.26h1.99v2.00h-1.99zM425.67 165.26h1.99v2.00h-1.99zM377.83 167.26h1.99v2.00h-1.99zM397.76 167.26h1.99v2.00h-1.99zM399.75 167.26h1.99v2.00h-1.99zM361.88 169.26h1.99v2.00h-1.99zM383.81 169.26h1.99v2.00h-1.99zM397.76 169.26h1.99v2.00h-1.99zM361.88 171.27h1.99v2.00h-1.99zM373.84 171.27h1.99v2.00h-1.99zM413.71 171.27h1.99v2.00h-1.99zM337.95 173.27h1.99v2.00h-1.99zM347.92 173.27h1.99v2.00h-1.99zM377.83 173.27h1.99v2.00h-1.99zM379.82 173.27h1.99v2.00h-1.99zM381.81 173.27h1.99v2.00h-1.99zM383.81 173.27h1.99v2.00h-1.99zM399.75 173.27h1.99v2.00h-1.99zM427.66 173.27h1.99v2.00h-1.99zM347.92 175.28h1.99v2.00h-1.99zM351.91 175.28h1.99v2.00h-1.99zM353.90 175.28h1.99v2.00h-1.99zM355.90 175.28h1.99v2.00h-1.99zM377.83 175.28h1.99v2.00h-1.99zM381.81 175.28h1.99v2.00h-1.99zM383.81 175.28h1.99v2.00h-1.99zM345.93 177.28h1.99v2.00h-1.99zM347.92 177.28h1.99v2.00h-1.99zM353.90 177.28h1.99v2.00h-1.99zM361.88 177.28h1.99v2.00h-1.99zM377.83 177.28h1.99v2.00h-1.99zM381.81 177.28h1.99v2.00h-1.99zM411.72 177.28h1.99v2.00h-1.99zM435.64 177.28h1.99v2.00h-1.99zM437.63 177.28h1.99v2.00h-1.99zM329.98 179.28h1.99v2.00h-1.99zM345.93 179.28h1.99v2.00h-1.99zM347.92 179.28h1.99v2.00h-1.99zM349.92 179.28h1.99v2.00h-1.99zM377.83 179.28h1.99v2.00h-1.99zM383.81 179.28h1.99v2.00h-1.99zM399.75 179.28h1.99v2.00h-1.99zM325.99 181.29h1.99v2.00h-1.99zM329.98 181.29h1.99v2.00h-1.99zM345.93 181.29h1.99v2.00h-1.99zM375.83 181.29h1.99v2.00h-1.99zM377.83 181.29h1.99v2.00h-1.99zM381.81 181.29h1.99v2.00h-1.99zM409.72 181.29h1.99v2.00h-1.99zM427.66 181.29h1.99v2.00h-1.99zM429.66 181.29h1.99v2.00h-1.99zM325.99 183.29h1.99v2.00h-1.99zM331.97 183.29h1.99v2.00h-1.99zM337.95 183.29h1.99v2.00h-1.99zM373.84 183.29h1.99v2.00h-1.99zM377.83 183.29h1.99v2.00h-1.99zM395.77 183.29h1.99v2.00h-1.99zM399.75 183.29h1.99v2.00h-1.99zM413.71 183.29h1.99v2.00h-1.99zM325.99 185.29h1.99v2.00h-1.99zM327.99 185.29h1.99v2.00h-1.99zM337.95 185.29h1.99v2.00h-1.99zM347.92 185.29h1.99v2.00h-1.99zM359.88 185.29h1.99v2.00h-1.99zM365.86 185.29h1.99v2.00h-1.99zM367.86 185.29h1.99v2.00h-1.99zM373.84 185.29h1.99v2.00h-1.99zM375.83 185.29h1.99v2.00h-1.99zM383.81 185.29h1.99v2.00h-1.99zM395.77 185.29h1.99v2.00h-1.99zM397.76 185.29h1.99v2.00h-1.99zM443.61 185.29h1.99v2.00h-1.99zM325.99 187.30h1.99v2.00h-1.99zM327.99 187.30h1.99v2.00h-1.99zM335.96 187.30h1.99v2.00h-1.99zM337.95 187.30h1.99v2.00h-1.99zM345.93 187.30h1.99v2.00h-1.99zM347.92 187.30h1.99v2.00h-1.99zM367.86 187.30h1.99v2.00h-1.99zM369.85 187.30h1.99v2.00h-1.99zM399.75 187.30h1.99v2.00h-1.99zM433.65 187.30h1.99v2.00h-1.99zM441.62 187.30h1.99v2.00h-1.99zM343.94 189.30h1.99v2.00h-1.99zM345.93 189.30h1.99v2.00h-1.99zM351.91 189.30h1.99v2.00h-1.99zM363.87 189.30h1.99v2.00h-1.99zM369.85 189.30h1.99v2.00h-1.99zM371.85 189.30h1.99v2.00h-1.99zM397.76 189.30h1.99v2.00h-1.99zM327.99 191.30h1.99v2.00h-1.99zM345.93 191.30h1.99v2.00h-1.99zM347.92 191.30h1.99v2.00h-1.99zM353.90 191.30h1.99v2.00h-1.99zM363.87 191.30h1.99v2.00h-1.99zM365.86 191.30h1.99v2.00h-1.99zM367.86 191.30h1.99v2.00h-1.99zM383.81 191.30h1.99v2.00h-1.99zM399.75 191.30h1.99v2.00h-1.99zM431.65 191.30h1.99v2.00h-1.99zM337.95 193.31h1.99v2.00h-1.99zM343.94 193.31h1.99v2.00h-1.99zM345.93 193.31h1.99v2.00h-1.99zM353.90 193.31h1.99v2.00h-1.99zM359.88 193.31h1.99v2.00h-1.99zM363.87 193.31h1.99v2.00h-1.99zM367.86 193.31h1.99v2.00h-1.99zM375.83 193.31h1.99v2.00h-1.99zM377.83 193.31h1.99v2.00h-1.99zM383.81 193.31h1.99v2.00h-1.99zM399.75 193.31h1.99v2.00h-1.99zM433.65 193.31h1.99v2.00h-1.99zM435.64 193.31h1.99v2.00h-1.99zM325.99 195.31h1.99v2.00h-1.99zM327.99 195.31h1.99v2.00h-1.99zM335.96 195.31h1.99v2.00h-1.99zM337.95 195.31h1.99v2.00h-1.99zM347.92 195.31h1.99v2.00h-1.99zM351.91 195.31h1.99v2.00h-1.99zM359.88 195.31h1.99v2.00h-1.99zM367.86 195.31h1.99v2.00h-1.99zM377.83 195.31h1.99v2.00h-1.99zM379.82 195.31h1.99v2.00h-1.99zM381.81 195.31h1.99v2.00h-1.99zM383.81 195.31h1.99v2.00h-1.99zM443.61 195.31h1.99v2.00h-1.99zM325.99 197.32h1.99v2.00h-1.99zM329.98 197.32h1.99v2.00h-1.99zM331.97 197.32h1.99v2.00h-1.99zM377.83 197.32h1.99v2.00h-1.99zM379.82 197.32h1.99v2.00h-1.99zM381.81 197.32h1.99v2.00h-1.99zM383.81 197.32h1.99v2.00h-1.99zM325.99 199.32h1.99v2.00h-1.99zM329.98 199.32h1.99v2.00h-1.99zM331.97 199.32h1.99v2.00h-1.99zM347.92 199.32h1.99v2.00h-1.99zM353.90 199.32h1.99v2.00h-1.99zM379.82 199.32h1.99v2.00h-1.99zM383.81 199.32h1.99v2.00h-1.99zM397.76 199.32h1.99v2.00h-1.99zM329.98 201.32h1.99v2.00h-1.99zM339.95 201.32h1.99v2.00h-1.99zM377.83 201.32h1.99v2.00h-1.99zM379.82 201.32h1.99v2.00h-1.99zM383.81 201.32h1.99v2.00h-1.99zM399.75 201.32h1.99v2.00h-1.99zM325.99 203.33h1.99v2.00h-1.99zM329.98 203.33h1.99v2.00h-1.99zM331.97 203.33h1.99v2.00h-1.99zM339.95 203.33h1.99v2.00h-1.99zM359.88 203.33h1.99v2.00h-1.99zM379.82 203.33h1.99v2.00h-1.99zM383.81 203.33h1.99v2.00h-1.99zM391.78 203.33h1.99v2.00h-1.99zM427.66 203.33h1.99v2.00h-1.99zM325.99 205.33h1.99v2.00h-1.99zM327.99 205.33h1.99v2.00h-1.99zM329.98 205.33h1.99v2.00h-1.99zM339.95 205.33h1.99v2.00h-1.99zM359.88 205.33h1.99v2.00h-1.99zM379.82 205.33h1.99v2.00h-1.99zM403.74 205.33h1.99v2.00h-1.99zM411.72 205.33h1.99v2.00h-1.99zM413.71 205.33h1.99v2.00h-1.99zM325.99 207.33h1.99v2.00h-1.99zM327.99 207.33h1.99v2.00h-1.99zM335.96 207.33h1.99v2.00h-1.99zM339.95 207.33h1.99v2.00h-1.99zM347.92 207.33h1.99v2.00h-1.99zM351.91 207.33h1.99v2.00h-1.99zM371.85 207.33h1.99v2.00h-1.99zM379.82 207.33h1.99v2.00h-1.99zM397.76 207.33h1.99v2.00h-1.99zM409.72 207.33h1.99v2.00h-1.99zM325.99 209.34h1.99v2.00h-1.99zM327.99 209.34h1.99v2.00h-1.99zM335.96 209.34h1.99v2.00h-1.99zM337.95 209.34h1.99v2.00h-1.99zM351.91 209.34h1.99v2.00h-1.99zM353.90 209.34h1.99v2.00h-1.99zM361.88 209.34h1.99v2.00h-1.99zM371.85 209.34h1.99v2.00h-1.99zM324.00 211.34h1.99v2.00h-1.99zM335.96 211.34h1.99v2.00h-1.99zM337.95 211.34h1.99v2.00h-1.99zM347.92 211.34h1.99v2.00h-1.99zM349.92 211.34h1.99v2.00h-1.99zM371.85 211.34h1.99v2.00h-1.99zM397.76 211.34h1.99v2.00h-1.99zM401.75 211.34h1.99v2.00h-1.99zM403.74 211.34h1.99v2.00h-1.99zM335.96 213.34h1.99v2.00h-1.99zM347.92 213.34h1.99v2.00h-1.99zM349.92 213.34h1.99v2.00h-1.99zM359.88 213.34h1.99v2.00h-1.99zM361.88 213.34h1.99v2.00h-1.99zM371.85 213.34h1.99v2.00h-1.99zM375.83 213.34h1.99v2.00h-1.99zM397.76 213.34h1.99v2.00h-1.99zM427.66 213.34h1.99v2.00h-1.99zM435.64 213.34h1.99v2.00h-1.99zM327.99 215.35h1.99v2.00h-1.99zM331.97 215.35h1.99v2.00h-1.99zM359.88 215.35h1.99v2.00h-1.99zM375.83 215.35h1.99v2.00h-1.99zM381.81 215.35h1.99v2.00h-1.99zM397.76 215.35h1.99v2.00h-1.99zM399.75 215.35h1.99v2.00h-1.99zM331.97 217.35h1.99v2.00h-1.99zM333.97 217.35h1.99v2.00h-1.99zM359.88 217.35h1.99v2.00h-1.99zM381.81 217.35h1.99v2.00h-1.99zM327.99 219.36h1.99v2.00h-1.99zM379.82 219.36h1.99v2.00h-1.99zM381.81 219.36h1.99v2.00h-1.99zM395.77 219.36h1.99v2.00h-1.99zM399.75 219.36h1.99v2.00h-1.99zM324.00 221.36h1.99v2.00h-1.99zM325.99 221.36h1.99v2.00h-1.99zM327.99 221.36h1.99v2.00h-1.99zM333.97 221.36h1.99v2.00h-1.99zM379.82 221.36h1.99v2.00h-1.99zM381.81 221.36h1.99v2.00h-1.99zM397.76 221.36h1.99v2.00h-1.99zM324.00 223.36h1.99v2.00h-1.99zM325.99 223.36h1.99v2.00h-1.99zM327.99 223.36h1.99v2.00h-1.99zM333.97 223.36h1.99v2.00h-1.99zM347.92 223.36h1.99v2.00h-1.99zM355.90 223.36h1.99v2.00h-1.99zM371.85 223.36h1.99v2.00h-1.99zM395.77 223.36h1.99v2.00h-1.99zM327.99 225.37h1.99v2.00h-1.99zM349.92 225.37h1.99v2.00h-1.99zM355.90 225.37h1.99v2.00h-1.99zM369.85 225.37h1.99v2.00h-1.99zM371.85 225.37h1.99v2.00h-1.99zM375.83 225.37h1.99v2.00h-1.99zM345.93 227.37h1.99v2.00h-1.99zM349.92 227.37h1.99v2.00h-1.99zM351.91 227.37h1.99v2.00h-1.99zM353.90 227.37h1.99v2.00h-1.99zM365.86 227.37h1.99v2.00h-1.99zM379.82 227.37h1.99v2.00h-1.99zM397.76 227.37h1.99v2.00h-1.99zM353.90 229.37h1.99v2.00h-1.99zM355.90 229.37h1.99v2.00h-1.99zM365.86 229.37h1.99v2.00h-1.99zM377.83 229.37h1.99v2.00h-1.99zM339.95 231.38h1.99v2.00h-1.99zM341.94 231.38h1.99v2.00h-1.99zM353.90 231.38h1.99v2.00h-1.99zM357.89 231.38h1.99v2.00h-1.99zM365.86 231.38h1.99v2.00h-1.99zM367.86 231.38h1.99v2.00h-1.99zM371.85 231.38h1.99v2.00h-1.99zM377.83 231.38h1.99v2.00h-1.99zM381.81 231.38h1.99v2.00h-1.99zM415.70 231.38h1.99v2.00h-1.99zM324.00 233.38h1.99v2.00h-1.99zM327.99 233.38h1.99v2.00h-1.99zM329.98 233.38h1.99v2.00h-1.99zM343.94 233.38h1.99v2.00h-1.99zM345.93 233.38h1.99v2.00h-1.99zM353.90 233.38h1.99v2.00h-1.99zM365.86 233.38h1.99v2.00h-1.99zM381.81 233.38h1.99v2.00h-1.99zM324.00 235.39h1.99v2.00h-1.99zM329.98 235.39h1.99v2.00h-1.99zM341.94 235.39h1.99v2.00h-1.99zM343.94 235.39h1.99v2.00h-1.99zM361.88 235.39h1.99v2.00h-1.99zM369.85 235.39h1.99v2.00h-1.99zM387.79 235.39h1.99v2.00h-1.99zM397.76 235.39h1.99v2.00h-1.99zM437.63 235.39h1.99v2.00h-1.99zM324.00 237.39h1.99v2.00h-1.99zM331.97 237.39h1.99v2.00h-1.99zM341.94 237.39h1.99v2.00h-1.99zM363.87 237.39h1.99v2.00h-1.99zM373.84 237.39h1.99v2.00h-1.99zM385.80 237.39h1.99v2.00h-1.99zM411.72 237.39h1.99v2.00h-1.99zM437.63 237.39h1.99v2.00h-1.99zM345.93 239.39h1.99v2.00h-1.99zM373.84 239.39h1.99v2.00h-1.99zM385.80 239.39h1.99v2.00h-1.99zM397.76 239.39h1.99v2.00h-1.99zM347.92 241.40h1.99v2.00h-1.99zM349.92 241.40h1.99v2.00h-1.99zM369.85 241.40h1.99v2.00h-1.99zM381.81 241.40h1.99v2.00h-1.99zM385.80 241.40h1.99v2.00h-1.99zM395.77 241.40h1.99v2.00h-1.99z"/>
<path fill="#2828e1" d="M441.62 25.00h1.99v2.00h-1.99zM443.61 25.00h1.99v2.00h-1.99zM403.74 27.00h1.99v2.00h-1.99zM411.72 27.00h1.99v2.00h-1.99zM415.70 27.00h1.99v2.00h-1.99zM417.70 27.00h1.99v2.00h-1.99zM429.66 27.00h1.99v2.00h-1.99zM443.61 27.00h1.99v2.00h-1.99zM445.61 27.00h1.99v2.00h-1.99zM373.84 29.01h1.99v2.00h-1.99zM415.70 29.01h1.99v2.00h-1.99zM421.68 29.01h1.99v2.00h-1.99zM423.68 29.01h1.99v2.00h-1.99zM357.89 31.01h1.99v2.00h-1.99zM365.86 31.01h1.99v2.00h-1.99zM367.86 31.01h1.99v2.00h-1.99zM441.62 31.01h1.99v2.00h-1.99zM443.61 31.01h1.99v2.00h-1.99zM339.95 33.01h1.99v2.00h-1.99zM373.84 33.01h1.99v2.00h-1.99zM411.72 33.01h1.99v2.00h-1.99zM433.65 33.01h1.99v2.00h-1.99zM439.63 33.01h1.99v2.00h-1.99zM443.61 33.01h1.99v2.00h-1.99zM353.90 35.02h1.99v2.00h-1.99zM411.72 35.02h1.99v2.00h-1.99zM427.66 35.02h1.99v2.00h-1.99zM429.66 35.02h1.99v2.00h-1.99zM401.75 37.02h1.99v2.00h-1.99zM403.74 37.02h1.99v2.00h-1.99zM405.74 37.02h1.99v2.00h-1.99zM407.73 37.02h1.99v2.00h-1.99zM411.72 37.02h1.99v2.00h-1.99zM413.71 37.02h1.99v2.00h-1.99zM431.65 37.02h1.99v2.00h-1.99zM433.65 37.02h1.99v2.00h-1.99zM435.64 37.02h1.99v2.00h-1.99zM401.75 39.03h1.99v2.00h-1.99zM403.74 39.03h1.99v2.00h-1.99zM405.74 39.03h1.99v2.00h-1.99zM411.72 39.03h1.99v2.00h-1.99zM413.71 39.03h1.99v2.00h-1.99zM415.70 39.03h1.99v2.00h-1.99zM421.68 39.03h1.99v2.00h-1.99zM431.65 39.03h1.99v2.00h-1.99zM435.64 39.03h1.99v2.00h-1.99zM437.63 39.03h1.99v2.00h-1.99zM439.63 39.03h1.99v2.00h-1.99zM355.90 41.03h1.99v2.00h-1.99zM407.73 41.03h1.99v2.00h-1.99zM415.70 41.03h1.99v2.00h-1.99zM393.77 43.03h1.99v2.00h-1.99zM399.75 43.03h1.99v2.00h-1.99zM401.75 43.03h1.99v2.00h-1.99zM403.74 43.03h1.99v2.00h-1.99zM411.72 43.03h1.99v2.00h-1.99zM431.65 43.03h1.99v2.00h-1.99zM443.61 43.03h1.99v2.00h-1.99zM439.63 45.04h1.99v2.00h-1.99zM441.62 45.04h1.99v2.00h-1.99zM443.61 45.04h1.99v2.00h-1.99zM325.99 47.04h1.99v2.00h-1.99zM375.83 47.04h1.99v2.00h-1.99zM415.70 47.04h1.99v2.00h-1.99zM417.70 47.04h1.99v2.00h-1.99zM423.68 47.04h1.99v2.00h-1.99zM435.64 47.04h1.99v2.00h-1.99zM437.63 47.04h1.99v2.00h-1.99zM439.63 47.04h1.99v2.00h-1.99zM441.62 47.04h1.99v2.00h-1.99zM399.75 49.04h1.99v2.00h-1.99zM433.65 49.04h1.99v2.00h-1.99zM435.64 49.04h1.99v2.00h-1.99zM439.63 49.04h1.99v2.00h-1.99zM397.76 51.05h1.99v2.00h-1.99zM399.75 51.05h1.99v2.00h-1.99zM413.71 51.05h1.99v2.00h-1.99zM425.67 51.05h1.99v2.00h-1.99zM427.66 51.05h1.99v2.00h-1.99zM439.63 51.05h1.99v2.00h-1.99zM441.62 51.05h1.99v2.00h-1.99zM327.99 53.05h1.99v2.00h-1.99zM329.98 53.05h1.99v2.00h-1.99zM355.90 53.05h1.99v2.00h-1.99zM401.75 53.05h1.99v2.00h-1.99zM407.73 53.05h1.99v2.00h-1.99zM409.72 53.05h1.99v2.00h-1.99zM411.72 53.05h1.99v2.00h-1.99zM415.70 53.05h1.99v2.00h-1.99zM417.70 53.05h1.99v2.00h-1.99zM419.69 53.05h1.99v2.00h-1.99zM423.68 53.05h1.99v2.00h-1.99zM401.75 55.06h1.99v2.00h-1.99zM403.74 55.06h1.99v2.00h-1.99zM405.74 55.06h1.99v2.00h-1.99zM409.72 55.06h1.99v2.00h-1.99zM401.75 57.06h1.99v2.00h-1.99zM405.74 57.06h1.99v2.00h-1.99zM415.70 57.06h1.99v2.00h-1.99zM417.70 57.06h1.99v2.00h-1.99zM419.69 57.06h1.99v2.00h-1.99zM425.67 57.06h1.99v2.00h-1.99zM445.61 57.06h1.99v2.00h-1.99zM401.75 59.06h1.99v2.00h-1.99zM403.74 59.06h1.99v2.00h-1.99zM405.74 59.06h1.99v2.00h-1.99zM407.73 59.06h1.99v2.00h-1.99zM415.70 59.06h1.99v2.00h-1.99zM423.68 59.06h1.99v2.00h-1.99zM425.67 59.06h1.99v2.00h-1.99zM437.63 59.06h1.99v2.00h-1.99zM335.96 61.07h1.99v2.00h-1.99zM339.95 61.07h1.99v2.00h-1.99zM341.94 61.07h1.99v2.00h-1.99zM343.94 61.07h1.99v2.00h-1.99zM423.68 61.07h1.99v2.00h-1.99zM425.67 61.07h1.99v2.00h-1.99zM433.65 61.07h1.99v2.00h-1.99zM435.64 61.07h1.99v2.00h-1.99zM409.72 63.07h1.99v2.00h-1.99zM431.65 63.07h1.99v2.00h-1.99zM433.65 63.07h1.99v2.00h-1.99zM435.64 63.07h1.99v2.00h-1.99zM445.61 63.07h1.99v2.00h-1.99zM417.70 65.07h1.99v2.00h-1.99zM419.69 65.07h1.99v2.00h-1.99zM431.65 65.07h1.99v2.00h-1.99zM339.95 67.08h1.99v2.00h-1.99zM401.75 67.08h1.99v2.00h-1.99zM341.94 69.08h1.99v2.00h-1.99zM401.75 69.08h1.99v2.00h-1.99zM403.74 69.08h1.99v2.00h-1.99zM405.74 69.08h1.99v2.00h-1.99zM407.73 69.08h1.99v2.00h-1.99zM411.72 69.08h1.99v2.00h-1.99zM417.70 69.08h1.99v2.00h-1.99zM421.68 69.08h1.99v2.00h-1.99zM439.63 69.08h1.99v2.00h-1.99zM371.85 71.08h1.99v2.00h-1.99zM405.74 71.08h1.99v2.00h-1.99zM417.70 71.08h1.99v2.00h-1.99zM419.69 71.08h1.99v2.00h-1.99zM335.96 73.09h1.99v2.00h-1.99zM375.83 73.09h1.99v2.00h-1.99zM419.69 73.09h1.99v2.00h-1.99zM353.90 75.09h1.99v2.00h-1.99zM355.90 75.09h1.99v2.00h-1.99zM415.70 75.09h1.99v2.00h-1.99zM417.70 75.09h1.99v2.00h-1.99zM419.69 75.09h1.99v2.00h-1.99zM425.67 75.09h1.99v2.00h-1.99zM427.66 75.09h1.99v2.00h-1.99zM429.66 75.09h1.99v2.00h-1.99zM371.85 77.10h1.99v2.00h-1.99zM401.75 77.10h1.99v2.00h-1.99zM405.74 77.10h1.99v2.00h-1.99zM421.68 77.10h1.99v2.00h-1.99zM427.66 77.10h1.99v2.00h-1.99zM325.99 79.10h1.99v2.00h-1.99zM327.99 79.10h1.99v2.00h-1.99zM395.77 79.10h1.99v2.00h-1.99zM419.69 81.10h1.99v2.00h-1.99zM425.67 81.10h1.99v2.00h-1.99zM431.65 81.10h1.99v2.00h-1.99zM433.65 81.10h1.99v2.00h-1.99zM435.64 81.10h1.99v2.00h-1.99zM437.63 81.10h1.99v2.00h-1.99zM381.81 83.11h1.99v2.00h-1.99zM413.71 83.11h1.99v2.00h-1.99zM435.64 83.11h1.99v2.00h-1.99zM395.77 85.11h1.99v2.00h-1.99zM397.76 85.11h1.99v2.00h-1.99zM401.75 85.11h1.99v2.00h-1.99zM405.74 85.11h1.99v2.00h-1.99zM409.72 85.11h1.99v2.00h-1.99zM417.70 85.11h1.99v2.00h-1.99zM423.68 85.11h1.99v2.00h-1.99zM437.63 85.11h1.99v2.00h-1.99zM437.63 87.11h1.99v2.00h-1.99zM389.79 89.12h1.99v2.00h-1.99zM391.78 89.12h1.99v2.00h-1.99zM407.73 89.12h1.99v2.00h-1.99zM411.72 89.12h1.99v2.00h-1.99zM413.71 89.12h1.99v2.00h-1.99zM415.70 89.12h1.99v2.00h-1.99zM389.79 91.12h1.99v2.00h-1.99zM409.72 91.12h1.99v2.00h-1.99zM417.70 91.12h1.99v2.00h-1.99zM437.63 91.12h1.99v2.00h-1.99zM415.70 93.12h1.99v2.00h-1.99zM391.78 95.13h1.99v2.00h-1.99zM435.64 95.13h1.99v2.00h-1.99zM401.75 97.13h1.99v2.00h-1.99zM409.72 97.13h1.99v2.00h-1.99zM427.66 97.13h1.99v2.00h-1.99zM439.63 97.13h1.99v2.00h-1.99zM441.62 97.13h1.99v2.00h-1.99zM443.61 97.13h1.99v2.00h-1.99zM445.61 97.13h1.99v2.00h-1.99zM391.78 99.14h1.99v2.00h-1.99zM403.74 99.14h1.99v2.00h-1.99zM407.73 99.14h1.99v2.00h-1.99zM415.70 99.14h1.99v2.00h-1.99zM417.70 99.14h1.99v2.00h-1.99zM419.69 99.14h1.99v2.00h-1.99zM421.68 99.14h1.99v2.00h-1.99zM423.68 99.14h1.99v2.00h-1.99zM431.65 99.14h1.99v2.00h-1.99zM433.65 99.14h1.99v2.00h-1.99zM407.73 101.14h1.99v2.00h-1.99zM409.72 101.14h1.99v2.00h-1.99zM411.72 101.14h1.99v2.00h-1.99zM413.71 101.14h1.99v2.00h-1.99zM439.63 101.14h1.99v2.00h-1.99zM441.62 101.14h1.99v2.00h-1.99zM443.61 101.14h1.99v2.00h-1.99zM397.76 103.14h1.99v2.00h-1.99zM405.74 103.14h1.99v2.00h-1.99zM431.65 103.14h1.99v2.00h-1.99zM441.62 103.14h1.99v2.00h-1.99zM443.61 103.14h1.99v2.00h-1.99zM445.61 103.14h1.99v2.00h-1.99zM401.75 105.15h1.99v2.00h-1.99zM403.74 105.15h1.99v2.00h-1.99zM405.74 105.15h1.99v2.00h-1.99zM409.72 105.15h1.99v2.00h-1.99zM413.71 105.15h1.99v2.00h-1.99zM417.70 105.15h1.99v2.00h-1.99zM419.69 105.15h1.99v2.00h-1.99zM421.68 105.15h1.99v2.00h-1.99zM423.68 105.15h1.99v2.00h-1.99zM441.62 105.15h1.99v2.00h-1.99zM401.75 109.15h1.99v2.00h-1.99zM403.74 109.15h1.99v2.00h-1.99zM411.72 109.15h1.99v2.00h-1.99zM423.68 109.15h1.99v2.00h-1.99zM425.67 109.15h1.99v2.00h-1.99zM375.83 111.16h1.99v2.00h-1.99zM385.80 111.16h1.99v2.00h-1.99zM387.79 111.16h1.99v2.00h-1.99zM389.79 111.16h1.99v2.00h-1.99zM405.74 111.16h1.99v2.00h-1.99zM415.70 111.16h1.99v2.00h-1.99zM429.66 111.16h1.99v2.00h-1.99zM393.77 113.16h1.99v2.00h-1.99zM405.74 113.16h1.99v2.00h-1.99zM407.73 113.16h1.99v2.00h-1.99zM409.72 113.16h1.99v2.00h-1.99zM439.63 113.16h1.99v2.00h-1.99zM443.61 113.16h1.99v2.00h-1.99zM397.76 115.17h1.99v2.00h-1.99zM401.75 115.17h1.99v2.00h-1.99zM403.74 115.17h1.99v2.00h-1.99zM405.74 115.17h1.99v2.00h-1.99zM407.73 115.17h1.99v2.00h-1.99zM435.64 115.17h1.99v2.00h-1.99zM399.75 117.17h1.99v2.00h-1.99zM405.74 117.17h1.99v2.00h-1.99zM431.65 119.17h1.99v2.00h-1.99zM433.65 119.17h1.99v2.00h-1.99zM435.64 119.17h1.99v2.00h-1.99zM401.75 121.18h1.99v2.00h-1.99zM403.74 121.18h1.99v2.00h-1.99zM405.74 121.18h1.99v2.00h-1.99zM401.75 123.18h1.99v2.00h-1.99zM409.72 123.18h1.99v2.00h-1.99zM413.71 123.18h1.99v2.00h-1.99zM415.70 123.18h1.99v2.00h-1.99zM441.62 123.18h1.99v2.00h-1.99zM335.96 125.18h1.99v2.00h-1.99zM351.91 125.18h1.99v2.00h-1.99zM397.76 125.18h1.99v2.00h-1.99zM401.75 125.18h1.99v2.00h-1.99zM403.74 125.18h1.99v2.00h-1.99zM421.68 125.18h1.99v2.00h-1.99zM423.68 125.18h1.99v2.00h-1.99zM445.61 125.18h1.99v2.00h-1.99zM395.77 127.19h1.99v2.00h-1.99zM397.76 127.19h1.99v2.00h-1.99zM403.74 127.19h1.99v2.00h-1.99zM407.73 127.19h1.99v2.00h-1.99zM409.72 127.19h1.99v2.00h-1.99zM423.68 127.19h1.99v2.00h-1.99zM425.67 127.19h1.99v2.00h-1.99zM427.66 127.19h1.99v2.00h-1.99zM357.89 129.19h1.99v2.00h-1.99zM411.72 129.19h1.99v2.00h-1.99zM417.70 129.19h1.99v2.00h-1.99zM419.69 129.19h1.99v2.00h-1.99zM403.74 131.19h1.99v2.00h-1.99zM411.72 131.19h1.99v2.00h-1.99zM413.71 131.19h1.99v2.00h-1.99zM415.70 131.19h1.99v2.00h-1.99zM417.70 131.19h1.99v2.00h-1.99zM415.70 133.20h1.99v2.00h-1.99zM419.69 133.20h1.99v2.00h-1.99zM421.68 133.20h1.99v2.00h-1.99zM423.68 133.20h1.99v2.00h-1.99zM429.66 133.20h1.99v2.00h-1.99zM357.89 135.20h1.99v2.00h-1.99zM393.77 135.20h1.99v2.00h-1.99zM425.67 135.20h1.99v2.00h-1.99zM427.66 135.20h1.99v2.00h-1.99zM429.66 135.20h1.99v2.00h-1.99zM433.65 135.20h1.99v2.00h-1.99zM327.99 137.21h1.99v2.00h-1.99zM401.75 137.21h1.99v2.00h-1.99zM403.74 137.21h1.99v2.00h-1.99zM409.72 137.21h1.99v2.00h-1.99zM413.71 137.21h1.99v2.00h-1.99zM417.70 137.21h1.99v2.00h-1.99zM419.69 137.21h1.99v2.00h-1.99zM421.68 137.21h1.99v2.00h-1.99zM429.66 137.21h1.99v2.00h-1.99zM437.63 137.21h1.99v2.00h-1.99zM439.63 137.21h1.99v2.00h-1.99zM411.72 139.21h1.99v2.00h-1.99zM413.71 139.21h1.99v2.00h-1.99zM415.70 139.21h1.99v2.00h-1.99zM417.70 139.21h1.99v2.00h-1.99zM419.69 139.21h1.99v2.00h-1.99zM421.68 139.21h1.99v2.00h-1.99zM427.66 139.21h1.99v2.00h-1.99zM431.65 139.21h1.99v2.00h-1.99zM405.74 141.21h1.99v2.00h-1.99zM409.72 141.21h1.99v2.00h-1.99zM411.72 141.21h1.99v2.00h-1.99zM415.70 141.21h1.99v2.00h-1.99zM417.70 141.21h1.99v2.00h-1.99zM419.69 141.21h1.99v2.00h-1.99zM425.67 141.21h1.99v2.00h-1.99zM435.64 141.21h1.99v2.00h-1.99zM405.74 143.22h1.99v2.00h-1.99zM409.72 143.22h1.99v2.00h-1.99zM411.72 143.22h1.99v2.00h-1.99zM413.71 143.22h1.99v2.00h-1.99zM423.68 143.22h1.99v2.00h-1.99zM431.65 143.22h1.99v2.00h-1.99zM433.65 143.22h1.99v2.00h-1.99zM439.63 143.22h1.99v2.00h-1.99zM445.61 143.22h1.99v2.00h-1.99zM335.96 145.22h1.99v2.00h-1.99zM345.93 145.22h1.99v2.00h-1.99zM407.73 145.22h1.99v2.00h-1.99zM409.72 145.22h1.99v2.00h-1.99zM431.65 145.22h1.99v2.00h-1.99zM441.62 145.22h1.99v2.00h-1.99zM443.61 145.22h1.99v2.00h-1.99zM401.75 147.22h1.99v2.00h-1.99zM403.74 147.22h1.99v2.00h-1.99zM407.73 147.22h1.99v2.00h-1.99zM433.65 147.22h1.99v2.00h-1.99zM341.94 149.23h1.99v2.00h-1.99zM413.71 149.23h1.99v2.00h-1.99zM417.70 149.23h1.99v2.00h-1.99zM439.63 149.23h1.99v2.00h-1.99zM403.74 151.23h1.99v2.00h-1.99zM431.65 151.23h1.99v2.00h-1.99zM433.65 151.23h1.99v2.00h-1.99zM435.64 151.23h1.99v2.00h-1.99zM401.75 153.23h1.99v2.00h-1.99zM403.74 153.23h1.99v2.00h-1.99zM413.71 153.23h1.99v2.00h-1.99zM421.68 153.23h1.99v2.00h-1.99zM423.68 153.23h1.99v2.00h-1.99zM387.79 155.24h1.99v2.00h-1.99zM389.79 155.24h1.99v2.00h-1.99zM397.76 155.24h1.99v2.00h-1.99zM429.66 155.24h1.99v2.00h-1.99zM437.63 155.24h1.99v2.00h-1.99zM397.76 157.24h1.99v2.00h-1.99zM405.74 157.24h1.99v2.00h-1.99zM415.70 157.24h1.99v2.00h-1.99zM431.65 157.24h1.99v2.00h-1.99zM433.65 157.24h1.99v2.00h-1.99zM439.63 157.24h1.99v2.00h-1.99zM441.62 157.24h1.99v2.00h-1.99zM387.79 159.25h1.99v2.00h-1.99zM389.79 159.25h1.99v2.00h-1.99zM397.76 159.25h1.99v2.00h-1.99zM399.75 159.25h1.99v2.00h-1.99zM415.70 159.25h1.99v2.00h-1.99zM417.70 159.25h1.99v2.00h-1.99zM427.66 159.25h1.99v2.00h-1.99zM363.87 161.25h1.99v2.00h-1.99zM367.86 161.25h1.99v2.00h-1.99zM369.85 161.25h1.99v2.00h-1.99zM397.76 161.25h1.99v2.00h-1.99zM324.00 163.25h1.99v2.00h-1.99zM325.99 163.25h1.99v2.00h-1.99zM329.98 163.25h1.99v2.00h-1.99zM355.90 163.25h1.99v2.00h-1.99zM383.81 163.25h1.99v2.00h-1.99zM389.79 163.25h1.99v2.00h-1.99zM397.76 163.25h1.99v2.00h-1.99zM427.66 163.25h1.99v2.00h-1.99zM329.98 165.26h1.99v2.00h-1.99zM347.92 165.26h1.99v2.00h-1.99zM377.83 165.26h1.99v2.00h-1.99zM379.82 165.26h1.99v2.00h-1.99zM381.81 165.26h1.99v2.00h-1.99zM383.81 165.26h1.99v2.00h-1.99zM391.78 165.26h1.99v2.00h-1.99zM397.76 165.26h1.99v2.00h-1.99zM399.75 165.26h1.99v2.00h-1.99zM429.66 165.26h1.99v2.00h-1.99zM327.99 167.26h1.99v2.00h-1.99zM329.98 167.26h1.99v2.00h-1.99zM343.94 167.26h1.99v2.00h-1.99zM345.93 167.26h1.99v2.00h-1.99zM361.88 167.26h1.99v2.00h-1.99zM373.84 167.26h1.99v2.00h-1.99zM383.81 167.26h1.99v2.00h-1.99zM395.77 167.26h1.99v2.00h-1.99zM324.00 169.26h1.99v2.00h-1.99zM327.99 169.26h1.99v2.00h-1.99zM329.98 169.26h1.99v2.00h-1.99zM343.94 169.26h1.99v2.00h-1.99zM345.93 169.26h1.99v2.00h-1.99zM347.92 169.26h1.99v2.00h-1.99zM349.92 169.26h1.99v2.00h-1.99zM367.86 169.26h1.99v2.00h-1.99zM377.83 169.26h1.99v2.00h-1.99zM395.77 169.26h1.99v2.00h-1.99zM399.75 169.26h1.99v2.00h-1.99zM324.00 171.27h1.99v2.00h-1.99zM327.99 171.27h1.99v2.00h-1.99zM343.94 171.27h1.99v2.00h-1.99zM349.92 171.27h1.99v2.00h-1.99zM377.83 171.27h1.99v2.00h-1.99zM379.82 171.27h1.99v2.00h-1.99zM381.81 171.27h1.99v2.00h-1.99zM383.81 171.27h1.99v2.00h-1.99zM385.80 171.27h1.99v2.00h-1.99zM397.76 171.27h1.99v2.00h-1.99zM399.75 171.27h1.99v2.00h-1.99zM421.68 171.27h1.99v2.00h-1.99zM423.68 171.27h1.99v2.00h-1.99zM425.67 171.27h1.99v2.00h-1.99zM351.91 173.27h1.99v2.00h-1.99zM357.89 173.27h1.99v2.00h-1.99zM373.84 173.27h1.99v2.00h-1.99zM375.83 173.27h1.99v2.00h-1.99zM397.76 173.27h1.99v2.00h-1.99zM345.93 175.28h1.99v2.00h-1.99zM357.89 175.28h1.99v2.00h-1.99zM359.88 175.28h1.99v2.00h-1.99zM375.83 175.28h1.99v2.00h-1.99zM379.82 175.28h1.99v2.00h-1.99zM397.76 175.28h1.99v2.00h-1.99zM399.75 175.28h1.99v2.00h-1.99zM325.99 177.28h1.99v2.00h-1.99zM327.99 177.28h1.99v2.00h-1.99zM329.98 177.28h1.99v2.00h-1.99zM341.94 177.28h1.99v2.00h-1.99zM357.89 177.28h1.99v2.00h-1.99zM359.88 177.28h1.99v2.00h-1.99zM369.85 177.28h1.99v2.00h-1.99zM397.76 177.28h1.99v2.00h-1.99zM399.75 177.28h1.99v2.00h-1.99zM425.67 177.28h1.99v2.00h-1.99zM441.62 177.28h1.99v2.00h-1.99zM333.97 179.28h1.99v2.00h-1.99zM335.96 179.28h1.99v2.00h-1.99zM339.95 179.28h1.99v2.00h-1.99zM353.90 179.28h1.99v2.00h-1.99zM355.90 179.28h1.99v2.00h-1.99zM357.89 179.28h1.99v2.00h-1.99zM369.85 179.28h1.99v2.00h-1.99zM373.84 179.28h1.99v2.00h-1.99zM375.83 179.28h1.99v2.00h-1.99zM381.81 179.28h1.99v2.00h-1.99zM393.77 179.28h1.99v2.00h-1.99zM397.76 179.28h1.99v2.00h-1.99zM324.00 181.29h1.99v2.00h-1.99zM335.96 181.29h1.99v2.00h-1.99zM339.95 181.29h1.99v2.00h-1.99zM349.92 181.29h1.99v2.00h-1.99zM353.90 181.29h1.99v2.00h-1.99zM355.90 181.29h1.99v2.00h-1.99zM373.84 181.29h1.99v2.00h-1.99zM383.81 181.29h1.99v2.00h-1.99zM397.76 181.29h1.99v2.00h-1.99zM399.75 181.29h1.99v2.00h-1.99zM425.67 181.29h1.99v2.00h-1.99zM324.00 183.29h1.99v2.00h-1.99zM327.99 183.29h1.99v2.00h-1.99zM335.96 183.29h1.99v2.00h-1.99zM339.95 183.29h1.99v2.00h-1.99zM349.92 183.29h1.99v2.00h-1.99zM367.86 183.29h1.99v2.00h-1.99zM381.81 183.29h1.99v2.00h-1.99zM385.80 183.29h1.99v2.00h-1.99zM397.76 183.29h1.99v2.00h-1.99zM339.95 185.29h1.99v2.00h-1.99zM349.92 185.29h1.99v2.00h-1.99zM351.91 185.29h1.99v2.00h-1.99zM353.90 185.29h1.99v2.00h-1.99zM355.90 185.29h1.99v2.00h-1.99zM363.87 185.29h1.99v2.00h-1.99zM381.81 185.29h1.99v2.00h-1.99zM385.80 185.29h1.99v2.00h-1.99zM399.75 185.29h1.99v2.00h-1.99zM331.97 187.30h1.99v2.00h-1.99zM343.94 187.30h1.99v2.00h-1.99zM365.86 187.30h1.99v2.00h-1.99zM379.82 187.30h1.99v2.00h-1.99zM385.80 187.30h1.99v2.00h-1.99zM397.76 187.30h1.99v2.00h-1.99zM355.90 189.30h1.99v2.00h-1.99zM365.86 189.30h1.99v2.00h-1.99zM373.84 189.30h1.99v2.00h-1.99zM375.83 189.30h1.99v2.00h-1.99zM385.80 189.30h1.99v2.00h-1.99zM399.75 189.30h1.99v2.00h-1.99zM425.67 189.30h1.99v2.00h-1.99zM325.99 191.30h1.99v2.00h-1.99zM357.89 191.30h1.99v2.00h-1.99zM373.84 191.30h1.99v2.00h-1.99zM379.82 191.30h1.99v2.00h-1.99zM381.81 191.30h1.99v2.00h-1.99zM385.80 191.30h1.99v2.00h-1.99zM389.79 191.30h1.99v2.00h-1.99zM393.77 191.30h1.99v2.00h-1.99zM397.76 191.30h1.99v2.00h-1.99zM325.99 193.31h1.99v2.00h-1.99zM327.99 193.31h1.99v2.00h-1.99zM333.97 193.31h1.99v2.00h-1.99zM335.96 193.31h1.99v2.00h-1.99zM339.95 193.31h1.99v2.00h-1.99zM349.92 193.31h1.99v2.00h-1.99zM357.89 193.31h1.99v2.00h-1.99zM365.86 193.31h1.99v2.00h-1.99zM373.84 193.31h1.99v2.00h-1.99zM379.82 193.31h1.99v2.00h-1.99zM381.81 193.31h1.99v2.00h-1.99zM385.80 193.31h1.99v2.00h-1.99zM397.76 193.31h1.99v2.00h-1.99zM333.97 195.31h1.99v2.00h-1.99zM339.95 195.31h1.99v2.00h-1.99zM345.93 195.31h1.99v2.00h-1.99zM365.86 195.31h1.99v2.00h-1.99zM373.84 195.31h1.99v2.00h-1.99zM375.83 195.31h1.99v2.00h-1.99zM397.76 195.31h1.99v2.00h-1.99zM399.75 195.31h1.99v2.00h-1.99zM339.95 197.32h1.99v2.00h-1.99zM343.94 197.32h1.99v2.00h-1.99zM345.93 197.32h1.99v2.00h-1.99zM365.86 197.32h1.99v2.00h-1.99zM375.83 197.32h1.99v2.00h-1.99zM397.76 197.32h1.99v2.00h-1.99zM399.75 197.32h1.99v2.00h-1.99zM425.67 197.32h1.99v2.00h-1.99zM427.66 197.32h1.99v2.00h-1.99zM324.00 199.32h1.99v2.00h-1.99zM327.99 199.32h1.99v2.00h-1.99zM345.93 199.32h1.99v2.00h-1.99zM351.91 199.32h1.99v2.00h-1.99zM367.86 199.32h1.99v2.00h-1.99zM369.85 199.32h1.99v2.00h-1.99zM373.84 199.32h1.99v2.00h-1.99zM375.83 199.32h1.99v2.00h-1.99zM377.83 199.32h1.99v2.00h-1.99zM381.81 199.32h1.99v2.00h-1.99zM393.77 199.32h1.99v2.00h-1.99zM399.75 199.32h1.99v2.00h-1.99zM327.99 201.32h1.99v2.00h-1.99zM337.95 201.32h1.99v2.00h-1.99zM341.94 201.32h1.99v2.00h-1.99zM343.94 201.32h1.99v2.00h-1.99zM345.93 201.32h1.99v2.00h-1.99zM347.92 201.32h1.99v2.00h-1.99zM349.92 201.32h1.99v2.00h-1.99zM369.85 201.32h1.99v2.00h-1.99zM373.84 201.32h1.99v2.00h-1.99zM375.83 201.32h1.99v2.00h-1.99zM381.81 201.32h1.99v2.00h-1.99zM397.76 201.32h1.99v2.00h-1.99zM343.94 203.33h1.99v2.00h-1.99zM345.93 203.33h1.99v2.00h-1.99zM347.92 203.33h1.99v2.00h-1.99zM351.91 203.33h1.99v2.00h-1.99zM363.87 203.33h1.99v2.00h-1.99zM371.85 203.33h1.99v2.00h-1.99zM373.84 203.33h1.99v2.00h-1.99zM381.81 203.33h1.99v2.00h-1.99zM397.76 203.33h1.99v2.00h-1.99zM399.75 203.33h1.99v2.00h-1.99zM441.62 203.33h1.99v2.00h-1.99zM331.97 205.33h1.99v2.00h-1.99zM343.94 205.33h1.99v2.00h-1.99zM345.93 205.33h1.99v2.00h-1.99zM347.92 205.33h1.99v2.00h-1.99zM349.92 205.33h1.99v2.00h-1.99zM363.87 205.33h1.99v2.00h-1.99zM373.84 205.33h1.99v2.00h-1.99zM381.81 205.33h1.99v2.00h-1.99zM397.76 205.33h1.99v2.00h-1.99zM399.75 205.33h1.99v2.00h-1.99zM415.70 205.33h1.99v2.00h-1.99zM345.93 207.33h1.99v2.00h-1.99zM349.92 207.33h1.99v2.00h-1.99zM373.84 207.33h1.99v2.00h-1.99zM375.83 207.33h1.99v2.00h-1.99zM381.81 207.33h1.99v2.00h-1.99zM383.81 207.33h1.99v2.00h-1.99zM395.77 207.33h1.99v2.00h-1.99zM399.75 207.33h1.99v2.00h-1.99zM324.00 209.34h1.99v2.00h-1.99zM349.92 209.34h1.99v2.00h-1.99zM359.88 209.34h1.99v2.00h-1.99zM375.83 209.34h1.99v2.00h-1.99zM377.83 209.34h1.99v2.00h-1.99zM379.82 209.34h1.99v2.00h-1.99zM381.81 209.34h1.99v2.00h-1.99zM383.81 209.34h1.99v2.00h-1.99zM395.77 209.34h1.99v2.00h-1.99zM397.76 209.34h1.99v2.00h-1.99zM399.75 209.34h1.99v2.00h-1.99zM351.91 211.34h1.99v2.00h-1.99zM361.88 211.34h1.99v2.00h-1.99zM375.83 211.34h1.99v2.00h-1.99zM377.83 211.34h1.99v2.00h-1.99zM381.81 211.34h1.99v2.00h-1.99zM383.81 211.34h1.99v2.00h-1.99zM399.75 211.34h1.99v2.00h-1.99zM421.68 211.34h1.99v2.00h-1.99zM427.66 211.34h1.99v2.00h-1.99zM429.66 211.34h1.99v2.00h-1.99zM431.65 211.34h1.99v2.00h-1.99zM433.65 211.34h1.99v2.00h-1.99zM324.00 213.34h1.99v2.00h-1.99zM325.99 213.34h1.99v2.00h-1.99zM365.86 213.34h1.99v2.00h-1.99zM373.84 213.34h1.99v2.00h-1.99zM377.83 213.34h1.99v2.00h-1.99zM381.81 213.34h1.99v2.00h-1.99zM383.81 213.34h1.99v2.00h-1.99zM385.80 213.34h1.99v2.00h-1.99zM399.75 213.34h1.99v2.00h-1.99zM407.73 213.34h1.99v2.00h-1.99zM423.68 213.34h1.99v2.00h-1.99zM324.00 215.35h1.99v2.00h-1.99zM339.95 215.35h1.99v2.00h-1.99zM351.91 215.35h1.99v2.00h-1.99zM353.90 215.35h1.99v2.00h-1.99zM365.86 215.35h1.99v2.00h-1.99zM377.83 215.35h1.99v2.00h-1.99zM379.82 215.35h1.99v2.00h-1.99zM383.81 215.35h1.99v2.00h-1.99zM389.79 215.35h1.99v2.00h-1.99zM339.95 217.35h1.99v2.00h-1.99zM355.90 217.35h1.99v2.00h-1.99zM361.88 217.35h1.99v2.00h-1.99zM365.86 217.35h1.99v2.00h-1.99zM373.84 217.35h1.99v2.00h-1.99zM377.83 217.35h1.99v2.00h-1.99zM385.80 217.35h1.99v2.00h-1.99zM389.79 217.35h1.99v2.00h-1.99zM397.76 217.35h1.99v2.00h-1.99zM399.75 217.35h1.99v2.00h-1.99zM329.98 219.36h1.99v2.00h-1.99zM339.95 219.36h1.99v2.00h-1.99zM365.86 219.36h1.99v2.00h-1.99zM375.83 219.36h1.99v2.00h-1.99zM377.83 219.36h1.99v2.00h-1.99zM397.76 219.36h1.99v2.00h-1.99zM329.98 221.36h1.99v2.00h-1.99zM363.87 221.36h1.99v2.00h-1.99zM365.86 221.36h1.99v2.00h-1.99zM373.84 221.36h1.99v2.00h-1.99zM375.83 221.36h1.99v2.00h-1.99zM377.83 221.36h1.99v2.00h-1.99zM399.75 221.36h1.99v2.00h-1.99zM365.86 223.36h1.99v2.00h-1.99zM373.84 223.36h1.99v2.00h-1.99zM375.83 223.36h1.99v2.00h-1.99zM377.83 223.36h1.99v2.00h-1.99zM379.82 223.36h1.99v2.00h-1.99zM381.81 223.36h1.99v2.00h-1.99zM397.76 223.36h1.99v2.00h-1.99zM399.75 223.36h1.99v2.00h-1.99zM423.68 223.36h1.99v2.00h-1.99zM425.67 223.36h1.99v2.00h-1.99zM329.98 225.37h1.99v2.00h-1.99zM365.86 225.37h1.99v2.00h-1.99zM373.84 225.37h1.99v2.00h-1.99zM377.83 225.37h1.99v2.00h-1.99zM379.82 225.37h1.99v2.00h-1.99zM381.81 225.37h1.99v2.00h-1.99zM389.79 225.37h1.99v2.00h-1.99zM397.76 225.37h1.99v2.00h-1.99zM399.75 225.37h1.99v2.00h-1.99zM357.89 227.37h1.99v2.00h-1.99zM373.84 227.37h1.99v2.00h-1.99zM383.81 227.37h1.99v2.00h-1.99zM399.75 227.37h1.99v2.00h-1.99zM349.92 229.37h1.99v2.00h-1.99zM367.86 229.37h1.99v2.00h-1.99zM397.76 229.37h1.99v2.00h-1.99zM399.75 229.37h1.99v2.00h-1.99zM324.00 231.38h1.99v2.00h-1.99zM327.99 231.38h1.99v2.00h-1.99zM335.96 231.38h1.99v2.00h-1.99zM349.92 231.38h1.99v2.00h-1.99zM373.84 231.38h1.99v2.00h-1.99zM379.82 231.38h1.99v2.00h-1.99zM393.77 231.38h1.99v2.00h-1.99zM397.76 231.38h1.99v2.00h-1.99zM399.75 231.38h1.99v2.00h-1.99zM325.99 233.38h1.99v2.00h-1.99zM335.96 233.38h1.99v2.00h-1.99zM357.89 233.38h1.99v2.00h-1.99zM377.83 233.38h1.99v2.00h-1.99zM379.82 233.38h1.99v2.00h-1.99zM397.76 233.38h1.99v2.00h-1.99zM399.75 233.38h1.99v2.00h-1.99zM327.99 235.39h1.99v2.00h-1.99zM353.90 235.39h1.99v2.00h-1.99zM365.86 235.39h1.99v2.00h-1.99zM377.83 235.39h1.99v2.00h-1.99zM379.82 235.39h1.99v2.00h-1.99zM381.81 235.39h1.99v2.00h-1.99zM399.75 235.39h1.99v2.00h-1.99zM327.99 237.39h1.99v2.00h-1.99zM329.98 237.39h1.99v2.00h-1.99zM353.90 237.39h1.99v2.00h-1.99zM377.83 237.39h1.99v2.00h-1.99zM379.82 237.39h1.99v2.00h-1.99zM381.81 237.39h1.99v2.00h-1.99zM383.81 237.39h1.99v2.00h-1.99zM397.76 237.39h1.99v2.00h-1.99zM399.75 237.39h1.99v2.00h-1.99zM327.99 239.39h1.99v2.00h-1.99zM329.98 239.39h1.99v2.00h-1.99zM349.92 239.39h1.99v2.00h-1.99zM351.91 239.39h1.99v2.00h-1.99zM357.89 239.39h1.99v2.00h-1.99zM363.87 239.39h1.99v2.00h-1.99zM379.82 239.39h1.99v2.00h-1.99zM381.81 239.39h1.99v2.00h-1.99zM383.81 239.39h1.99v2.00h-1.99zM399.75 239.39h1.99v2.00h-1.99zM327.99 241.40h1.99v2.00h-1.99zM329.98 241.40h1.99v2.00h-1.99zM331.97 241.40h1.99v2.00h-1.99zM353.90 241.40h1.99v2.00h-1.99zM357.89 241.40h1.99v2.00h-1.99zM363.87 241.40h1.99v2.00h-1.99zM365.86 241.40h1.99v2.00h-1.99zM373.84 241.40h1.99v2.00h-1.99zM375.83 241.40h1.99v2.00h-1.99zM379.82 241.40h1.99v2.00h-1.99zM383.81 241.40h1.99v2.00h-1.99zM397.76 241.40h1.99v2.00h-1.99zM399.75 241.40h1.99v2.00h-1.99z"/>
</g>
<g shape-rendering="crispEdges" filter="url(#bl)">
<path fill="#e2141a" d="M303.6 25.00h5.60v1.70h-5.60zM303.6 26.70h5.60v1.70h-5.60zM303.6 28.40h5.60v1.70h-5.60zM303.6 31.80h5.60v1.70h-5.60zM303.6 33.50h5.60v1.70h-5.60zM303.6 35.20h5.60v1.70h-5.60zM303.6 38.60h5.60v1.70h-5.60zM303.6 48.80h5.60v1.70h-5.60zM303.6 50.50h5.60v1.70h-5.60zM303.6 52.20h5.60v1.70h-5.60zM303.6 67.50h5.60v1.70h-5.60zM303.6 70.90h5.60v1.70h-5.60zM303.6 72.60h5.60v1.70h-5.60zM303.6 74.30h5.60v1.70h-5.60zM303.6 76.00h5.60v1.70h-5.60zM303.6 81.10h5.60v1.70h-5.60zM303.6 82.80h5.60v1.70h-5.60zM303.6 84.50h5.60v1.70h-5.60zM303.6 86.20h5.60v1.70h-5.60zM303.6 87.90h5.60v1.70h-5.60zM303.6 89.60h5.60v1.70h-5.60zM303.6 93.00h5.60v1.70h-5.60zM303.6 94.70h5.60v1.70h-5.60zM303.6 111.70h5.60v1.70h-5.60zM303.6 115.10h5.60v1.70h-5.60zM303.6 118.50h5.60v1.70h-5.60zM303.6 121.90h5.60v1.70h-5.60zM303.6 123.60h5.60v1.70h-5.60zM303.6 127.00h5.60v1.70h-5.60zM303.6 130.40h5.60v1.70h-5.60zM303.6 152.50h5.60v1.70h-5.60zM303.6 157.60h5.60v1.70h-5.60zM309.2 167.80h5.50v1.70h-5.50zM309.2 171.20h5.50v1.70h-5.50zM309.2 172.90h5.50v1.70h-5.50zM303.6 176.30h5.60v1.70h-5.60zM309.2 178.00h5.50v1.70h-5.50zM309.2 184.80h5.50v1.70h-5.50zM309.2 188.20h5.50v1.70h-5.50zM309.2 201.80h5.50v1.70h-5.50zM309.2 203.50h5.50v1.70h-5.50zM309.2 205.20h5.50v1.70h-5.50zM309.2 206.90h5.50v1.70h-5.50zM309.2 210.30h5.50v1.70h-5.50zM309.2 213.70h5.50v1.70h-5.50zM309.2 215.40h5.50v1.70h-5.50zM309.2 217.10h5.50v1.70h-5.50zM309.2 218.80h5.50v1.70h-5.50zM309.2 220.50h5.50v1.70h-5.50zM309.2 223.90h5.50v1.70h-5.50zM309.2 227.30h5.50v1.70h-5.50zM309.2 229.00h5.50v1.70h-5.50zM309.2 230.70h5.50v1.70h-5.50zM309.2 232.40h5.50v1.70h-5.50zM309.2 234.10h5.50v1.70h-5.50zM309.2 237.50h5.50v1.70h-5.50zM309.2 239.20h5.50v1.70h-5.50zM309.2 242.60h5.50v0.80h-5.50z"/>
<path fill="#2828e1" d="M309.2 25.00h5.50v1.70h-5.50zM309.2 31.80h5.50v1.70h-5.50zM309.2 35.20h5.50v1.70h-5.50zM309.2 36.90h5.50v1.70h-5.50zM309.2 38.60h5.50v1.70h-5.50zM309.2 40.30h5.50v1.70h-5.50zM309.2 43.70h5.50v1.70h-5.50zM309.2 45.40h5.50v1.70h-5.50zM309.2 47.10h5.50v1.70h-5.50zM309.2 48.80h5.50v1.70h-5.50zM309.2 50.50h5.50v1.70h-5.50zM309.2 52.20h5.50v1.70h-5.50zM309.2 59.00h5.50v1.70h-5.50zM309.2 60.70h5.50v1.70h-5.50zM309.2 62.40h5.50v1.70h-5.50zM309.2 65.80h5.50v1.70h-5.50zM309.2 69.20h5.50v1.70h-5.50zM309.2 70.90h5.50v1.70h-5.50zM309.2 72.60h5.50v1.70h-5.50zM309.2 76.00h5.50v1.70h-5.50zM309.2 77.70h5.50v1.70h-5.50zM309.2 79.40h5.50v1.70h-5.50zM309.2 81.10h5.50v1.70h-5.50zM309.2 82.80h5.50v1.70h-5.50zM309.2 84.50h5.50v1.70h-5.50zM309.2 87.90h5.50v1.70h-5.50zM309.2 91.30h5.50v1.70h-5.50zM309.2 93.00h5.50v1.70h-5.50zM309.2 98.10h5.50v1.70h-5.50zM309.2 101.50h5.50v1.70h-5.50zM309.2 103.20h5.50v1.70h-5.50zM309.2 108.30h5.50v1.70h-5.50zM309.2 110.00h5.50v1.70h-5.50zM309.2 113.40h5.50v1.70h-5.50zM309.2 115.10h5.50v1.70h-5.50zM309.2 121.90h5.50v1.70h-5.50zM309.2 125.30h5.50v1.70h-5.50zM309.2 128.70h5.50v1.70h-5.50zM309.2 147.40h5.50v1.70h-5.50zM309.2 154.20h5.50v1.70h-5.50zM303.6 161.00h5.60v1.70h-5.60zM303.6 166.10h5.60v1.70h-5.60zM303.6 179.70h5.60v1.70h-5.60zM303.6 183.10h5.60v1.70h-5.60zM303.6 186.50h5.60v1.70h-5.60zM303.6 188.20h5.60v1.70h-5.60zM303.6 191.60h5.60v1.70h-5.60zM303.6 193.30h5.60v1.70h-5.60zM303.6 195.00h5.60v1.70h-5.60zM303.6 201.80h5.60v1.70h-5.60zM303.6 203.50h5.60v1.70h-5.60zM303.6 205.20h5.60v1.70h-5.60zM303.6 206.90h5.60v1.70h-5.60zM303.6 208.60h5.60v1.70h-5.60zM303.6 210.30h5.60v1.70h-5.60zM303.6 212.00h5.60v1.70h-5.60zM303.6 213.70h5.60v1.70h-5.60zM303.6 215.40h5.60v1.70h-5.60zM303.6 217.10h5.60v1.70h-5.60zM303.6 218.80h5.60v1.70h-5.60zM303.6 220.50h5.60v1.70h-5.60zM303.6 222.20h5.60v1.70h-5.60zM303.6 223.90h5.60v1.70h-5.60zM303.6 225.60h5.60v1.70h-5.60zM303.6 230.70h5.60v1.70h-5.60zM303.6 232.40h5.60v1.70h-5.60zM303.6 234.10h5.60v1.70h-5.60zM303.6 235.80h5.60v1.70h-5.60zM303.6 237.50h5.60v1.70h-5.60zM303.6 239.20h5.60v1.70h-5.60zM303.6 240.90h5.60v1.70h-5.60zM303.6 242.60h5.60v0.80h-5.60z"/>
<path fill="#d0d4fa" d="M309.2 26.70h5.50v1.70h-5.50zM309.2 135.50h5.50v1.70h-5.50zM303.6 147.40h5.60v1.70h-5.60zM303.6 155.90h5.60v1.70h-5.60zM309.2 159.30h5.50v1.70h-5.50zM303.6 164.40h5.60v1.70h-5.60zM303.6 172.90h5.60v1.70h-5.60zM309.2 181.40h5.50v1.70h-5.50z"/>
<path fill="#6e70ee" d="M309.2 28.40h5.50v1.70h-5.50zM309.2 30.10h5.50v1.70h-5.50zM309.2 42.00h5.50v1.70h-5.50zM309.2 55.60h5.50v1.70h-5.50zM309.2 57.30h5.50v1.70h-5.50zM309.2 64.10h5.50v1.70h-5.50zM309.2 67.50h5.50v1.70h-5.50zM309.2 74.30h5.50v1.70h-5.50zM309.2 89.60h5.50v1.70h-5.50zM309.2 99.80h5.50v1.70h-5.50zM309.2 106.60h5.50v1.70h-5.50zM309.2 111.70h5.50v1.70h-5.50zM309.2 116.80h5.50v1.70h-5.50zM309.2 118.50h5.50v1.70h-5.50zM309.2 120.20h5.50v1.70h-5.50zM309.2 127.00h5.50v1.70h-5.50zM309.2 130.40h5.50v1.70h-5.50zM309.2 133.80h5.50v1.70h-5.50zM309.2 138.90h5.50v1.70h-5.50zM309.2 140.60h5.50v1.70h-5.50zM309.2 149.10h5.50v1.70h-5.50zM303.6 154.20h5.60v1.70h-5.60zM303.6 159.30h5.60v1.70h-5.60zM303.6 169.50h5.60v1.70h-5.60zM303.6 171.20h5.60v1.70h-5.60zM303.6 178.00h5.60v1.70h-5.60zM303.6 196.70h5.60v1.70h-5.60zM303.6 200.10h5.60v1.70h-5.60zM303.6 227.30h5.60v1.70h-5.60zM303.6 229.00h5.60v1.70h-5.60z"/>
<path fill="#ee5054" d="M303.6 30.10h5.60v1.70h-5.60zM303.6 36.90h5.60v1.70h-5.60zM303.6 42.00h5.60v1.70h-5.60zM303.6 43.70h5.60v1.70h-5.60zM303.6 57.30h5.60v1.70h-5.60zM303.6 60.70h5.60v1.70h-5.60zM303.6 62.40h5.60v1.70h-5.60zM303.6 65.80h5.60v1.70h-5.60zM303.6 79.40h5.60v1.70h-5.60zM303.6 91.30h5.60v1.70h-5.60zM303.6 96.40h5.60v1.70h-5.60zM303.6 98.10h5.60v1.70h-5.60zM303.6 99.80h5.60v1.70h-5.60zM303.6 101.50h5.60v1.70h-5.60zM303.6 103.20h5.60v1.70h-5.60zM303.6 104.90h5.60v1.70h-5.60zM303.6 106.60h5.60v1.70h-5.60zM303.6 108.30h5.60v1.70h-5.60zM303.6 110.00h5.60v1.70h-5.60zM303.6 113.40h5.60v1.70h-5.60zM303.6 116.80h5.60v1.70h-5.60zM303.6 120.20h5.60v1.70h-5.60zM303.6 128.70h5.60v1.70h-5.60zM303.6 132.10h5.60v1.70h-5.60zM303.6 138.90h5.60v1.70h-5.60zM303.6 144.00h5.60v1.70h-5.60zM303.6 149.10h5.60v1.70h-5.60zM309.2 164.40h5.50v1.70h-5.50zM309.2 166.10h5.50v1.70h-5.50zM309.2 174.60h5.50v1.70h-5.50zM309.2 179.70h5.50v1.70h-5.50zM309.2 189.90h5.50v1.70h-5.50zM309.2 191.60h5.50v1.70h-5.50zM309.2 193.30h5.50v1.70h-5.50zM309.2 196.70h5.50v1.70h-5.50zM309.2 200.10h5.50v1.70h-5.50zM309.2 208.60h5.50v1.70h-5.50zM309.2 212.00h5.50v1.70h-5.50zM309.2 222.20h5.50v1.70h-5.50zM309.2 225.60h5.50v1.70h-5.50zM309.2 235.80h5.50v1.70h-5.50zM309.2 240.90h5.50v1.70h-5.50z"/>
<path fill="#a8acf4" d="M309.2 33.50h5.50v1.70h-5.50zM309.2 53.90h5.50v1.70h-5.50zM309.2 86.20h5.50v1.70h-5.50zM309.2 94.70h5.50v1.70h-5.50zM309.2 96.40h5.50v1.70h-5.50zM309.2 104.90h5.50v1.70h-5.50zM309.2 123.60h5.50v1.70h-5.50zM309.2 132.10h5.50v1.70h-5.50zM303.6 140.60h5.60v1.70h-5.60zM309.2 144.00h5.50v1.70h-5.50zM309.2 145.70h5.50v1.70h-5.50zM303.6 150.80h5.60v1.70h-5.60zM309.2 152.50h5.50v1.70h-5.50zM309.2 155.90h5.50v1.70h-5.50zM303.6 162.70h5.60v1.70h-5.60zM303.6 167.80h5.60v1.70h-5.60zM309.2 183.10h5.50v1.70h-5.50zM309.2 186.50h5.50v1.70h-5.50zM309.2 195.00h5.50v1.70h-5.50zM303.6 198.40h5.60v1.70h-5.60z"/>
<path fill="#fde8ec" d="M303.6 40.30h5.60v1.70h-5.60zM303.6 135.50h5.60v1.70h-5.60zM309.2 150.80h5.50v1.70h-5.50zM309.2 162.70h5.50v1.70h-5.50zM309.2 169.50h5.50v1.70h-5.50zM303.6 174.60h5.60v1.70h-5.60zM303.6 181.40h5.60v1.70h-5.60zM303.6 184.80h5.60v1.70h-5.60z"/>
<path fill="#f8aaaf" d="M303.6 45.40h5.60v1.70h-5.60zM303.6 47.10h5.60v1.70h-5.60zM303.6 53.90h5.60v1.70h-5.60zM303.6 55.60h5.60v1.70h-5.60zM303.6 59.00h5.60v1.70h-5.60zM303.6 69.20h5.60v1.70h-5.60zM303.6 77.70h5.60v1.70h-5.60zM303.6 125.30h5.60v1.70h-5.60zM303.6 137.20h5.60v1.70h-5.60zM309.2 137.20h5.50v1.70h-5.50zM303.6 142.30h5.60v1.70h-5.60zM309.2 142.30h5.50v1.70h-5.50zM309.2 176.30h5.50v1.70h-5.50z"/>
<path fill="#f7f7ff" d="M303.6 64.10h5.60v1.70h-5.60zM303.6 133.80h5.60v1.70h-5.60zM303.6 145.70h5.60v1.70h-5.60zM309.2 157.60h5.50v1.70h-5.50zM309.2 161.00h5.50v1.70h-5.50zM303.6 189.90h5.60v1.70h-5.60zM309.2 198.40h5.50v1.70h-5.50z"/>
</g>
<path d="M306 24.5V16.7H311.6V24.5" fill="none" stroke="#999" stroke-width="0.8"/>
<rect x="324" y="20.9" width="36" height="3.8" fill="#5b9bd0" />
<rect x="360" y="20.9" width="5" height="3.8" fill="#7fa84c" />
<rect x="365" y="20.9" width="9.300000000000011" height="3.8" fill="#5b9bd0" />
<rect x="374.3" y="20.9" width="14.699999999999989" height="3.8" fill="#7fa84c" />
<rect x="389" y="20.9" width="11.600000000000023" height="3.8" fill="#f4a553" />
<rect x="400.6" y="20.9" width="18.0" height="3.8" fill="#2a5c86" />
<rect x="418.6" y="20.9" width="6.399999999999977" height="3.8" fill="#f4a553" />
<rect x="425" y="20.9" width="22.600000000000023" height="3.8" fill="#2a5c86" />
<line x1="362.5" y1="2.2" x2="424.6" y2="2.2" stroke="#8c8c8c" stroke-width="1.0"/>
<line x1="395.7" y1="2.2" x2="395.7" y2="12" stroke="#bdbdbd" stroke-width="0.7"/>
<line x1="325.0" y1="17.8" x2="325.0" y2="20.8" stroke="#c8c8c8" stroke-width="0.75"/>
<line x1="328.8" y1="17.8" x2="328.8" y2="20.8" stroke="#c8c8c8" stroke-width="0.75"/>
<line x1="330.7" y1="18.8" x2="330.7" y2="20.8" stroke="#c8c8c8" stroke-width="0.75"/>
<line x1="334.5" y1="16.8" x2="334.5" y2="20.8" stroke="#c8c8c8" stroke-width="0.75"/>
<line x1="336.4" y1="19.3" x2="336.4" y2="20.8" stroke="#b8b8b8" stroke-width="0.75"/>
<line x1="339.0" y1="18.8" x2="339.0" y2="20.8" stroke="#a8a8a8" stroke-width="0.75"/>
<line x1="340.9" y1="17.3" x2="340.9" y2="20.8" stroke="#b8b8b8" stroke-width="0.75"/>
<line x1="344.7" y1="16.8" x2="344.7" y2="20.8" stroke="#c8c8c8" stroke-width="0.75"/>
<line x1="346.6" y1="17.3" x2="346.6" y2="20.8" stroke="#a8a8a8" stroke-width="0.75"/>
<line x1="348.5" y1="19.3" x2="348.5" y2="20.8" stroke="#a8a8a8" stroke-width="0.75"/>
<line x1="350.4" y1="18.8" x2="350.4" y2="20.8" stroke="#c8c8c8" stroke-width="0.75"/>
<line x1="352.3" y1="17.8" x2="352.3" y2="20.8" stroke="#b8b8b8" stroke-width="0.75"/>
<line x1="356.1" y1="17.3" x2="356.1" y2="20.8" stroke="#a8a8a8" stroke-width="0.75"/>
<line x1="358.0" y1="16.8" x2="358.0" y2="20.8" stroke="#b8b8b8" stroke-width="0.75"/>
<line x1="361.8" y1="19.3" x2="361.8" y2="20.8" stroke="#c8c8c8" stroke-width="0.75"/>
<line x1="363.7" y1="17.8" x2="363.7" y2="20.8" stroke="#c8c8c8" stroke-width="0.75"/>
<line x1="366.3" y1="17.8" x2="366.3" y2="20.8" stroke="#c8c8c8" stroke-width="0.75"/>
<line x1="368.2" y1="16.8" x2="368.2" y2="20.8" stroke="#b8b8b8" stroke-width="0.75"/>
<line x1="370.8" y1="18.8" x2="370.8" y2="20.8" stroke="#c8c8c8" stroke-width="0.75"/>
<line x1="373.4" y1="19.3" x2="373.4" y2="20.8" stroke="#a8a8a8" stroke-width="0.75"/>
<line x1="375.3" y1="17.8" x2="375.3" y2="20.8" stroke="#a8a8a8" stroke-width="0.75"/>
<line x1="377.9" y1="17.8" x2="377.9" y2="20.8" stroke="#a8a8a8" stroke-width="0.75"/>
<line x1="379.8" y1="16.8" x2="379.8" y2="20.8" stroke="#a8a8a8" stroke-width="0.75"/>
<line x1="381.7" y1="18.8" x2="381.7" y2="20.8" stroke="#a8a8a8" stroke-width="0.75"/>
<line x1="385.5" y1="17.8" x2="385.5" y2="20.8" stroke="#c8c8c8" stroke-width="0.75"/>
<line x1="389.3" y1="17.8" x2="389.3" y2="20.8" stroke="#a8a8a8" stroke-width="0.75"/>
<line x1="391.2" y1="16.8" x2="391.2" y2="20.8" stroke="#b8b8b8" stroke-width="0.75"/>
<line x1="393.8" y1="19.3" x2="393.8" y2="20.8" stroke="#b8b8b8" stroke-width="0.75"/>
<line x1="396.4" y1="19.3" x2="396.4" y2="20.8" stroke="#b8b8b8" stroke-width="0.75"/>
<line x1="398.3" y1="18.8" x2="398.3" y2="20.8" stroke="#a8a8a8" stroke-width="0.75"/>
<line x1="400.2" y1="19.3" x2="400.2" y2="20.8" stroke="#a8a8a8" stroke-width="0.75"/>
<line x1="404.0" y1="17.8" x2="404.0" y2="20.8" stroke="#a8a8a8" stroke-width="0.75"/>
<line x1="405.9" y1="17.8" x2="405.9" y2="20.8" stroke="#c8c8c8" stroke-width="0.75"/>
<line x1="407.8" y1="16.8" x2="407.8" y2="20.8" stroke="#a8a8a8" stroke-width="0.75"/>
<line x1="411.6" y1="16.8" x2="411.6" y2="20.8" stroke="#b8b8b8" stroke-width="0.75"/>
<line x1="413.5" y1="17.8" x2="413.5" y2="20.8" stroke="#b8b8b8" stroke-width="0.75"/>
<line x1="415.4" y1="19.3" x2="415.4" y2="20.8" stroke="#b8b8b8" stroke-width="0.75"/>
<line x1="418.0" y1="19.3" x2="418.0" y2="20.8" stroke="#a8a8a8" stroke-width="0.75"/>
<line x1="419.9" y1="17.8" x2="419.9" y2="20.8" stroke="#c8c8c8" stroke-width="0.75"/>
<line x1="421.8" y1="19.3" x2="421.8" y2="20.8" stroke="#a8a8a8" stroke-width="0.75"/>
<line x1="423.7" y1="17.8" x2="423.7" y2="20.8" stroke="#b8b8b8" stroke-width="0.75"/>
<line x1="425.6" y1="17.3" x2="425.6" y2="20.8" stroke="#b8b8b8" stroke-width="0.75"/>
<line x1="428.2" y1="17.8" x2="428.2" y2="20.8" stroke="#a8a8a8" stroke-width="0.75"/>
<line x1="430.1" y1="19.3" x2="430.1" y2="20.8" stroke="#a8a8a8" stroke-width="0.75"/>
<line x1="432.0" y1="19.3" x2="432.0" y2="20.8" stroke="#c8c8c8" stroke-width="0.75"/>
<line x1="434.6" y1="18.3" x2="434.6" y2="20.8" stroke="#c8c8c8" stroke-width="0.75"/>
<line x1="438.4" y1="18.8" x2="438.4" y2="20.8" stroke="#c8c8c8" stroke-width="0.75"/>
<line x1="442.2" y1="17.3" x2="442.2" y2="20.8" stroke="#a8a8a8" stroke-width="0.75"/>
<line x1="446.0" y1="18.8" x2="446.0" y2="20.8" stroke="#c8c8c8" stroke-width="0.75"/>
<line x1="331.3" y1="7.5" x2="331.3" y2="9.5" stroke="#9a9a9a" stroke-width="0.8"/>
<line x1="337.8" y1="6.2" x2="337.8" y2="8" stroke="#9a9a9a" stroke-width="0.8"/>
<line x1="356.6" y1="4.2" x2="356.6" y2="6.2" stroke="#9a9a9a" stroke-width="0.8"/>
<line x1="330" y1="11.5" x2="330" y2="13.5" stroke="#9a9a9a" stroke-width="0.8"/>
<line x1="333" y1="14" x2="333" y2="16" stroke="#9a9a9a" stroke-width="0.8"/>
<line x1="343.6" y1="13.5" x2="343.6" y2="16.5" stroke="#9a9a9a" stroke-width="0.8"/>
<line x1="350.4" y1="13.5" x2="350.4" y2="16.5" stroke="#9a9a9a" stroke-width="0.8"/>
<line x1="356.6" y1="13" x2="356.6" y2="15.5" stroke="#9a9a9a" stroke-width="0.8"/>
<line x1="363.7" y1="10" x2="363.7" y2="12" stroke="#9a9a9a" stroke-width="0.8"/>
<line x1="363.7" y1="14" x2="363.7" y2="16" stroke="#9a9a9a" stroke-width="0.8"/>
<line x1="381.9" y1="10" x2="381.9" y2="12.5" stroke="#9a9a9a" stroke-width="0.8"/>
<line x1="380.6" y1="14" x2="380.6" y2="16.5" stroke="#9a9a9a" stroke-width="0.8"/>
<line x1="386.5" y1="12" x2="386.5" y2="17" stroke="#9a9a9a" stroke-width="0.8"/>
<line x1="400.7" y1="13" x2="400.7" y2="16" stroke="#9a9a9a" stroke-width="0.8"/>
<line x1="406" y1="13" x2="406" y2="17" stroke="#9a9a9a" stroke-width="0.8"/>
<line x1="413.6" y1="9.5" x2="413.6" y2="14" stroke="#9a9a9a" stroke-width="0.8"/>
<line x1="418.6" y1="8" x2="418.6" y2="10" stroke="#9a9a9a" stroke-width="0.8"/>
<line x1="430.3" y1="10" x2="430.3" y2="16" stroke="#9a9a9a" stroke-width="0.8"/>
<line x1="438.3" y1="12" x2="438.3" y2="16" stroke="#9a9a9a" stroke-width="0.8"/>
<line x1="445.7" y1="12" x2="445.7" y2="18" stroke="#9a9a9a" stroke-width="0.8"/>
<path d="M448.8 26.5H453.5V158.7H448.8" fill="none" stroke="#111" stroke-width="1.2"/>
<path d="M448.8 160.4H453.5V243.2H448.8" fill="none" stroke="#111" stroke-width="1.2"/>
<path d="M324.5 244V248.5H401V244" fill="none" stroke="#111" stroke-width="1.2"/>
<path d="M402.3 244V248.5H447.3V244" fill="none" stroke="#111" stroke-width="1.2"/>
<text x="348.93" y="260.0" font-size="9.3" textLength="28.91" lengthAdjust="spacingAndGlyphs" font-weight="normal" fill="#111" stroke="#111" stroke-width="0.25" >LZ-like</text>
<text x="408.01" y="260.0" font-size="9.3" textLength="31.25" lengthAdjust="spacingAndGlyphs" font-weight="normal" fill="#111" stroke="#111" stroke-width="0.25" >DZ-like</text>
<text x="0" y="0" font-size="9.3" fill="#1a1a1a" transform="translate(306.0 258.6) rotate(-90)">LZ</text>
<text x="0" y="0" font-size="9.3" fill="#1a1a1a" transform="translate(317.6 258.6) rotate(-90)">DZ</text>
<text x="460.71" y="9.3" font-size="9.3" textLength="27.27" lengthAdjust="spacingAndGlyphs" font-weight="normal" fill="#111" stroke="#111" stroke-width="0.3" >GSEA</text>
<text x="460.58" y="20.8" font-size="9.3" textLength="54.47" lengthAdjust="spacingAndGlyphs" font-weight="normal" fill="#111" stroke="#111" stroke-width="0.3" >leading edge</text>
<text x="460.81" y="31.6" font-size="9.3" textLength="40.37" lengthAdjust="spacingAndGlyphs" font-weight="normal" fill="#111" stroke="#111" stroke-width="0.3" >genes of:</text>
<text x="460.43" y="74.3" font-size="9.3" textLength="38.49" lengthAdjust="spacingAndGlyphs" font-weight="normal" fill="#111" stroke="#111" stroke-width="0.3" >BASSO_</text>
<text x="460.71" y="85.8" font-size="9.3" textLength="44.17" lengthAdjust="spacingAndGlyphs" font-weight="normal" fill="#111" stroke="#111" stroke-width="0.3" >CD40_UP</text>
<text x="460.44" y="126.9" font-size="9.3" textLength="51.77" lengthAdjust="spacingAndGlyphs" font-weight="normal" fill="#111" stroke="#111" stroke-width="0.3" >DIRMEIER_</text>
<text x="460.42" y="138.6" font-size="9.3" textLength="31.09" lengthAdjust="spacingAndGlyphs" font-weight="normal" fill="#111" stroke="#111" stroke-width="0.3" >LMP1_</text>
<text x="460.42" y="150.0" font-size="9.3" textLength="31.45" lengthAdjust="spacingAndGlyphs" font-weight="normal" fill="#111" stroke="#111" stroke-width="0.3" >EARLY</text>
<text x="460.42" y="191.1" font-size="9.3" textLength="60.88" lengthAdjust="spacingAndGlyphs" font-weight="normal" fill="#111" stroke="#111" stroke-width="0.3" >REACTOME_</text>
<text x="460.42" y="202.4" font-size="9.3" textLength="40.16" lengthAdjust="spacingAndGlyphs" font-weight="normal" fill="#111" stroke="#111" stroke-width="0.3" >MITOSIS</text>
<rect x="334.6" y="274.7" width="13.4" height="8.1" fill="#5b9bd0" />
<rect x="334.6" y="286.1" width="13.4" height="8.0" fill="#2a5c86" />
<text x="351.14" y="281.7" font-size="9.3" textLength="46.05" lengthAdjust="spacingAndGlyphs" font-weight="normal" fill="#111" stroke="#111" stroke-width="0.2" >DLBCL-PT</text>
<text x="351.14" y="292.8" font-size="9.3" textLength="46.15" lengthAdjust="spacingAndGlyphs" font-weight="normal" fill="#111" stroke="#111" stroke-width="0.2" >DLBCL-CL</text>
<rect x="409.7" y="274.7" width="12.7" height="8.1" fill="#7fa84c" />
<rect x="409.7" y="286.1" width="12.7" height="8.0" fill="#f4a553" />
<text x="423.92" y="281.7" font-size="9.3" textLength="11.45" lengthAdjust="spacingAndGlyphs" font-weight="normal" fill="#111" stroke="#111" stroke-width="0.2" >FL</text>
<text x="423.92" y="292.8" font-size="9.3" textLength="12.00" lengthAdjust="spacingAndGlyphs" font-weight="normal" fill="#111" stroke="#111" stroke-width="0.2" >BL</text></svg>
</body></html>
